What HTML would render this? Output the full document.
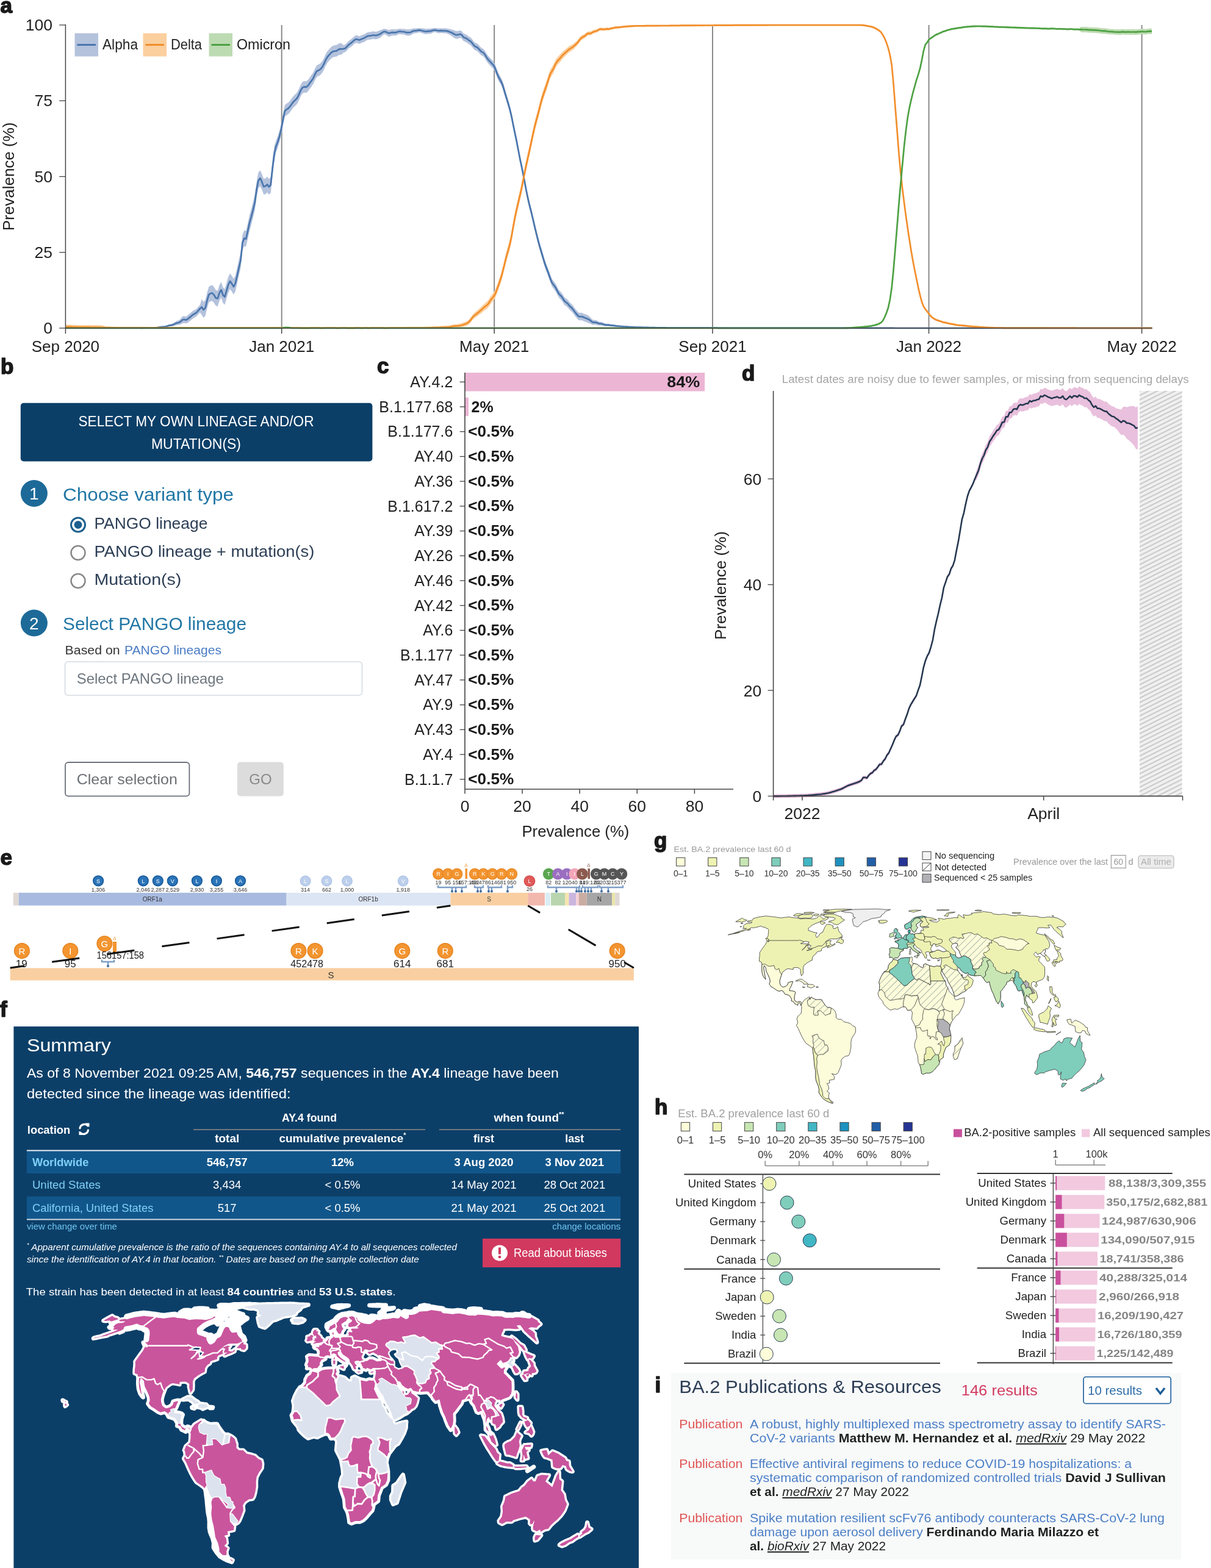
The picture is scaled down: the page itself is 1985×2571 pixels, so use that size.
<!DOCTYPE html>
<html><head><meta charset="utf-8"><title>Figure</title>
<style>
html,body{margin:0;padding:0;background:#fff;}
body{width:1985px;height:2571px;overflow:hidden;}
svg{display:block;}
text{font-family:"Liberation Sans", "DejaVu Sans", sans-serif;}
</style></head>
<body>
<svg width="1985" height="2571" viewBox="0 0 1985 2571">
<rect width="1985" height="2571" fill="#fff"/>
<line x1="461.7" y1="41.0" x2="461.7" y2="538.0" stroke="#8a8a8a" stroke-width="2" />
<line x1="810.2" y1="41.0" x2="810.2" y2="538.0" stroke="#8a8a8a" stroke-width="2" />
<line x1="1168.0" y1="41.0" x2="1168.0" y2="538.0" stroke="#8a8a8a" stroke-width="2" />
<line x1="1522.5" y1="41.0" x2="1522.5" y2="538.0" stroke="#8a8a8a" stroke-width="2" />
<line x1="1871.6" y1="41.0" x2="1871.6" y2="538.0" stroke="#8a8a8a" stroke-width="2" />
<path d="M107.4,536.3 L110.3,536.4 L113.2,536.4 L116.1,536.4 L119.0,536.4 L121.9,536.4 L124.8,536.5 L127.7,536.5 L130.6,536.4 L133.5,536.3 L136.4,536.4 L139.3,536.5 L142.2,536.5 L145.1,536.5 L148.0,536.5 L150.9,536.5 L153.8,536.5 L156.7,536.5 L159.6,536.5 L162.5,536.5 L165.4,536.5 L168.3,536.5 L171.2,536.5 L174.1,536.6 L177.0,536.6 L179.9,536.6 L182.8,536.6 L185.7,536.6 L188.6,536.6 L191.5,536.6 L194.4,536.7 L197.3,536.7 L200.2,536.7 L203.1,536.7 L206.0,536.7 L208.9,536.7 L211.8,536.8 L214.7,536.8 L217.6,536.8 L220.5,536.8 L223.4,536.8 L226.3,536.8 L229.2,536.8 L232.1,536.8 L235.0,536.8 L237.9,536.8 L240.8,536.8 L243.7,536.8 L246.6,536.8 L249.5,536.8 L252.4,536.7 L255.3,536.5 L258.2,536.1 L261.1,535.6 L264.0,535.3 L266.9,534.9 L269.8,534.4 L272.7,533.9 L275.6,532.6 L278.5,531.5 L281.4,531.0 L284.3,529.7 L287.2,527.7 L290.1,525.9 L293.0,525.3 L295.9,523.1 L298.8,519.0 L301.7,517.9 L304.6,519.2 L307.5,517.2 L310.4,514.6 L313.3,512.3 L316.2,509.7 L319.1,508.3 L322.0,506.4 L324.9,503.2 L327.8,499.8 L330.7,490.6 L333.6,495.0 L336.5,492.1 L339.4,480.1 L342.3,470.2 L345.2,468.3 L348.1,467.6 L351.0,471.1 L353.9,475.7 L356.8,476.5 L359.7,467.2 L362.6,462.4 L365.5,470.9 L368.4,473.9 L371.3,464.0 L374.2,454.1 L377.1,448.2 L380.0,452.2 L382.9,457.2 L385.8,451.9 L388.7,439.1 L391.6,426.2 L394.5,413.6 L397.4,385.4 L400.3,377.6 L403.2,378.8 L406.1,366.2 L409.0,352.6 L411.9,342.4 L414.8,331.2 L417.7,319.1 L420.6,297.9 L423.5,283.1 L426.4,279.3 L429.3,285.3 L432.2,293.0 L435.1,292.5 L438.0,289.6 L440.9,293.5 L443.8,290.1 L446.7,262.5 L449.6,239.6 L452.5,230.3 L455.4,223.1 L458.3,213.5 L461.2,201.4 L464.1,185.2 L467.0,172.3 L469.9,169.8 L472.8,168.0 L475.7,164.7 L478.6,160.4 L481.5,156.9 L484.4,154.3 L487.3,151.0 L490.2,145.2 L493.1,138.5 L496.0,134.0 L498.9,132.9 L501.8,133.3 L504.7,131.2 L507.6,126.9 L510.5,123.1 L513.4,119.0 L516.3,112.5 L519.2,107.3 L522.1,105.8 L525.0,104.1 L527.9,100.8 L530.8,95.8 L533.7,89.1 L536.6,84.1 L539.5,80.7 L542.4,77.5 L545.3,75.2 L548.2,74.3 L551.1,74.1 L554.0,72.3 L556.9,70.8 L559.8,70.8 L562.7,73.9 L565.6,73.2 L568.5,70.6 L571.4,67.2 L574.3,65.2 L577.2,62.8 L580.1,60.2 L583.0,58.1 L585.9,58.2 L588.8,59.5 L591.7,58.3 L594.6,57.0 L597.5,56.0 L600.4,54.0 L603.3,52.7 L606.2,52.5 L609.1,52.1 L612.0,51.3 L614.9,51.9 L617.8,51.7 L620.7,50.6 L623.6,49.5 L626.5,48.2 L629.4,47.3 L632.3,47.4 L635.2,48.4 L638.1,48.9 L641.0,48.3 L643.9,48.1 L646.8,48.2 L649.7,48.0 L652.6,47.4 L655.5,47.1 L658.4,47.4 L661.3,47.4 L664.2,47.8 L667.1,48.3 L670.0,48.2 L672.9,48.0 L675.8,47.1 L678.7,46.5 L681.6,46.5 L684.5,46.2 L687.4,45.9 L690.3,46.3 L693.2,46.6 L696.1,47.1 L699.0,47.2 L701.9,46.9 L704.8,46.9 L707.7,46.5 L710.6,46.0 L713.5,45.8 L716.4,46.2 L719.3,46.5 L722.2,46.4 L725.1,46.4 L728.0,46.5 L730.9,46.6 L733.8,46.9 L736.7,47.5 L739.6,48.2 L742.5,49.1 L745.4,50.3 L748.3,51.0 L751.2,50.8 L754.1,49.7 L757.0,51.2 L759.9,55.0 L762.8,56.1 L765.7,57.6 L768.6,60.0 L771.5,61.6 L774.4,65.0 L777.3,68.9 L780.2,70.5 L783.1,72.0 L786.0,75.2 L788.9,78.4 L791.8,79.9 L794.7,82.9 L797.6,88.1 L800.5,91.9 L803.4,95.0 L806.3,98.0 L809.2,101.0 L812.1,107.1 L815.0,115.0 L817.9,121.6 L820.8,126.3 L823.7,132.4 L826.6,142.3 L829.5,152.2 L832.4,161.4 L835.3,171.5 L838.2,183.3 L841.1,198.0 L844.0,212.1 L846.9,225.7 L849.8,241.2 L852.7,256.2 L855.6,269.6 L858.5,284.1 L861.4,299.7 L864.3,314.4 L867.2,327.4 L870.1,338.6 L873.0,350.6 L875.9,363.2 L878.8,375.2 L881.7,386.9 L884.6,397.7 L887.5,407.3 L890.4,417.1 L893.3,426.8 L896.2,434.5 L899.1,442.0 L902.0,450.4 L904.9,457.5 L907.8,461.3 L910.7,465.2 L913.6,471.1 L916.5,476.1 L919.4,478.8 L922.3,482.5 L925.2,487.4 L928.1,489.6 L931.0,492.0 L933.9,495.9 L936.8,498.2 L939.7,501.7 L942.6,505.9 L945.5,509.3 L948.4,512.6 L951.3,512.9 L954.2,512.7 L957.1,514.4 L960.0,515.3 L962.9,516.5 L965.8,518.4 L968.7,521.4 L971.6,524.5 L974.5,524.7 L977.4,524.9 L980.3,526.7 L983.2,527.7 L986.1,527.9 L989.0,529.2 L991.9,530.6 L994.8,530.7 L997.7,530.7 L1000.6,531.4 L1003.5,531.8 L1006.4,532.2 L1009.3,532.7 L1012.2,533.2 L1015.1,533.6 L1018.0,533.9 L1020.9,534.1 L1023.8,534.5 L1026.7,534.8 L1029.6,535.0 L1032.5,535.1 L1035.4,535.3 L1038.3,535.4 L1041.2,535.5 L1044.1,535.6 L1047.0,535.7 L1049.9,535.8 L1052.8,535.8 L1055.7,535.9 L1058.6,536.0 L1061.5,536.0 L1064.4,536.1 L1067.3,536.2 L1070.2,536.2 L1073.1,536.3 L1076.0,536.3 L1078.9,536.4 L1081.8,536.4 L1084.7,536.5 L1087.6,536.5 L1090.5,536.5 L1093.4,536.5 L1096.3,536.6 L1099.2,536.6 L1102.1,536.6 L1105.0,536.6 L1107.9,536.6 L1110.8,536.6 L1113.7,536.6 L1116.6,536.6 L1119.5,536.6 L1122.4,536.7 L1125.3,536.7 L1128.2,536.7 L1131.1,536.7 L1134.0,536.7 L1136.9,536.7 L1139.8,536.7 L1142.7,536.7 L1145.6,536.7 L1148.5,536.7 L1151.4,536.7 L1154.3,536.8 L1157.2,536.8 L1160.1,536.8 L1163.0,536.8 L1165.9,536.8 L1168.8,536.8 L1171.7,536.8 L1174.6,536.8 L1177.5,536.8 L1180.4,536.8 L1183.3,536.8 L1186.2,536.8 L1189.1,536.8 L1192.0,536.8 L1194.9,536.9 L1197.8,536.9 L1200.7,536.9 L1203.6,536.9 L1206.5,536.9 L1209.4,536.9 L1212.3,536.9 L1215.2,536.9 L1218.1,536.9 L1221.0,536.9 L1223.9,536.9 L1226.8,536.9 L1229.7,536.9 L1232.6,536.9 L1235.5,536.9 L1238.4,536.9 L1241.3,536.9 L1244.2,536.9 L1247.1,536.9 L1250.0,536.9 L1252.9,536.9 L1255.8,536.9 L1258.7,536.9 L1261.6,536.9 L1264.5,536.9 L1267.4,537.0 L1270.3,537.0 L1273.2,537.0 L1276.1,537.0 L1279.0,537.0 L1281.9,537.0 L1284.8,537.0 L1287.7,537.0 L1290.6,537.0 L1293.5,537.0 L1296.4,537.0 L1299.3,537.0 L1302.2,537.0 L1305.1,537.0 L1308.0,537.0 L1310.9,537.0 L1313.8,537.0 L1316.7,537.0 L1319.6,537.0 L1322.5,537.0 L1325.4,537.0 L1328.3,537.0 L1331.2,537.0 L1334.1,537.0 L1337.0,537.0 L1339.9,537.0 L1342.8,537.0 L1345.7,537.0 L1348.6,537.0 L1351.5,537.0 L1354.4,537.0 L1357.3,537.0 L1360.2,537.0 L1363.1,537.0 L1366.0,537.0 L1368.9,537.0 L1371.8,537.0 L1374.7,537.0 L1377.6,537.0 L1380.5,537.0 L1383.4,537.0 L1386.3,537.0 L1389.2,537.0 L1392.1,537.0 L1395.0,537.0 L1397.9,537.0 L1400.8,537.0 L1403.7,537.0 L1406.6,537.0 L1409.5,537.0 L1412.4,537.0 L1415.3,537.0 L1418.2,537.0 L1421.1,537.0 L1424.0,537.0 L1426.9,537.0 L1429.8,537.0 L1432.7,537.0 L1435.6,537.0 L1438.5,537.0 L1441.4,537.0 L1444.3,537.0 L1447.2,537.0 L1450.1,537.0 L1453.0,537.0 L1455.9,537.0 L1458.8,537.0 L1461.7,537.0 L1464.6,537.0 L1467.5,537.0 L1470.4,537.0 L1473.3,537.0 L1476.2,537.0 L1479.1,537.0 L1482.0,537.0 L1484.9,537.0 L1487.8,537.0 L1490.7,537.0 L1493.6,537.0 L1496.5,537.0 L1499.4,537.0 L1502.3,537.0 L1505.2,537.0 L1508.1,537.0 L1511.0,537.0 L1513.9,537.0 L1516.8,537.0 L1519.7,537.0 L1522.6,537.0 L1525.5,537.0 L1528.4,537.0 L1531.3,537.0 L1534.2,537.0 L1537.1,537.0 L1540.0,537.0 L1542.9,537.0 L1545.8,537.0 L1548.7,537.0 L1551.6,537.0 L1554.5,537.0 L1557.4,537.0 L1560.3,537.0 L1563.2,537.0 L1566.1,537.0 L1569.0,537.0 L1571.9,537.0 L1574.8,537.0 L1577.7,537.0 L1580.6,537.0 L1583.5,537.0 L1586.4,537.0 L1589.3,537.0 L1592.2,537.0 L1595.1,537.0 L1598.0,537.0 L1600.9,537.0 L1603.8,537.0 L1606.7,537.0 L1609.6,537.0 L1612.5,537.0 L1615.4,537.0 L1618.3,537.0 L1621.2,537.0 L1624.1,537.0 L1627.0,537.1 L1629.9,537.1 L1632.8,537.1 L1635.7,537.1 L1638.6,537.1 L1641.5,537.1 L1644.4,537.1 L1647.3,537.1 L1650.2,537.1 L1653.1,537.1 L1656.0,537.1 L1658.9,537.1 L1661.8,537.1 L1664.7,537.1 L1667.6,537.1 L1670.5,537.1 L1673.4,537.1 L1676.3,537.1 L1679.2,537.1 L1682.1,537.1 L1685.0,537.1 L1687.9,537.1 L1690.8,537.1 L1693.7,537.1 L1696.6,537.1 L1699.5,537.1 L1702.4,537.1 L1705.3,537.1 L1708.2,537.1 L1711.1,537.1 L1714.0,537.1 L1716.9,537.1 L1719.8,537.1 L1722.7,537.1 L1725.6,537.1 L1728.5,537.1 L1731.4,537.1 L1734.3,537.1 L1737.2,537.1 L1740.1,537.1 L1743.0,537.1 L1745.9,537.1 L1748.8,537.1 L1751.7,537.1 L1754.6,537.1 L1757.5,537.1 L1760.4,537.1 L1763.3,537.1 L1766.2,537.1 L1769.1,537.1 L1772.0,537.1 L1774.9,537.1 L1777.8,537.1 L1780.7,537.1 L1783.6,537.1 L1786.5,537.1 L1789.4,537.1 L1792.3,537.1 L1795.2,537.1 L1798.1,537.1 L1801.0,537.1 L1803.9,537.1 L1806.8,537.1 L1809.7,537.1 L1812.6,537.1 L1815.5,537.1 L1818.4,537.1 L1821.3,537.1 L1824.2,537.1 L1827.1,537.1 L1830.0,537.1 L1832.9,537.1 L1835.8,537.1 L1838.7,537.1 L1841.6,537.1 L1844.5,537.1 L1847.4,537.1 L1850.3,537.1 L1853.2,537.1 L1856.1,537.1 L1859.0,537.1 L1861.9,537.1 L1864.8,537.1 L1867.7,537.1 L1870.6,537.1 L1873.5,537.1 L1876.4,537.1 L1879.3,537.1 L1882.2,537.1 L1885.1,537.1 L1888.0,537.1 L1888.0,538.0 L1885.1,538.0 L1882.2,538.0 L1879.3,538.0 L1876.4,538.0 L1873.5,538.0 L1870.6,538.0 L1867.7,538.0 L1864.8,538.0 L1861.9,538.0 L1859.0,538.0 L1856.1,538.0 L1853.2,538.0 L1850.3,538.0 L1847.4,538.0 L1844.5,538.0 L1841.6,538.0 L1838.7,538.0 L1835.8,538.0 L1832.9,538.0 L1830.0,538.0 L1827.1,538.0 L1824.2,538.0 L1821.3,538.0 L1818.4,538.0 L1815.5,538.0 L1812.6,538.0 L1809.7,538.0 L1806.8,538.0 L1803.9,538.0 L1801.0,538.0 L1798.1,538.0 L1795.2,538.0 L1792.3,538.0 L1789.4,538.0 L1786.5,538.0 L1783.6,538.0 L1780.7,538.0 L1777.8,538.0 L1774.9,538.0 L1772.0,538.0 L1769.1,538.0 L1766.2,538.0 L1763.3,538.0 L1760.4,538.0 L1757.5,538.0 L1754.6,538.0 L1751.7,538.0 L1748.8,538.0 L1745.9,538.0 L1743.0,538.0 L1740.1,538.0 L1737.2,538.0 L1734.3,538.0 L1731.4,538.0 L1728.5,538.0 L1725.6,538.0 L1722.7,538.0 L1719.8,538.0 L1716.9,538.0 L1714.0,538.0 L1711.1,538.0 L1708.2,538.0 L1705.3,538.0 L1702.4,538.0 L1699.5,538.0 L1696.6,538.0 L1693.7,538.0 L1690.8,538.0 L1687.9,538.0 L1685.0,538.0 L1682.1,538.0 L1679.2,538.0 L1676.3,538.0 L1673.4,538.0 L1670.5,538.0 L1667.6,538.0 L1664.7,538.0 L1661.8,538.0 L1658.9,538.0 L1656.0,538.0 L1653.1,538.0 L1650.2,538.0 L1647.3,538.0 L1644.4,538.0 L1641.5,538.0 L1638.6,538.0 L1635.7,538.0 L1632.8,538.0 L1629.9,538.0 L1627.0,538.0 L1624.1,538.0 L1621.2,538.0 L1618.3,538.0 L1615.4,538.0 L1612.5,538.0 L1609.6,538.0 L1606.7,538.0 L1603.8,538.0 L1600.9,538.0 L1598.0,538.0 L1595.1,538.0 L1592.2,538.0 L1589.3,538.0 L1586.4,538.0 L1583.5,538.0 L1580.6,538.0 L1577.7,538.0 L1574.8,538.0 L1571.9,538.0 L1569.0,538.0 L1566.1,538.0 L1563.2,538.0 L1560.3,538.0 L1557.4,538.0 L1554.5,538.0 L1551.6,538.0 L1548.7,538.0 L1545.8,538.0 L1542.9,538.0 L1540.0,538.0 L1537.1,538.0 L1534.2,538.0 L1531.3,538.0 L1528.4,538.0 L1525.5,538.0 L1522.6,538.0 L1519.7,538.0 L1516.8,538.0 L1513.9,538.0 L1511.0,538.0 L1508.1,538.0 L1505.2,538.0 L1502.3,538.0 L1499.4,538.0 L1496.5,538.0 L1493.6,538.0 L1490.7,538.0 L1487.8,538.0 L1484.9,538.0 L1482.0,538.0 L1479.1,538.0 L1476.2,538.0 L1473.3,538.0 L1470.4,538.0 L1467.5,538.0 L1464.6,538.0 L1461.7,538.0 L1458.8,538.0 L1455.9,538.0 L1453.0,538.0 L1450.1,538.0 L1447.2,538.0 L1444.3,538.0 L1441.4,538.0 L1438.5,538.0 L1435.6,538.0 L1432.7,538.0 L1429.8,538.0 L1426.9,538.0 L1424.0,538.0 L1421.1,538.0 L1418.2,538.0 L1415.3,538.0 L1412.4,538.0 L1409.5,538.0 L1406.6,538.0 L1403.7,538.0 L1400.8,538.0 L1397.9,538.0 L1395.0,538.0 L1392.1,538.0 L1389.2,538.0 L1386.3,538.0 L1383.4,538.0 L1380.5,538.0 L1377.6,538.0 L1374.7,538.0 L1371.8,538.0 L1368.9,538.0 L1366.0,538.0 L1363.1,538.0 L1360.2,538.0 L1357.3,538.0 L1354.4,538.0 L1351.5,538.0 L1348.6,538.0 L1345.7,538.0 L1342.8,538.0 L1339.9,538.0 L1337.0,538.0 L1334.1,538.0 L1331.2,538.0 L1328.3,538.0 L1325.4,538.0 L1322.5,538.0 L1319.6,538.0 L1316.7,538.0 L1313.8,538.0 L1310.9,538.0 L1308.0,538.0 L1305.1,538.0 L1302.2,538.0 L1299.3,538.0 L1296.4,538.0 L1293.5,538.0 L1290.6,538.0 L1287.7,538.0 L1284.8,538.0 L1281.9,538.0 L1279.0,538.0 L1276.1,538.0 L1273.2,538.0 L1270.3,538.0 L1267.4,538.0 L1264.5,538.0 L1261.6,538.0 L1258.7,538.0 L1255.8,538.0 L1252.9,538.0 L1250.0,538.0 L1247.1,538.0 L1244.2,538.0 L1241.3,538.0 L1238.4,538.0 L1235.5,538.0 L1232.6,538.0 L1229.7,538.0 L1226.8,538.0 L1223.9,538.0 L1221.0,538.0 L1218.1,538.0 L1215.2,538.0 L1212.3,538.0 L1209.4,538.0 L1206.5,538.0 L1203.6,538.0 L1200.7,538.0 L1197.8,538.0 L1194.9,538.0 L1192.0,538.0 L1189.1,538.0 L1186.2,538.0 L1183.3,538.0 L1180.4,538.0 L1177.5,538.0 L1174.6,538.0 L1171.7,538.0 L1168.8,538.0 L1165.9,538.0 L1163.0,538.0 L1160.1,538.0 L1157.2,538.0 L1154.3,538.0 L1151.4,538.0 L1148.5,538.0 L1145.6,538.0 L1142.7,538.0 L1139.8,538.0 L1136.9,538.0 L1134.0,538.0 L1131.1,538.0 L1128.2,538.0 L1125.3,538.0 L1122.4,538.0 L1119.5,538.0 L1116.6,538.0 L1113.7,538.0 L1110.8,538.0 L1107.9,538.0 L1105.0,538.0 L1102.1,538.0 L1099.2,538.0 L1096.3,538.0 L1093.4,538.0 L1090.5,538.0 L1087.6,538.0 L1084.7,538.0 L1081.8,538.0 L1078.9,538.0 L1076.0,538.0 L1073.1,538.0 L1070.2,538.0 L1067.3,538.0 L1064.4,537.9 L1061.5,537.9 L1058.6,537.8 L1055.7,537.8 L1052.8,537.7 L1049.9,537.6 L1047.0,537.6 L1044.1,537.5 L1041.2,537.4 L1038.3,537.3 L1035.4,537.1 L1032.5,537.0 L1029.6,536.8 L1026.7,536.7 L1023.8,536.5 L1020.9,536.4 L1018.0,536.3 L1015.1,536.2 L1012.2,536.0 L1009.3,535.8 L1006.4,535.6 L1003.5,535.5 L1000.6,535.3 L997.7,535.0 L994.8,535.0 L991.9,534.9 L989.0,534.4 L986.1,533.8 L983.2,533.8 L980.3,533.4 L977.4,532.6 L974.5,532.5 L971.6,532.4 L968.7,531.2 L965.8,529.9 L962.9,529.0 L960.0,527.7 L957.1,526.8 L954.2,525.2 L951.3,525.3 L948.4,525.0 L945.5,521.7 L942.6,518.3 L939.7,514.1 L936.8,510.6 L933.9,508.3 L931.0,504.4 L928.1,502.0 L925.2,499.9 L922.3,494.9 L919.4,491.2 L916.5,488.5 L913.6,483.5 L910.7,477.6 L907.8,473.7 L904.9,469.9 L902.0,462.9 L899.1,454.4 L896.2,446.9 L893.3,439.2 L890.4,429.5 L887.5,419.7 L884.6,410.1 L881.7,399.3 L878.8,387.7 L875.9,375.6 L873.0,363.0 L870.1,351.0 L867.2,339.8 L864.3,326.8 L861.4,312.1 L858.5,296.6 L855.6,282.0 L852.7,268.6 L849.8,253.6 L846.9,238.1 L844.0,224.5 L841.1,210.4 L838.2,195.8 L835.3,183.9 L832.4,173.8 L829.5,164.6 L826.6,154.7 L823.7,144.9 L820.8,138.8 L817.9,134.0 L815.0,127.5 L812.1,119.5 L809.2,113.4 L806.3,110.5 L803.4,107.4 L800.5,104.3 L797.6,100.5 L794.7,95.3 L791.8,92.3 L788.9,90.8 L786.0,87.7 L783.1,84.5 L780.2,82.9 L777.3,81.3 L774.4,77.5 L771.5,74.0 L768.6,72.4 L765.7,70.0 L762.8,68.5 L759.9,67.4 L757.0,63.6 L754.1,62.1 L751.2,63.2 L748.3,63.4 L745.4,62.8 L742.5,60.6 L739.6,58.4 L736.7,56.8 L733.8,55.4 L730.9,54.6 L728.0,54.4 L725.1,54.2 L722.2,54.0 L719.3,54.4 L716.4,53.7 L713.5,52.8 L710.6,53.1 L707.7,54.4 L704.8,55.4 L701.9,55.4 L699.0,56.1 L696.1,55.8 L693.2,54.7 L690.3,53.8 L687.4,52.9 L684.5,53.7 L681.6,54.4 L678.7,54.4 L675.8,55.9 L672.9,58.0 L670.0,58.6 L667.1,58.6 L664.2,57.6 L661.3,56.6 L658.4,56.5 L655.5,55.9 L652.6,56.6 L649.7,58.1 L646.8,58.6 L643.9,58.2 L641.0,58.8 L638.1,60.2 L635.2,58.9 L632.3,56.7 L629.4,56.4 L626.5,58.4 L623.6,61.7 L620.7,63.0 L617.8,64.1 L614.9,64.4 L612.0,63.7 L609.1,64.5 L606.2,64.9 L603.3,65.1 L600.4,66.4 L597.5,68.4 L594.6,69.5 L591.7,70.7 L588.8,71.9 L585.9,70.7 L583.0,70.5 L580.1,72.6 L577.2,75.2 L574.3,77.6 L571.4,79.6 L568.5,83.0 L565.6,85.6 L562.7,86.4 L559.8,89.7 L556.9,89.7 L554.0,91.2 L551.1,93.0 L548.2,93.2 L545.3,94.0 L542.4,96.4 L539.5,99.6 L536.6,103.0 L533.7,108.0 L530.8,114.7 L527.9,119.7 L525.0,123.0 L522.1,124.7 L519.2,126.2 L516.3,131.4 L513.4,137.8 L510.5,142.0 L507.6,145.8 L504.7,150.1 L501.8,152.2 L498.9,151.8 L496.0,152.9 L493.1,157.4 L490.2,164.1 L487.3,169.9 L484.4,173.2 L481.5,175.8 L478.6,179.3 L475.7,183.5 L472.8,186.9 L469.9,188.7 L467.0,191.2 L464.1,204.1 L461.2,220.2 L458.3,232.4 L455.4,241.9 L452.5,249.2 L449.6,265.4 L446.7,288.3 L443.8,315.9 L440.9,319.3 L438.0,315.4 L435.1,318.4 L432.2,318.8 L429.3,311.2 L426.4,305.1 L423.5,309.0 L420.6,323.7 L417.7,345.0 L414.8,357.0 L411.9,368.3 L409.0,378.4 L406.1,392.0 L403.2,404.7 L400.3,403.5 L397.4,411.2 L394.5,439.4 L391.6,452.0 L388.7,464.9 L385.8,477.7 L382.9,483.1 L380.0,478.0 L377.1,474.0 L374.2,479.9 L371.3,489.8 L368.4,499.7 L365.5,496.7 L362.6,488.2 L359.7,493.0 L356.8,502.3 L353.9,501.6 L351.0,496.9 L348.1,493.4 L345.2,494.1 L342.3,496.0 L339.4,505.9 L336.5,518.0 L333.6,520.9 L330.7,516.5 L327.8,512.2 L324.9,515.6 L322.0,518.8 L319.1,520.8 L316.2,522.2 L313.3,524.8 L310.4,527.1 L307.5,529.4 L304.6,530.3 L301.7,529.7 L298.8,530.2 L295.9,531.9 L293.0,532.8 L290.1,533.0 L287.2,533.7 L284.3,534.6 L281.4,535.1 L278.5,535.3 L275.6,535.8 L272.7,536.3 L269.8,536.5 L266.9,536.7 L264.0,537.1 L261.1,537.5 L258.2,538.0 L255.3,538.0 L252.4,538.0 L249.5,538.0 L246.6,538.0 L243.7,538.0 L240.8,538.0 L237.9,538.0 L235.0,538.0 L232.1,538.0 L229.2,538.0 L226.3,538.0 L223.4,538.0 L220.5,538.0 L217.6,538.0 L214.7,538.0 L211.8,538.0 L208.9,538.0 L206.0,538.0 L203.1,538.0 L200.2,538.0 L197.3,538.0 L194.4,538.0 L191.5,538.0 L188.6,538.0 L185.7,538.0 L182.8,538.0 L179.9,538.0 L177.0,538.0 L174.1,538.0 L171.2,538.0 L168.3,538.0 L165.4,538.0 L162.5,538.0 L159.6,538.0 L156.7,538.0 L153.8,538.0 L150.9,538.0 L148.0,538.0 L145.1,538.0 L142.2,538.0 L139.3,538.0 L136.4,538.0 L133.5,538.0 L130.6,538.0 L127.7,538.0 L124.8,538.0 L121.9,538.0 L119.0,538.0 L116.1,538.0 L113.2,538.0 L110.3,538.0 L107.4,538.0Z" fill="#b4c2dc"/>
<path d="M107.4,532.5 L110.3,532.4 L113.2,532.3 L116.1,532.4 L119.0,532.7 L121.9,532.7 L124.8,532.7 L127.7,532.9 L130.6,533.0 L133.5,532.9 L136.4,532.9 L139.3,532.9 L142.2,532.9 L145.1,532.9 L148.0,533.0 L150.9,533.1 L153.8,533.0 L156.7,533.0 L159.6,533.1 L162.5,533.2 L165.4,533.3 L168.3,533.4 L171.2,535.2 L174.1,535.3 L177.0,535.4 L179.9,535.5 L182.8,535.6 L185.7,535.6 L188.6,535.7 L191.5,535.7 L194.4,535.7 L197.3,535.8 L200.2,535.8 L203.1,535.8 L206.0,535.8 L208.9,535.8 L211.8,535.8 L214.7,535.8 L217.6,535.8 L220.5,535.8 L223.4,535.8 L226.3,535.8 L229.2,535.8 L232.1,535.8 L235.0,535.8 L237.9,535.8 L240.8,535.9 L243.7,535.9 L246.6,535.9 L249.5,535.9 L252.4,535.9 L255.3,535.8 L258.2,535.8 L261.1,535.8 L264.0,535.9 L266.9,535.9 L269.8,535.9 L272.7,535.9 L275.6,535.9 L278.5,535.8 L281.4,535.8 L284.3,535.8 L287.2,535.8 L290.1,535.9 L293.0,535.9 L295.9,535.8 L298.8,535.9 L301.7,535.9 L304.6,535.9 L307.5,535.9 L310.4,535.9 L313.3,535.9 L316.2,535.9 L319.1,535.9 L322.0,535.9 L324.9,535.9 L327.8,535.9 L330.7,535.9 L333.6,535.9 L336.5,535.9 L339.4,535.9 L342.3,535.9 L345.2,535.9 L348.1,535.9 L351.0,536.0 L353.9,536.0 L356.8,535.9 L359.7,535.9 L362.6,535.9 L365.5,535.9 L368.4,536.0 L371.3,536.0 L374.2,536.0 L377.1,536.0 L380.0,536.0 L382.9,536.0 L385.8,536.0 L388.7,536.0 L391.6,536.0 L394.5,536.0 L397.4,536.0 L400.3,536.0 L403.2,536.0 L406.1,535.9 L409.0,536.0 L411.9,536.0 L414.8,536.0 L417.7,536.0 L420.6,536.0 L423.5,536.0 L426.4,536.0 L429.3,536.0 L432.2,536.0 L435.1,536.0 L438.0,536.0 L440.9,536.0 L443.8,536.0 L446.7,536.0 L449.6,536.0 L452.5,536.0 L455.4,536.0 L458.3,536.0 L461.2,536.0 L464.1,536.0 L467.0,536.0 L469.9,536.0 L472.8,536.0 L475.7,536.0 L478.6,536.0 L481.5,536.0 L484.4,536.0 L487.3,536.0 L490.2,536.0 L493.1,536.0 L496.0,536.0 L498.9,536.0 L501.8,536.0 L504.7,536.0 L507.6,536.0 L510.5,536.0 L513.4,536.0 L516.3,536.0 L519.2,536.0 L522.1,536.0 L525.0,536.0 L527.9,536.0 L530.8,536.0 L533.7,536.0 L536.6,536.0 L539.5,536.0 L542.4,536.0 L545.3,536.0 L548.2,536.0 L551.1,536.0 L554.0,536.0 L556.9,536.0 L559.8,536.0 L562.7,536.0 L565.6,536.0 L568.5,536.0 L571.4,536.0 L574.3,536.0 L577.2,536.0 L580.1,536.0 L583.0,536.0 L585.9,536.0 L588.8,536.0 L591.7,536.0 L594.6,536.0 L597.5,536.0 L600.4,536.0 L603.3,536.0 L606.2,536.0 L609.1,536.0 L612.0,536.0 L614.9,536.0 L617.8,536.0 L620.7,536.0 L623.6,536.0 L626.5,536.0 L629.4,536.0 L632.3,536.0 L635.2,536.0 L638.1,536.0 L641.0,536.0 L643.9,535.9 L646.8,535.9 L649.7,535.9 L652.6,535.9 L655.5,535.9 L658.4,535.9 L661.3,535.9 L664.2,535.9 L667.1,535.8 L670.0,535.8 L672.9,535.8 L675.8,535.8 L678.7,535.8 L681.6,535.8 L684.5,535.8 L687.4,535.7 L690.3,535.7 L693.2,535.7 L696.1,535.6 L699.0,535.5 L701.9,535.5 L704.8,535.4 L707.7,535.3 L710.6,535.2 L713.5,535.0 L716.4,534.9 L719.3,534.8 L722.2,534.5 L725.1,534.4 L728.0,534.3 L730.9,534.1 L733.8,533.8 L736.7,533.4 L739.6,532.9 L742.5,532.2 L745.4,531.8 L748.3,531.7 L751.2,531.2 L754.1,530.5 L757.0,529.8 L759.9,528.7 L762.8,527.6 L765.7,526.3 L768.6,524.0 L771.5,520.5 L774.4,516.4 L777.3,513.1 L780.2,510.8 L783.1,508.3 L786.0,505.8 L788.9,503.1 L791.8,500.2 L794.7,497.2 L797.6,495.1 L800.5,492.0 L803.4,487.0 L806.3,482.9 L809.2,479.6 L812.1,474.2 L815.0,466.3 L817.9,458.3 L820.8,449.5 L823.7,439.0 L826.6,427.1 L829.5,414.8 L832.4,404.3 L835.3,394.3 L838.2,380.9 L841.1,364.1 L844.0,348.3 L846.9,334.9 L849.8,322.0 L852.7,310.1 L855.6,297.1 L858.5,282.1 L861.4,267.4 L864.3,254.1 L867.2,241.3 L870.1,228.0 L873.0,214.3 L875.9,201.3 L878.8,189.9 L881.7,179.7 L884.6,168.4 L887.5,157.0 L890.4,147.7 L893.3,139.7 L896.2,131.5 L899.1,122.2 L902.0,114.2 L904.9,109.5 L907.8,104.5 L910.7,98.1 L913.6,93.8 L916.5,91.1 L919.4,87.8 L922.3,84.5 L925.2,82.1 L928.1,79.8 L931.0,77.2 L933.9,75.1 L936.8,73.6 L939.7,72.0 L942.6,69.2 L945.5,66.9 L948.4,63.7 L951.3,59.7 L954.2,57.6 L957.1,56.2 L960.0,54.3 L962.9,51.9 L965.8,51.5 L968.7,51.6 L971.6,49.7 L974.5,48.5 L977.4,48.2 L980.3,46.8 L983.2,45.3 L986.1,45.3 L989.0,45.7 L991.9,45.4 L994.8,45.1 L997.7,45.6 L1000.6,44.7 L1003.5,44.2 L1006.4,43.6 L1009.3,43.1 L1012.2,42.9 L1015.1,42.7 L1018.0,42.4 L1020.9,42.1 L1023.8,41.8 L1026.7,41.6 L1029.6,41.3 L1032.5,41.1 L1035.4,41.0 L1038.3,41.0 L1041.2,41.0 L1044.1,41.0 L1047.0,41.0 L1049.9,41.0 L1052.8,41.0 L1055.7,41.0 L1058.6,41.0 L1061.5,41.0 L1064.4,41.0 L1067.3,41.0 L1070.2,41.0 L1073.1,41.0 L1076.0,41.0 L1078.9,41.0 L1081.8,41.0 L1084.7,41.0 L1087.6,41.0 L1090.5,41.0 L1093.4,41.0 L1096.3,41.0 L1099.2,41.0 L1102.1,41.0 L1105.0,41.0 L1107.9,41.0 L1110.8,41.0 L1113.7,41.0 L1116.6,41.0 L1119.5,41.0 L1122.4,41.0 L1125.3,41.0 L1128.2,41.0 L1131.1,41.0 L1134.0,41.0 L1136.9,41.0 L1139.8,41.0 L1142.7,41.0 L1145.6,41.0 L1148.5,41.0 L1151.4,41.0 L1154.3,41.0 L1157.2,41.0 L1160.1,41.0 L1163.0,41.0 L1165.9,41.0 L1168.8,41.0 L1171.7,41.0 L1174.6,41.0 L1177.5,41.0 L1180.4,41.0 L1183.3,41.0 L1186.2,41.0 L1189.1,41.0 L1192.0,41.0 L1194.9,41.0 L1197.8,41.0 L1200.7,41.0 L1203.6,41.0 L1206.5,41.0 L1209.4,41.0 L1212.3,41.0 L1215.2,41.0 L1218.1,41.0 L1221.0,41.0 L1223.9,41.0 L1226.8,41.0 L1229.7,41.0 L1232.6,41.0 L1235.5,41.0 L1238.4,41.0 L1241.3,41.0 L1244.2,41.0 L1247.1,41.0 L1250.0,41.0 L1252.9,41.0 L1255.8,41.0 L1258.7,41.0 L1261.6,41.0 L1264.5,41.0 L1267.4,41.0 L1270.3,41.0 L1273.2,41.0 L1276.1,41.0 L1279.0,41.0 L1281.9,41.0 L1284.8,41.0 L1287.7,41.0 L1290.6,41.0 L1293.5,41.0 L1296.4,41.0 L1299.3,41.0 L1302.2,41.0 L1305.1,41.0 L1308.0,41.0 L1310.9,41.0 L1313.8,41.0 L1316.7,41.0 L1319.6,41.0 L1322.5,41.0 L1325.4,41.0 L1328.3,41.0 L1331.2,41.0 L1334.1,41.0 L1337.0,41.0 L1339.9,41.0 L1342.8,41.0 L1345.7,41.0 L1348.6,41.0 L1351.5,41.0 L1354.4,41.0 L1357.3,41.0 L1360.2,41.0 L1363.1,41.0 L1366.0,41.0 L1368.9,41.0 L1371.8,41.0 L1374.7,41.0 L1377.6,41.0 L1380.5,41.0 L1383.4,41.0 L1386.3,41.0 L1389.2,41.0 L1392.1,41.0 L1395.0,41.0 L1397.9,41.0 L1400.8,41.0 L1403.7,41.0 L1406.6,41.0 L1409.5,41.0 L1412.4,41.0 L1415.3,41.0 L1418.2,41.0 L1421.1,41.0 L1424.0,41.2 L1426.9,41.8 L1429.8,42.5 L1432.7,43.5 L1435.6,45.0 L1438.5,46.7 L1441.4,48.7 L1444.3,51.3 L1447.2,55.7 L1450.1,61.2 L1453.0,68.3 L1455.9,77.1 L1458.8,88.5 L1461.7,104.9 L1464.6,136.3 L1467.5,174.1 L1470.4,211.0 L1473.3,248.4 L1476.2,280.6 L1479.1,306.9 L1482.0,330.3 L1484.9,352.1 L1487.8,372.4 L1490.7,391.6 L1493.6,409.9 L1496.5,426.5 L1499.4,441.4 L1502.3,455.9 L1505.2,469.9 L1508.1,482.4 L1511.0,493.1 L1513.9,500.9 L1516.8,505.4 L1519.7,508.8 L1522.6,512.6 L1525.5,516.6 L1528.4,519.1 L1531.3,520.9 L1534.2,522.6 L1537.1,523.7 L1540.0,524.6 L1542.9,525.6 L1545.8,526.5 L1548.7,527.1 L1551.6,527.7 L1554.5,528.5 L1557.4,529.0 L1560.3,529.5 L1563.2,530.1 L1566.1,530.7 L1569.0,531.3 L1571.9,531.6 L1574.8,531.8 L1577.7,532.0 L1580.6,532.3 L1583.5,532.6 L1586.4,532.9 L1589.3,533.3 L1592.2,533.5 L1595.1,533.7 L1598.0,533.9 L1600.9,534.2 L1603.8,534.4 L1606.7,534.6 L1609.6,534.8 L1612.5,535.0 L1615.4,535.2 L1618.3,535.3 L1621.2,535.4 L1624.1,535.6 L1627.0,535.7 L1629.9,535.8 L1632.8,535.9 L1635.7,535.9 L1638.6,536.0 L1641.5,536.0 L1644.4,536.0 L1647.3,536.0 L1650.2,536.0 L1653.1,536.0 L1656.0,536.0 L1658.9,536.1 L1661.8,536.1 L1664.7,536.1 L1667.6,536.1 L1670.5,536.1 L1673.4,536.1 L1676.3,536.1 L1679.2,536.1 L1682.1,536.1 L1685.0,536.1 L1687.9,536.1 L1690.8,536.1 L1693.7,536.1 L1696.6,536.1 L1699.5,536.1 L1702.4,536.1 L1705.3,536.1 L1708.2,536.1 L1711.1,536.1 L1714.0,536.1 L1716.9,536.2 L1719.8,536.2 L1722.7,536.2 L1725.6,536.2 L1728.5,536.2 L1731.4,536.2 L1734.3,536.2 L1737.2,536.2 L1740.1,536.2 L1743.0,536.2 L1745.9,536.2 L1748.8,536.2 L1751.7,536.2 L1754.6,536.2 L1757.5,536.2 L1760.4,536.2 L1763.3,536.2 L1766.2,536.2 L1769.1,536.2 L1772.0,536.2 L1774.9,536.2 L1777.8,536.2 L1780.7,536.2 L1783.6,536.2 L1786.5,536.2 L1789.4,536.2 L1792.3,536.2 L1795.2,536.2 L1798.1,536.2 L1801.0,536.2 L1803.9,536.2 L1806.8,536.2 L1809.7,536.2 L1812.6,536.2 L1815.5,536.2 L1818.4,536.2 L1821.3,536.2 L1824.2,536.2 L1827.1,536.2 L1830.0,536.3 L1832.9,536.3 L1835.8,536.3 L1838.7,536.3 L1841.6,536.3 L1844.5,536.3 L1847.4,536.3 L1850.3,536.3 L1853.2,536.3 L1856.1,536.3 L1859.0,536.3 L1861.9,536.3 L1864.8,536.3 L1867.7,536.3 L1870.6,536.3 L1873.5,536.3 L1876.4,536.3 L1879.3,536.3 L1882.2,536.3 L1885.1,536.3 L1888.0,536.3 L1888.0,538.0 L1885.1,538.0 L1882.2,538.0 L1879.3,538.0 L1876.4,538.0 L1873.5,538.0 L1870.6,538.0 L1867.7,538.0 L1864.8,538.0 L1861.9,538.0 L1859.0,538.0 L1856.1,538.0 L1853.2,538.0 L1850.3,538.0 L1847.4,538.0 L1844.5,538.0 L1841.6,538.0 L1838.7,538.0 L1835.8,538.0 L1832.9,538.0 L1830.0,538.0 L1827.1,538.0 L1824.2,538.0 L1821.3,538.0 L1818.4,538.0 L1815.5,538.0 L1812.6,538.0 L1809.7,538.0 L1806.8,538.0 L1803.9,538.0 L1801.0,538.0 L1798.1,538.0 L1795.2,538.0 L1792.3,538.0 L1789.4,538.0 L1786.5,538.0 L1783.6,538.0 L1780.7,538.0 L1777.8,538.0 L1774.9,538.0 L1772.0,538.0 L1769.1,538.0 L1766.2,538.0 L1763.3,538.0 L1760.4,538.0 L1757.5,538.0 L1754.6,538.0 L1751.7,538.0 L1748.8,538.0 L1745.9,538.0 L1743.0,538.0 L1740.1,538.0 L1737.2,538.0 L1734.3,538.0 L1731.4,538.0 L1728.5,538.0 L1725.6,538.0 L1722.7,538.0 L1719.8,538.0 L1716.9,538.0 L1714.0,538.0 L1711.1,538.0 L1708.2,538.0 L1705.3,538.0 L1702.4,538.0 L1699.5,538.0 L1696.6,538.0 L1693.7,538.0 L1690.8,538.0 L1687.9,538.0 L1685.0,538.0 L1682.1,538.0 L1679.2,538.0 L1676.3,538.0 L1673.4,538.0 L1670.5,538.0 L1667.6,538.0 L1664.7,538.0 L1661.8,538.0 L1658.9,538.0 L1656.0,538.0 L1653.1,538.0 L1650.2,538.0 L1647.3,538.0 L1644.4,538.0 L1641.5,538.0 L1638.6,538.0 L1635.7,538.0 L1632.8,538.0 L1629.9,538.0 L1627.0,538.0 L1624.1,538.0 L1621.2,538.0 L1618.3,538.0 L1615.4,538.0 L1612.5,538.0 L1609.6,538.0 L1606.7,538.0 L1603.8,537.9 L1600.9,537.7 L1598.0,537.4 L1595.1,537.2 L1592.2,537.0 L1589.3,536.7 L1586.4,536.4 L1583.5,536.1 L1580.6,535.8 L1577.7,535.5 L1574.8,535.3 L1571.9,535.1 L1569.0,534.7 L1566.1,534.2 L1563.2,533.6 L1560.3,533.0 L1557.4,532.5 L1554.5,532.0 L1551.6,531.2 L1548.7,530.5 L1545.8,530.0 L1542.9,529.1 L1540.0,528.0 L1537.1,527.2 L1534.2,526.0 L1531.3,524.4 L1528.4,522.6 L1525.5,520.1 L1522.6,516.1 L1519.7,512.2 L1516.8,508.8 L1513.9,504.4 L1511.0,496.6 L1508.1,485.9 L1505.2,473.4 L1502.3,459.3 L1499.4,444.9 L1496.5,430.0 L1493.6,413.4 L1490.7,395.1 L1487.8,375.9 L1484.9,355.6 L1482.0,333.8 L1479.1,310.4 L1476.2,284.1 L1473.3,251.9 L1470.4,214.5 L1467.5,177.6 L1464.6,139.8 L1461.7,108.3 L1458.8,91.9 L1455.9,80.6 L1453.0,71.8 L1450.1,64.6 L1447.2,59.1 L1444.3,54.8 L1441.4,52.1 L1438.5,50.2 L1435.6,48.5 L1432.7,47.0 L1429.8,46.0 L1426.9,45.3 L1424.0,44.7 L1421.1,44.1 L1418.2,43.6 L1415.3,43.1 L1412.4,42.9 L1409.5,42.7 L1406.6,42.7 L1403.7,42.7 L1400.8,42.7 L1397.9,42.7 L1395.0,42.7 L1392.1,42.7 L1389.2,42.7 L1386.3,42.7 L1383.4,42.7 L1380.5,42.7 L1377.6,42.7 L1374.7,42.7 L1371.8,42.7 L1368.9,42.7 L1366.0,42.7 L1363.1,42.7 L1360.2,42.7 L1357.3,42.7 L1354.4,42.7 L1351.5,42.7 L1348.6,42.7 L1345.7,42.7 L1342.8,42.7 L1339.9,42.7 L1337.0,42.7 L1334.1,42.7 L1331.2,42.7 L1328.3,42.7 L1325.4,42.7 L1322.5,42.7 L1319.6,42.7 L1316.7,42.7 L1313.8,42.7 L1310.9,42.7 L1308.0,42.7 L1305.1,42.7 L1302.2,42.7 L1299.3,42.7 L1296.4,42.7 L1293.5,42.7 L1290.6,42.7 L1287.7,42.7 L1284.8,42.7 L1281.9,42.7 L1279.0,42.8 L1276.1,42.8 L1273.2,42.8 L1270.3,42.8 L1267.4,42.8 L1264.5,42.8 L1261.6,42.8 L1258.7,42.8 L1255.8,42.8 L1252.9,42.8 L1250.0,42.8 L1247.1,42.8 L1244.2,42.8 L1241.3,42.8 L1238.4,42.8 L1235.5,42.9 L1232.6,42.9 L1229.7,42.9 L1226.8,42.9 L1223.9,42.9 L1221.0,42.9 L1218.1,42.9 L1215.2,42.9 L1212.3,42.9 L1209.4,43.0 L1206.5,43.0 L1203.6,43.0 L1200.7,43.0 L1197.8,43.0 L1194.9,43.0 L1192.0,43.1 L1189.1,43.1 L1186.2,43.1 L1183.3,43.1 L1180.4,43.1 L1177.5,43.1 L1174.6,43.1 L1171.7,43.2 L1168.8,43.2 L1165.9,43.2 L1163.0,43.2 L1160.1,43.2 L1157.2,43.3 L1154.3,43.3 L1151.4,43.3 L1148.5,43.3 L1145.6,43.3 L1142.7,43.3 L1139.8,43.3 L1136.9,43.4 L1134.0,43.4 L1131.1,43.4 L1128.2,43.4 L1125.3,43.5 L1122.4,43.5 L1119.5,43.5 L1116.6,43.5 L1113.7,43.5 L1110.8,43.6 L1107.9,43.6 L1105.0,43.6 L1102.1,43.6 L1099.2,43.7 L1096.3,43.7 L1093.4,43.7 L1090.5,43.7 L1087.6,43.7 L1084.7,43.7 L1081.8,43.8 L1078.9,43.8 L1076.0,43.8 L1073.1,43.8 L1070.2,43.8 L1067.3,43.9 L1064.4,43.9 L1061.5,44.0 L1058.6,44.0 L1055.7,44.0 L1052.8,44.0 L1049.9,44.1 L1047.0,44.2 L1044.1,44.2 L1041.2,44.3 L1038.3,44.5 L1035.4,44.6 L1032.5,44.8 L1029.6,45.1 L1026.7,45.4 L1023.8,45.6 L1020.9,45.9 L1018.0,46.3 L1015.1,46.7 L1012.2,46.9 L1009.3,47.2 L1006.4,47.8 L1003.5,48.4 L1000.6,49.0 L997.7,50.0 L994.8,49.7 L991.9,50.1 L989.0,50.6 L986.1,50.3 L983.2,50.5 L980.3,52.1 L977.4,53.8 L974.5,54.3 L971.6,55.7 L968.7,57.8 L965.8,58.0 L962.9,58.6 L960.0,61.2 L957.1,63.4 L954.2,65.2 L951.3,67.6 L948.4,71.9 L945.5,75.4 L942.6,78.1 L939.7,81.2 L936.8,83.2 L933.9,85.1 L931.0,87.6 L928.1,90.6 L925.2,93.3 L922.3,96.1 L919.4,99.9 L916.5,103.5 L913.6,106.6 L910.7,111.3 L907.8,118.1 L904.9,123.5 L902.0,128.5 L899.1,137.0 L896.2,146.6 L893.3,155.2 L890.4,163.5 L887.5,173.0 L884.6,184.7 L881.7,196.2 L878.8,206.7 L875.9,218.2 L873.0,231.4 L870.1,245.2 L867.2,258.6 L864.3,271.4 L861.4,284.8 L858.5,299.5 L855.6,314.5 L852.7,327.4 L849.8,339.2 L846.9,351.9 L844.0,365.2 L841.1,380.8 L838.2,397.5 L835.3,410.6 L832.4,420.3 L829.5,430.5 L826.6,442.5 L823.7,454.0 L820.8,464.2 L817.9,472.6 L815.0,480.3 L812.1,487.8 L809.2,492.8 L806.3,495.7 L803.4,499.4 L800.5,504.0 L797.6,506.7 L794.7,508.4 L791.8,511.0 L788.9,513.5 L786.0,515.8 L783.1,517.9 L780.2,520.0 L777.3,522.0 L774.4,524.9 L771.5,528.7 L768.6,531.9 L765.7,533.8 L762.8,534.8 L759.9,535.7 L757.0,536.5 L754.1,537.0 L751.2,537.4 L748.3,537.7 L745.4,537.5 L742.5,537.8 L739.6,538.0 L736.7,538.0 L733.8,538.0 L730.9,538.0 L728.0,538.0 L725.1,538.0 L722.2,538.0 L719.3,538.0 L716.4,538.0 L713.5,538.0 L710.6,538.0 L707.7,538.0 L704.8,538.0 L701.9,538.0 L699.0,538.0 L696.1,538.0 L693.2,538.0 L690.3,538.0 L687.4,538.0 L684.5,538.0 L681.6,538.0 L678.7,538.0 L675.8,538.0 L672.9,538.0 L670.0,538.0 L667.1,538.0 L664.2,538.0 L661.3,538.0 L658.4,538.0 L655.5,538.0 L652.6,538.0 L649.7,538.0 L646.8,538.0 L643.9,538.0 L641.0,538.0 L638.1,538.0 L635.2,538.0 L632.3,538.0 L629.4,538.0 L626.5,538.0 L623.6,538.0 L620.7,538.0 L617.8,538.0 L614.9,538.0 L612.0,538.0 L609.1,538.0 L606.2,538.0 L603.3,538.0 L600.4,538.0 L597.5,538.0 L594.6,538.0 L591.7,538.0 L588.8,538.0 L585.9,538.0 L583.0,538.0 L580.1,538.0 L577.2,538.0 L574.3,538.0 L571.4,538.0 L568.5,538.0 L565.6,538.0 L562.7,538.0 L559.8,538.0 L556.9,538.0 L554.0,538.0 L551.1,538.0 L548.2,538.0 L545.3,538.0 L542.4,538.0 L539.5,538.0 L536.6,538.0 L533.7,538.0 L530.8,538.0 L527.9,538.0 L525.0,538.0 L522.1,538.0 L519.2,538.0 L516.3,538.0 L513.4,538.0 L510.5,538.0 L507.6,538.0 L504.7,538.0 L501.8,538.0 L498.9,538.0 L496.0,538.0 L493.1,538.0 L490.2,538.0 L487.3,538.0 L484.4,538.0 L481.5,538.0 L478.6,538.0 L475.7,538.0 L472.8,538.0 L469.9,538.0 L467.0,538.0 L464.1,538.0 L461.2,538.0 L458.3,538.0 L455.4,538.0 L452.5,538.0 L449.6,538.0 L446.7,538.0 L443.8,538.0 L440.9,538.0 L438.0,538.0 L435.1,538.0 L432.2,538.0 L429.3,538.0 L426.4,538.0 L423.5,538.0 L420.6,538.0 L417.7,538.0 L414.8,538.0 L411.9,538.0 L409.0,538.0 L406.1,538.0 L403.2,538.0 L400.3,538.0 L397.4,538.0 L394.5,538.0 L391.6,538.0 L388.7,538.0 L385.8,538.0 L382.9,538.0 L380.0,538.0 L377.1,538.0 L374.2,538.0 L371.3,538.0 L368.4,538.0 L365.5,538.0 L362.6,538.0 L359.7,538.0 L356.8,538.0 L353.9,538.0 L351.0,538.0 L348.1,538.0 L345.2,538.0 L342.3,538.0 L339.4,538.0 L336.5,538.0 L333.6,538.0 L330.7,538.0 L327.8,538.0 L324.9,538.0 L322.0,538.0 L319.1,538.0 L316.2,538.0 L313.3,538.0 L310.4,538.0 L307.5,538.0 L304.6,538.0 L301.7,538.0 L298.8,538.0 L295.9,538.0 L293.0,538.0 L290.1,538.0 L287.2,538.0 L284.3,538.0 L281.4,538.0 L278.5,538.0 L275.6,538.0 L272.7,538.0 L269.8,538.0 L266.9,538.0 L264.0,538.0 L261.1,538.0 L258.2,538.0 L255.3,538.0 L252.4,538.0 L249.5,538.0 L246.6,538.0 L243.7,538.0 L240.8,538.0 L237.9,538.0 L235.0,538.0 L232.1,538.0 L229.2,538.0 L226.3,538.0 L223.4,538.0 L220.5,538.0 L217.6,538.0 L214.7,538.0 L211.8,538.0 L208.9,538.0 L206.0,538.0 L203.1,538.0 L200.2,538.0 L197.3,538.0 L194.4,538.0 L191.5,538.0 L188.6,538.0 L185.7,538.0 L182.8,538.0 L179.9,538.0 L177.0,538.0 L174.1,538.0 L171.2,538.0 L168.3,538.0 L165.4,538.0 L162.5,538.0 L159.6,538.0 L156.7,538.0 L153.8,538.0 L150.9,538.0 L148.0,538.0 L145.1,538.0 L142.2,538.0 L139.3,538.0 L136.4,538.0 L133.5,538.0 L130.6,538.0 L127.7,538.0 L124.8,538.0 L121.9,538.0 L119.0,538.0 L116.1,538.0 L113.2,538.0 L110.3,538.0 L107.4,538.0Z" fill="#fbcf9e"/>
<path d="M107.4,536.5 L110.3,536.5 L113.2,536.5 L116.1,536.5 L119.0,536.5 L121.9,536.5 L124.8,536.5 L127.7,536.5 L130.6,536.5 L133.5,536.5 L136.4,536.5 L139.3,536.5 L142.2,536.5 L145.1,536.5 L148.0,536.5 L150.9,536.5 L153.8,536.5 L156.7,536.5 L159.6,536.5 L162.5,536.5 L165.4,536.5 L168.3,536.5 L171.2,536.5 L174.1,536.5 L177.0,536.5 L179.9,536.5 L182.8,536.5 L185.7,536.5 L188.6,536.5 L191.5,536.5 L194.4,536.5 L197.3,536.5 L200.2,536.5 L203.1,536.5 L206.0,536.5 L208.9,536.5 L211.8,536.5 L214.7,536.5 L217.6,536.5 L220.5,536.5 L223.4,536.5 L226.3,536.5 L229.2,536.5 L232.1,536.5 L235.0,536.5 L237.9,536.5 L240.8,536.5 L243.7,536.5 L246.6,536.5 L249.5,536.5 L252.4,536.5 L255.3,536.5 L258.2,536.5 L261.1,536.5 L264.0,536.5 L266.9,536.5 L269.8,536.5 L272.7,536.5 L275.6,536.5 L278.5,536.5 L281.4,536.5 L284.3,536.5 L287.2,536.5 L290.1,536.5 L293.0,536.5 L295.9,536.5 L298.8,536.5 L301.7,536.5 L304.6,536.5 L307.5,536.5 L310.4,536.5 L313.3,536.5 L316.2,536.5 L319.1,536.5 L322.0,536.5 L324.9,536.5 L327.8,536.5 L330.7,536.5 L333.6,536.5 L336.5,536.5 L339.4,536.5 L342.3,536.5 L345.2,536.5 L348.1,536.5 L351.0,536.5 L353.9,536.5 L356.8,536.5 L359.7,536.5 L362.6,536.5 L365.5,536.5 L368.4,536.5 L371.3,536.5 L374.2,536.5 L377.1,536.5 L380.0,536.5 L382.9,536.5 L385.8,536.5 L388.7,536.5 L391.6,536.5 L394.5,536.5 L397.4,536.5 L400.3,536.5 L403.2,536.5 L406.1,536.5 L409.0,536.5 L411.9,536.5 L414.8,536.5 L417.7,536.5 L420.6,536.5 L423.5,536.5 L426.4,536.5 L429.3,536.5 L432.2,536.5 L435.1,536.5 L438.0,536.5 L440.9,536.5 L443.8,536.5 L446.7,536.5 L449.6,536.5 L452.5,536.5 L455.4,536.5 L458.3,536.5 L461.2,536.5 L464.1,536.1 L467.0,535.7 L469.9,535.5 L472.8,535.7 L475.7,536.1 L478.6,536.5 L481.5,536.5 L484.4,536.5 L487.3,536.5 L490.2,536.5 L493.1,536.5 L496.0,536.5 L498.9,536.5 L501.8,536.5 L504.7,536.5 L507.6,536.5 L510.5,536.5 L513.4,536.5 L516.3,536.5 L519.2,536.5 L522.1,536.5 L525.0,536.5 L527.9,536.5 L530.8,536.5 L533.7,536.5 L536.6,536.5 L539.5,536.5 L542.4,536.5 L545.3,536.5 L548.2,536.5 L551.1,536.5 L554.0,536.5 L556.9,536.5 L559.8,536.5 L562.7,536.5 L565.6,536.5 L568.5,536.5 L571.4,536.5 L574.3,536.5 L577.2,536.5 L580.1,536.5 L583.0,536.5 L585.9,536.5 L588.8,536.5 L591.7,536.5 L594.6,536.5 L597.5,536.5 L600.4,536.5 L603.3,536.5 L606.2,536.5 L609.1,536.5 L612.0,536.5 L614.9,536.5 L617.8,536.5 L620.7,536.5 L623.6,536.5 L626.5,536.5 L629.4,536.5 L632.3,536.5 L635.2,536.5 L638.1,536.5 L641.0,536.5 L643.9,536.5 L646.8,536.5 L649.7,536.5 L652.6,536.5 L655.5,536.5 L658.4,536.5 L661.3,536.5 L664.2,536.5 L667.1,536.5 L670.0,536.5 L672.9,536.5 L675.8,536.5 L678.7,536.5 L681.6,536.5 L684.5,536.5 L687.4,536.5 L690.3,536.5 L693.2,536.5 L696.1,536.5 L699.0,536.5 L701.9,536.5 L704.8,536.5 L707.7,536.5 L710.6,536.5 L713.5,536.5 L716.4,536.5 L719.3,536.5 L722.2,536.5 L725.1,536.5 L728.0,536.5 L730.9,536.5 L733.8,536.5 L736.7,536.5 L739.6,536.5 L742.5,536.5 L745.4,536.5 L748.3,536.5 L751.2,536.5 L754.1,536.5 L757.0,536.5 L759.9,536.5 L762.8,536.5 L765.7,536.5 L768.6,536.5 L771.5,536.5 L774.4,536.5 L777.3,536.5 L780.2,536.5 L783.1,536.5 L786.0,536.5 L788.9,536.5 L791.8,536.5 L794.7,536.5 L797.6,536.5 L800.5,536.5 L803.4,536.5 L806.3,536.5 L809.2,536.5 L812.1,536.5 L815.0,536.5 L817.9,536.5 L820.8,536.5 L823.7,536.5 L826.6,536.5 L829.5,536.5 L832.4,536.5 L835.3,536.5 L838.2,536.5 L841.1,536.5 L844.0,536.5 L846.9,536.5 L849.8,536.5 L852.7,536.5 L855.6,536.5 L858.5,536.5 L861.4,536.5 L864.3,536.5 L867.2,536.5 L870.1,536.5 L873.0,536.5 L875.9,536.5 L878.8,536.5 L881.7,536.5 L884.6,536.5 L887.5,536.5 L890.4,536.5 L893.3,536.5 L896.2,536.5 L899.1,536.5 L902.0,536.5 L904.9,536.5 L907.8,536.5 L910.7,536.5 L913.6,536.5 L916.5,536.5 L919.4,536.5 L922.3,536.5 L925.2,536.5 L928.1,536.5 L931.0,536.5 L933.9,536.5 L936.8,536.5 L939.7,536.5 L942.6,536.5 L945.5,536.5 L948.4,536.5 L951.3,536.5 L954.2,536.5 L957.1,536.5 L960.0,536.5 L962.9,536.5 L965.8,536.5 L968.7,536.5 L971.6,536.5 L974.5,536.5 L977.4,536.5 L980.3,536.5 L983.2,536.5 L986.1,536.5 L989.0,536.5 L991.9,536.5 L994.8,536.5 L997.7,536.5 L1000.6,536.5 L1003.5,536.5 L1006.4,536.5 L1009.3,536.5 L1012.2,536.5 L1015.1,536.5 L1018.0,536.5 L1020.9,536.5 L1023.8,536.5 L1026.7,536.5 L1029.6,536.5 L1032.5,536.5 L1035.4,536.5 L1038.3,536.5 L1041.2,536.5 L1044.1,536.5 L1047.0,536.5 L1049.9,536.5 L1052.8,536.5 L1055.7,536.5 L1058.6,536.5 L1061.5,536.5 L1064.4,536.5 L1067.3,536.5 L1070.2,536.5 L1073.1,536.5 L1076.0,536.5 L1078.9,536.5 L1081.8,536.5 L1084.7,536.5 L1087.6,536.5 L1090.5,536.5 L1093.4,536.5 L1096.3,536.5 L1099.2,536.5 L1102.1,536.5 L1105.0,536.5 L1107.9,536.5 L1110.8,536.5 L1113.7,536.5 L1116.6,536.5 L1119.5,536.5 L1122.4,536.5 L1125.3,536.5 L1128.2,536.5 L1131.1,536.5 L1134.0,536.5 L1136.9,536.5 L1139.8,536.5 L1142.7,536.5 L1145.6,536.5 L1148.5,536.5 L1151.4,536.5 L1154.3,536.5 L1157.2,536.5 L1160.1,536.5 L1163.0,536.5 L1165.9,536.5 L1168.8,536.5 L1171.7,536.5 L1174.6,536.5 L1177.5,536.5 L1180.4,536.5 L1183.3,536.5 L1186.2,536.5 L1189.1,536.5 L1192.0,536.5 L1194.9,536.5 L1197.8,536.5 L1200.7,536.5 L1203.6,536.5 L1206.5,536.5 L1209.4,536.5 L1212.3,536.5 L1215.2,536.5 L1218.1,536.5 L1221.0,536.5 L1223.9,536.5 L1226.8,536.5 L1229.7,536.5 L1232.6,536.5 L1235.5,536.5 L1238.4,536.5 L1241.3,536.5 L1244.2,536.5 L1247.1,536.5 L1250.0,536.5 L1252.9,536.5 L1255.8,536.5 L1258.7,536.5 L1261.6,536.5 L1264.5,536.5 L1267.4,536.5 L1270.3,536.5 L1273.2,536.5 L1276.1,536.5 L1279.0,536.5 L1281.9,536.5 L1284.8,536.5 L1287.7,536.5 L1290.6,536.5 L1293.5,536.5 L1296.4,536.5 L1299.3,536.5 L1302.2,536.5 L1305.1,536.5 L1308.0,536.5 L1310.9,536.5 L1313.8,536.5 L1316.7,536.5 L1319.6,536.5 L1322.5,536.5 L1325.4,536.5 L1328.3,536.5 L1331.2,536.5 L1334.1,536.5 L1337.0,536.5 L1339.9,536.5 L1342.8,536.5 L1345.7,536.5 L1348.6,536.5 L1351.5,536.5 L1354.4,536.5 L1357.3,536.5 L1360.2,536.5 L1363.1,536.5 L1366.0,536.5 L1368.9,536.5 L1371.8,536.5 L1374.7,536.5 L1377.6,536.5 L1380.5,536.5 L1383.4,536.5 L1386.3,536.4 L1389.2,536.3 L1392.1,536.2 L1395.0,536.0 L1397.9,535.8 L1400.8,535.6 L1403.7,535.4 L1406.6,535.2 L1409.5,535.0 L1412.4,534.7 L1415.3,534.5 L1418.2,534.1 L1421.1,533.9 L1424.0,533.5 L1426.9,533.2 L1429.8,532.5 L1432.7,532.0 L1435.6,531.1 L1438.5,530.4 L1441.4,529.0 L1444.3,527.4 L1447.2,524.2 L1450.1,518.5 L1453.0,511.6 L1455.9,503.3 L1458.8,489.8 L1461.7,470.1 L1464.6,440.6 L1467.5,406.0 L1470.4,370.6 L1473.3,334.1 L1476.2,301.0 L1479.1,269.3 L1482.0,238.7 L1484.9,212.6 L1487.8,191.1 L1490.7,174.9 L1493.6,162.3 L1496.5,150.3 L1499.4,139.8 L1502.3,129.4 L1505.2,120.6 L1508.1,110.6 L1511.0,97.0 L1513.9,81.8 L1516.8,71.7 L1519.7,68.2 L1522.6,63.5 L1525.5,61.3 L1528.4,59.3 L1531.3,57.3 L1534.2,55.4 L1537.1,54.4 L1540.0,52.9 L1542.9,51.7 L1545.8,50.3 L1548.7,49.6 L1551.6,48.4 L1554.5,47.6 L1557.4,46.9 L1560.3,46.0 L1563.2,45.6 L1566.1,45.2 L1569.0,44.6 L1571.9,44.2 L1574.8,43.8 L1577.7,43.4 L1580.6,42.8 L1583.5,42.6 L1586.4,42.3 L1589.3,42.1 L1592.2,41.8 L1595.1,41.7 L1598.0,41.6 L1600.9,41.5 L1603.8,41.5 L1606.7,41.5 L1609.6,41.7 L1612.5,41.7 L1615.4,41.8 L1618.3,41.8 L1621.2,42.1 L1624.1,42.2 L1627.0,42.2 L1629.9,42.5 L1632.8,42.6 L1635.7,42.7 L1638.6,42.9 L1641.5,42.9 L1644.4,43.0 L1647.3,43.3 L1650.2,43.2 L1653.1,43.3 L1656.0,43.4 L1658.9,43.5 L1661.8,43.7 L1664.7,43.6 L1667.6,43.9 L1670.5,43.8 L1673.4,44.1 L1676.3,44.2 L1679.2,44.4 L1682.1,44.4 L1685.0,44.5 L1687.9,44.6 L1690.8,44.7 L1693.7,44.7 L1696.6,44.7 L1699.5,45.0 L1702.4,44.9 L1705.3,45.2 L1708.2,45.3 L1711.1,45.4 L1714.0,45.3 L1716.9,45.6 L1719.8,45.7 L1722.7,45.4 L1725.6,45.4 L1728.5,45.5 L1731.4,45.9 L1734.3,45.8 L1737.2,45.8 L1740.1,45.9 L1743.0,46.2 L1745.9,46.1 L1748.8,46.4 L1751.7,46.4 L1754.6,46.0 L1757.5,46.3 L1760.4,46.7 L1763.3,46.8 L1766.2,46.6 L1769.1,46.8 L1772.0,43.7 L1774.9,44.0 L1777.8,44.1 L1780.7,44.1 L1783.6,44.4 L1786.5,44.7 L1789.4,44.7 L1792.3,44.8 L1795.2,45.0 L1798.1,45.2 L1801.0,45.5 L1803.9,45.7 L1806.8,46.3 L1809.7,46.2 L1812.6,46.4 L1815.5,47.1 L1818.4,47.4 L1821.3,47.4 L1824.2,47.7 L1827.1,47.9 L1830.0,48.0 L1832.9,48.1 L1835.8,48.2 L1838.7,47.8 L1841.6,47.7 L1844.5,48.2 L1847.4,47.9 L1850.3,47.9 L1853.2,48.0 L1856.1,48.0 L1859.0,47.9 L1861.9,48.2 L1864.8,47.8 L1867.7,47.8 L1870.6,47.1 L1873.5,47.3 L1876.4,47.5 L1879.3,47.4 L1882.2,46.9 L1885.1,46.8 L1888.0,46.9 L1888.0,55.9 L1885.1,55.7 L1882.2,55.8 L1879.3,56.3 L1876.4,56.5 L1873.5,56.3 L1870.6,56.1 L1867.7,56.7 L1864.8,56.7 L1861.9,57.2 L1859.0,56.9 L1856.1,57.0 L1853.2,56.9 L1850.3,56.8 L1847.4,56.9 L1844.5,57.1 L1841.6,56.6 L1838.7,56.8 L1835.8,57.2 L1832.9,57.1 L1830.0,56.9 L1827.1,56.8 L1824.2,56.6 L1821.3,56.3 L1818.4,56.3 L1815.5,56.0 L1812.6,55.4 L1809.7,55.2 L1806.8,55.3 L1803.9,54.7 L1801.0,54.5 L1798.1,54.2 L1795.2,53.9 L1792.3,53.8 L1789.4,53.7 L1786.5,53.6 L1783.6,53.4 L1780.7,53.1 L1777.8,53.0 L1774.9,53.0 L1772.0,52.7 L1769.1,49.8 L1766.2,49.5 L1763.3,49.7 L1760.4,49.6 L1757.5,49.3 L1754.6,49.0 L1751.7,49.4 L1748.8,49.4 L1745.9,49.1 L1743.0,49.2 L1740.1,48.9 L1737.2,48.8 L1734.3,48.8 L1731.4,48.9 L1728.5,48.5 L1725.6,48.4 L1722.7,48.4 L1719.8,48.6 L1716.9,48.6 L1714.0,48.3 L1711.1,48.4 L1708.2,48.3 L1705.3,48.2 L1702.4,47.9 L1699.5,47.9 L1696.6,47.7 L1693.7,47.7 L1690.8,47.7 L1687.9,47.6 L1685.0,47.5 L1682.1,47.4 L1679.2,47.3 L1676.3,47.2 L1673.4,47.1 L1670.5,46.8 L1667.6,46.9 L1664.7,46.6 L1661.8,46.7 L1658.9,46.5 L1656.0,46.4 L1653.1,46.3 L1650.2,46.2 L1647.3,46.2 L1644.4,46.0 L1641.5,45.9 L1638.6,45.9 L1635.7,45.7 L1632.8,45.6 L1629.9,45.4 L1627.0,45.2 L1624.1,45.2 L1621.2,45.1 L1618.3,44.8 L1615.4,44.7 L1612.5,44.7 L1609.6,44.6 L1606.7,44.5 L1603.8,44.5 L1600.9,44.5 L1598.0,44.6 L1595.1,44.7 L1592.2,44.8 L1589.3,45.1 L1586.4,45.3 L1583.5,45.6 L1580.6,45.8 L1577.7,46.3 L1574.8,46.8 L1571.9,47.2 L1569.0,47.6 L1566.1,48.2 L1563.2,48.6 L1560.3,49.0 L1557.4,49.8 L1554.5,50.5 L1551.6,51.4 L1548.7,52.5 L1545.8,53.3 L1542.9,54.7 L1540.0,55.9 L1537.1,57.4 L1534.2,58.4 L1531.3,60.3 L1528.4,62.3 L1525.5,64.3 L1522.6,66.5 L1519.7,71.1 L1516.8,74.7 L1513.9,84.8 L1511.0,100.0 L1508.1,113.6 L1505.2,123.6 L1502.3,132.4 L1499.4,142.8 L1496.5,153.3 L1493.6,165.3 L1490.7,177.9 L1487.8,194.0 L1484.9,215.6 L1482.0,241.6 L1479.1,272.3 L1476.2,304.0 L1473.3,337.1 L1470.4,373.6 L1467.5,408.9 L1464.6,443.5 L1461.7,473.1 L1458.8,492.8 L1455.9,506.3 L1453.0,514.5 L1450.1,521.5 L1447.2,527.2 L1444.3,530.3 L1441.4,531.9 L1438.5,533.3 L1435.6,534.1 L1432.7,535.0 L1429.8,535.5 L1426.9,536.2 L1424.0,536.5 L1421.1,536.9 L1418.2,537.1 L1415.3,537.5 L1412.4,537.7 L1409.5,538.0 L1406.6,538.0 L1403.7,538.0 L1400.8,538.0 L1397.9,538.0 L1395.0,538.0 L1392.1,538.0 L1389.2,538.0 L1386.3,538.0 L1383.4,538.0 L1380.5,538.0 L1377.6,538.0 L1374.7,538.0 L1371.8,538.0 L1368.9,538.0 L1366.0,538.0 L1363.1,538.0 L1360.2,538.0 L1357.3,538.0 L1354.4,538.0 L1351.5,538.0 L1348.6,538.0 L1345.7,538.0 L1342.8,538.0 L1339.9,538.0 L1337.0,538.0 L1334.1,538.0 L1331.2,538.0 L1328.3,538.0 L1325.4,538.0 L1322.5,538.0 L1319.6,538.0 L1316.7,538.0 L1313.8,538.0 L1310.9,538.0 L1308.0,538.0 L1305.1,538.0 L1302.2,538.0 L1299.3,538.0 L1296.4,538.0 L1293.5,538.0 L1290.6,538.0 L1287.7,538.0 L1284.8,538.0 L1281.9,538.0 L1279.0,538.0 L1276.1,538.0 L1273.2,538.0 L1270.3,538.0 L1267.4,538.0 L1264.5,538.0 L1261.6,538.0 L1258.7,538.0 L1255.8,538.0 L1252.9,538.0 L1250.0,538.0 L1247.1,538.0 L1244.2,538.0 L1241.3,538.0 L1238.4,538.0 L1235.5,538.0 L1232.6,538.0 L1229.7,538.0 L1226.8,538.0 L1223.9,538.0 L1221.0,538.0 L1218.1,538.0 L1215.2,538.0 L1212.3,538.0 L1209.4,538.0 L1206.5,538.0 L1203.6,538.0 L1200.7,538.0 L1197.8,538.0 L1194.9,538.0 L1192.0,538.0 L1189.1,538.0 L1186.2,538.0 L1183.3,538.0 L1180.4,538.0 L1177.5,538.0 L1174.6,538.0 L1171.7,538.0 L1168.8,538.0 L1165.9,538.0 L1163.0,538.0 L1160.1,538.0 L1157.2,538.0 L1154.3,538.0 L1151.4,538.0 L1148.5,538.0 L1145.6,538.0 L1142.7,538.0 L1139.8,538.0 L1136.9,538.0 L1134.0,538.0 L1131.1,538.0 L1128.2,538.0 L1125.3,538.0 L1122.4,538.0 L1119.5,538.0 L1116.6,538.0 L1113.7,538.0 L1110.8,538.0 L1107.9,538.0 L1105.0,538.0 L1102.1,538.0 L1099.2,538.0 L1096.3,538.0 L1093.4,538.0 L1090.5,538.0 L1087.6,538.0 L1084.7,538.0 L1081.8,538.0 L1078.9,538.0 L1076.0,538.0 L1073.1,538.0 L1070.2,538.0 L1067.3,538.0 L1064.4,538.0 L1061.5,538.0 L1058.6,538.0 L1055.7,538.0 L1052.8,538.0 L1049.9,538.0 L1047.0,538.0 L1044.1,538.0 L1041.2,538.0 L1038.3,538.0 L1035.4,538.0 L1032.5,538.0 L1029.6,538.0 L1026.7,538.0 L1023.8,538.0 L1020.9,538.0 L1018.0,538.0 L1015.1,538.0 L1012.2,538.0 L1009.3,538.0 L1006.4,538.0 L1003.5,538.0 L1000.6,538.0 L997.7,538.0 L994.8,538.0 L991.9,538.0 L989.0,538.0 L986.1,538.0 L983.2,538.0 L980.3,538.0 L977.4,538.0 L974.5,538.0 L971.6,538.0 L968.7,538.0 L965.8,538.0 L962.9,538.0 L960.0,538.0 L957.1,538.0 L954.2,538.0 L951.3,538.0 L948.4,538.0 L945.5,538.0 L942.6,538.0 L939.7,538.0 L936.8,538.0 L933.9,538.0 L931.0,538.0 L928.1,538.0 L925.2,538.0 L922.3,538.0 L919.4,538.0 L916.5,538.0 L913.6,538.0 L910.7,538.0 L907.8,538.0 L904.9,538.0 L902.0,538.0 L899.1,538.0 L896.2,538.0 L893.3,538.0 L890.4,538.0 L887.5,538.0 L884.6,538.0 L881.7,538.0 L878.8,538.0 L875.9,538.0 L873.0,538.0 L870.1,538.0 L867.2,538.0 L864.3,538.0 L861.4,538.0 L858.5,538.0 L855.6,538.0 L852.7,538.0 L849.8,538.0 L846.9,538.0 L844.0,538.0 L841.1,538.0 L838.2,538.0 L835.3,538.0 L832.4,538.0 L829.5,538.0 L826.6,538.0 L823.7,538.0 L820.8,538.0 L817.9,538.0 L815.0,538.0 L812.1,538.0 L809.2,538.0 L806.3,538.0 L803.4,538.0 L800.5,538.0 L797.6,538.0 L794.7,538.0 L791.8,538.0 L788.9,538.0 L786.0,538.0 L783.1,538.0 L780.2,538.0 L777.3,538.0 L774.4,538.0 L771.5,538.0 L768.6,538.0 L765.7,538.0 L762.8,538.0 L759.9,538.0 L757.0,538.0 L754.1,538.0 L751.2,538.0 L748.3,538.0 L745.4,538.0 L742.5,538.0 L739.6,538.0 L736.7,538.0 L733.8,538.0 L730.9,538.0 L728.0,538.0 L725.1,538.0 L722.2,538.0 L719.3,538.0 L716.4,538.0 L713.5,538.0 L710.6,538.0 L707.7,538.0 L704.8,538.0 L701.9,538.0 L699.0,538.0 L696.1,538.0 L693.2,538.0 L690.3,538.0 L687.4,538.0 L684.5,538.0 L681.6,538.0 L678.7,538.0 L675.8,538.0 L672.9,538.0 L670.0,538.0 L667.1,538.0 L664.2,538.0 L661.3,538.0 L658.4,538.0 L655.5,538.0 L652.6,538.0 L649.7,538.0 L646.8,538.0 L643.9,538.0 L641.0,538.0 L638.1,538.0 L635.2,538.0 L632.3,538.0 L629.4,538.0 L626.5,538.0 L623.6,538.0 L620.7,538.0 L617.8,538.0 L614.9,538.0 L612.0,538.0 L609.1,538.0 L606.2,538.0 L603.3,538.0 L600.4,538.0 L597.5,538.0 L594.6,538.0 L591.7,538.0 L588.8,538.0 L585.9,538.0 L583.0,538.0 L580.1,538.0 L577.2,538.0 L574.3,538.0 L571.4,538.0 L568.5,538.0 L565.6,538.0 L562.7,538.0 L559.8,538.0 L556.9,538.0 L554.0,538.0 L551.1,538.0 L548.2,538.0 L545.3,538.0 L542.4,538.0 L539.5,538.0 L536.6,538.0 L533.7,538.0 L530.8,538.0 L527.9,538.0 L525.0,538.0 L522.1,538.0 L519.2,538.0 L516.3,538.0 L513.4,538.0 L510.5,538.0 L507.6,538.0 L504.7,538.0 L501.8,538.0 L498.9,538.0 L496.0,538.0 L493.1,538.0 L490.2,538.0 L487.3,538.0 L484.4,538.0 L481.5,538.0 L478.6,538.0 L475.7,538.0 L472.8,538.0 L469.9,538.0 L467.0,538.0 L464.1,538.0 L461.2,538.0 L458.3,538.0 L455.4,538.0 L452.5,538.0 L449.6,538.0 L446.7,538.0 L443.8,538.0 L440.9,538.0 L438.0,538.0 L435.1,538.0 L432.2,538.0 L429.3,538.0 L426.4,538.0 L423.5,538.0 L420.6,538.0 L417.7,538.0 L414.8,538.0 L411.9,538.0 L409.0,538.0 L406.1,538.0 L403.2,538.0 L400.3,538.0 L397.4,538.0 L394.5,538.0 L391.6,538.0 L388.7,538.0 L385.8,538.0 L382.9,538.0 L380.0,538.0 L377.1,538.0 L374.2,538.0 L371.3,538.0 L368.4,538.0 L365.5,538.0 L362.6,538.0 L359.7,538.0 L356.8,538.0 L353.9,538.0 L351.0,538.0 L348.1,538.0 L345.2,538.0 L342.3,538.0 L339.4,538.0 L336.5,538.0 L333.6,538.0 L330.7,538.0 L327.8,538.0 L324.9,538.0 L322.0,538.0 L319.1,538.0 L316.2,538.0 L313.3,538.0 L310.4,538.0 L307.5,538.0 L304.6,538.0 L301.7,538.0 L298.8,538.0 L295.9,538.0 L293.0,538.0 L290.1,538.0 L287.2,538.0 L284.3,538.0 L281.4,538.0 L278.5,538.0 L275.6,538.0 L272.7,538.0 L269.8,538.0 L266.9,538.0 L264.0,538.0 L261.1,538.0 L258.2,538.0 L255.3,538.0 L252.4,538.0 L249.5,538.0 L246.6,538.0 L243.7,538.0 L240.8,538.0 L237.9,538.0 L235.0,538.0 L232.1,538.0 L229.2,538.0 L226.3,538.0 L223.4,538.0 L220.5,538.0 L217.6,538.0 L214.7,538.0 L211.8,538.0 L208.9,538.0 L206.0,538.0 L203.1,538.0 L200.2,538.0 L197.3,538.0 L194.4,538.0 L191.5,538.0 L188.6,538.0 L185.7,538.0 L182.8,538.0 L179.9,538.0 L177.0,538.0 L174.1,538.0 L171.2,538.0 L168.3,538.0 L165.4,538.0 L162.5,538.0 L159.6,538.0 L156.7,538.0 L153.8,538.0 L150.9,538.0 L148.0,538.0 L145.1,538.0 L142.2,538.0 L139.3,538.0 L136.4,538.0 L133.5,538.0 L130.6,538.0 L127.7,538.0 L124.8,538.0 L121.9,538.0 L119.0,538.0 L116.1,538.0 L113.2,538.0 L110.3,538.0 L107.4,538.0Z" fill="#bddbb2"/>
<polyline points="107.4,537.2 110.3,537.3 113.2,537.3 116.1,537.3 119.0,537.3 121.9,537.4 124.8,537.4 127.7,537.4 130.6,537.3 133.5,537.3 136.4,537.3 139.3,537.4 142.2,537.4 145.1,537.5 148.0,537.5 150.9,537.5 153.8,537.4 156.7,537.4 159.6,537.4 162.5,537.5 165.4,537.5 168.3,537.4 171.2,537.5 174.1,537.5 177.0,537.5 179.9,537.5 182.8,537.5 185.7,537.5 188.6,537.6 191.5,537.6 194.4,537.6 197.3,537.6 200.2,537.6 203.1,537.6 206.0,537.6 208.9,537.7 211.8,537.7 214.7,537.7 217.6,537.7 220.5,537.7 223.4,537.7 226.3,537.7 229.2,537.7 232.1,537.8 235.0,537.7 237.9,537.7 240.8,537.7 243.7,537.7 246.6,537.7 249.5,537.7 252.4,537.6 255.3,537.4 258.2,537.0 261.1,536.6 264.0,536.2 266.9,535.8 269.8,535.5 272.7,535.1 275.6,534.2 278.5,533.4 281.4,533.1 284.3,532.1 287.2,530.7 290.1,529.5 293.0,529.0 295.9,527.5 298.8,524.6 301.7,523.8 304.6,524.7 307.5,523.3 310.4,520.9 313.3,518.6 316.2,516.0 319.1,514.5 322.0,512.6 324.9,509.4 327.8,506.0 330.7,503.5 333.6,508.0 336.5,505.1 339.4,493.0 342.3,483.1 345.2,481.2 348.1,480.5 351.0,484.0 353.9,488.7 356.8,489.4 359.7,480.1 362.6,475.3 365.5,483.8 368.4,486.8 371.3,476.9 374.2,467.0 377.1,461.1 380.0,465.1 382.9,470.1 385.8,464.8 388.7,452.0 391.6,439.1 394.5,426.5 397.4,398.3 400.3,390.6 403.2,391.8 406.1,379.1 409.0,365.5 411.9,355.3 414.8,344.1 417.7,332.1 420.6,310.8 423.5,296.1 426.4,292.2 429.3,298.2 432.2,305.9 435.1,305.4 438.0,302.5 440.9,306.4 443.8,303.0 446.7,275.4 449.6,252.5 452.5,239.7 455.4,232.5 458.3,222.9 461.2,210.8 464.1,194.7 467.0,181.7 469.9,179.3 472.8,177.5 475.7,174.1 478.6,169.9 481.5,166.3 484.4,163.7 487.3,160.5 490.2,154.6 493.1,147.9 496.0,143.5 498.9,142.3 501.8,142.8 504.7,140.7 507.6,136.4 510.5,132.6 513.4,128.4 516.3,121.9 519.2,116.7 522.1,115.2 525.0,113.6 527.9,110.3 530.8,105.2 533.7,98.6 536.6,93.5 539.5,90.2 542.4,86.9 545.3,84.6 548.2,83.8 551.1,83.6 554.0,81.8 556.9,80.2 559.8,80.3 562.7,80.1 565.6,79.4 568.5,76.8 571.4,73.4 574.3,71.4 577.2,69.0 580.1,66.4 583.0,64.3 585.9,64.5 588.8,65.7 591.7,64.5 594.6,63.2 597.5,62.2 600.4,60.2 603.3,58.9 606.2,58.7 609.1,58.3 612.0,57.5 614.9,58.2 617.8,57.9 620.7,56.8 623.6,55.6 626.5,53.3 629.4,51.9 632.3,52.0 635.2,53.7 638.1,54.5 641.0,53.5 643.9,53.1 646.8,53.4 649.7,53.1 652.6,52.0 655.5,51.5 658.4,51.9 661.3,52.0 664.2,52.7 667.1,53.4 670.0,53.4 672.9,53.0 675.8,51.5 678.7,50.4 681.6,50.5 684.5,49.9 687.4,49.4 690.3,50.0 693.2,50.7 696.1,51.5 699.0,51.6 701.9,51.2 704.8,51.2 707.7,50.4 710.6,49.5 713.5,49.3 716.4,50.0 719.3,50.5 722.2,50.2 725.1,50.3 728.0,50.5 730.9,50.6 733.8,51.1 736.7,52.2 739.6,53.3 742.5,54.8 745.4,56.5 748.3,57.2 751.2,57.0 754.1,55.9 757.0,57.4 759.9,61.2 762.8,62.3 765.7,63.8 768.6,66.2 771.5,67.8 774.4,71.2 777.3,75.1 780.2,76.7 783.1,78.3 786.0,81.5 788.9,84.6 791.8,86.1 794.7,89.1 797.6,94.3 800.5,98.1 803.4,101.2 806.3,104.2 809.2,107.2 812.1,113.3 815.0,121.3 817.9,127.8 820.8,132.6 823.7,138.7 826.6,148.5 829.5,158.4 832.4,167.6 835.3,177.7 838.2,189.6 841.1,204.2 844.0,218.3 846.9,231.9 849.8,247.4 852.7,262.4 855.6,275.8 858.5,290.4 861.4,305.9 864.3,320.6 867.2,333.6 870.1,344.8 873.0,356.8 875.9,369.4 878.8,381.5 881.7,393.1 884.6,403.9 887.5,413.5 890.4,423.3 893.3,433.0 896.2,440.7 899.1,448.2 902.0,456.7 904.9,463.7 907.8,467.5 910.7,471.4 913.6,477.3 916.5,482.3 919.4,485.0 922.3,488.7 925.2,493.7 928.1,495.8 931.0,498.2 933.9,502.1 936.8,504.4 939.7,507.9 942.6,512.1 945.5,515.5 948.4,518.8 951.3,519.1 954.2,519.0 957.1,520.6 960.0,521.5 962.9,522.7 965.8,524.1 968.7,526.3 971.6,528.5 974.5,528.6 977.4,528.8 980.3,530.1 983.2,530.7 986.1,530.9 989.0,531.8 991.9,532.7 994.8,532.8 997.7,532.9 1000.6,533.3 1003.5,533.6 1006.4,533.9 1009.3,534.3 1012.2,534.6 1015.1,534.9 1018.0,535.1 1020.9,535.3 1023.8,535.5 1026.7,535.7 1029.6,535.9 1032.5,536.1 1035.4,536.2 1038.3,536.3 1041.2,536.5 1044.1,536.6 1047.0,536.6 1049.9,536.7 1052.8,536.8 1055.7,536.8 1058.6,536.9 1061.5,536.9 1064.4,537.0 1067.3,537.1 1070.2,537.1 1073.1,537.2 1076.0,537.3 1078.9,537.3 1081.8,537.4 1084.7,537.4 1087.6,537.4 1090.5,537.4 1093.4,537.5 1096.3,537.5 1099.2,537.5 1102.1,537.5 1105.0,537.5 1107.9,537.5 1110.8,537.5 1113.7,537.6 1116.6,537.6 1119.5,537.6 1122.4,537.6 1125.3,537.6 1128.2,537.6 1131.1,537.6 1134.0,537.6 1136.9,537.6 1139.8,537.7 1142.7,537.7 1145.6,537.7 1148.5,537.7 1151.4,537.7 1154.3,537.7 1157.2,537.7 1160.1,537.7 1163.0,537.7 1165.9,537.7 1168.8,537.7 1171.7,537.7 1174.6,537.7 1177.5,537.8 1180.4,537.8 1183.3,537.8 1186.2,537.8 1189.1,537.8 1192.0,537.8 1194.9,537.8 1197.8,537.8 1200.7,537.8 1203.6,537.8 1206.5,537.8 1209.4,537.8 1212.3,537.8 1215.2,537.8 1218.1,537.8 1221.0,537.8 1223.9,537.8 1226.8,537.8 1229.7,537.8 1232.6,537.8 1235.5,537.9 1238.4,537.9 1241.3,537.9 1244.2,537.9 1247.1,537.9 1250.0,537.9 1252.9,537.9 1255.8,537.9 1258.7,537.9 1261.6,537.9 1264.5,537.9 1267.4,537.9 1270.3,537.9 1273.2,537.9 1276.1,537.9 1279.0,537.9 1281.9,537.9 1284.8,537.9 1287.7,537.9 1290.6,537.9 1293.5,537.9 1296.4,537.9 1299.3,537.9 1302.2,537.9 1305.1,537.9 1308.0,537.9 1310.9,537.9 1313.8,537.9 1316.7,537.9 1319.6,537.9 1322.5,537.9 1325.4,537.9 1328.3,537.9 1331.2,537.9 1334.1,537.9 1337.0,537.9 1339.9,537.9 1342.8,537.9 1345.7,537.9 1348.6,537.9 1351.5,537.9 1354.4,537.9 1357.3,537.9 1360.2,537.9 1363.1,537.9 1366.0,537.9 1368.9,537.9 1371.8,537.9 1374.7,537.9 1377.6,537.9 1380.5,537.9 1383.4,537.9 1386.3,537.9 1389.2,537.9 1392.1,537.9 1395.0,537.9 1397.9,537.9 1400.8,537.9 1403.7,537.9 1406.6,537.9 1409.5,537.9 1412.4,537.9 1415.3,537.9 1418.2,537.9 1421.1,537.9 1424.0,537.9 1426.9,537.9 1429.8,537.9 1432.7,537.9 1435.6,537.9 1438.5,537.9 1441.4,537.9 1444.3,537.9 1447.2,537.9 1450.1,537.9 1453.0,537.9 1455.9,537.9 1458.8,537.9 1461.7,537.9 1464.6,537.9 1467.5,538.0 1470.4,538.0 1473.3,538.0 1476.2,538.0 1479.1,538.0 1482.0,538.0 1484.9,538.0 1487.8,538.0 1490.7,538.0 1493.6,538.0 1496.5,538.0 1499.4,538.0 1502.3,538.0 1505.2,538.0 1508.1,538.0 1511.0,538.0 1513.9,538.0 1516.8,538.0 1519.7,538.0 1522.6,538.0 1525.5,538.0 1528.4,538.0 1531.3,538.0 1534.2,538.0 1537.1,538.0 1540.0,538.0 1542.9,538.0 1545.8,538.0 1548.7,538.0 1551.6,538.0 1554.5,538.0 1557.4,538.0 1560.3,538.0 1563.2,538.0 1566.1,538.0 1569.0,538.0 1571.9,538.0 1574.8,538.0 1577.7,538.0 1580.6,538.0 1583.5,538.0 1586.4,538.0 1589.3,538.0 1592.2,538.0 1595.1,538.0 1598.0,538.0 1600.9,538.0 1603.8,538.0 1606.7,538.0 1609.6,538.0 1612.5,538.0 1615.4,538.0 1618.3,538.0 1621.2,538.0 1624.1,538.0 1627.0,538.0 1629.9,538.0 1632.8,538.0 1635.7,538.0 1638.6,538.0 1641.5,538.0 1644.4,538.0 1647.3,538.0 1650.2,538.0 1653.1,538.0 1656.0,538.0 1658.9,538.0 1661.8,538.0 1664.7,538.0 1667.6,538.0 1670.5,538.0 1673.4,538.0 1676.3,538.0 1679.2,538.0 1682.1,538.0 1685.0,538.0 1687.9,538.0 1690.8,538.0 1693.7,538.0 1696.6,538.0 1699.5,538.0 1702.4,538.0 1705.3,538.0 1708.2,538.0 1711.1,538.0 1714.0,538.0 1716.9,538.0 1719.8,538.0 1722.7,538.0 1725.6,538.0 1728.5,538.0 1731.4,538.0 1734.3,538.0 1737.2,538.0 1740.1,538.0 1743.0,538.0 1745.9,538.0 1748.8,538.0 1751.7,538.0 1754.6,538.0 1757.5,538.0 1760.4,538.0 1763.3,538.0 1766.2,538.0 1769.1,538.0 1772.0,538.0 1774.9,538.0 1777.8,538.0 1780.7,538.0 1783.6,538.0 1786.5,538.0 1789.4,538.0 1792.3,538.0 1795.2,538.0 1798.1,538.0 1801.0,538.0 1803.9,538.0 1806.8,538.0 1809.7,538.0 1812.6,538.0 1815.5,538.0 1818.4,538.0 1821.3,538.0 1824.2,538.0 1827.1,538.0 1830.0,538.0 1832.9,538.0 1835.8,538.0 1838.7,538.0 1841.6,538.0 1844.5,538.0 1847.4,538.0 1850.3,538.0 1853.2,538.0 1856.1,538.0 1859.0,538.0 1861.9,538.0 1864.8,538.0 1867.7,538.0 1870.6,538.0 1873.5,538.0 1876.4,538.0 1879.3,538.0 1882.2,538.0 1885.1,538.0 1888.0,538.0" fill="none" stroke="#4a76ad" stroke-width="2.7" stroke-linejoin="round"/>
<polyline points="107.4,536.0 110.3,535.9 113.2,535.7 116.1,535.9 119.0,536.1 121.9,536.2 124.8,536.2 127.7,536.3 130.6,536.4 133.5,536.3 136.4,536.3 139.3,536.4 142.2,536.4 145.1,536.4 148.0,536.5 150.9,536.6 153.8,536.5 156.7,536.5 159.6,536.6 162.5,536.7 165.4,536.8 168.3,536.9 171.2,536.9 174.1,537.0 177.0,537.1 179.9,537.2 182.8,537.3 185.7,537.4 188.6,537.4 191.5,537.4 194.4,537.4 197.3,537.5 200.2,537.5 203.1,537.5 206.0,537.6 208.9,537.6 211.8,537.5 214.7,537.6 217.6,537.6 220.5,537.5 223.4,537.5 226.3,537.5 229.2,537.5 232.1,537.5 235.0,537.5 237.9,537.6 240.8,537.6 243.7,537.6 246.6,537.6 249.5,537.6 252.4,537.6 255.3,537.6 258.2,537.5 261.1,537.6 264.0,537.6 266.9,537.6 269.8,537.6 272.7,537.6 275.6,537.6 278.5,537.6 281.4,537.5 284.3,537.6 287.2,537.6 290.1,537.6 293.0,537.6 295.9,537.6 298.8,537.6 301.7,537.6 304.6,537.7 307.5,537.7 310.4,537.6 313.3,537.6 316.2,537.6 319.1,537.7 322.0,537.7 324.9,537.7 327.8,537.6 330.7,537.6 333.6,537.7 336.5,537.7 339.4,537.6 342.3,537.7 345.2,537.7 348.1,537.7 351.0,537.7 353.9,537.7 356.8,537.7 359.7,537.7 362.6,537.7 365.5,537.7 368.4,537.7 371.3,537.7 374.2,537.7 377.1,537.7 380.0,537.7 382.9,537.7 385.8,537.7 388.7,537.7 391.6,537.7 394.5,537.7 397.4,537.7 400.3,537.7 403.2,537.7 406.1,537.7 409.0,537.7 411.9,537.7 414.8,537.7 417.7,537.7 420.6,537.7 423.5,537.7 426.4,537.7 429.3,537.7 432.2,537.7 435.1,537.7 438.0,537.7 440.9,537.7 443.8,537.7 446.7,537.7 449.6,537.7 452.5,537.7 455.4,537.7 458.3,537.7 461.2,537.7 464.1,537.7 467.0,537.7 469.9,537.7 472.8,537.7 475.7,537.7 478.6,537.7 481.5,537.7 484.4,537.7 487.3,537.7 490.2,537.7 493.1,537.8 496.0,537.8 498.9,537.8 501.8,537.8 504.7,537.8 507.6,537.8 510.5,537.7 513.4,537.7 516.3,537.7 519.2,537.7 522.1,537.7 525.0,537.8 527.9,537.8 530.8,537.8 533.7,537.7 536.6,537.7 539.5,537.7 542.4,537.7 545.3,537.7 548.2,537.7 551.1,537.8 554.0,537.8 556.9,537.8 559.8,537.7 562.7,537.7 565.6,537.7 568.5,537.8 571.4,537.8 574.3,537.8 577.2,537.8 580.1,537.8 583.0,537.7 585.9,537.7 588.8,537.7 591.7,537.8 594.6,537.8 597.5,537.7 600.4,537.7 603.3,537.8 606.2,537.8 609.1,537.7 612.0,537.7 614.9,537.7 617.8,537.7 620.7,537.7 623.6,537.7 626.5,537.7 629.4,537.8 632.3,537.8 635.2,537.8 638.1,537.7 641.0,537.7 643.9,537.7 646.8,537.7 649.7,537.7 652.6,537.7 655.5,537.7 658.4,537.7 661.3,537.7 664.2,537.6 667.1,537.6 670.0,537.6 672.9,537.6 675.8,537.6 678.7,537.6 681.6,537.6 684.5,537.6 687.4,537.6 690.3,537.6 693.2,537.6 696.1,537.5 699.0,537.5 701.9,537.4 704.8,537.4 707.7,537.3 710.6,537.2 713.5,537.1 716.4,537.1 719.3,537.0 722.2,536.8 725.1,536.7 728.0,536.6 730.9,536.5 733.8,536.3 736.7,536.0 739.6,535.6 742.5,535.0 745.4,534.7 748.3,534.7 751.2,534.3 754.1,533.8 757.0,533.2 759.9,532.2 762.8,531.2 765.7,530.0 768.6,528.0 771.5,524.6 774.4,520.7 777.3,517.6 780.2,515.4 783.1,513.1 786.0,510.8 788.9,508.3 791.8,505.6 794.7,502.8 797.6,500.9 800.5,498.0 803.4,493.2 806.3,489.3 809.2,486.2 812.1,481.0 815.0,473.3 817.9,465.5 820.8,456.8 823.7,446.5 826.6,434.8 829.5,422.6 832.4,412.3 835.3,402.4 838.2,389.2 841.1,372.4 844.0,356.7 846.9,343.4 849.8,330.6 852.7,318.7 855.6,305.8 858.5,290.8 861.4,276.1 864.3,262.8 867.2,250.0 870.1,236.6 873.0,222.9 875.9,209.7 878.8,198.3 881.7,187.9 884.6,176.6 887.5,165.0 890.4,155.6 893.3,147.5 896.2,139.0 899.1,129.6 902.0,121.3 904.9,116.5 907.8,111.3 910.7,104.7 913.6,100.2 916.5,97.3 919.4,93.9 922.3,90.3 925.2,87.7 928.1,85.2 931.0,82.4 933.9,80.1 936.8,78.4 939.7,76.6 942.6,73.7 945.5,71.1 948.4,67.8 951.3,63.6 954.2,61.4 957.1,59.8 960.0,57.8 962.9,55.2 965.8,54.8 968.7,54.7 971.6,52.7 974.5,51.4 977.4,51.0 980.3,49.4 983.2,47.9 986.1,47.8 989.0,48.1 991.9,47.8 994.8,47.4 997.7,47.8 1000.6,46.9 1003.5,46.3 1006.4,45.7 1009.3,45.2 1012.2,44.9 1015.1,44.7 1018.0,44.4 1020.9,44.0 1023.8,43.7 1026.7,43.5 1029.6,43.2 1032.5,43.0 1035.4,42.8 1038.3,42.6 1041.2,42.5 1044.1,42.4 1047.0,42.4 1049.9,42.3 1052.8,42.3 1055.7,42.3 1058.6,42.2 1061.5,42.2 1064.4,42.2 1067.3,42.1 1070.2,42.1 1073.1,42.1 1076.0,42.1 1078.9,42.1 1081.8,42.0 1084.7,42.0 1087.6,42.0 1090.5,42.0 1093.4,42.0 1096.3,42.0 1099.2,41.9 1102.1,41.9 1105.0,41.9 1107.9,41.9 1110.8,41.8 1113.7,41.8 1116.6,41.7 1119.5,41.7 1122.4,41.7 1125.3,41.7 1128.2,41.7 1131.1,41.7 1134.0,41.7 1136.9,41.6 1139.8,41.6 1142.7,41.6 1145.6,41.6 1148.5,41.6 1151.4,41.6 1154.3,41.5 1157.2,41.5 1160.1,41.5 1163.0,41.5 1165.9,41.5 1168.8,41.5 1171.7,41.4 1174.6,41.4 1177.5,41.4 1180.4,41.4 1183.3,41.4 1186.2,41.4 1189.1,41.3 1192.0,41.3 1194.9,41.3 1197.8,41.3 1200.7,41.3 1203.6,41.2 1206.5,41.2 1209.4,41.2 1212.3,41.2 1215.2,41.2 1218.1,41.2 1221.0,41.2 1223.9,41.2 1226.8,41.2 1229.7,41.1 1232.6,41.1 1235.5,41.1 1238.4,41.1 1241.3,41.1 1244.2,41.1 1247.1,41.1 1250.0,41.1 1252.9,41.1 1255.8,41.1 1258.7,41.1 1261.6,41.0 1264.5,41.0 1267.4,41.0 1270.3,41.0 1273.2,41.0 1276.1,41.0 1279.0,41.0 1281.9,41.0 1284.8,41.0 1287.7,41.0 1290.6,41.0 1293.5,41.0 1296.4,41.0 1299.3,41.0 1302.2,41.0 1305.1,41.0 1308.0,41.0 1310.9,41.0 1313.8,41.0 1316.7,41.0 1319.6,41.0 1322.5,41.0 1325.4,41.0 1328.3,41.0 1331.2,41.0 1334.1,41.0 1337.0,41.0 1339.9,41.0 1342.8,41.0 1345.7,41.0 1348.6,41.0 1351.5,41.0 1354.4,41.0 1357.3,41.0 1360.2,41.0 1363.1,41.0 1366.0,41.0 1368.9,41.0 1371.8,41.0 1374.7,41.0 1377.6,41.0 1380.5,41.0 1383.4,41.0 1386.3,41.0 1389.2,41.0 1392.1,41.0 1395.0,41.0 1397.9,41.0 1400.8,41.0 1403.7,41.0 1406.6,41.0 1409.5,41.0 1412.4,41.1 1415.3,41.4 1418.2,41.8 1421.1,42.4 1424.0,43.0 1426.9,43.5 1429.8,44.2 1432.7,45.2 1435.6,46.7 1438.5,48.5 1441.4,50.4 1444.3,53.1 1447.2,57.4 1450.1,62.9 1453.0,70.1 1455.9,78.9 1458.8,90.2 1461.7,106.6 1464.6,138.0 1467.5,175.9 1470.4,212.8 1473.3,250.2 1476.2,282.4 1479.1,308.7 1482.0,332.1 1484.9,353.9 1487.8,374.2 1490.7,393.3 1493.6,411.7 1496.5,428.3 1499.4,443.2 1502.3,457.6 1505.2,471.6 1508.1,484.1 1511.0,494.9 1513.9,502.6 1516.8,507.1 1519.7,510.5 1522.6,514.4 1525.5,518.3 1528.4,520.9 1531.3,522.7 1534.2,524.3 1537.1,525.4 1540.0,526.3 1542.9,527.3 1545.8,528.3 1548.7,528.8 1551.6,529.4 1554.5,530.2 1557.4,530.8 1560.3,531.3 1563.2,531.9 1566.1,532.5 1569.0,533.0 1571.9,533.3 1574.8,533.5 1577.7,533.8 1580.6,534.1 1583.5,534.4 1586.4,534.7 1589.3,535.0 1592.2,535.3 1595.1,535.5 1598.0,535.7 1600.9,535.9 1603.8,536.2 1606.7,536.4 1609.6,536.6 1612.5,536.7 1615.4,536.9 1618.3,537.0 1621.2,537.2 1624.1,537.3 1627.0,537.4 1629.9,537.5 1632.8,537.6 1635.7,537.7 1638.6,537.7 1641.5,537.7 1644.4,537.8 1647.3,537.8 1650.2,537.8 1653.1,537.8 1656.0,537.8 1658.9,537.8 1661.8,537.8 1664.7,537.8 1667.6,537.8 1670.5,537.8 1673.4,537.8 1676.3,537.8 1679.2,537.8 1682.1,537.8 1685.0,537.8 1687.9,537.8 1690.8,537.8 1693.7,537.9 1696.6,537.9 1699.5,537.9 1702.4,537.9 1705.3,537.9 1708.2,537.9 1711.1,537.9 1714.0,537.9 1716.9,537.9 1719.8,537.9 1722.7,537.9 1725.6,537.9 1728.5,537.9 1731.4,537.9 1734.3,537.9 1737.2,537.9 1740.1,537.9 1743.0,537.9 1745.9,537.9 1748.8,537.9 1751.7,537.9 1754.6,537.9 1757.5,537.9 1760.4,537.9 1763.3,537.9 1766.2,538.0 1769.1,538.0 1772.0,538.0 1774.9,538.0 1777.8,538.0 1780.7,538.0 1783.6,538.0 1786.5,538.0 1789.4,538.0 1792.3,538.0 1795.2,538.0 1798.1,538.0 1801.0,538.0 1803.9,538.0 1806.8,538.0 1809.7,538.0 1812.6,538.0 1815.5,538.0 1818.4,538.0 1821.3,538.0 1824.2,538.0 1827.1,538.0 1830.0,538.0 1832.9,538.0 1835.8,538.0 1838.7,538.0 1841.6,538.0 1844.5,538.0 1847.4,538.0 1850.3,538.0 1853.2,538.0 1856.1,538.0 1859.0,538.0 1861.9,538.0 1864.8,538.0 1867.7,538.0 1870.6,538.0 1873.5,538.0 1876.4,538.0 1879.3,538.0 1882.2,538.0 1885.1,538.0 1888.0,538.0" fill="none" stroke="#f28e2b" stroke-width="2.7" stroke-linejoin="round"/>
<polyline points="107.4,538.0 110.3,538.0 113.2,538.0 116.1,538.0 119.0,538.0 121.9,538.0 124.8,538.0 127.7,538.0 130.6,538.0 133.5,538.0 136.4,538.0 139.3,538.0 142.2,538.0 145.1,538.0 148.0,538.0 150.9,538.0 153.8,538.0 156.7,538.0 159.6,538.0 162.5,538.0 165.4,538.0 168.3,538.0 171.2,538.0 174.1,538.0 177.0,538.0 179.9,538.0 182.8,538.0 185.7,538.0 188.6,538.0 191.5,538.0 194.4,538.0 197.3,538.0 200.2,538.0 203.1,538.0 206.0,538.0 208.9,538.0 211.8,538.0 214.7,538.0 217.6,538.0 220.5,538.0 223.4,538.0 226.3,538.0 229.2,538.0 232.1,538.0 235.0,538.0 237.9,538.0 240.8,538.0 243.7,538.0 246.6,538.0 249.5,538.0 252.4,538.0 255.3,538.0 258.2,538.0 261.1,538.0 264.0,538.0 266.9,538.0 269.8,538.0 272.7,538.0 275.6,538.0 278.5,538.0 281.4,538.0 284.3,538.0 287.2,538.0 290.1,538.0 293.0,538.0 295.9,538.0 298.8,538.0 301.7,538.0 304.6,538.0 307.5,538.0 310.4,538.0 313.3,538.0 316.2,538.0 319.1,538.0 322.0,538.0 324.9,538.0 327.8,538.0 330.7,538.0 333.6,538.0 336.5,538.0 339.4,538.0 342.3,538.0 345.2,538.0 348.1,538.0 351.0,538.0 353.9,538.0 356.8,538.0 359.7,538.0 362.6,538.0 365.5,538.0 368.4,538.0 371.3,538.0 374.2,538.0 377.1,538.0 380.0,538.0 382.9,538.0 385.8,538.0 388.7,538.0 391.6,538.0 394.5,538.0 397.4,538.0 400.3,538.0 403.2,538.0 406.1,538.0 409.0,538.0 411.9,538.0 414.8,538.0 417.7,538.0 420.6,538.0 423.5,538.0 426.4,538.0 429.3,538.0 432.2,538.0 435.1,538.0 438.0,538.0 440.9,538.0 443.8,538.0 446.7,538.0 449.6,538.0 452.5,538.0 455.4,538.0 458.3,538.0 461.2,538.0 464.1,537.6 467.0,537.2 469.9,537.0 472.8,537.2 475.7,537.6 478.6,537.9 481.5,538.0 484.4,538.0 487.3,538.0 490.2,538.0 493.1,538.0 496.0,538.0 498.9,538.0 501.8,538.0 504.7,538.0 507.6,538.0 510.5,538.0 513.4,538.0 516.3,538.0 519.2,538.0 522.1,538.0 525.0,538.0 527.9,538.0 530.8,538.0 533.7,538.0 536.6,538.0 539.5,538.0 542.4,538.0 545.3,538.0 548.2,538.0 551.1,538.0 554.0,538.0 556.9,538.0 559.8,538.0 562.7,538.0 565.6,538.0 568.5,538.0 571.4,538.0 574.3,538.0 577.2,538.0 580.1,538.0 583.0,538.0 585.9,538.0 588.8,538.0 591.7,538.0 594.6,538.0 597.5,538.0 600.4,538.0 603.3,538.0 606.2,538.0 609.1,538.0 612.0,538.0 614.9,538.0 617.8,538.0 620.7,538.0 623.6,538.0 626.5,538.0 629.4,538.0 632.3,538.0 635.2,538.0 638.1,538.0 641.0,538.0 643.9,538.0 646.8,538.0 649.7,538.0 652.6,538.0 655.5,538.0 658.4,538.0 661.3,538.0 664.2,538.0 667.1,538.0 670.0,538.0 672.9,538.0 675.8,538.0 678.7,538.0 681.6,538.0 684.5,538.0 687.4,538.0 690.3,538.0 693.2,538.0 696.1,538.0 699.0,538.0 701.9,538.0 704.8,538.0 707.7,538.0 710.6,538.0 713.5,538.0 716.4,538.0 719.3,538.0 722.2,538.0 725.1,538.0 728.0,538.0 730.9,538.0 733.8,538.0 736.7,538.0 739.6,538.0 742.5,538.0 745.4,538.0 748.3,538.0 751.2,538.0 754.1,538.0 757.0,538.0 759.9,538.0 762.8,538.0 765.7,538.0 768.6,538.0 771.5,538.0 774.4,538.0 777.3,538.0 780.2,538.0 783.1,538.0 786.0,538.0 788.9,538.0 791.8,538.0 794.7,538.0 797.6,538.0 800.5,538.0 803.4,538.0 806.3,538.0 809.2,538.0 812.1,538.0 815.0,538.0 817.9,538.0 820.8,538.0 823.7,538.0 826.6,538.0 829.5,538.0 832.4,538.0 835.3,538.0 838.2,538.0 841.1,538.0 844.0,538.0 846.9,538.0 849.8,538.0 852.7,538.0 855.6,538.0 858.5,538.0 861.4,538.0 864.3,538.0 867.2,538.0 870.1,538.0 873.0,538.0 875.9,538.0 878.8,538.0 881.7,538.0 884.6,538.0 887.5,538.0 890.4,538.0 893.3,538.0 896.2,538.0 899.1,538.0 902.0,538.0 904.9,538.0 907.8,538.0 910.7,538.0 913.6,538.0 916.5,538.0 919.4,538.0 922.3,538.0 925.2,538.0 928.1,538.0 931.0,538.0 933.9,538.0 936.8,538.0 939.7,538.0 942.6,538.0 945.5,538.0 948.4,538.0 951.3,538.0 954.2,538.0 957.1,538.0 960.0,538.0 962.9,538.0 965.8,538.0 968.7,538.0 971.6,538.0 974.5,538.0 977.4,538.0 980.3,538.0 983.2,538.0 986.1,538.0 989.0,538.0 991.9,538.0 994.8,538.0 997.7,538.0 1000.6,538.0 1003.5,538.0 1006.4,538.0 1009.3,538.0 1012.2,538.0 1015.1,538.0 1018.0,538.0 1020.9,538.0 1023.8,538.0 1026.7,538.0 1029.6,538.0 1032.5,538.0 1035.4,538.0 1038.3,538.0 1041.2,538.0 1044.1,538.0 1047.0,538.0 1049.9,538.0 1052.8,538.0 1055.7,538.0 1058.6,538.0 1061.5,538.0 1064.4,538.0 1067.3,538.0 1070.2,538.0 1073.1,538.0 1076.0,538.0 1078.9,538.0 1081.8,538.0 1084.7,538.0 1087.6,538.0 1090.5,538.0 1093.4,538.0 1096.3,538.0 1099.2,538.0 1102.1,538.0 1105.0,538.0 1107.9,538.0 1110.8,538.0 1113.7,538.0 1116.6,538.0 1119.5,538.0 1122.4,538.0 1125.3,538.0 1128.2,538.0 1131.1,538.0 1134.0,538.0 1136.9,538.0 1139.8,538.0 1142.7,538.0 1145.6,538.0 1148.5,538.0 1151.4,538.0 1154.3,538.0 1157.2,538.0 1160.1,538.0 1163.0,538.0 1165.9,538.0 1168.8,538.0 1171.7,538.0 1174.6,538.0 1177.5,538.0 1180.4,538.0 1183.3,538.0 1186.2,538.0 1189.1,538.0 1192.0,538.0 1194.9,538.0 1197.8,538.0 1200.7,538.0 1203.6,538.0 1206.5,538.0 1209.4,538.0 1212.3,538.0 1215.2,538.0 1218.1,538.0 1221.0,538.0 1223.9,538.0 1226.8,538.0 1229.7,538.0 1232.6,538.0 1235.5,538.0 1238.4,538.0 1241.3,538.0 1244.2,538.0 1247.1,538.0 1250.0,538.0 1252.9,538.0 1255.8,538.0 1258.7,538.0 1261.6,538.0 1264.5,538.0 1267.4,538.0 1270.3,538.0 1273.2,538.0 1276.1,538.0 1279.0,538.0 1281.9,538.0 1284.8,538.0 1287.7,538.0 1290.6,538.0 1293.5,538.0 1296.4,538.0 1299.3,538.0 1302.2,538.0 1305.1,538.0 1308.0,538.0 1310.9,538.0 1313.8,538.0 1316.7,538.0 1319.6,538.0 1322.5,538.0 1325.4,538.0 1328.3,538.0 1331.2,538.0 1334.1,538.0 1337.0,538.0 1339.9,538.0 1342.8,538.0 1345.7,538.0 1348.6,538.0 1351.5,538.0 1354.4,538.0 1357.3,538.0 1360.2,538.0 1363.1,538.0 1366.0,538.0 1368.9,538.0 1371.8,538.0 1374.7,538.0 1377.6,538.0 1380.5,538.0 1383.4,538.0 1386.3,537.9 1389.2,537.8 1392.1,537.7 1395.0,537.5 1397.9,537.3 1400.8,537.1 1403.7,536.9 1406.6,536.7 1409.5,536.5 1412.4,536.2 1415.3,536.0 1418.2,535.6 1421.1,535.4 1424.0,535.0 1426.9,534.7 1429.8,534.0 1432.7,533.5 1435.6,532.6 1438.5,531.9 1441.4,530.5 1444.3,528.8 1447.2,525.7 1450.1,520.0 1453.0,513.0 1455.9,504.8 1458.8,491.3 1461.7,471.6 1464.6,442.0 1467.5,407.5 1470.4,372.1 1473.3,335.6 1476.2,302.5 1479.1,270.8 1482.0,240.2 1484.9,214.1 1487.8,192.6 1490.7,176.4 1493.6,163.8 1496.5,151.8 1499.4,141.3 1502.3,130.9 1505.2,122.1 1508.1,112.1 1511.0,98.5 1513.9,83.3 1516.8,73.2 1519.7,69.7 1522.6,65.0 1525.5,62.8 1528.4,60.8 1531.3,58.8 1534.2,56.9 1537.1,55.9 1540.0,54.4 1542.9,53.2 1545.8,51.8 1548.7,51.1 1551.6,49.9 1554.5,49.0 1557.4,48.4 1560.3,47.5 1563.2,47.1 1566.1,46.7 1569.0,46.1 1571.9,45.7 1574.8,45.3 1577.7,44.8 1580.6,44.3 1583.5,44.1 1586.4,43.8 1589.3,43.6 1592.2,43.3 1595.1,43.2 1598.0,43.1 1600.9,43.0 1603.8,43.0 1606.7,43.0 1609.6,43.2 1612.5,43.2 1615.4,43.2 1618.3,43.3 1621.2,43.6 1624.1,43.7 1627.0,43.7 1629.9,44.0 1632.8,44.1 1635.7,44.2 1638.6,44.4 1641.5,44.4 1644.4,44.5 1647.3,44.7 1650.2,44.7 1653.1,44.8 1656.0,44.9 1658.9,45.0 1661.8,45.2 1664.7,45.1 1667.6,45.4 1670.5,45.3 1673.4,45.6 1676.3,45.7 1679.2,45.8 1682.1,45.9 1685.0,46.0 1687.9,46.1 1690.8,46.2 1693.7,46.2 1696.6,46.2 1699.5,46.5 1702.4,46.4 1705.3,46.7 1708.2,46.8 1711.1,46.9 1714.0,46.8 1716.9,47.1 1719.8,47.1 1722.7,46.9 1725.6,46.9 1728.5,47.0 1731.4,47.4 1734.3,47.3 1737.2,47.3 1740.1,47.4 1743.0,47.7 1745.9,47.6 1748.8,47.9 1751.7,47.9 1754.6,47.5 1757.5,47.8 1760.4,48.2 1763.3,48.2 1766.2,48.1 1769.1,48.3 1772.0,48.2 1774.9,48.5 1777.8,48.5 1780.7,48.6 1783.6,48.9 1786.5,49.2 1789.4,49.2 1792.3,49.3 1795.2,49.4 1798.1,49.7 1801.0,50.0 1803.9,50.2 1806.8,50.8 1809.7,50.7 1812.6,50.9 1815.5,51.5 1818.4,51.9 1821.3,51.8 1824.2,52.1 1827.1,52.4 1830.0,52.5 1832.9,52.6 1835.8,52.7 1838.7,52.3 1841.6,52.2 1844.5,52.7 1847.4,52.4 1850.3,52.3 1853.2,52.5 1856.1,52.5 1859.0,52.4 1861.9,52.7 1864.8,52.2 1867.7,52.2 1870.6,51.6 1873.5,51.8 1876.4,52.0 1879.3,51.8 1882.2,51.3 1885.1,51.2 1888.0,51.4" fill="none" stroke="#4da142" stroke-width="2.7" stroke-linejoin="round"/>
<line x1="107.4" y1="40.0" x2="107.4" y2="538.0" stroke="#444" stroke-width="1.5" />
<line x1="107.4" y1="538.0" x2="1889.0" y2="538.0" stroke="#444" stroke-width="1.5" />
<line x1="97.2" y1="538.0" x2="107.4" y2="538.0" stroke="#444" stroke-width="1.3" />
<text x="86.0" y="547.0" font-size="26.5" text-anchor="end" fill="#222">0</text>
<line x1="97.2" y1="413.8" x2="107.4" y2="413.8" stroke="#444" stroke-width="1.3" />
<text x="86.0" y="422.8" font-size="26.5" text-anchor="end" fill="#222">25</text>
<line x1="97.2" y1="289.5" x2="107.4" y2="289.5" stroke="#444" stroke-width="1.3" />
<text x="86.0" y="298.5" font-size="26.5" text-anchor="end" fill="#222">50</text>
<line x1="97.2" y1="165.2" x2="107.4" y2="165.2" stroke="#444" stroke-width="1.3" />
<text x="86.0" y="174.2" font-size="26.5" text-anchor="end" fill="#222">75</text>
<line x1="97.2" y1="41.0" x2="107.4" y2="41.0" stroke="#444" stroke-width="1.3" />
<text x="86.0" y="50.0" font-size="26.5" text-anchor="end" fill="#222">100</text>
<line x1="107.4" y1="538.0" x2="107.4" y2="547.0" stroke="#444" stroke-width="1.5" />
<text x="107.4" y="576.5" font-size="26" text-anchor="middle" fill="#222">Sep 2020</text>
<line x1="461.7" y1="538.0" x2="461.7" y2="547.0" stroke="#444" stroke-width="1.5" />
<text x="461.7" y="576.5" font-size="26" text-anchor="middle" fill="#222">Jan 2021</text>
<line x1="810.2" y1="538.0" x2="810.2" y2="547.0" stroke="#444" stroke-width="1.5" />
<text x="810.2" y="576.5" font-size="26" text-anchor="middle" fill="#222">May 2021</text>
<line x1="1168.0" y1="538.0" x2="1168.0" y2="547.0" stroke="#444" stroke-width="1.5" />
<text x="1168.0" y="576.5" font-size="26" text-anchor="middle" fill="#222">Sep 2021</text>
<line x1="1522.5" y1="538.0" x2="1522.5" y2="547.0" stroke="#444" stroke-width="1.5" />
<text x="1522.5" y="576.5" font-size="26" text-anchor="middle" fill="#222">Jan 2022</text>
<line x1="1871.6" y1="538.0" x2="1871.6" y2="547.0" stroke="#444" stroke-width="1.5" />
<text x="1871.6" y="576.5" font-size="26" text-anchor="middle" fill="#222">May 2022</text>
<text x="23.4" y="289.4" font-size="26" text-anchor="middle" fill="#222" transform="rotate(-90 23.4 289.4)">Prevalence (%)</text>
<rect x="122.5" y="54.5" width="38.5" height="38.0" fill="#b4c2dc" />
<line x1="126.5" y1="73.5" x2="157.0" y2="73.5" stroke="#4a76ad" stroke-width="3" />
<text x="168.0" y="81.0" font-size="24.5" fill="#222" textLength="58.0" lengthAdjust="spacingAndGlyphs">Alpha</text>
<rect x="234.5" y="54.5" width="38.5" height="38.0" fill="#fbcf9e" />
<line x1="238.5" y1="73.5" x2="269.0" y2="73.5" stroke="#f28e2b" stroke-width="3" />
<text x="280.0" y="81.0" font-size="24.5" fill="#222" textLength="51.0" lengthAdjust="spacingAndGlyphs">Delta</text>
<rect x="342.5" y="54.5" width="38.5" height="38.0" fill="#bddbb2" />
<line x1="346.5" y1="73.5" x2="377.0" y2="73.5" stroke="#4da142" stroke-width="3" />
<text x="388.0" y="81.0" font-size="24.5" fill="#222" textLength="88.0" lengthAdjust="spacingAndGlyphs">Omicron</text>
<text x="0.5" y="21.0" font-size="35" font-weight="bold" fill="#1a1a1a" stroke="#1a1a1a" stroke-width="1.6" stroke-linejoin="round">a</text>
<text x="1.0" y="613.4" font-size="35" font-weight="bold" fill="#1a1a1a" stroke="#1a1a1a" stroke-width="1.6" stroke-linejoin="round">b</text>
<rect x="33.8" y="660.8" width="576.6" height="95.6" rx="5" fill="#0c3f68"/>
<text x="321.5" y="699.4" font-size="23.5" text-anchor="middle" fill="#ffffff" textLength="386.0" lengthAdjust="spacingAndGlyphs">SELECT MY OWN LINEAGE AND/OR</text>
<text x="321.5" y="735.5" font-size="23.5" text-anchor="middle" fill="#ffffff" textLength="147.0" lengthAdjust="spacingAndGlyphs">MUTATION(S)</text>
<circle cx="55.9" cy="809" r="22" fill="#1d6a98"/>
<text x="55.9" y="819.0" font-size="28" text-anchor="middle" fill="#ffffff">1</text>
<circle cx="55.9" cy="1021.5" r="22" fill="#1d6a98"/>
<text x="55.9" y="1031.5" font-size="28" text-anchor="middle" fill="#ffffff">2</text>
<text x="103.0" y="820.5" font-size="30" fill="#2176a5" textLength="280.0" lengthAdjust="spacingAndGlyphs">Choose variant type</text>
<text x="103.0" y="1032.6" font-size="30" fill="#2176a5" textLength="301.0" lengthAdjust="spacingAndGlyphs">Select PANGO lineage</text>
<circle cx="128" cy="860.5" r="11.5" fill="#fff" stroke="#1d5f8e" stroke-width="3"/>
<circle cx="128" cy="860.5" r="6.5" fill="#1d5f8e"/>
<circle cx="128" cy="906.5" r="11.5" fill="#fff" stroke="#888" stroke-width="2.5"/>
<circle cx="128" cy="952.5" r="11.5" fill="#fff" stroke="#888" stroke-width="2.5"/>
<text x="154.4" y="866.5" font-size="26" fill="#2c3e55" textLength="186.0" lengthAdjust="spacingAndGlyphs">PANGO lineage</text>
<text x="154.4" y="912.5" font-size="26" fill="#2c3e55" textLength="361.0" lengthAdjust="spacingAndGlyphs">PANGO lineage + mutation(s)</text>
<text x="154.4" y="958.5" font-size="26" fill="#2c3e55" textLength="143.0" lengthAdjust="spacingAndGlyphs">Mutation(s)</text>
<text x="106.6" y="1072.7" font-size="20" fill="#333" textLength="90.0" lengthAdjust="spacingAndGlyphs">Based on</text>
<text x="204.0" y="1072.7" font-size="20" fill="#4a7cc4" textLength="159.0" lengthAdjust="spacingAndGlyphs">PANGO lineages</text>
<rect x="106.6" y="1085" width="486.9" height="55" rx="5" fill="#fff" stroke="#d5dbe2" stroke-width="1.6"/>
<text x="125.8" y="1120.8" font-size="24" fill="#6c757d" textLength="241.0" lengthAdjust="spacingAndGlyphs">Select PANGO lineage</text>
<rect x="107" y="1250" width="203.4" height="55.4" rx="5" fill="#fff" stroke="#6a717a" stroke-width="1.8"/>
<text x="125.8" y="1286.3" font-size="24" fill="#6c6f73" textLength="165.0" lengthAdjust="spacingAndGlyphs">Clear selection</text>
<rect x="389" y="1249.5" width="75.8" height="55.9" rx="5" fill="#dcdcdc"/>
<text x="426.9" y="1286.3" font-size="24" text-anchor="middle" fill="#8a8a8a">GO</text>
<text x="618.0" y="612.0" font-size="35" font-weight="bold" fill="#1a1a1a" stroke="#1a1a1a" stroke-width="1.6" stroke-linejoin="round">c</text>
<rect x="762.0" y="611.1" width="393.2" height="30.4" fill="#ecb5d4" />
<rect x="762.0" y="651.8" width="6.0" height="30.4" fill="#ecb5d4" />
<line x1="753.7" y1="626.3" x2="762.0" y2="626.3" stroke="#444" stroke-width="1.3" />
<text x="742.3" y="635.0" font-size="25" text-anchor="end" fill="#222">AY.4.2</text>
<text x="1147.3" y="635.3" font-size="25" text-anchor="end" font-weight="bold" fill="#1a1a1a" textLength="54.0" lengthAdjust="spacingAndGlyphs">84%</text>
<line x1="753.7" y1="667.0" x2="762.0" y2="667.0" stroke="#444" stroke-width="1.3" />
<text x="742.3" y="675.7" font-size="25" text-anchor="end" fill="#222">B.1.177.68</text>
<text x="772.6" y="676.0" font-size="25" font-weight="bold" fill="#1a1a1a">2%</text>
<line x1="753.7" y1="707.7" x2="762.0" y2="707.7" stroke="#444" stroke-width="1.3" />
<text x="742.3" y="716.4" font-size="25" text-anchor="end" fill="#222">B.1.177.6</text>
<text x="767.3" y="716.2" font-size="25" font-weight="bold" fill="#1a1a1a" textLength="75.0" lengthAdjust="spacingAndGlyphs">&lt;0.5%</text>
<line x1="753.7" y1="748.5" x2="762.0" y2="748.5" stroke="#444" stroke-width="1.3" />
<text x="742.3" y="757.2" font-size="25" text-anchor="end" fill="#222">AY.40</text>
<text x="767.3" y="757.0" font-size="25" font-weight="bold" fill="#1a1a1a" textLength="75.0" lengthAdjust="spacingAndGlyphs">&lt;0.5%</text>
<line x1="753.7" y1="789.2" x2="762.0" y2="789.2" stroke="#444" stroke-width="1.3" />
<text x="742.3" y="797.9" font-size="25" text-anchor="end" fill="#222">AY.36</text>
<text x="767.3" y="797.7" font-size="25" font-weight="bold" fill="#1a1a1a" textLength="75.0" lengthAdjust="spacingAndGlyphs">&lt;0.5%</text>
<line x1="753.7" y1="829.9" x2="762.0" y2="829.9" stroke="#444" stroke-width="1.3" />
<text x="742.3" y="838.6" font-size="25" text-anchor="end" fill="#222">B.1.617.2</text>
<text x="767.3" y="838.4" font-size="25" font-weight="bold" fill="#1a1a1a" textLength="75.0" lengthAdjust="spacingAndGlyphs">&lt;0.5%</text>
<line x1="753.7" y1="870.6" x2="762.0" y2="870.6" stroke="#444" stroke-width="1.3" />
<text x="742.3" y="879.3" font-size="25" text-anchor="end" fill="#222">AY.39</text>
<text x="767.3" y="879.1" font-size="25" font-weight="bold" fill="#1a1a1a" textLength="75.0" lengthAdjust="spacingAndGlyphs">&lt;0.5%</text>
<line x1="753.7" y1="911.3" x2="762.0" y2="911.3" stroke="#444" stroke-width="1.3" />
<text x="742.3" y="920.0" font-size="25" text-anchor="end" fill="#222">AY.26</text>
<text x="767.3" y="919.8" font-size="25" font-weight="bold" fill="#1a1a1a" textLength="75.0" lengthAdjust="spacingAndGlyphs">&lt;0.5%</text>
<line x1="753.7" y1="952.1" x2="762.0" y2="952.1" stroke="#444" stroke-width="1.3" />
<text x="742.3" y="960.8" font-size="25" text-anchor="end" fill="#222">AY.46</text>
<text x="767.3" y="960.6" font-size="25" font-weight="bold" fill="#1a1a1a" textLength="75.0" lengthAdjust="spacingAndGlyphs">&lt;0.5%</text>
<line x1="753.7" y1="992.8" x2="762.0" y2="992.8" stroke="#444" stroke-width="1.3" />
<text x="742.3" y="1001.5" font-size="25" text-anchor="end" fill="#222">AY.42</text>
<text x="767.3" y="1001.3" font-size="25" font-weight="bold" fill="#1a1a1a" textLength="75.0" lengthAdjust="spacingAndGlyphs">&lt;0.5%</text>
<line x1="753.7" y1="1033.5" x2="762.0" y2="1033.5" stroke="#444" stroke-width="1.3" />
<text x="742.3" y="1042.2" font-size="25" text-anchor="end" fill="#222">AY.6</text>
<text x="767.3" y="1042.0" font-size="25" font-weight="bold" fill="#1a1a1a" textLength="75.0" lengthAdjust="spacingAndGlyphs">&lt;0.5%</text>
<line x1="753.7" y1="1074.2" x2="762.0" y2="1074.2" stroke="#444" stroke-width="1.3" />
<text x="742.3" y="1082.9" font-size="25" text-anchor="end" fill="#222">B.1.177</text>
<text x="767.3" y="1082.7" font-size="25" font-weight="bold" fill="#1a1a1a" textLength="75.0" lengthAdjust="spacingAndGlyphs">&lt;0.5%</text>
<line x1="753.7" y1="1114.9" x2="762.0" y2="1114.9" stroke="#444" stroke-width="1.3" />
<text x="742.3" y="1123.6" font-size="25" text-anchor="end" fill="#222">AY.47</text>
<text x="767.3" y="1123.4" font-size="25" font-weight="bold" fill="#1a1a1a" textLength="75.0" lengthAdjust="spacingAndGlyphs">&lt;0.5%</text>
<line x1="753.7" y1="1155.7" x2="762.0" y2="1155.7" stroke="#444" stroke-width="1.3" />
<text x="742.3" y="1164.4" font-size="25" text-anchor="end" fill="#222">AY.9</text>
<text x="767.3" y="1164.2" font-size="25" font-weight="bold" fill="#1a1a1a" textLength="75.0" lengthAdjust="spacingAndGlyphs">&lt;0.5%</text>
<line x1="753.7" y1="1196.4" x2="762.0" y2="1196.4" stroke="#444" stroke-width="1.3" />
<text x="742.3" y="1205.1" font-size="25" text-anchor="end" fill="#222">AY.43</text>
<text x="767.3" y="1204.9" font-size="25" font-weight="bold" fill="#1a1a1a" textLength="75.0" lengthAdjust="spacingAndGlyphs">&lt;0.5%</text>
<line x1="753.7" y1="1237.1" x2="762.0" y2="1237.1" stroke="#444" stroke-width="1.3" />
<text x="742.3" y="1245.8" font-size="25" text-anchor="end" fill="#222">AY.4</text>
<text x="767.3" y="1245.6" font-size="25" font-weight="bold" fill="#1a1a1a" textLength="75.0" lengthAdjust="spacingAndGlyphs">&lt;0.5%</text>
<line x1="753.7" y1="1277.8" x2="762.0" y2="1277.8" stroke="#444" stroke-width="1.3" />
<text x="742.3" y="1286.5" font-size="25" text-anchor="end" fill="#222">B.1.1.7</text>
<text x="767.3" y="1286.3" font-size="25" font-weight="bold" fill="#1a1a1a" textLength="75.0" lengthAdjust="spacingAndGlyphs">&lt;0.5%</text>
<line x1="762.0" y1="611.0" x2="762.0" y2="1294.0" stroke="#333" stroke-width="1.5" />
<line x1="762.0" y1="1294.0" x2="1202.0" y2="1294.0" stroke="#444" stroke-width="1.5" />
<line x1="762.0" y1="1294.0" x2="762.0" y2="1301.5" stroke="#444" stroke-width="1.5" />
<text x="762.0" y="1330.6" font-size="26.5" text-anchor="middle" fill="#222">0</text>
<line x1="856.1" y1="1294.0" x2="856.1" y2="1301.5" stroke="#444" stroke-width="1.5" />
<text x="856.1" y="1330.6" font-size="26.5" text-anchor="middle" fill="#222">20</text>
<line x1="950.2" y1="1294.0" x2="950.2" y2="1301.5" stroke="#444" stroke-width="1.5" />
<text x="950.2" y="1330.6" font-size="26.5" text-anchor="middle" fill="#222">40</text>
<line x1="1044.3" y1="1294.0" x2="1044.3" y2="1301.5" stroke="#444" stroke-width="1.5" />
<text x="1044.3" y="1330.6" font-size="26.5" text-anchor="middle" fill="#222">60</text>
<line x1="1138.4" y1="1294.0" x2="1138.4" y2="1301.5" stroke="#444" stroke-width="1.5" />
<text x="1138.4" y="1330.6" font-size="26.5" text-anchor="middle" fill="#222">80</text>
<text x="943.4" y="1372.0" font-size="26" text-anchor="middle" fill="#222" textLength="176.0" lengthAdjust="spacingAndGlyphs">Prevalence (%)</text>
<text x="1216.0" y="624.0" font-size="35" font-weight="bold" fill="#1a1a1a" stroke="#1a1a1a" stroke-width="1.6" stroke-linejoin="round">d</text>
<text x="1281.7" y="627.8" font-size="18" fill="#a6a6a6" textLength="667.0" lengthAdjust="spacingAndGlyphs">Latest dates are noisy due to fewer samples, or missing from sequencing delays</text>
<defs><pattern id="hatch" patternUnits="userSpaceOnUse" x="1868" y="641" width="14.6" height="7.3"><rect width="14.6" height="7.3" fill="#f1f1f1"/><path d="M0,7.3 L14.6,0 M-14.6,7.3 L14.6,-7.3 M0,14.6 L29.2,0" stroke="#c8c8c8" stroke-width="2.1"/></pattern></defs>
<rect x="1868.0" y="641.0" width="69.6" height="664.4" fill="url(#hatch)" />
<path d="M1267.9,1302.4 L1270.9,1302.4 L1273.9,1302.3 L1276.9,1302.3 L1279.9,1302.3 L1282.9,1302.3 L1285.9,1302.2 L1288.9,1302.2 L1291.9,1302.1 L1294.9,1302.0 L1297.9,1302.0 L1300.9,1301.9 L1303.9,1301.8 L1306.9,1301.7 L1309.9,1301.7 L1312.9,1301.6 L1315.9,1301.5 L1318.9,1301.4 L1321.9,1301.2 L1324.9,1301.0 L1327.9,1300.8 L1330.9,1300.6 L1333.9,1300.4 L1336.9,1300.1 L1339.9,1299.8 L1342.9,1299.5 L1345.9,1299.1 L1348.9,1298.8 L1351.9,1298.3 L1354.9,1297.8 L1357.9,1297.1 L1360.9,1296.4 L1363.9,1295.6 L1366.9,1294.7 L1369.9,1293.8 L1372.9,1292.8 L1375.9,1291.8 L1378.9,1290.7 L1381.9,1289.3 L1384.9,1287.7 L1387.9,1286.1 L1390.9,1284.7 L1393.9,1283.7 L1396.9,1282.7 L1399.9,1281.8 L1402.9,1280.8 L1405.9,1279.7 L1408.9,1278.3 L1411.9,1276.7 L1414.9,1271.8 L1417.9,1271.7 L1420.9,1272.7 L1423.9,1268.4 L1426.9,1265.2 L1429.9,1263.9 L1432.9,1260.0 L1435.9,1258.5 L1438.9,1254.5 L1441.9,1250.1 L1444.9,1250.0 L1447.9,1244.7 L1450.9,1241.2 L1453.9,1235.1 L1456.9,1231.5 L1459.9,1224.6 L1462.9,1218.0 L1465.9,1210.3 L1468.9,1204.2 L1471.9,1202.2 L1474.9,1195.5 L1477.9,1187.3 L1480.9,1185.1 L1483.9,1176.1 L1486.9,1168.3 L1489.9,1158.7 L1492.9,1152.4 L1495.9,1147.5 L1498.9,1142.4 L1501.9,1137.9 L1504.9,1128.9 L1507.9,1120.7 L1510.9,1106.1 L1513.9,1090.7 L1516.9,1080.2 L1519.9,1072.7 L1522.9,1067.5 L1525.9,1057.8 L1528.9,1046.5 L1531.9,1028.9 L1534.9,1015.5 L1537.9,1003.3 L1540.9,989.1 L1543.9,977.3 L1546.9,960.6 L1549.9,951.8 L1552.9,942.8 L1555.9,938.7 L1558.9,929.3 L1561.9,924.6 L1564.9,915.3 L1567.9,899.3 L1570.9,884.5 L1573.9,866.6 L1576.9,848.2 L1579.9,838.0 L1582.9,823.3 L1585.9,810.5 L1588.9,801.7 L1591.9,796.0 L1594.9,790.0 L1597.9,782.3 L1600.9,770.3 L1603.9,763.6 L1606.9,752.5 L1609.9,743.8 L1612.9,738.2 L1615.9,729.3 L1618.9,724.5 L1621.9,715.6 L1624.9,711.1 L1627.9,705.9 L1630.9,701.9 L1633.9,696.7 L1636.9,695.3 L1639.9,689.7 L1642.9,683.0 L1645.9,682.5 L1648.9,673.6 L1651.9,673.7 L1654.9,666.3 L1657.9,666.0 L1660.9,661.2 L1663.9,660.1 L1666.9,660.8 L1669.9,654.7 L1672.9,652.7 L1675.9,653.5 L1678.9,652.3 L1681.9,650.7 L1684.9,650.6 L1687.9,646.1 L1690.9,647.4 L1693.9,645.3 L1696.9,645.2 L1699.9,643.5 L1702.9,642.9 L1705.9,637.5 L1708.9,638.4 L1711.9,635.7 L1714.9,636.8 L1717.9,638.6 L1720.9,639.5 L1723.9,640.8 L1726.9,639.4 L1729.9,638.7 L1732.9,637.5 L1735.9,639.2 L1738.9,639.0 L1741.9,636.1 L1744.9,640.5 L1747.9,641.5 L1750.9,638.8 L1753.9,635.7 L1756.9,638.4 L1759.9,635.0 L1762.9,635.1 L1765.9,636.9 L1768.9,633.4 L1771.9,635.3 L1774.9,636.1 L1777.9,638.5 L1780.9,638.0 L1783.9,641.0 L1786.9,643.2 L1789.9,648.8 L1792.9,652.5 L1795.9,650.2 L1798.9,654.3 L1801.9,654.0 L1804.9,655.4 L1807.9,657.0 L1810.9,658.4 L1813.9,658.5 L1816.9,662.1 L1819.9,664.2 L1822.9,666.3 L1825.9,666.7 L1828.9,669.2 L1831.9,669.9 L1834.9,670.9 L1837.9,671.6 L1840.9,667.2 L1843.9,666.6 L1846.9,667.8 L1849.9,666.4 L1852.9,665.9 L1855.9,665.9 L1858.9,665.8 L1861.9,668.3 L1864.9,665.5 L1864.9,736.7 L1861.9,736.2 L1858.9,730.6 L1855.9,727.3 L1852.9,724.2 L1849.9,721.4 L1846.9,719.5 L1843.9,715.1 L1840.9,712.5 L1837.9,713.6 L1834.9,709.7 L1831.9,705.5 L1828.9,702.6 L1825.9,699.8 L1822.9,699.2 L1819.9,696.9 L1816.9,694.6 L1813.9,690.7 L1810.9,690.4 L1807.9,688.8 L1804.9,686.9 L1801.9,685.3 L1798.9,685.4 L1795.9,681.1 L1792.9,683.1 L1789.9,679.2 L1786.9,673.3 L1783.9,670.9 L1780.9,667.6 L1777.9,668.0 L1774.9,665.3 L1771.9,664.3 L1768.9,662.2 L1765.9,665.4 L1762.9,663.3 L1759.9,663.0 L1756.9,666.2 L1753.9,663.2 L1750.9,666.1 L1747.9,668.6 L1744.9,667.4 L1741.9,662.7 L1738.9,665.4 L1735.9,665.4 L1732.9,663.5 L1729.9,664.4 L1726.9,664.8 L1723.9,666.0 L1720.9,664.5 L1717.9,663.4 L1714.9,661.3 L1711.9,660.0 L1708.9,662.4 L1705.9,661.3 L1702.9,666.5 L1699.9,666.8 L1696.9,668.3 L1693.9,668.2 L1690.9,670.0 L1687.9,668.5 L1684.9,672.8 L1681.9,672.7 L1678.9,674.0 L1675.9,675.0 L1672.9,674.0 L1669.9,675.7 L1666.9,681.6 L1663.9,680.6 L1660.9,681.5 L1657.9,686.1 L1654.9,686.2 L1651.9,693.3 L1648.9,693.0 L1645.9,701.6 L1642.9,701.9 L1639.9,708.4 L1636.9,713.8 L1633.9,714.9 L1630.9,719.9 L1627.9,723.7 L1624.9,728.7 L1621.9,732.9 L1618.9,741.6 L1615.9,746.1 L1612.9,754.8 L1609.9,760.1 L1606.9,768.6 L1603.9,779.5 L1600.9,786.0 L1597.9,788.4 L1594.9,796.1 L1591.9,802.1 L1588.9,807.8 L1585.9,816.5 L1582.9,829.4 L1579.9,844.1 L1576.9,854.3 L1573.9,872.6 L1570.9,890.6 L1567.9,905.4 L1564.9,921.4 L1561.9,930.7 L1558.9,935.3 L1555.9,944.8 L1552.9,948.8 L1549.9,957.9 L1546.9,966.7 L1543.9,983.4 L1540.9,995.2 L1537.9,1009.4 L1534.9,1021.5 L1531.9,1035.0 L1528.9,1052.6 L1525.9,1063.8 L1522.9,1073.5 L1519.9,1078.8 L1516.9,1086.3 L1513.9,1096.8 L1510.9,1112.2 L1507.9,1126.8 L1504.9,1134.9 L1501.9,1143.9 L1498.9,1148.5 L1495.9,1153.6 L1492.9,1158.5 L1489.9,1164.8 L1486.9,1174.4 L1483.9,1182.2 L1480.9,1191.2 L1477.9,1193.3 L1474.9,1201.6 L1471.9,1208.3 L1468.9,1210.2 L1465.9,1216.4 L1462.9,1224.1 L1459.9,1230.7 L1456.9,1237.6 L1453.9,1241.2 L1450.9,1247.3 L1447.9,1250.8 L1444.9,1256.0 L1441.9,1256.2 L1438.9,1260.6 L1435.9,1264.6 L1432.9,1266.1 L1429.9,1270.0 L1426.9,1271.3 L1423.9,1274.5 L1420.9,1278.7 L1417.9,1277.8 L1414.9,1277.8 L1411.9,1282.8 L1408.9,1284.4 L1405.9,1285.7 L1402.9,1286.9 L1399.9,1287.8 L1396.9,1288.8 L1393.9,1289.7 L1390.9,1290.8 L1387.9,1292.1 L1384.9,1293.7 L1381.9,1295.3 L1378.9,1296.7 L1375.9,1297.8 L1372.9,1298.9 L1369.9,1299.8 L1366.9,1300.8 L1363.9,1301.7 L1360.9,1302.5 L1357.9,1303.2 L1354.9,1303.8 L1351.9,1304.4 L1348.9,1304.9 L1345.9,1305.2 L1342.9,1305.6 L1339.9,1305.9 L1336.9,1306.2 L1333.9,1306.4 L1330.9,1306.7 L1327.9,1306.9 L1324.9,1307.1 L1321.9,1307.3 L1318.9,1307.4 L1315.9,1307.5 L1312.9,1307.6 L1309.9,1307.7 L1306.9,1307.8 L1303.9,1307.9 L1300.9,1308.0 L1297.9,1308.0 L1294.9,1308.1 L1291.9,1308.2 L1288.9,1308.2 L1285.9,1308.3 L1282.9,1308.3 L1279.9,1308.4 L1276.9,1308.4 L1273.9,1308.4 L1270.9,1308.4 L1267.9,1308.4Z" fill="#e9c0dd"/>
<polyline points="1267.9,1305.4 1270.9,1305.4 1273.9,1305.4 1276.9,1305.4 1279.9,1305.3 1282.9,1305.3 1285.9,1305.2 1288.9,1305.2 1291.9,1305.1 1294.9,1305.1 1297.9,1305.0 1300.9,1304.9 1303.9,1304.9 1306.9,1304.8 1309.9,1304.7 1312.9,1304.6 1315.9,1304.5 1318.9,1304.4 1321.9,1304.2 1324.9,1304.1 1327.9,1303.9 1330.9,1303.7 1333.9,1303.4 1336.9,1303.1 1339.9,1302.8 1342.9,1302.5 1345.9,1302.2 1348.9,1301.8 1351.9,1301.4 1354.9,1300.8 1357.9,1300.2 1360.9,1299.4 1363.9,1298.6 1366.9,1297.7 1369.9,1296.8 1372.9,1295.8 1375.9,1294.8 1378.9,1293.7 1381.9,1292.3 1384.9,1290.7 1387.9,1289.1 1390.9,1287.8 1393.9,1286.7 1396.9,1285.7 1399.9,1284.8 1402.9,1283.8 1405.9,1282.7 1408.9,1281.3 1411.9,1279.7 1414.9,1274.8 1417.9,1274.8 1420.9,1275.7 1423.9,1271.4 1426.9,1268.3 1429.9,1267.0 1432.9,1263.1 1435.9,1261.6 1438.9,1257.5 1441.9,1253.2 1444.9,1253.0 1447.9,1247.8 1450.9,1244.3 1453.9,1238.2 1456.9,1234.6 1459.9,1227.7 1462.9,1221.0 1465.9,1213.4 1468.9,1207.2 1471.9,1205.3 1474.9,1198.6 1477.9,1190.3 1480.9,1188.2 1483.9,1179.2 1486.9,1171.3 1489.9,1161.8 1492.9,1155.4 1495.9,1150.5 1498.9,1145.5 1501.9,1140.9 1504.9,1131.9 1507.9,1123.7 1510.9,1109.2 1513.9,1093.8 1516.9,1083.3 1519.9,1075.7 1522.9,1070.5 1525.9,1060.8 1528.9,1049.5 1531.9,1031.9 1534.9,1018.5 1537.9,1006.3 1540.9,992.2 1543.9,980.3 1546.9,963.6 1549.9,954.8 1552.9,945.8 1555.9,941.8 1558.9,932.3 1561.9,927.6 1564.9,918.3 1567.9,902.3 1570.9,887.6 1573.9,869.6 1576.9,851.3 1579.9,841.1 1582.9,826.3 1585.9,813.5 1588.9,804.7 1591.9,799.1 1594.9,793.0 1597.9,785.3 1600.9,778.2 1603.9,771.5 1606.9,760.5 1609.9,752.0 1612.9,746.5 1615.9,737.7 1618.9,733.1 1621.9,724.3 1624.9,719.9 1627.9,714.8 1630.9,710.9 1633.9,705.8 1636.9,704.5 1639.9,699.1 1642.9,692.4 1645.9,692.1 1648.9,683.3 1651.9,683.5 1654.9,676.3 1657.9,676.1 1660.9,671.3 1663.9,670.3 1666.9,671.2 1669.9,665.2 1672.9,663.4 1675.9,664.3 1678.9,663.2 1681.9,661.7 1684.9,661.7 1687.9,657.3 1690.9,658.7 1693.9,656.8 1696.9,656.8 1699.9,655.2 1702.9,654.7 1705.9,649.4 1708.9,650.4 1711.9,647.9 1714.9,649.1 1717.9,651.0 1720.9,652.0 1723.9,653.4 1726.9,652.1 1729.9,651.5 1732.9,650.5 1735.9,652.3 1738.9,652.2 1741.9,649.4 1744.9,654.0 1747.9,655.1 1750.9,652.4 1753.9,649.5 1756.9,652.3 1759.9,649.0 1762.9,649.2 1765.9,651.2 1768.9,647.8 1771.9,649.8 1774.9,650.7 1777.9,653.2 1780.9,652.8 1783.9,655.9 1786.9,658.2 1789.9,664.0 1792.9,667.8 1795.9,665.6 1798.9,669.8 1801.9,669.6 1804.9,671.1 1807.9,672.9 1810.9,674.4 1813.9,674.6 1816.9,678.3 1819.9,680.6 1822.9,682.8 1825.9,683.2 1828.9,685.9 1831.9,687.7 1834.9,690.3 1837.9,692.6 1840.9,689.9 1843.9,690.8 1846.9,693.7 1849.9,693.9 1852.9,695.0 1855.9,696.6 1858.9,698.2 1861.9,702.2 1864.9,701.1" fill="none" stroke="#263850" stroke-width="2.6" stroke-linejoin="round"/>
<line x1="1267.6" y1="641.0" x2="1267.6" y2="1305.4" stroke="#444" stroke-width="1.6" />
<line x1="1267.6" y1="1305.4" x2="1938.5" y2="1305.4" stroke="#444" stroke-width="1.6" />
<line x1="1258.6" y1="1305.4" x2="1267.6" y2="1305.4" stroke="#444" stroke-width="1.3" />
<text x="1248.3" y="1314.9" font-size="26.5" text-anchor="end" fill="#222">0</text>
<line x1="1258.6" y1="1132.0" x2="1267.6" y2="1132.0" stroke="#444" stroke-width="1.3" />
<text x="1248.3" y="1141.5" font-size="26.5" text-anchor="end" fill="#222">20</text>
<line x1="1258.6" y1="958.6" x2="1267.6" y2="958.6" stroke="#444" stroke-width="1.3" />
<text x="1248.3" y="968.1" font-size="26.5" text-anchor="end" fill="#222">40</text>
<line x1="1258.6" y1="785.2" x2="1267.6" y2="785.2" stroke="#444" stroke-width="1.3" />
<text x="1248.3" y="794.7" font-size="26.5" text-anchor="end" fill="#222">60</text>
<line x1="1267.6" y1="1305.4" x2="1267.6" y2="1312.4" stroke="#444" stroke-width="1.5" />
<line x1="1315.0" y1="1305.4" x2="1315.0" y2="1312.4" stroke="#444" stroke-width="1.5" />
<line x1="1710.7" y1="1305.4" x2="1710.7" y2="1312.4" stroke="#444" stroke-width="1.5" />
<line x1="1938.5" y1="1305.4" x2="1938.5" y2="1312.4" stroke="#444" stroke-width="1.5" />
<text x="1315.0" y="1343.0" font-size="26.5" text-anchor="middle" fill="#222">2022</text>
<text x="1710.7" y="1343.0" font-size="26.5" text-anchor="middle" fill="#222">April</text>
<text x="1190.0" y="960.0" font-size="26" text-anchor="middle" fill="#222" transform="rotate(-90 1190 960)">Prevalence (%)</text>
<text x="0.5" y="1418.0" font-size="35" font-weight="bold" fill="#1a1a1a" stroke="#1a1a1a" stroke-width="1.6" stroke-linejoin="round">e</text>
<rect x="21.8" y="1463.8" width="8.9" height="20.9" fill="#e0d8d4" />
<rect x="30.7" y="1463.8" width="438.9" height="20.9" fill="#a8badf" />
<rect x="469.6" y="1463.8" width="268.8" height="20.9" fill="#dce5f4" />
<rect x="738.4" y="1463.8" width="126.9" height="20.9" fill="#f9cfa1" />
<rect x="865.3" y="1463.8" width="27.7" height="20.9" fill="#f2b8ae" />
<rect x="894.0" y="1463.8" width="7.9" height="20.9" fill="#d9eef4" />
<rect x="903.0" y="1463.8" width="23.0" height="20.9" fill="#b9d5b0" />
<rect x="926.0" y="1463.8" width="6.5" height="20.9" fill="#f5e5b0" />
<rect x="932.5" y="1463.8" width="11.9" height="20.9" fill="#cab5dd" />
<rect x="944.4" y="1463.8" width="4.4" height="20.9" fill="#f8cfd6" />
<rect x="948.8" y="1463.8" width="12.9" height="20.9" fill="#c9aca2" />
<rect x="961.7" y="1463.8" width="41.5" height="20.9" fill="#a6a6a6" />
<rect x="1003.2" y="1463.8" width="5.0" height="20.9" fill="#e8e5a8" />
<rect x="1008.2" y="1463.8" width="7.3" height="20.9" fill="#e0d8d4" />
<text x="249.8" y="1477.5" font-size="10" text-anchor="middle" fill="#333">ORF1a</text>
<text x="603.6" y="1477.5" font-size="10" text-anchor="middle" fill="#333">ORF1b</text>
<text x="801.6" y="1477.5" font-size="10" text-anchor="middle" fill="#333">S</text>
<text x="982.3" y="1477.5" font-size="10" text-anchor="middle" fill="#333">N</text>
<circle cx="161.1" cy="1444.3" r="8.3" fill="#2b74b8" stroke="#15599a" stroke-width="1.6"/><text x="161.1" y="1447.5" font-size="9" text-anchor="middle" fill="#fff">S</text>
<text x="161.1" y="1462.0" font-size="9" text-anchor="middle" fill="#333">1,306</text>
<circle cx="234.8" cy="1444.3" r="8.3" fill="#2b74b8" stroke="#15599a" stroke-width="1.6"/><text x="234.8" y="1447.5" font-size="9" text-anchor="middle" fill="#fff">L</text>
<text x="234.8" y="1462.0" font-size="9" text-anchor="middle" fill="#333">2,046</text>
<circle cx="258.8" cy="1444.3" r="8.3" fill="#2b74b8" stroke="#15599a" stroke-width="1.6"/><text x="258.8" y="1447.5" font-size="9" text-anchor="middle" fill="#fff">S</text>
<text x="258.8" y="1462.0" font-size="9" text-anchor="middle" fill="#333">2,287</text>
<circle cx="282.8" cy="1444.3" r="8.3" fill="#2b74b8" stroke="#15599a" stroke-width="1.6"/><text x="282.8" y="1447.5" font-size="9" text-anchor="middle" fill="#fff">V</text>
<text x="282.8" y="1462.0" font-size="9" text-anchor="middle" fill="#333">2,529</text>
<circle cx="322.9" cy="1444.3" r="8.3" fill="#2b74b8" stroke="#15599a" stroke-width="1.6"/><text x="322.9" y="1447.5" font-size="9" text-anchor="middle" fill="#fff">L</text>
<text x="322.9" y="1462.0" font-size="9" text-anchor="middle" fill="#333">2,930</text>
<circle cx="354.9" cy="1444.3" r="8.3" fill="#2b74b8" stroke="#15599a" stroke-width="1.6"/><text x="354.9" y="1447.5" font-size="9" text-anchor="middle" fill="#fff">I</text>
<text x="354.9" y="1462.0" font-size="9" text-anchor="middle" fill="#333">3,255</text>
<circle cx="394.0" cy="1444.3" r="8.3" fill="#2b74b8" stroke="#15599a" stroke-width="1.6"/><text x="394.0" y="1447.5" font-size="9" text-anchor="middle" fill="#fff">A</text>
<text x="394.0" y="1462.0" font-size="9" text-anchor="middle" fill="#333">3,646</text>
<circle cx="500.6" cy="1444.5" r="8.3" fill="#bccfec" stroke="#aac0e4" stroke-width="1.2"/><text x="500.6" y="1447.7" font-size="9" text-anchor="middle" fill="#fff">L</text>
<text x="500.6" y="1462.0" font-size="9" text-anchor="middle" fill="#333">314</text>
<circle cx="535.5" cy="1444.5" r="8.3" fill="#bccfec" stroke="#aac0e4" stroke-width="1.2"/><text x="535.5" y="1447.7" font-size="9" text-anchor="middle" fill="#fff">S</text>
<text x="535.5" y="1462.0" font-size="9" text-anchor="middle" fill="#333">662</text>
<circle cx="569.0" cy="1444.5" r="8.3" fill="#bccfec" stroke="#aac0e4" stroke-width="1.2"/><text x="569.0" y="1447.7" font-size="9" text-anchor="middle" fill="#fff">L</text>
<text x="569.0" y="1462.0" font-size="9" text-anchor="middle" fill="#333">1,000</text>
<circle cx="660.7" cy="1444.5" r="8.3" fill="#bccfec" stroke="#aac0e4" stroke-width="1.2"/><text x="660.7" y="1447.7" font-size="9" text-anchor="middle" fill="#fff">V</text>
<text x="660.7" y="1462.0" font-size="9" text-anchor="middle" fill="#333">1,918</text>
<circle cx="718.5" cy="1433.0" r="8.8" fill="#f39530" stroke="#e68420" stroke-width="1.2"/><text x="718.5" y="1436.2" font-size="9" text-anchor="middle" fill="#fff">R</text>
<circle cx="734.2" cy="1433.0" r="8.8" fill="#f39530" stroke="#e68420" stroke-width="1.2"/><text x="734.2" y="1436.2" font-size="9" text-anchor="middle" fill="#fff">I</text>
<circle cx="749.0" cy="1433.0" r="8.8" fill="#f39530" stroke="#e68420" stroke-width="1.2"/><text x="749.0" y="1436.2" font-size="9" text-anchor="middle" fill="#fff">G</text>
<circle cx="778.3" cy="1433.0" r="8.8" fill="#f39530" stroke="#e68420" stroke-width="1.2"/><text x="778.3" y="1436.2" font-size="9" text-anchor="middle" fill="#fff">R</text>
<circle cx="792.3" cy="1433.0" r="8.8" fill="#f39530" stroke="#e68420" stroke-width="1.2"/><text x="792.3" y="1436.2" font-size="9" text-anchor="middle" fill="#fff">K</text>
<circle cx="807.2" cy="1433.0" r="8.8" fill="#f39530" stroke="#e68420" stroke-width="1.2"/><text x="807.2" y="1436.2" font-size="9" text-anchor="middle" fill="#fff">G</text>
<circle cx="822.2" cy="1433.0" r="8.8" fill="#f39530" stroke="#e68420" stroke-width="1.2"/><text x="822.2" y="1436.2" font-size="9" text-anchor="middle" fill="#fff">R</text>
<circle cx="838.8" cy="1433.0" r="8.8" fill="#f39530" stroke="#e68420" stroke-width="1.2"/><text x="838.8" y="1436.2" font-size="9" text-anchor="middle" fill="#fff">N</text>
<rect x="762.5" y="1424.0" width="3.5" height="17.0" fill="#f39530" />
<text x="764.0" y="1421.0" font-size="8" text-anchor="middle" fill="#f39530">Δ</text>
<text x="718.5" y="1449.7" font-size="9" text-anchor="middle" fill="#333">19</text>
<text x="734.2" y="1449.7" font-size="9" text-anchor="middle" fill="#333">95</text>
<text x="749.0" y="1449.7" font-size="9" text-anchor="middle" fill="#333">156</text>
<text x="778.3" y="1449.7" font-size="9" text-anchor="middle" fill="#333">452</text>
<text x="792.3" y="1449.7" font-size="9" text-anchor="middle" fill="#333">478</text>
<text x="807.2" y="1449.7" font-size="9" text-anchor="middle" fill="#333">614</text>
<text x="822.2" y="1449.7" font-size="9" text-anchor="middle" fill="#333">681</text>
<text x="838.8" y="1449.7" font-size="9" text-anchor="middle" fill="#333">950</text>
<text x="767.0" y="1449.7" font-size="9" text-anchor="middle" fill="#333">157:158</text>
<circle cx="868.0" cy="1444.7" r="8.8" fill="#e05a5a" stroke="#d04545" stroke-width="1.2"/><text x="868.0" y="1447.9" font-size="9" text-anchor="middle" fill="#fff">L</text>
<text x="868.0" y="1461.0" font-size="9" text-anchor="middle" fill="#333">26</text>
<circle cx="899.3" cy="1433.0" r="8.8" fill="#5aa64f" stroke="#5aa64f" stroke-width="1.2"/><text x="899.3" y="1436.2" font-size="9" text-anchor="middle" fill="#fff">T</text>
<circle cx="914.5" cy="1433.0" r="8.8" fill="#9b6fc0" stroke="#9b6fc0" stroke-width="1.2"/><text x="914.5" y="1436.2" font-size="9" text-anchor="middle" fill="#fff">A</text>
<circle cx="929.2" cy="1433.0" r="8.8" fill="#9b6fc0" stroke="#9b6fc0" stroke-width="1.2"/><text x="929.2" y="1436.2" font-size="9" text-anchor="middle" fill="#fff">I</text>
<circle cx="941.8" cy="1433.0" r="8.8" fill="#f4a5b8" stroke="#f4a5b8" stroke-width="1.2"/><text x="941.8" y="1436.2" font-size="9" text-anchor="middle" fill="#fff">I</text>
<circle cx="954.4" cy="1433.0" r="8.8" fill="#8c5a4e" stroke="#8c5a4e" stroke-width="1.2"/><text x="954.4" y="1436.2" font-size="9" text-anchor="middle" fill="#fff">L</text>
<circle cx="977.3" cy="1433.0" r="8.8" fill="#555555" stroke="#555555" stroke-width="1.2"/><text x="977.3" y="1436.2" font-size="9" text-anchor="middle" fill="#fff">G</text>
<circle cx="990.6" cy="1433.0" r="8.8" fill="#555555" stroke="#555555" stroke-width="1.2"/><text x="990.6" y="1436.2" font-size="9" text-anchor="middle" fill="#fff">M</text>
<circle cx="1004.3" cy="1433.0" r="8.8" fill="#555555" stroke="#555555" stroke-width="1.2"/><text x="1004.3" y="1436.2" font-size="9" text-anchor="middle" fill="#fff">C</text>
<circle cx="1018.9" cy="1433.0" r="8.8" fill="#555555" stroke="#555555" stroke-width="1.2"/><text x="1018.9" y="1436.2" font-size="9" text-anchor="middle" fill="#fff">Y</text>
<rect x="963.5" y="1424.0" width="3.5" height="17.0" fill="#8c5a4e" />
<text x="965.0" y="1421.0" font-size="8" text-anchor="middle" fill="#8c5a4e">Δ</text>
<text x="899.3" y="1449.7" font-size="9" text-anchor="middle" fill="#333">82</text>
<text x="914.5" y="1449.7" font-size="9" text-anchor="middle" fill="#333">82</text>
<text x="929.2" y="1449.7" font-size="9" text-anchor="middle" fill="#333">120</text>
<text x="941.8" y="1449.7" font-size="9" text-anchor="middle" fill="#333">40</text>
<text x="954.4" y="1449.7" font-size="9" text-anchor="middle" fill="#333">81</text>
<text x="966.0" y="1449.7" font-size="9" text-anchor="middle" fill="#333">149:126</text>
<text x="990.6" y="1449.7" font-size="9" text-anchor="middle" fill="#333">203</text>
<text x="1004.3" y="1449.7" font-size="9" text-anchor="middle" fill="#333">215</text>
<text x="1018.9" y="1449.7" font-size="9" text-anchor="middle" fill="#333">377</text>
<text x="979.0" y="1449.7" font-size="9" text-anchor="middle" fill="#333">63</text>
<path d="M718,1451.5 V1455 H764 V1451.5" fill="none" stroke="#7e9ec6" stroke-width="2.4"/>
<path d="M778,1451.5 V1455 H792 V1451.5" fill="none" stroke="#7e9ec6" stroke-width="2.4"/>
<path d="M800,1451.5 V1455 H822 V1451.5" fill="none" stroke="#7e9ec6" stroke-width="2.4"/>
<path d="M832,1451.5 V1455 H840 V1451.5" fill="none" stroke="#7e9ec6" stroke-width="2.4"/>
<path d="M898,1451.5 V1455 H950 V1451.5" fill="none" stroke="#7e9ec6" stroke-width="2.4"/>
<path d="M955,1451.5 V1455 H980 V1451.5" fill="none" stroke="#7e9ec6" stroke-width="2.4"/>
<path d="M983,1451.5 V1455 H1021 V1451.5" fill="none" stroke="#7e9ec6" stroke-width="2.4"/>
<line x1="741" y1="1455" x2="741" y2="1461" stroke="#7e9ec6" stroke-width="2.4"/>
<circle cx="741" cy="1461.5" r="2" fill="#3d6a9c"/>
<line x1="747" y1="1455" x2="747" y2="1461" stroke="#7e9ec6" stroke-width="2.4"/>
<circle cx="747" cy="1461.5" r="2" fill="#3d6a9c"/>
<line x1="757" y1="1455" x2="757" y2="1461" stroke="#7e9ec6" stroke-width="2.4"/>
<circle cx="757" cy="1461.5" r="2" fill="#3d6a9c"/>
<line x1="783" y1="1455" x2="783" y2="1461" stroke="#7e9ec6" stroke-width="2.4"/>
<circle cx="783" cy="1461.5" r="2" fill="#3d6a9c"/>
<line x1="788" y1="1455" x2="788" y2="1461" stroke="#7e9ec6" stroke-width="2.4"/>
<circle cx="788" cy="1461.5" r="2" fill="#3d6a9c"/>
<line x1="801" y1="1455" x2="801" y2="1461" stroke="#7e9ec6" stroke-width="2.4"/>
<circle cx="801" cy="1461.5" r="2" fill="#3d6a9c"/>
<line x1="806" y1="1455" x2="806" y2="1461" stroke="#7e9ec6" stroke-width="2.4"/>
<circle cx="806" cy="1461.5" r="2" fill="#3d6a9c"/>
<line x1="832" y1="1455" x2="832" y2="1461" stroke="#7e9ec6" stroke-width="2.4"/>
<circle cx="832" cy="1461.5" r="2" fill="#3d6a9c"/>
<line x1="912" y1="1455" x2="912" y2="1461" stroke="#7e9ec6" stroke-width="2.4"/>
<circle cx="912" cy="1461.5" r="2" fill="#3d6a9c"/>
<line x1="945" y1="1455" x2="945" y2="1461" stroke="#7e9ec6" stroke-width="2.4"/>
<circle cx="945" cy="1461.5" r="2" fill="#3d6a9c"/>
<line x1="949" y1="1455" x2="949" y2="1461" stroke="#7e9ec6" stroke-width="2.4"/>
<circle cx="949" cy="1461.5" r="2" fill="#3d6a9c"/>
<line x1="953" y1="1455" x2="953" y2="1461" stroke="#7e9ec6" stroke-width="2.4"/>
<circle cx="953" cy="1461.5" r="2" fill="#3d6a9c"/>
<line x1="959" y1="1455" x2="959" y2="1461" stroke="#7e9ec6" stroke-width="2.4"/>
<circle cx="959" cy="1461.5" r="2" fill="#3d6a9c"/>
<line x1="964" y1="1455" x2="964" y2="1461" stroke="#7e9ec6" stroke-width="2.4"/>
<circle cx="964" cy="1461.5" r="2" fill="#3d6a9c"/>
<line x1="969" y1="1455" x2="969" y2="1461" stroke="#7e9ec6" stroke-width="2.4"/>
<circle cx="969" cy="1461.5" r="2" fill="#3d6a9c"/>
<line x1="986" y1="1455" x2="986" y2="1461" stroke="#7e9ec6" stroke-width="2.4"/>
<circle cx="986" cy="1461.5" r="2" fill="#3d6a9c"/>
<line x1="997" y1="1455" x2="997" y2="1461" stroke="#7e9ec6" stroke-width="2.4"/>
<circle cx="997" cy="1461.5" r="2" fill="#3d6a9c"/>
<rect x="16.7" y="1587.3" width="1022.2" height="20.2" fill="#f9cfa1" />
<text x="542.4" y="1603.5" font-size="15" text-anchor="middle" fill="#333">S</text>
<circle cx="35.9" cy="1559.1" r="12.3" fill="#f39530" stroke="#e68420" stroke-width="1.5"/><text x="35.9" y="1564.5" font-size="15" text-anchor="middle" fill="#fff">R</text>
<circle cx="115.3" cy="1559.1" r="12.3" fill="#f39530" stroke="#e68420" stroke-width="1.5"/><text x="115.3" y="1564.5" font-size="15" text-anchor="middle" fill="#fff">I</text>
<circle cx="171.4" cy="1547.3" r="12.3" fill="#f39530" stroke="#e68420" stroke-width="1.5"/><text x="171.4" y="1552.7" font-size="15" text-anchor="middle" fill="#fff">G</text>
<circle cx="489.4" cy="1559.1" r="12.3" fill="#f39530" stroke="#e68420" stroke-width="1.5"/><text x="489.4" y="1564.5" font-size="15" text-anchor="middle" fill="#fff">R</text>
<circle cx="516.6" cy="1559.1" r="12.3" fill="#f39530" stroke="#e68420" stroke-width="1.5"/><text x="516.6" y="1564.5" font-size="15" text-anchor="middle" fill="#fff">K</text>
<circle cx="659.3" cy="1559.1" r="12.3" fill="#f39530" stroke="#e68420" stroke-width="1.5"/><text x="659.3" y="1564.5" font-size="15" text-anchor="middle" fill="#fff">G</text>
<circle cx="729.8" cy="1559.1" r="12.3" fill="#f39530" stroke="#e68420" stroke-width="1.5"/><text x="729.8" y="1564.5" font-size="15" text-anchor="middle" fill="#fff">R</text>
<circle cx="1011.7" cy="1559.1" r="12.3" fill="#f39530" stroke="#e68420" stroke-width="1.5"/><text x="1011.7" y="1564.5" font-size="15" text-anchor="middle" fill="#fff">N</text>
<rect x="185.0" y="1544.0" width="6.0" height="17.7" fill="#f39530" />
<text x="188.0" y="1541.0" font-size="8" text-anchor="middle" fill="#f39530">Δ</text>
<text x="35.2" y="1585.7" font-size="17" text-anchor="middle" fill="#222">19</text>
<text x="115.3" y="1585.7" font-size="17" text-anchor="middle" fill="#222">95</text>
<text x="659.3" y="1585.7" font-size="17" text-anchor="middle" fill="#222">614</text>
<text x="729.8" y="1585.7" font-size="17" text-anchor="middle" fill="#222">681</text>
<text x="1011.7" y="1585.7" font-size="17" text-anchor="middle" fill="#222">950</text>
<text x="476.3" y="1585.7" font-size="17" fill="#222" textLength="53.7" lengthAdjust="spacingAndGlyphs">452478</text>
<text x="158.5" y="1572.0" font-size="17" fill="#222" textLength="77.5" lengthAdjust="spacingAndGlyphs">156157:158</text>
<path d="M167,1573.5 V1577 H187 V1573.5 M177,1577 V1583" fill="none" stroke="#7e9ec6" stroke-width="2.4"/>
<circle cx="177" cy="1584" r="2" fill="#3d6a9c"/>
<line x1="738.4" y1="1485" x2="16.7" y2="1587" stroke="#111" stroke-width="3" stroke-dasharray="45.5 45.5" stroke-dashoffset="22.8"/>
<line x1="865.3" y1="1485" x2="1038.9" y2="1587" stroke="#111" stroke-width="3" stroke-dasharray="52 54" stroke-dashoffset="29"/>
<text x="0.0" y="1667.4" font-size="35" font-weight="bold" fill="#1a1a1a" stroke="#1a1a1a" stroke-width="1.6" stroke-linejoin="round">f</text>
<rect x="22.4" y="1683.1" width="1024.6" height="887.9" fill="#0c3f68" />
<text x="43.9" y="1724.1" font-size="30" fill="#fff" textLength="138.0" lengthAdjust="spacingAndGlyphs">Summary</text>
<text x="43.9" y="1767.3" font-size="22.5" fill="#fff" textLength="872" lengthAdjust="spacingAndGlyphs">As of 8 November 2021 09:25 AM, <tspan font-weight="bold">546,757</tspan> sequences in the <tspan font-weight="bold">AY.4</tspan> lineage have been</text>
<text x="43.9" y="1801.0" font-size="22.5" fill="#fff" textLength="432.7" lengthAdjust="spacingAndGlyphs">detected since the lineage was identified:</text>
<text x="44.8" y="1858.6" font-size="19" font-weight="bold" fill="#fff" textLength="70.5" lengthAdjust="spacingAndGlyphs">location</text>
<g fill="none" stroke="#fff" stroke-width="3.2" stroke-linecap="round"><path d="M131,1850 A7.5,7.5 0 0 1 144,1846"/><path d="M144.5,1853 A7.5,7.5 0 0 1 131.5,1857"/></g><path d="M140,1841.5 L146.5,1841.5 L146.5,1848 Z" fill="#fff"/><path d="M136,1861 L129.5,1861 L129.5,1854.5 Z" fill="#fff"/>
<text x="507.0" y="1838.8" font-size="19" text-anchor="middle" font-weight="bold" fill="#fff" textLength="90.0" lengthAdjust="spacingAndGlyphs">AY.4 found</text>
<text x="867" y="1839.2" font-size="19" font-weight="bold" fill="#fff" text-anchor="middle">when found<tspan font-size="11" dy="-8">**</tspan></text>
<line x1="317.0" y1="1852.2" x2="697.0" y2="1852.2" stroke="#8d8b84" stroke-width="1.6" />
<line x1="720.0" y1="1852.2" x2="1017.2" y2="1852.2" stroke="#8d8b84" stroke-width="1.6" />
<text x="372.2" y="1873.0" font-size="19" text-anchor="middle" font-weight="bold" fill="#fff" textLength="40.0" lengthAdjust="spacingAndGlyphs">total</text>
<text x="561.5" y="1873" font-size="19" font-weight="bold" fill="#fff" text-anchor="middle">cumulative prevalence<tspan font-size="11" dy="-8">*</tspan></text>
<text x="793.0" y="1873.0" font-size="19" text-anchor="middle" font-weight="bold" fill="#fff" textLength="34.0" lengthAdjust="spacingAndGlyphs">first</text>
<text x="941.8" y="1873.0" font-size="19" text-anchor="middle" font-weight="bold" fill="#fff" textLength="31.0" lengthAdjust="spacingAndGlyphs">last</text>
<rect x="43.9" y="1886.5" width="973.3" height="37.5" fill="#11568a" />
<rect x="43.9" y="1961.8" width="973.3" height="37.4" fill="#11568a" />
<line x1="43.9" y1="1886.5" x2="1017.2" y2="1886.5" stroke="#e8eef4" stroke-width="2" />
<line x1="43.9" y1="1999.5" x2="1017.2" y2="1999.5" stroke="#cfd9e3" stroke-width="2" />
<text x="52.9" y="1912.0" font-size="18.5" font-weight="bold" fill="#7fd0f7" textLength="92.5" lengthAdjust="spacingAndGlyphs">Worldwide</text>
<text x="372.2" y="1912.0" font-size="18.5" text-anchor="middle" font-weight="bold" fill="#fff">546,757</text>
<text x="561.5" y="1912.0" font-size="18.5" text-anchor="middle" font-weight="bold" fill="#fff">12%</text>
<text x="793.0" y="1912.0" font-size="18.5" text-anchor="middle" font-weight="bold" fill="#fff">3 Aug 2020</text>
<text x="941.8" y="1912.0" font-size="18.5" text-anchor="middle" font-weight="bold" fill="#fff">3 Nov 2021</text>
<text x="52.9" y="1949.0" font-size="18.5" fill="#7fd0f7" textLength="112.0" lengthAdjust="spacingAndGlyphs">United States</text>
<text x="372.2" y="1949.0" font-size="18.5" text-anchor="middle" fill="#fff">3,434</text>
<text x="561.5" y="1949.0" font-size="18.5" text-anchor="middle" fill="#fff">&lt; 0.5%</text>
<text x="793.0" y="1949.0" font-size="18.5" text-anchor="middle" fill="#fff">14 May 2021</text>
<text x="941.8" y="1949.0" font-size="18.5" text-anchor="middle" fill="#fff">28 Oct 2021</text>
<text x="52.9" y="1986.7" font-size="18.5" fill="#7fd0f7" textLength="198.5" lengthAdjust="spacingAndGlyphs">California, United States</text>
<text x="372.2" y="1986.7" font-size="18.5" text-anchor="middle" fill="#fff">517</text>
<text x="561.5" y="1986.7" font-size="18.5" text-anchor="middle" fill="#fff">&lt; 0.5%</text>
<text x="793.0" y="1986.7" font-size="18.5" text-anchor="middle" fill="#fff">21 May 2021</text>
<text x="941.8" y="1986.7" font-size="18.5" text-anchor="middle" fill="#fff">25 Oct 2021</text>
<text x="43.9" y="2016.2" font-size="15" fill="#6cc3ee" textLength="148.0" lengthAdjust="spacingAndGlyphs">view change over time</text>
<text x="1017.2" y="2016.0" font-size="15" text-anchor="end" fill="#6cc3ee" textLength="112.0" lengthAdjust="spacingAndGlyphs">change locations</text>
<text x="43.9" y="2049.8" font-size="14.5" font-style="italic" fill="#fff" textLength="705" lengthAdjust="spacingAndGlyphs"><tspan font-size="9" dy="-6">*</tspan><tspan dy="6"> Apparent cumulative prevalence is the ratio of the sequences containing AY.4 to all sequences collected</tspan></text>
<text x="43.9" y="2070" font-size="14.5" font-style="italic" fill="#fff" textLength="643" lengthAdjust="spacingAndGlyphs">since the identification of AY.4 in that location. <tspan font-size="9" dy="-6">**</tspan><tspan dy="6"> Dates are based on the sample collection date</tspan></text>
<rect x="791.0" y="2030.9" width="226.2" height="47.1" fill="#d1395f" />
<circle cx="819" cy="2054.5" r="13" fill="#fff"/>
<rect x="817.0" y="2045.5" width="4.0" height="11.0" fill="#d1395f" />
<circle cx="819" cy="2061" r="2.3" fill="#d1395f"/>
<text x="842.0" y="2060.8" font-size="20.5" fill="#fff" textLength="153.0" lengthAdjust="spacingAndGlyphs">Read about biases</text>
<text x="42.8" y="2124" font-size="17" fill="#fff" textLength="606" lengthAdjust="spacingAndGlyphs">The strain has been detected in at least <tspan font-weight="bold">84 countries</tspan> and <tspan font-weight="bold">53 U.S. states</tspan>.</text>
<path d="M195.5,2164.2 199.2,2163.6 202.8,2163.0 206.4,2162.3 207.1,2160.5 207.7,2158.7 213.9,2157.0 220.0,2155.4 223.9,2154.8 227.9,2154.3 231.7,2153.7 235.6,2153.1 238.1,2153.4 240.5,2153.7 243.0,2154.0 245.8,2154.3 248.5,2154.6 251.3,2154.9 254.0,2155.3 256.1,2155.6 258.1,2155.9 260.1,2156.2 262.7,2156.6 265.3,2156.9 267.9,2157.3 271.4,2156.9 274.9,2156.4 278.7,2155.9 282.4,2155.5 286.1,2155.1 288.0,2155.6 289.8,2156.1 291.7,2156.6 294.6,2156.8 297.7,2157.0 300.7,2157.3 303.7,2157.5 306.0,2158.2 308.3,2159.0 310.7,2159.7 313.6,2159.3 316.5,2159.0 319.5,2158.7 321.9,2158.8 324.4,2158.8 326.9,2158.9 329.5,2159.1 332.2,2159.3 334.9,2159.5 337.5,2159.7 341.4,2158.7 345.2,2157.7 348.6,2154.8 352.0,2152.1 353.0,2153.3 354.1,2154.5 355.5,2155.9 357.0,2157.3 359.0,2158.3 360.9,2159.3 365.9,2155.8 368.3,2156.3 370.8,2156.8 369.2,2159.7 363.8,2162.7 360.8,2162.5 357.9,2162.3 354.3,2164.4 350.7,2166.6 346.9,2167.9 343.1,2169.3 339.0,2171.3 335.0,2173.4 331.1,2176.7 327.2,2180.0 327.4,2184.6 330.0,2185.4 332.6,2186.3 335.3,2187.2 337.8,2188.2 340.4,2189.3 343.3,2189.4 346.1,2189.6 344.4,2192.4 342.8,2195.2 344.0,2197.6 345.3,2200.0 348.6,2198.0 350.7,2194.5 352.8,2191.2 358.3,2188.5 359.7,2185.2 361.1,2182.0 362.2,2179.5 363.3,2177.0 365.2,2174.2 367.2,2171.3 369.8,2171.4 372.5,2171.5 375.2,2171.6 376.9,2172.9 378.6,2174.2 381.4,2174.6 380.3,2178.3 382.0,2180.8 384.3,2180.4 386.6,2180.0 390.8,2176.3 391.8,2180.3 392.5,2183.0 393.2,2185.9 395.0,2189.0 397.0,2190.8 399.0,2192.5 401.0,2197.4 397.1,2199.4 393.1,2201.2 389.1,2203.1 386.1,2203.1 383.1,2203.1 380.0,2203.1 377.1,2203.2 374.2,2203.4 371.3,2204.9 368.3,2206.5 363.9,2209.7 368.5,2208.0 373.0,2206.2 375.1,2206.7 377.2,2207.1 374.0,2209.4 375.0,2210.9 374.4,2214.5 377.3,2216.0 380.9,2216.0 384.9,2212.7 384.5,2215.7 381.0,2217.5 377.9,2218.7 374.8,2219.9 371.5,2221.3 368.3,2222.7 368.5,2220.2 373.2,2217.5 370.8,2217.8 368.3,2218.1 366.7,2219.3 362.5,2220.8 358.4,2222.3 355.8,2225.4 356.1,2228.5 352.0,2229.8 349.3,2230.6 346.6,2231.4 345.0,2232.3 343.9,2235.5 340.6,2237.7 338.8,2239.3 336.2,2243.5 335.5,2249.4 331.1,2251.4 328.0,2253.2 324.9,2255.1 321.6,2257.6 318.3,2260.1 316.0,2265.1 316.1,2268.5 316.2,2272.0 316.0,2275.4 315.8,2278.8 312.3,2283.7 311.1,2278.8 310.0,2273.7 310.4,2269.6 307.3,2266.8 303.8,2265.5 301.2,2265.5 298.6,2265.5 294.5,2266.2 294.2,2269.9 289.8,2268.9 286.3,2268.4 282.9,2267.9 279.3,2269.2 275.6,2272.1 271.8,2275.0 269.3,2280.9 266.9,2287.5 266.0,2291.0 265.1,2294.6 265.3,2298.5 267.0,2304.1 269.7,2306.6 272.1,2308.1 275.0,2307.4 277.8,2306.6 281.9,2303.4 283.8,2298.1 287.0,2297.2 290.1,2296.3 293.8,2296.3 292.3,2299.9 290.8,2303.4 288.9,2308.1 287.1,2310.6 286.5,2316.0 289.4,2316.1 292.4,2316.3 295.0,2317.0 297.6,2317.8 299.5,2319.6 298.3,2323.2 297.2,2326.8 296.9,2330.4 296.7,2334.0 298.0,2337.7 300.6,2339.5 303.2,2341.3 307.5,2339.1 311.5,2340.6 313.2,2343.1 311.2,2347.9 309.9,2343.5 307.2,2341.7 304.6,2344.2 304.4,2347.5 301.4,2345.7 297.7,2344.2 295.1,2339.5 290.5,2338.0 290.9,2334.0 288.9,2330.4 286.8,2326.8 283.0,2325.0 279.7,2324.1 276.4,2323.2 273.2,2317.4 269.5,2315.2 266.6,2316.1 263.8,2317.0 261.2,2316.0 258.7,2314.9 255.7,2312.7 252.8,2310.6 249.7,2308.8 246.7,2307.0 244.6,2304.3 242.6,2301.7 244.4,2296.3 243.9,2291.0 242.4,2287.2 240.9,2283.4 238.6,2278.8 236.2,2273.7 235.4,2269.4 234.8,2265.1 231.5,2261.1 230.2,2266.8 231.4,2272.6 231.9,2276.6 232.5,2280.6 233.7,2286.8 234.6,2291.0 233.0,2289.3 229.6,2284.7 228.4,2280.9 227.2,2277.1 226.8,2272.8 226.4,2268.5 226.6,2263.4 226.8,2258.4 225.3,2253.4 223.0,2252.6 220.8,2251.7 220.8,2248.3 221.0,2244.8 221.6,2240.9 221.9,2234.9 221.7,2232.6 224.5,2228.5 227.4,2224.5 230.9,2219.6 234.5,2214.8 236.1,2211.5 237.8,2208.3 241.3,2209.4 243.0,2206.5 241.9,2205.1 240.7,2203.6 239.1,2202.2 237.4,2200.8 239.9,2196.6 240.2,2193.9 240.5,2191.2 240.9,2188.5 240.9,2185.9 240.9,2183.3 240.1,2182.0 239.4,2180.8 237.7,2180.4 236.0,2180.0 234.7,2178.9 233.3,2177.8 230.6,2177.4 228.0,2177.0 226.0,2176.1 224.1,2175.1 220.8,2176.1 217.5,2177.0 214.7,2177.7 211.8,2178.3 207.1,2179.0 204.5,2178.3 197.7,2182.0 193.9,2183.3 190.2,2184.6 185.6,2186.1 181.0,2187.7 176.5,2188.8 171.9,2189.8 168.4,2190.5 164.9,2191.2 169.7,2189.4 174.5,2187.7 180.2,2185.7 185.8,2183.8 193.5,2180.3 190.7,2180.3 187.9,2180.3 185.1,2180.3 187.4,2177.0 186.6,2176.1 185.9,2175.1 190.1,2171.1 194.2,2169.5 198.2,2169.2 202.2,2168.8 205.6,2166.6 202.4,2166.5 199.2,2166.5 196.0,2166.4 195.7,2165.3Z M313.2,2343.1 315.6,2340.2 318.7,2335.9 321.6,2334.0 324.5,2332.2 327.4,2330.4 329.7,2329.0 330.6,2331.1 329.6,2334.0 331.1,2334.8 333.8,2329.7 336.8,2332.2 340.8,2333.9 344.8,2335.5 347.5,2335.3 350.3,2335.1 353.0,2335.1 355.8,2335.1 358.2,2339.5 360.7,2343.1 364.6,2348.6 368.6,2352.3 371.3,2352.3 374.1,2352.3 377.5,2354.1 380.9,2356.0 384.9,2359.6 386.2,2363.7 387.5,2367.7 387.5,2374.3 391.7,2378.0 395.1,2378.0 398.6,2378.0 401.4,2380.7 404.1,2383.5 407.6,2384.2 411.1,2384.9 414.5,2386.0 418.0,2387.1 420.8,2389.7 423.6,2392.3 428.6,2394.5 429.9,2400.3 429.3,2407.3 426.8,2410.9 424.3,2414.6 422.5,2418.2 420.6,2421.8 420.1,2425.4 419.7,2429.0 419.7,2433.5 419.8,2438.0 419.0,2442.5 418.3,2446.9 417.3,2450.5 416.3,2454.0 414.1,2457.6 410.8,2458.1 407.5,2458.6 404.5,2460.7 401.4,2462.8 398.2,2468.0 398.6,2472.4 399.0,2476.6 397.3,2480.9 395.8,2485.2 394.0,2489.4 392.3,2493.5 390.3,2496.2 387.2,2498.2 383.1,2497.9 378.0,2496.5 381.8,2500.2 383.8,2503.1 383.0,2508.9 379.6,2509.6 376.1,2510.2 372.7,2510.9 373.7,2516.6 370.6,2517.2 367.5,2517.9 370.7,2522.5 371.2,2526.4 371.7,2530.2 369.6,2532.5 367.6,2534.7 373.1,2538.6 371.2,2543.5 371.4,2546.5 371.6,2549.5 374.5,2554.7 377.9,2556.5 381.3,2558.2 379.9,2561.2 376.4,2560.0 372.8,2558.8 370.0,2557.4 367.1,2556.1 363.8,2554.1 360.5,2552.0 357.6,2548.5 354.7,2545.0 352.4,2541.3 350.1,2537.7 350.2,2534.0 350.4,2530.2 349.5,2526.4 348.6,2522.5 346.3,2517.1 344.1,2511.5 343.6,2508.3 343.1,2505.1 343.1,2500.2 343.2,2495.2 342.9,2491.9 342.6,2488.5 341.5,2483.5 340.6,2478.4 340.3,2474.9 340.0,2471.5 339.4,2465.4 338.9,2459.3 338.0,2453.1 337.3,2446.9 336.1,2440.9 332.4,2437.3 327.2,2433.7 321.9,2430.1 317.6,2423.6 315.6,2420.0 313.6,2416.4 311.0,2410.9 308.5,2405.5 306.9,2401.8 305.3,2398.1 301.4,2391.5 304.2,2386.0 303.3,2379.8 302.1,2378.0 304.6,2371.4 307.7,2368.8 311.6,2365.1 312.3,2359.6 312.5,2355.0 312.7,2350.5 311.2,2347.9Z M511.1,2247.5 515.9,2248.6 520.7,2249.8 524.4,2247.5 528.2,2245.2 531.5,2244.7 534.9,2244.3 538.2,2243.9 542.7,2243.9 547.2,2243.9 551.3,2242.6 553.1,2243.5 552.0,2245.8 553.4,2249.4 551.3,2252.4 554.0,2256.1 558.8,2257.1 561.8,2258.1 564.8,2259.1 569.4,2263.4 572.1,2264.6 574.8,2265.8 577.2,2263.4 577.1,2259.1 581.3,2257.1 585.8,2259.4 589.8,2261.4 593.3,2262.2 596.8,2263.0 600.4,2263.8 602.8,2262.8 605.3,2261.8 608.7,2262.4 613.6,2262.4 616.1,2268.5 615.2,2274.4 614.2,2277.1 616.2,2281.4 618.2,2285.8 620.3,2290.3 624.1,2294.6 625.1,2299.9 626.1,2305.2 629.6,2308.8 631.3,2313.3 633.0,2317.8 635.9,2320.8 638.8,2323.9 644.0,2328.6 643.9,2332.2 647.7,2336.2 651.1,2334.9 654.4,2333.7 658.3,2332.8 662.2,2332.0 666.0,2331.1 665.5,2335.9 665.3,2341.3 663.7,2345.9 662.1,2350.5 660.1,2354.1 658.2,2357.8 655.5,2362.4 652.8,2367.0 650.0,2368.8 647.3,2370.6 644.5,2374.3 641.8,2378.0 637.6,2383.5 636.2,2387.1 634.7,2390.8 633.9,2394.5 633.2,2398.1 634.4,2403.6 635.2,2408.2 635.9,2412.7 635.9,2417.6 636.0,2422.4 635.9,2427.2 634.3,2430.8 632.7,2434.4 629.2,2436.8 625.6,2439.1 623.1,2445.7 620.5,2452.3 620.1,2456.7 619.7,2461.1 616.2,2463.7 612.6,2466.3 612.0,2469.8 611.2,2473.2 610.3,2476.6 605.9,2481.4 601.4,2486.8 598.6,2489.7 595.7,2492.5 593.0,2493.9 590.3,2495.2 586.5,2495.2 582.7,2495.2 579.5,2496.5 576.2,2497.9 572.6,2495.9 572.3,2491.9 571.4,2486.8 570.4,2481.8 568.6,2477.0 565.5,2471.5 565.1,2466.9 564.7,2462.2 564.2,2457.6 562.7,2453.1 561.1,2448.7 559.3,2443.4 557.6,2438.0 557.7,2431.9 558.8,2427.8 559.8,2423.6 562.6,2418.2 562.3,2413.7 561.9,2409.1 560.8,2402.7 559.6,2396.3 558.8,2392.6 556.1,2387.1 553.7,2382.6 551.4,2378.0 551.7,2374.3 552.0,2370.6 552.4,2367.0 552.8,2363.3 549.2,2357.8 545.7,2358.2 542.3,2358.5 539.5,2353.0 537.3,2350.8 534.2,2351.0 531.2,2351.2 528.5,2352.5 525.7,2353.8 522.9,2355.2 520.2,2356.7 517.4,2356.0 514.7,2355.2 509.8,2356.7 505.0,2358.2 502.2,2356.1 499.5,2354.1 496.8,2351.6 494.0,2349.0 489.9,2344.2 488.6,2339.5 484.6,2334.8 480.1,2329.0 479.1,2324.8 478.1,2320.6 480.9,2316.0 481.5,2310.6 482.1,2305.2 481.3,2301.1 480.5,2297.0 481.9,2293.2 483.2,2289.3 485.4,2284.9 487.6,2280.6 491.8,2274.7 495.7,2273.0 500.3,2267.5 500.8,2261.8 504.1,2255.7 508.5,2253.1Z M511.7,2246.8 514.7,2244.5 517.7,2244.5 520.7,2244.5 524.5,2239.3 526.2,2237.7 525.0,2235.5 527.6,2230.7 530.6,2229.3 533.4,2227.9 533.1,2224.5 537.2,2223.3 541.3,2224.2 543.6,2222.0 546.6,2220.2 550.0,2221.7 550.9,2224.8 555.5,2228.5 559.8,2231.4 563.9,2233.6 564.6,2236.1 564.4,2240.3 565.6,2240.3 566.8,2239.0 567.8,2237.1 566.2,2234.9 567.0,2232.6 571.0,2233.6 569.6,2232.0 567.1,2230.6 564.5,2229.2 561.9,2227.3 559.4,2225.4 555.2,2220.8 554.8,2217.5 558.0,2216.3 560.0,2217.8 561.9,2220.8 564.8,2222.7 567.7,2224.5 571.6,2227.6 573.2,2230.7 573.2,2233.3 575.3,2235.5 577.9,2239.3 579.9,2244.2 582.0,2245.5 583.2,2245.2 583.5,2242.6 582.4,2241.6 583.2,2240.3 585.1,2239.7 581.7,2235.5 581.0,2232.9 581.8,2232.0 585.4,2231.1 589.1,2231.4 589.7,2232.6 590.9,2232.3 593.9,2230.7 596.2,2230.1 593.5,2228.5 592.5,2224.5 593.9,2221.4 595.9,2217.8 597.9,2213.9 600.1,2213.6 604.5,2215.4 602.5,2217.5 605.6,2220.2 609.7,2218.1 612.2,2217.5 614.7,2219.3 617.3,2220.5 620.8,2223.3 625.9,2227.0 626.6,2229.2 623.1,2230.7 620.7,2230.9 618.3,2231.1 615.6,2229.8 612.9,2228.5 610.3,2227.6 607.9,2227.6 605.5,2227.6 601.6,2230.4 597.0,2230.7 596.5,2232.0 594.1,2232.3 591.7,2232.6 590.3,2233.6 590.1,2235.5 591.9,2238.0 591.0,2239.3 593.2,2240.6 593.8,2243.5 596.2,2244.5 599.9,2246.1 602.1,2244.2 605.0,2245.3 607.9,2246.5 611.8,2244.2 615.6,2244.2 615.4,2246.1 616.2,2250.1 615.7,2253.7 614.9,2258.4 613.6,2262.4 616.1,2268.5 617.3,2272.0 618.5,2275.4 621.7,2280.6 624.9,2285.8 627.9,2289.3 629.1,2292.8 630.4,2296.3 632.5,2299.9 634.6,2303.4 637.0,2307.9 639.3,2312.4 640.7,2316.0 642.1,2319.6 643.9,2326.1 644.5,2327.9 648.6,2327.5 652.5,2325.3 656.5,2323.2 659.1,2321.4 661.6,2319.6 664.5,2318.3 667.4,2317.0 670.9,2313.8 674.3,2310.6 678.2,2308.8 681.3,2305.2 683.3,2299.9 684.1,2296.3 684.9,2292.8 680.9,2288.9 677.8,2286.8 674.7,2284.7 673.3,2279.9 671.9,2282.3 668.6,2286.8 666.0,2287.2 663.4,2287.5 662.1,2285.4 661.4,2280.9 660.0,2280.2 659.9,2284.7 657.3,2279.9 652.2,2273.7 649.8,2267.2 651.6,2265.5 655.5,2266.8 658.4,2272.0 663.0,2275.7 665.8,2277.1 668.7,2278.5 673.1,2276.8 676.5,2281.3 679.5,2282.0 682.5,2282.7 685.3,2283.0 688.2,2283.4 691.3,2283.2 694.4,2283.0 697.8,2282.8 701.2,2282.7 703.2,2284.7 706.5,2288.6 708.6,2291.0 709.5,2293.2 714.1,2298.5 716.9,2297.2 719.6,2296.0 720.6,2300.6 721.6,2305.2 723.4,2310.6 725.1,2316.0 726.9,2319.6 728.7,2323.2 730.6,2328.6 732.4,2333.1 734.2,2337.7 738.9,2344.6 740.6,2341.7 743.2,2336.6 744.2,2330.4 744.0,2324.1 743.8,2317.8 746.6,2314.9 748.9,2311.8 751.1,2308.8 753.8,2305.2 756.5,2301.7 758.1,2296.3 761.9,2295.3 764.4,2294.4 766.8,2293.5 770.3,2293.5 772.9,2299.2 777.2,2304.5 779.3,2309.9 781.4,2315.2 784.3,2316.7 787.1,2315.4 789.9,2314.2 791.7,2320.3 793.3,2324.4 794.8,2328.6 795.4,2333.1 796.0,2337.7 796.1,2344.2 799.1,2347.4 802.1,2350.5 802.4,2356.0 804.0,2359.8 805.5,2363.7 808.6,2366.6 811.7,2369.5 813.6,2368.8 812.4,2364.2 811.1,2359.6 809.3,2355.6 807.4,2351.6 802.4,2347.9 800.5,2341.3 797.7,2335.9 798.2,2332.2 798.7,2328.6 800.9,2325.0 801.6,2327.9 806.0,2330.4 807.9,2334.0 812.2,2335.9 813.8,2342.8 818.4,2339.5 820.4,2335.9 824.5,2331.5 823.5,2325.0 822.4,2321.4 821.2,2317.8 815.2,2312.4 812.7,2308.8 810.2,2305.2 811.5,2299.2 814.1,2296.0 818.8,2296.3 822.0,2300.6 822.2,2296.3 825.2,2295.1 828.2,2293.9 831.8,2292.5 835.4,2291.0 837.2,2288.4 839.0,2285.8 839.9,2280.6 839.9,2277.1 840.0,2273.7 839.8,2268.7 839.5,2263.8 834.3,2258.4 830.7,2254.7 827.0,2251.1 827.3,2246.5 828.9,2244.3 830.5,2242.2 826.1,2240.9 824.1,2241.9 822.1,2242.9 816.9,2237.7 815.7,2236.4 818.2,2233.9 820.6,2231.4 822.7,2234.5 824.8,2237.7 826.0,2235.5 828.2,2234.9 830.4,2234.2 834.7,2238.7 840.1,2241.6 841.6,2245.0 843.1,2248.4 845.1,2251.7 847.9,2251.4 851.2,2249.1 849.3,2245.2 846.4,2241.9 843.4,2238.7 838.4,2234.5 839.9,2232.9 841.3,2231.4 841.1,2226.7 842.3,2223.9 846.1,2225.1 847.6,2223.4 849.2,2221.7 850.0,2219.3 850.7,2216.9 849.9,2212.5 849.0,2208.3 846.9,2205.2 844.7,2202.2 843.1,2199.4 841.4,2196.6 837.6,2194.4 832.6,2193.5 827.6,2192.5 821.5,2190.4 822.0,2188.2 822.5,2186.1 823.6,2184.3 824.6,2182.5 825.1,2180.6 825.5,2178.8 828.9,2178.7 832.3,2178.6 835.7,2178.5 838.8,2178.8 841.9,2179.0 845.0,2179.3 847.8,2179.0 850.7,2178.8 848.7,2176.1 846.7,2173.4 849.8,2173.1 852.8,2172.7 855.2,2175.9 857.5,2179.2 859.7,2182.5 863.6,2186.1 867.4,2189.8 871.7,2193.4 875.9,2197.1 880.0,2200.8 878.6,2195.8 876.7,2191.2 876.7,2188.9 876.7,2186.6 872.4,2182.0 865.7,2178.3 868.0,2177.3 870.3,2176.3 873.4,2176.6 876.5,2176.8 879.7,2177.0 880.5,2175.8 881.3,2174.6 882.9,2173.4 884.5,2172.3 886.0,2171.1 881.4,2167.0 881.5,2165.5 874.2,2161.4 867.1,2157.5 861.7,2156.6 858.1,2156.2 854.6,2155.8 851.4,2155.6 848.3,2155.4 845.1,2155.3 842.9,2155.8 840.6,2156.4 837.7,2156.3 834.8,2156.3 831.8,2156.2 828.9,2156.2 823.3,2154.0 820.0,2153.9 816.7,2153.7 813.4,2153.6 810.9,2153.8 808.4,2154.0 805.5,2153.4 802.6,2152.7 798.8,2152.3 795.0,2151.8 791.2,2151.4 788.0,2151.3 784.7,2151.2 781.5,2151.0 780.1,2151.9 778.6,2152.7 775.4,2152.6 772.1,2152.5 768.9,2152.4 764.8,2151.5 760.7,2150.5 758.0,2150.0 755.4,2149.4 752.5,2149.2 749.5,2149.1 747.0,2149.5 744.5,2149.8 742.0,2150.2 738.5,2149.8 735.0,2149.5 731.5,2149.1 729.6,2149.0 727.7,2148.9 725.7,2146.1 722.1,2145.6 718.5,2145.1 714.9,2144.6 710.9,2144.0 707.0,2143.4 705.1,2143.9 703.2,2144.5 701.4,2145.0 699.3,2145.2 697.1,2145.4 695.0,2145.5 692.3,2145.8 689.6,2146.0 686.9,2146.2 684.9,2146.5 682.8,2146.8 680.7,2147.1 680.3,2147.6 682.6,2148.9 680.6,2149.7 678.7,2150.5 676.3,2151.0 673.8,2151.5 671.1,2151.5 668.5,2151.4 665.7,2151.0 662.9,2150.5 664.0,2153.6 664.9,2155.9 665.8,2158.3 662.4,2156.4 657.6,2153.2 652.9,2150.2 652.0,2151.9 651.0,2153.6 651.4,2155.4 651.8,2157.3 648.1,2156.9 644.5,2156.4 642.4,2156.9 640.4,2157.3 638.3,2157.7 636.1,2158.1 633.4,2158.3 630.6,2158.5 627.7,2158.3 624.8,2159.3 622.0,2160.3 618.5,2159.6 614.9,2159.0 611.5,2158.3 608.6,2158.3 610.1,2160.5 611.5,2162.7 608.9,2164.7 606.2,2166.6 603.5,2166.4 600.8,2166.2 598.0,2165.9 593.8,2164.4 589.9,2162.1 592.8,2162.2 595.8,2162.3 599.1,2162.1 602.4,2161.9 605.6,2161.7 602.9,2160.3 600.3,2158.9 597.5,2158.2 594.7,2157.6 591.9,2156.9 589.9,2156.8 588.0,2156.6 585.8,2156.2 583.6,2155.8 581.1,2154.8 578.6,2153.8 576.1,2153.6 573.5,2153.5 571.1,2154.0 568.6,2154.5 566.2,2154.8 563.8,2155.1 561.3,2155.4 558.7,2156.6 556.1,2157.7 553.5,2159.7 551.0,2162.3 550.3,2164.4 548.4,2165.5 546.6,2166.6 544.2,2167.9 541.8,2169.3 539.1,2170.8 536.3,2172.3 536.1,2175.8 536.8,2179.5 538.4,2181.5 541.6,2182.0 543.7,2180.8 545.7,2179.5 548.1,2178.3 549.3,2179.5 551.0,2182.8 553.1,2186.6 556.6,2188.8 560.3,2186.6 560.9,2183.3 562.7,2181.0 564.5,2178.8 561.9,2175.4 560.9,2171.6 562.9,2170.2 564.9,2168.8 566.7,2167.7 568.4,2166.6 569.8,2163.8 572.8,2164.4 575.8,2165.1 575.0,2166.6 572.8,2167.9 570.6,2169.3 569.6,2173.4 570.2,2175.8 573.4,2177.3 575.5,2176.9 577.6,2176.6 580.5,2176.2 583.3,2175.8 586.0,2176.6 588.6,2177.3 586.5,2177.9 584.3,2178.5 581.6,2178.5 578.8,2178.5 576.0,2178.5 575.4,2180.8 577.6,2182.5 577.1,2184.6 574.5,2184.2 571.9,2183.8 571.1,2186.6 572.1,2189.3 569.4,2190.1 566.8,2191.4 564.3,2191.3 561.9,2191.2 559.5,2192.0 557.0,2192.8 554.6,2192.4 552.1,2192.0 549.7,2192.5 547.6,2190.4 547.3,2189.8 548.3,2185.9 547.7,2183.0 544.1,2184.3 543.1,2185.9 544.4,2188.5 544.5,2190.1 545.1,2192.5 541.2,2193.9 539.0,2194.1 536.8,2194.4 536.2,2196.6 534.7,2198.3 533.1,2200.0 531.3,2200.5 529.3,2201.4 526.2,2204.5 523.0,2205.4 521.4,2204.5 522.2,2207.7 518.8,2207.1 514.8,2208.3 515.7,2210.0 519.9,2211.5 522.9,2215.4 522.8,2219.6 522.1,2223.3 518.5,2223.3 515.5,2223.0 512.5,2222.7 509.6,2222.5 506.6,2222.3 503.4,2224.5 504.2,2227.6 504.5,2232.3 502.3,2237.7 503.9,2240.3 503.3,2243.5 507.0,2242.9 509.7,2244.2Z M828.4,2454.0 829.9,2453.3 834.3,2451.2 838.6,2449.1 841.8,2448.0 845.1,2446.9 848.0,2446.1 850.9,2445.2 855.7,2439.1 859.9,2436.2 862.7,2432.6 865.5,2429.0 871.3,2424.7 874.2,2429.0 877.8,2429.0 879.6,2424.7 881.4,2420.4 884.7,2419.3 888.1,2418.2 891.9,2418.4 895.8,2418.7 899.7,2418.9 896.4,2424.7 894.1,2429.0 897.9,2432.2 901.6,2435.3 905.3,2438.4 907.8,2432.3 910.1,2426.2 912.3,2420.0 916.3,2413.5 916.5,2419.5 916.7,2425.4 921.0,2429.0 920.6,2433.8 920.1,2438.6 919.5,2443.4 922.0,2446.9 924.4,2450.5 925.2,2454.9 925.9,2459.3 927.6,2462.8 929.3,2466.3 927.3,2471.7 925.2,2477.0 922.4,2481.1 919.4,2485.2 916.2,2488.5 913.0,2491.9 909.2,2494.9 902.8,2501.1 898.5,2506.7 895.4,2507.3 892.4,2508.0 886.3,2511.8 885.2,2508.0 879.8,2510.9 877.0,2509.6 874.1,2508.3 873.6,2505.1 874.3,2500.2 875.4,2495.9 875.7,2492.5 873.0,2498.5 870.1,2499.5 868.5,2497.9 868.7,2494.5 868.8,2491.2 865.4,2489.0 862.0,2486.8 856.9,2488.0 851.9,2489.2 846.6,2490.9 841.4,2492.5 839.0,2494.9 834.5,2494.9 830.1,2494.9 826.5,2496.9 822.9,2498.8 820.6,2497.5 818.3,2496.2 818.0,2493.5 820.4,2490.2 822.7,2486.8 823.4,2482.6 824.1,2478.4 823.8,2474.1 823.5,2469.8 825.4,2465.4 827.1,2461.1 827.8,2457.6Z M399.4,2142.8 403.0,2142.1 406.6,2141.5 410.1,2140.9 413.6,2140.3 416.4,2139.9 419.2,2139.6 422.0,2139.3 424.8,2138.9 428.0,2138.9 431.2,2138.8 434.4,2138.7 437.6,2138.6 440.8,2138.5 444.0,2138.5 447.2,2138.4 450.4,2138.3 453.6,2138.2 456.7,2138.2 459.9,2138.1 463.1,2138.0 466.2,2138.0 469.4,2137.9 472.5,2137.9 475.7,2137.8 478.4,2138.0 481.1,2138.1 483.8,2138.3 486.6,2138.5 489.3,2138.7 492.1,2138.9 494.7,2139.0 497.4,2139.1 500.1,2139.2 502.8,2139.3 505.5,2139.4 502.8,2140.2 500.1,2141.1 497.3,2142.0 494.5,2143.1 493.2,2145.0 491.8,2147.1 488.6,2149.4 485.3,2151.9 485.0,2154.5 481.8,2155.6 478.5,2156.8 475.0,2157.3 471.5,2157.8 468.0,2158.3 464.5,2158.9 460.8,2160.5 457.0,2162.1 453.1,2163.8 449.9,2164.7 446.6,2165.5 442.6,2169.4 438.5,2173.4 434.1,2177.0 431.3,2176.1 428.6,2175.1 425.9,2174.2 425.1,2171.5 424.2,2168.8 423.8,2166.6 423.4,2164.4 423.0,2162.3 422.7,2160.3 426.0,2158.6 429.2,2156.9 426.6,2155.7 424.0,2154.5 424.7,2151.9 424.2,2149.8 423.6,2147.9 421.8,2147.1 419.9,2146.4 418.0,2145.7 415.5,2145.6 412.9,2145.5 410.3,2145.4 407.8,2145.3 405.6,2144.7 403.5,2144.1 401.3,2143.6Z M481.4,2164.4 478.5,2164.4 480.7,2163.5 482.8,2162.5 485.8,2162.5 488.7,2162.4 491.6,2162.4 494.6,2162.3 496.8,2163.4 499.1,2164.4 496.2,2167.0 492.4,2168.0 488.5,2169.1 485.9,2168.8 483.2,2168.5 480.6,2168.2Z M512.7,2203.4 515.2,2202.9 517.7,2202.5 520.6,2202.1 523.4,2201.7 526.2,2200.9 528.9,2200.2 529.5,2196.3 526.4,2194.1 525.3,2191.2 522.4,2188.5 520.3,2186.4 521.9,2183.3 518.2,2182.8 519.4,2180.5 517.3,2180.5 515.1,2180.5 513.5,2183.3 512.8,2185.9 513.7,2188.5 515.0,2190.4 518.5,2190.1 518.0,2192.0 519.1,2194.1 515.7,2194.4 515.2,2195.8 516.8,2196.6 514.0,2198.6 516.7,2199.4 518.9,2199.7 515.5,2200.8Z M512.3,2197.4 512.2,2193.0 513.6,2190.9 512.2,2189.3 509.4,2189.0 507.1,2191.2 503.7,2192.0 504.0,2194.7 502.6,2198.0 504.1,2199.4 507.7,2198.8 510.0,2198.1Z M556.5,2240.9 560.4,2240.1 564.3,2239.3 563.4,2244.5 560.2,2243.0 557.0,2241.6Z M546.1,2230.7 549.6,2230.7 549.3,2236.4 546.6,2237.1 546.2,2232.3Z M548.3,2224.5 548.7,2227.6 548.0,2229.5 546.5,2227.9Z M584.8,2248.4 588.4,2248.9 592.0,2249.4 587.5,2250.4Z M607.2,2250.1 609.8,2249.1 612.4,2248.1 611.2,2250.4 607.8,2251.1Z M857.6,2253.4 859.1,2248.8 862.7,2248.4 866.3,2248.1 866.3,2245.2 867.4,2243.5 868.9,2241.9 870.4,2240.3 869.0,2236.3 867.6,2232.3 866.8,2229.5 869.5,2229.8 874.6,2235.5 874.7,2239.3 877.3,2243.9 879.4,2247.8 878.3,2250.1 876.3,2251.1 871.9,2251.4 871.4,2255.1 867.9,2252.7 863.4,2252.1 861.4,2252.9 859.3,2253.7Z M855.4,2255.1 858.0,2253.7 862.4,2258.4 862.8,2262.4 860.4,2262.8 857.0,2257.7Z M861.8,2253.7 864.2,2253.2 866.6,2252.7 867.5,2254.1 865.0,2257.4Z M865.4,2229.2 862.3,2223.6 861.1,2220.2 859.9,2216.9 867.5,2220.8 871.0,2222.2 874.5,2223.6 873.3,2225.6 872.0,2227.6 869.2,2227.1 866.5,2226.7 865.9,2228.2Z M857.9,2213.6 854.5,2209.3 851.0,2205.1 847.2,2201.5 843.4,2198.0 841.2,2194.8 838.8,2191.7 845.4,2196.6 848.9,2200.1 852.4,2203.6 857.8,2206.5 859.8,2210.0 861.6,2213.6 860.3,2214.8Z M845.0,2291.0 845.5,2287.0 846.0,2283.0 848.0,2285.8 848.1,2290.3 848.0,2294.9Z M817.8,2304.5 822.2,2301.3 824.0,2303.1 821.1,2308.1Z M745.8,2350.5 745.2,2345.0 745.3,2338.4 748.9,2343.1 751.2,2348.6 747.9,2352.7Z M851.2,2316.0 851.0,2311.5 850.8,2307.0 855.1,2307.0 855.7,2310.6 856.2,2314.2 856.0,2319.6 858.1,2323.2 861.0,2324.1 863.9,2325.0 863.1,2328.2 859.3,2326.1 855.5,2323.9 854.1,2322.1 851.9,2319.6Z M861.7,2348.6 864.3,2346.8 866.8,2345.0 870.1,2338.4 872.1,2343.1 874.0,2347.9 873.0,2351.6 871.2,2353.8 867.3,2349.7 864.5,2349.2Z M859.4,2330.8 862.4,2329.7 865.3,2328.6 869.7,2333.3 868.7,2337.7 864.1,2340.2 861.3,2335.9Z M848.0,2343.5 850.7,2338.0 853.4,2332.6 852.8,2336.2 850.9,2340.0 848.8,2343.9Z M788.5,2353.8 791.6,2354.5 794.6,2355.2 798.8,2360.7 802.8,2366.2 807.6,2371.2 812.3,2376.1 814.4,2381.6 818.5,2385.3 818.0,2390.4 817.4,2395.6 813.8,2395.9 811.2,2392.5 808.7,2389.0 804.7,2382.7 802.1,2378.5 799.3,2374.3 797.2,2370.6 795.1,2367.0 791.8,2360.4Z M815.5,2399.2 819.5,2396.3 824.2,2397.4 827.1,2398.3 830.1,2399.2 832.9,2399.4 835.8,2399.6 840.8,2402.5 840.5,2405.5 837.1,2405.1 833.7,2404.7 831.0,2404.4 828.3,2404.0 825.6,2403.4 822.9,2402.9 818.9,2401.4Z M826.9,2368.8 828.5,2367.0 832.3,2364.8 835.1,2363.7 837.8,2362.6 841.1,2359.3 844.3,2356.0 845.9,2352.3 847.4,2348.6 850.9,2351.6 854.4,2354.5 852.2,2358.5 850.8,2363.3 851.3,2367.0 851.8,2370.6 850.4,2376.1 849.0,2379.8 847.5,2383.5 845.9,2389.0 841.9,2387.5 838.0,2386.4 834.2,2385.3 830.1,2384.9 828.3,2378.0 826.9,2372.5Z M855.0,2394.5 855.8,2390.8 856.5,2387.1 856.0,2382.6 855.4,2378.0 857.5,2373.7 859.5,2369.5 863.2,2369.3 866.9,2369.0 870.6,2368.8 869.8,2372.5 864.9,2372.5 860.1,2372.5 862.3,2377.6 866.5,2377.6 862.8,2380.9 864.0,2385.9 865.1,2390.8 860.9,2391.9 858.3,2384.9 858.0,2389.7 857.7,2394.5Z M887.7,2379.1 891.9,2378.3 896.0,2377.6 897.3,2382.0 898.5,2386.4 902.1,2383.1 905.7,2379.8 910.4,2381.8 915.2,2383.8 918.8,2386.2 922.3,2388.5 925.9,2390.8 928.3,2395.2 932.3,2396.3 932.6,2400.0 932.8,2403.6 935.6,2408.2 938.3,2412.7 934.3,2412.0 931.8,2410.6 929.3,2409.1 927.3,2403.6 924.7,2402.9 922.0,2402.2 918.6,2407.3 915.8,2407.5 913.0,2407.6 909.8,2406.4 906.5,2405.1 906.1,2399.2 905.5,2393.4 901.9,2391.9 898.3,2390.4 895.6,2389.7 892.9,2389.0 890.3,2385.3Z M864.4,2412.0 869.7,2408.6 874.9,2405.1 871.9,2406.9 869.0,2408.7Z M842.0,2404.4 846.1,2404.7 849.5,2404.7 852.9,2404.7 857.8,2404.5 862.6,2404.4 863.8,2405.8 860.1,2406.2 856.4,2406.5 852.7,2406.9 848.6,2406.9 844.5,2406.9Z M962.6,2496.5 963.8,2501.1 964.6,2504.4 966.9,2505.9 969.1,2507.3 963.9,2511.8 959.6,2513.7 950.5,2519.7 949.9,2518.8 954.6,2514.4 953.5,2512.2 958.6,2508.3 961.4,2503.4 962.0,2500.0Z M947.4,2516.3 948.0,2520.1 941.5,2524.1 938.5,2526.6 932.7,2528.7 926.9,2532.9 921.3,2535.0 919.3,2534.1 917.2,2533.2 919.5,2531.1 926.9,2527.2 931.4,2525.3 935.8,2523.5 941.5,2519.7Z M878.3,2516.9 882.6,2517.2 886.9,2517.5 883.8,2521.1 880.7,2524.7 876.9,2525.9 876.4,2521.6Z M660.5,2418.2 661.7,2424.5 662.8,2430.8 660.5,2436.2 658.2,2441.6 655.9,2446.9 654.1,2452.6 652.2,2458.3 650.4,2463.9 647.4,2465.1 644.5,2466.3 643.0,2462.8 641.4,2459.3 641.3,2453.3 644.6,2446.9 644.7,2441.6 644.8,2436.2 648.1,2434.1 651.3,2431.9 653.8,2428.0 656.3,2424.0Z M299.2,2294.9 303.5,2292.8 307.8,2290.7 310.5,2290.7 313.1,2290.7 316.0,2293.0 318.9,2295.3 321.3,2296.7 323.7,2298.1 326.7,2300.9 322.2,2301.5 317.6,2302.0 316.8,2299.2 312.6,2296.5 308.5,2293.9 305.7,2294.6 302.4,2294.7Z M325.9,2302.4 331.1,2302.0 334.4,2302.4 337.7,2302.7 341.4,2306.6 336.9,2308.1 332.5,2310.2 330.1,2308.4 325.1,2307.4Z M314.6,2307.4 317.2,2307.7 319.9,2308.1 318.3,2309.5 314.7,2308.4Z M344.6,2307.0 348.8,2307.4 348.4,2308.8 344.3,2308.8Z M387.7,2210.6 391.3,2206.5 395.8,2201.7 400.8,2199.1 398.6,2203.9 400.9,2204.5 403.2,2205.1 403.3,2210.6 400.2,2213.6 397.8,2213.0 395.5,2212.4 394.9,2210.6 391.3,2210.6Z M241.0,2208.3 239.0,2207.5 237.1,2206.8 235.9,2204.1 234.9,2201.4 237.6,2201.9 239.0,2203.1 240.5,2204.2Z M381.3,2149.1 383.2,2149.7 385.1,2150.3 387.0,2150.9 389.3,2151.8 391.6,2152.7 393.9,2153.6 396.2,2154.3 398.6,2154.9 399.0,2158.3 401.2,2159.3 403.4,2160.3 405.6,2161.3 405.4,2162.3 400.1,2165.5 397.2,2167.8 394.3,2170.2 389.9,2172.5 387.2,2171.8 384.6,2171.1 382.0,2170.4 379.8,2168.5 377.6,2166.6 374.5,2166.7 371.4,2166.8 372.2,2164.4 375.8,2163.6 379.4,2162.7 382.9,2161.9 386.1,2158.9 383.8,2157.6 381.5,2156.4 378.3,2156.2 375.2,2156.0 373.1,2155.7 371.0,2155.4 368.1,2155.0 365.3,2154.5 362.6,2153.6 359.9,2152.7 362.1,2150.2 365.6,2149.8 369.0,2149.4 372.4,2148.9 375.4,2149.0 378.3,2149.0Z M306.0,2152.7 309.8,2151.3 313.4,2149.9 316.3,2150.0 319.2,2150.1 322.1,2150.2 325.5,2149.9 328.8,2149.7 332.2,2149.4 334.0,2149.8 335.7,2150.2 336.6,2151.5 337.4,2152.7 336.3,2154.5 335.3,2156.4 331.5,2157.2 327.7,2158.1 325.4,2157.9 323.1,2157.7 320.8,2157.5 317.3,2157.8 313.8,2158.0 310.4,2158.3 308.3,2157.6 306.2,2157.0 304.2,2156.4 306.2,2154.0Z M295.0,2152.1 298.3,2150.1 301.4,2148.2 304.0,2148.1 306.5,2148.0 309.0,2147.9 311.3,2148.4 313.6,2148.9 315.9,2149.4 310.6,2151.0 305.1,2152.7 302.3,2153.0 299.5,2153.2 296.7,2153.5 295.9,2152.7Z M359.7,2145.0 364.3,2143.3 368.6,2141.7 372.8,2140.3 376.3,2139.7 379.8,2139.1 383.2,2138.5 386.4,2138.5 389.6,2138.4 392.8,2138.4 396.0,2138.3 399.1,2138.3 402.3,2138.2 405.5,2138.2 408.7,2138.1 411.3,2138.3 413.9,2138.4 416.4,2138.5 419.0,2138.6 421.6,2138.7 418.8,2139.1 416.0,2139.5 413.1,2139.9 410.2,2140.3 406.7,2140.8 403.3,2141.3 399.8,2141.9 396.2,2142.5 392.9,2143.2 389.5,2144.1 386.8,2144.7 384.0,2145.3 380.7,2145.2 377.4,2145.2 374.2,2145.1 370.9,2145.0 367.6,2145.0 365.0,2145.0 362.3,2145.0Z M363.3,2145.7 366.4,2145.6 369.5,2145.6 372.6,2145.5 375.7,2145.4 378.7,2145.4 381.8,2145.3 384.9,2145.3 381.7,2147.7 378.7,2147.7 375.6,2147.7 372.6,2147.7 369.5,2147.7 366.5,2147.7 364.5,2147.0 362.5,2146.4Z M319.6,2145.4 322.9,2145.3 326.1,2145.1 329.4,2145.0 332.6,2144.9 335.1,2145.2 337.7,2145.5 340.2,2145.8 336.8,2147.1 333.9,2147.3 331.0,2147.5 328.1,2147.7 325.1,2147.9 322.4,2147.7 319.6,2147.6 316.8,2147.4Z M342.7,2148.9 345.3,2149.0 347.8,2149.1 350.4,2149.2 348.5,2151.9 346.0,2152.5 343.5,2153.1 341.8,2152.4 340.1,2151.7 338.4,2151.0Z M354.4,2148.9 357.2,2148.8 360.0,2148.7 362.8,2148.6 361.4,2150.9 357.7,2151.4 354.0,2151.9Z M354.2,2164.9 357.2,2165.6 360.2,2166.3 363.3,2167.0 364.0,2168.8 360.3,2170.3 356.7,2171.8 354.9,2170.2 353.1,2168.6Z M361.7,2139.6 364.2,2139.6 366.8,2139.6 369.3,2139.6 371.8,2139.6 372.2,2140.8 369.6,2141.1 367.1,2141.3 364.5,2141.6 362.6,2141.2 360.7,2140.9 358.8,2140.6Z M621.7,2152.7 624.0,2151.2 626.3,2149.7 627.3,2147.1 629.2,2146.5 631.1,2145.9 633.1,2145.3 636.2,2145.1 639.3,2144.9 642.5,2144.7 645.6,2144.5 644.0,2145.2 642.4,2146.0 639.8,2146.3 637.1,2146.7 634.4,2147.1 632.4,2148.0 630.3,2148.9 630.4,2151.9 630.0,2154.2 627.2,2153.7 624.4,2153.2Z M544.7,2142.5 546.9,2141.9 549.1,2141.3 551.3,2140.8 554.1,2140.6 556.9,2140.5 559.7,2140.3 562.7,2140.4 565.7,2140.5 568.7,2140.6 571.7,2140.7 569.3,2141.3 566.9,2141.8 564.5,2142.4 562.1,2143.1 559.9,2143.6 557.7,2144.2 555.5,2144.9 552.3,2144.1 549.1,2143.3 546.9,2142.9Z M688.4,2141.3 690.6,2140.8 692.8,2140.3 695.0,2139.8 697.8,2140.2 700.5,2140.6 703.3,2141.0 701.7,2141.7 700.0,2142.5 697.5,2142.3 695.0,2142.1 692.4,2141.9 690.4,2141.6Z M768.7,2146.4 771.1,2146.0 773.5,2145.7 775.9,2145.4 778.9,2145.6 782.0,2145.9 785.1,2146.1 788.2,2146.4 786.8,2147.1 785.3,2147.9 782.3,2147.8 779.2,2147.8 776.1,2147.7 772.4,2147.0Z M605.6,2140.3 608.2,2140.2 610.8,2140.0 613.5,2139.9 616.1,2139.8 618.7,2139.6 621.4,2139.7 624.2,2139.8 627.0,2139.9 629.7,2139.9 632.5,2140.0 629.9,2140.3 627.3,2140.6 624.7,2140.9 622.0,2140.9 619.2,2140.9 616.5,2140.9 613.7,2140.8 611.0,2140.8 608.3,2140.6Z M855.2,2152.7 857.5,2152.6 859.9,2153.8 858.2,2154.0Z M184.1,2157.5 185.1,2158.4 186.1,2159.2 187.1,2160.1 188.9,2160.5 190.8,2160.9 192.6,2161.3 193.3,2162.2 193.9,2163.2 189.3,2164.4 182.4,2166.8 181.1,2166.1 179.9,2165.3 176.4,2165.6 172.9,2165.9 171.3,2165.7 169.7,2165.5 177.0,2161.4Z M163.1,2191.7 168.2,2190.5 173.2,2189.4 178.2,2188.2 176.3,2189.8 171.6,2190.7 166.9,2191.6 162.1,2192.5 157.7,2193.5 153.2,2194.4 155.6,2193.3 159.4,2192.5Z M181.2,2168.4 183.0,2168.7 184.8,2169.1 185.7,2169.5 181.4,2170.0Z M179.0,2176.3 182.8,2175.8 180.1,2177.3Z M107.5,2300.9 109.6,2303.4 106.8,2305.6 106.4,2302.7Z M106.4,2298.1 108.3,2298.8 106.7,2299.5Z M102.9,2296.0 104.4,2297.0 103.1,2297.0Z M197.7,2182.0 200.0,2182.3 202.3,2182.5 196.0,2185.1 195.2,2183.8Z" fill="#fff" stroke="#fff" stroke-width="7" stroke-linejoin="round"/>
<path d="M195.5,2164.2 199.2,2163.6 202.8,2163.0 206.4,2162.3 207.1,2160.5 207.7,2158.7 213.9,2157.0 220.0,2155.4 223.9,2154.8 227.9,2154.3 231.7,2153.7 235.6,2153.1 238.1,2153.4 240.5,2153.7 243.0,2154.0 245.8,2154.3 248.5,2154.6 251.3,2154.9 254.0,2155.3 256.1,2155.6 258.1,2155.9 260.1,2156.2 262.7,2156.6 265.3,2156.9 267.9,2157.3 271.4,2156.9 274.9,2156.4 278.7,2155.9 282.4,2155.5 286.1,2155.1 288.0,2155.6 289.8,2156.1 291.7,2156.6 294.6,2156.8 297.7,2157.0 300.7,2157.3 303.7,2157.5 306.0,2158.2 308.3,2159.0 310.7,2159.7 313.6,2159.3 316.5,2159.0 319.5,2158.7 321.9,2158.8 324.4,2158.8 326.9,2158.9 329.5,2159.1 332.2,2159.3 334.9,2159.5 337.5,2159.7 341.4,2158.7 345.2,2157.7 348.6,2154.8 352.0,2152.1 353.0,2153.3 354.1,2154.5 355.5,2155.9 357.0,2157.3 359.0,2158.3 360.9,2159.3 365.9,2155.8 368.3,2156.3 370.8,2156.8 369.2,2159.7 363.8,2162.7 360.8,2162.5 357.9,2162.3 354.3,2164.4 350.7,2166.6 346.9,2167.9 343.1,2169.3 339.0,2171.3 335.0,2173.4 331.1,2176.7 327.2,2180.0 327.4,2184.6 330.0,2185.4 332.6,2186.3 335.3,2187.2 337.8,2188.2 340.4,2189.3 343.3,2189.4 346.1,2189.6 344.4,2192.4 342.8,2195.2 344.0,2197.6 345.3,2200.0 348.6,2198.0 350.7,2194.5 352.8,2191.2 358.3,2188.5 359.7,2185.2 361.1,2182.0 362.2,2179.5 363.3,2177.0 365.2,2174.2 367.2,2171.3 369.8,2171.4 372.5,2171.5 375.2,2171.6 376.9,2172.9 378.6,2174.2 381.4,2174.6 380.3,2178.3 382.0,2180.8 384.3,2180.4 386.6,2180.0 390.8,2176.3 391.8,2180.3 392.5,2183.0 393.2,2185.9 395.0,2189.0 397.0,2190.8 399.0,2192.5 401.0,2197.4 397.1,2199.4 393.1,2201.2 389.1,2203.1 386.1,2203.1 383.1,2203.1 380.0,2203.1 377.1,2203.2 374.2,2203.4 371.3,2204.9 368.3,2206.5 363.9,2209.7 368.5,2208.0 373.0,2206.2 375.1,2206.7 377.2,2207.1 374.0,2209.4 375.0,2210.9 374.4,2214.5 377.3,2216.0 380.9,2216.0 384.9,2212.7 384.5,2215.7 381.0,2217.5 377.9,2218.7 374.8,2219.9 371.5,2221.3 368.3,2222.7 368.5,2220.2 373.2,2217.5 370.8,2217.8 368.3,2218.1 366.7,2219.3 362.5,2220.8 358.4,2222.3 355.8,2225.4 356.1,2228.5 352.0,2229.8 349.3,2230.6 346.6,2231.4 345.0,2232.3 343.9,2235.5 340.6,2237.7 338.8,2239.3 336.2,2243.5 335.5,2249.4 331.1,2251.4 328.0,2253.2 324.9,2255.1 321.6,2257.6 318.3,2260.1 316.0,2265.1 316.1,2268.5 316.2,2272.0 316.0,2275.4 315.8,2278.8 312.3,2283.7 311.1,2278.8 310.0,2273.7 310.4,2269.6 307.3,2266.8 303.8,2265.5 301.2,2265.5 298.6,2265.5 294.5,2266.2 294.2,2269.9 289.8,2268.9 286.3,2268.4 282.9,2267.9 279.3,2269.2 275.6,2272.1 271.8,2275.0 269.3,2280.9 266.9,2287.5 266.0,2291.0 265.1,2294.6 265.3,2298.5 267.0,2304.1 269.7,2306.6 272.1,2308.1 275.0,2307.4 277.8,2306.6 281.9,2303.4 283.8,2298.1 287.0,2297.2 290.1,2296.3 293.8,2296.3 292.3,2299.9 290.8,2303.4 288.9,2308.1 287.1,2310.6 286.5,2316.0 289.4,2316.1 292.4,2316.3 295.0,2317.0 297.6,2317.8 299.5,2319.6 298.3,2323.2 297.2,2326.8 296.9,2330.4 296.7,2334.0 298.0,2337.7 300.6,2339.5 303.2,2341.3 307.5,2339.1 311.5,2340.6 313.2,2343.1 311.2,2347.9 309.9,2343.5 307.2,2341.7 304.6,2344.2 304.4,2347.5 301.4,2345.7 297.7,2344.2 295.1,2339.5 290.5,2338.0 290.9,2334.0 288.9,2330.4 286.8,2326.8 283.0,2325.0 279.7,2324.1 276.4,2323.2 273.2,2317.4 269.5,2315.2 266.6,2316.1 263.8,2317.0 261.2,2316.0 258.7,2314.9 255.7,2312.7 252.8,2310.6 249.7,2308.8 246.7,2307.0 244.6,2304.3 242.6,2301.7 244.4,2296.3 243.9,2291.0 242.4,2287.2 240.9,2283.4 238.6,2278.8 236.2,2273.7 235.4,2269.4 234.8,2265.1 231.5,2261.1 230.2,2266.8 231.4,2272.6 231.9,2276.6 232.5,2280.6 233.7,2286.8 234.6,2291.0 233.0,2289.3 229.6,2284.7 228.4,2280.9 227.2,2277.1 226.8,2272.8 226.4,2268.5 226.6,2263.4 226.8,2258.4 225.3,2253.4 223.0,2252.6 220.8,2251.7 220.8,2248.3 221.0,2244.8 221.6,2240.9 221.9,2234.9 221.7,2232.6 224.5,2228.5 227.4,2224.5 230.9,2219.6 234.5,2214.8 236.1,2211.5 237.8,2208.3 241.3,2209.4 243.0,2206.5 241.9,2205.1 240.7,2203.6 239.1,2202.2 237.4,2200.8 239.9,2196.6 240.2,2193.9 240.5,2191.2 240.9,2188.5 240.9,2185.9 240.9,2183.3 240.1,2182.0 239.4,2180.8 237.7,2180.4 236.0,2180.0 234.7,2178.9 233.3,2177.8 230.6,2177.4 228.0,2177.0 226.0,2176.1 224.1,2175.1 220.8,2176.1 217.5,2177.0 214.7,2177.7 211.8,2178.3 207.1,2179.0 204.5,2178.3 197.7,2182.0 193.9,2183.3 190.2,2184.6 185.6,2186.1 181.0,2187.7 176.5,2188.8 171.9,2189.8 168.4,2190.5 164.9,2191.2 169.7,2189.4 174.5,2187.7 180.2,2185.7 185.8,2183.8 193.5,2180.3 190.7,2180.3 187.9,2180.3 185.1,2180.3 187.4,2177.0 186.6,2176.1 185.9,2175.1 190.1,2171.1 194.2,2169.5 198.2,2169.2 202.2,2168.8 205.6,2166.6 202.4,2166.5 199.2,2166.5 196.0,2166.4 195.7,2165.3Z M313.2,2343.1 315.6,2340.2 318.7,2335.9 321.6,2334.0 324.5,2332.2 327.4,2330.4 329.7,2329.0 330.6,2331.1 329.6,2334.0 331.1,2334.8 333.8,2329.7 336.8,2332.2 340.8,2333.9 344.8,2335.5 347.5,2335.3 350.3,2335.1 353.0,2335.1 355.8,2335.1 358.2,2339.5 360.7,2343.1 364.6,2348.6 368.6,2352.3 371.3,2352.3 374.1,2352.3 377.5,2354.1 380.9,2356.0 384.9,2359.6 386.2,2363.7 387.5,2367.7 387.5,2374.3 391.7,2378.0 395.1,2378.0 398.6,2378.0 401.4,2380.7 404.1,2383.5 407.6,2384.2 411.1,2384.9 414.5,2386.0 418.0,2387.1 420.8,2389.7 423.6,2392.3 428.6,2394.5 429.9,2400.3 429.3,2407.3 426.8,2410.9 424.3,2414.6 422.5,2418.2 420.6,2421.8 420.1,2425.4 419.7,2429.0 419.7,2433.5 419.8,2438.0 419.0,2442.5 418.3,2446.9 417.3,2450.5 416.3,2454.0 414.1,2457.6 410.8,2458.1 407.5,2458.6 404.5,2460.7 401.4,2462.8 398.2,2468.0 398.6,2472.4 399.0,2476.6 397.3,2480.9 395.8,2485.2 394.0,2489.4 392.3,2493.5 390.3,2496.2 387.2,2498.2 383.1,2497.9 378.0,2496.5 381.8,2500.2 383.8,2503.1 383.0,2508.9 379.6,2509.6 376.1,2510.2 372.7,2510.9 373.7,2516.6 370.6,2517.2 367.5,2517.9 370.7,2522.5 371.2,2526.4 371.7,2530.2 369.6,2532.5 367.6,2534.7 373.1,2538.6 371.2,2543.5 371.4,2546.5 371.6,2549.5 374.5,2554.7 377.9,2556.5 381.3,2558.2 379.9,2561.2 376.4,2560.0 372.8,2558.8 370.0,2557.4 367.1,2556.1 363.8,2554.1 360.5,2552.0 357.6,2548.5 354.7,2545.0 352.4,2541.3 350.1,2537.7 350.2,2534.0 350.4,2530.2 349.5,2526.4 348.6,2522.5 346.3,2517.1 344.1,2511.5 343.6,2508.3 343.1,2505.1 343.1,2500.2 343.2,2495.2 342.9,2491.9 342.6,2488.5 341.5,2483.5 340.6,2478.4 340.3,2474.9 340.0,2471.5 339.4,2465.4 338.9,2459.3 338.0,2453.1 337.3,2446.9 336.1,2440.9 332.4,2437.3 327.2,2433.7 321.9,2430.1 317.6,2423.6 315.6,2420.0 313.6,2416.4 311.0,2410.9 308.5,2405.5 306.9,2401.8 305.3,2398.1 301.4,2391.5 304.2,2386.0 303.3,2379.8 302.1,2378.0 304.6,2371.4 307.7,2368.8 311.6,2365.1 312.3,2359.6 312.5,2355.0 312.7,2350.5 311.2,2347.9Z M511.7,2246.8 514.7,2244.5 517.7,2244.5 520.7,2244.5 524.5,2239.3 526.2,2237.7 525.0,2235.5 527.6,2230.7 530.6,2229.3 533.4,2227.9 533.1,2224.5 537.2,2223.3 541.3,2224.2 543.6,2222.0 546.6,2220.2 550.0,2221.7 550.9,2224.8 555.5,2228.5 559.8,2231.4 563.9,2233.6 564.6,2236.1 564.4,2240.3 565.6,2240.3 566.8,2239.0 567.8,2237.1 566.2,2234.9 567.0,2232.6 571.0,2233.6 569.6,2232.0 567.1,2230.6 564.5,2229.2 561.9,2227.3 559.4,2225.4 555.2,2220.8 554.8,2217.5 558.0,2216.3 560.0,2217.8 561.9,2220.8 564.8,2222.7 567.7,2224.5 571.6,2227.6 573.2,2230.7 573.2,2233.3 575.3,2235.5 577.9,2239.3 579.9,2244.2 582.0,2245.5 583.2,2245.2 583.5,2242.6 582.4,2241.6 583.2,2240.3 585.1,2239.7 581.7,2235.5 581.0,2232.9 581.8,2232.0 585.4,2231.1 589.1,2231.4 589.7,2232.6 590.9,2232.3 593.9,2230.7 596.2,2230.1 593.5,2228.5 592.5,2224.5 593.9,2221.4 595.9,2217.8 597.9,2213.9 600.1,2213.6 604.5,2215.4 602.5,2217.5 605.6,2220.2 609.7,2218.1 612.2,2217.5 614.7,2219.3 617.3,2220.5 620.8,2223.3 625.9,2227.0 626.6,2229.2 623.1,2230.7 620.7,2230.9 618.3,2231.1 615.6,2229.8 612.9,2228.5 610.3,2227.6 607.9,2227.6 605.5,2227.6 601.6,2230.4 597.0,2230.7 596.5,2232.0 594.1,2232.3 591.7,2232.6 590.3,2233.6 590.1,2235.5 591.9,2238.0 591.0,2239.3 593.2,2240.6 593.8,2243.5 596.2,2244.5 599.9,2246.1 602.1,2244.2 605.0,2245.3 607.9,2246.5 611.8,2244.2 615.6,2244.2 615.4,2246.1 616.2,2250.1 615.7,2253.7 614.9,2258.4 613.6,2262.4 616.1,2268.5 617.3,2272.0 618.5,2275.4 621.7,2280.6 624.9,2285.8 627.9,2289.3 629.1,2292.8 630.4,2296.3 632.5,2299.9 634.6,2303.4 637.0,2307.9 639.3,2312.4 640.7,2316.0 642.1,2319.6 643.9,2326.1 644.5,2327.9 648.6,2327.5 652.5,2325.3 656.5,2323.2 659.1,2321.4 661.6,2319.6 664.5,2318.3 667.4,2317.0 670.9,2313.8 674.3,2310.6 678.2,2308.8 681.3,2305.2 683.3,2299.9 684.1,2296.3 684.9,2292.8 680.9,2288.9 677.8,2286.8 674.7,2284.7 673.3,2279.9 671.9,2282.3 668.6,2286.8 666.0,2287.2 663.4,2287.5 662.1,2285.4 661.4,2280.9 660.0,2280.2 659.9,2284.7 657.3,2279.9 652.2,2273.7 649.8,2267.2 651.6,2265.5 655.5,2266.8 658.4,2272.0 663.0,2275.7 665.8,2277.1 668.7,2278.5 673.1,2276.8 676.5,2281.3 679.5,2282.0 682.5,2282.7 685.3,2283.0 688.2,2283.4 691.3,2283.2 694.4,2283.0 697.8,2282.8 701.2,2282.7 703.2,2284.7 706.5,2288.6 708.6,2291.0 709.5,2293.2 714.1,2298.5 716.9,2297.2 719.6,2296.0 720.6,2300.6 721.6,2305.2 723.4,2310.6 725.1,2316.0 726.9,2319.6 728.7,2323.2 730.6,2328.6 732.4,2333.1 734.2,2337.7 738.9,2344.6 740.6,2341.7 743.2,2336.6 744.2,2330.4 744.0,2324.1 743.8,2317.8 746.6,2314.9 748.9,2311.8 751.1,2308.8 753.8,2305.2 756.5,2301.7 758.1,2296.3 761.9,2295.3 764.4,2294.4 766.8,2293.5 770.3,2293.5 772.9,2299.2 777.2,2304.5 779.3,2309.9 781.4,2315.2 784.3,2316.7 787.1,2315.4 789.9,2314.2 791.7,2320.3 793.3,2324.4 794.8,2328.6 795.4,2333.1 796.0,2337.7 796.1,2344.2 799.1,2347.4 802.1,2350.5 802.4,2356.0 804.0,2359.8 805.5,2363.7 808.6,2366.6 811.7,2369.5 813.6,2368.8 812.4,2364.2 811.1,2359.6 809.3,2355.6 807.4,2351.6 802.4,2347.9 800.5,2341.3 797.7,2335.9 798.2,2332.2 798.7,2328.6 800.9,2325.0 801.6,2327.9 806.0,2330.4 807.9,2334.0 812.2,2335.9 813.8,2342.8 818.4,2339.5 820.4,2335.9 824.5,2331.5 823.5,2325.0 822.4,2321.4 821.2,2317.8 815.2,2312.4 812.7,2308.8 810.2,2305.2 811.5,2299.2 814.1,2296.0 818.8,2296.3 822.0,2300.6 822.2,2296.3 825.2,2295.1 828.2,2293.9 831.8,2292.5 835.4,2291.0 837.2,2288.4 839.0,2285.8 839.9,2280.6 839.9,2277.1 840.0,2273.7 839.8,2268.7 839.5,2263.8 834.3,2258.4 830.7,2254.7 827.0,2251.1 827.3,2246.5 828.9,2244.3 830.5,2242.2 826.1,2240.9 824.1,2241.9 822.1,2242.9 816.9,2237.7 815.7,2236.4 818.2,2233.9 820.6,2231.4 822.7,2234.5 824.8,2237.7 826.0,2235.5 828.2,2234.9 830.4,2234.2 834.7,2238.7 840.1,2241.6 841.6,2245.0 843.1,2248.4 845.1,2251.7 847.9,2251.4 851.2,2249.1 849.3,2245.2 846.4,2241.9 843.4,2238.7 838.4,2234.5 839.9,2232.9 841.3,2231.4 841.1,2226.7 842.3,2223.9 846.1,2225.1 847.6,2223.4 849.2,2221.7 850.0,2219.3 850.7,2216.9 849.9,2212.5 849.0,2208.3 846.9,2205.2 844.7,2202.2 843.1,2199.4 841.4,2196.6 837.6,2194.4 832.6,2193.5 827.6,2192.5 821.5,2190.4 822.0,2188.2 822.5,2186.1 823.6,2184.3 824.6,2182.5 825.1,2180.6 825.5,2178.8 828.9,2178.7 832.3,2178.6 835.7,2178.5 838.8,2178.8 841.9,2179.0 845.0,2179.3 847.8,2179.0 850.7,2178.8 848.7,2176.1 846.7,2173.4 849.8,2173.1 852.8,2172.7 855.2,2175.9 857.5,2179.2 859.7,2182.5 863.6,2186.1 867.4,2189.8 871.7,2193.4 875.9,2197.1 880.0,2200.8 878.6,2195.8 876.7,2191.2 876.7,2188.9 876.7,2186.6 872.4,2182.0 865.7,2178.3 868.0,2177.3 870.3,2176.3 873.4,2176.6 876.5,2176.8 879.7,2177.0 880.5,2175.8 881.3,2174.6 882.9,2173.4 884.5,2172.3 886.0,2171.1 881.4,2167.0 881.5,2165.5 874.2,2161.4 867.1,2157.5 861.7,2156.6 858.1,2156.2 854.6,2155.8 851.4,2155.6 848.3,2155.4 845.1,2155.3 842.9,2155.8 840.6,2156.4 837.7,2156.3 834.8,2156.3 831.8,2156.2 828.9,2156.2 823.3,2154.0 820.0,2153.9 816.7,2153.7 813.4,2153.6 810.9,2153.8 808.4,2154.0 805.5,2153.4 802.6,2152.7 798.8,2152.3 795.0,2151.8 791.2,2151.4 788.0,2151.3 784.7,2151.2 781.5,2151.0 780.1,2151.9 778.6,2152.7 775.4,2152.6 772.1,2152.5 768.9,2152.4 764.8,2151.5 760.7,2150.5 758.0,2150.0 755.4,2149.4 752.5,2149.2 749.5,2149.1 747.0,2149.5 744.5,2149.8 742.0,2150.2 738.5,2149.8 735.0,2149.5 731.5,2149.1 729.6,2149.0 727.7,2148.9 725.7,2146.1 722.1,2145.6 718.5,2145.1 714.9,2144.6 710.9,2144.0 707.0,2143.4 705.1,2143.9 703.2,2144.5 701.4,2145.0 699.3,2145.2 697.1,2145.4 695.0,2145.5 692.3,2145.8 689.6,2146.0 686.9,2146.2 684.9,2146.5 682.8,2146.8 680.7,2147.1 680.3,2147.6 682.6,2148.9 680.6,2149.7 678.7,2150.5 676.3,2151.0 673.8,2151.5 671.1,2151.5 668.5,2151.4 665.7,2151.0 662.9,2150.5 664.0,2153.6 664.9,2155.9 665.8,2158.3 662.4,2156.4 657.6,2153.2 652.9,2150.2 652.0,2151.9 651.0,2153.6 651.4,2155.4 651.8,2157.3 648.1,2156.9 644.5,2156.4 642.4,2156.9 640.4,2157.3 638.3,2157.7 636.1,2158.1 633.4,2158.3 630.6,2158.5 627.7,2158.3 624.8,2159.3 622.0,2160.3 618.5,2159.6 614.9,2159.0 611.5,2158.3 608.6,2158.3 610.1,2160.5 611.5,2162.7 608.9,2164.7 606.2,2166.6 603.5,2166.4 600.8,2166.2 598.0,2165.9 593.8,2164.4 589.9,2162.1 592.8,2162.2 595.8,2162.3 599.1,2162.1 602.4,2161.9 605.6,2161.7 602.9,2160.3 600.3,2158.9 597.5,2158.2 594.7,2157.6 591.9,2156.9 589.9,2156.8 588.0,2156.6 585.8,2156.2 583.6,2155.8 581.1,2154.8 578.6,2153.8 576.1,2153.6 573.5,2153.5 571.1,2154.0 568.6,2154.5 566.2,2154.8 563.8,2155.1 561.3,2155.4 558.7,2156.6 556.1,2157.7 553.5,2159.7 551.0,2162.3 550.3,2164.4 548.4,2165.5 546.6,2166.6 544.2,2167.9 541.8,2169.3 539.1,2170.8 536.3,2172.3 536.1,2175.8 536.8,2179.5 538.4,2181.5 541.6,2182.0 543.7,2180.8 545.7,2179.5 548.1,2178.3 549.3,2179.5 551.0,2182.8 553.1,2186.6 556.6,2188.8 560.3,2186.6 560.9,2183.3 562.7,2181.0 564.5,2178.8 561.9,2175.4 560.9,2171.6 562.9,2170.2 564.9,2168.8 566.7,2167.7 568.4,2166.6 569.8,2163.8 572.8,2164.4 575.8,2165.1 575.0,2166.6 572.8,2167.9 570.6,2169.3 569.6,2173.4 570.2,2175.8 573.4,2177.3 575.5,2176.9 577.6,2176.6 580.5,2176.2 583.3,2175.8 586.0,2176.6 588.6,2177.3 586.5,2177.9 584.3,2178.5 581.6,2178.5 578.8,2178.5 576.0,2178.5 575.4,2180.8 577.6,2182.5 577.1,2184.6 574.5,2184.2 571.9,2183.8 571.1,2186.6 572.1,2189.3 569.4,2190.1 566.8,2191.4 564.3,2191.3 561.9,2191.2 559.5,2192.0 557.0,2192.8 554.6,2192.4 552.1,2192.0 549.7,2192.5 547.6,2190.4 547.3,2189.8 548.3,2185.9 547.7,2183.0 544.1,2184.3 543.1,2185.9 544.4,2188.5 544.5,2190.1 545.1,2192.5 541.2,2193.9 539.0,2194.1 536.8,2194.4 536.2,2196.6 534.7,2198.3 533.1,2200.0 531.3,2200.5 529.3,2201.4 526.2,2204.5 523.0,2205.4 521.4,2204.5 522.2,2207.7 518.8,2207.1 514.8,2208.3 515.7,2210.0 519.9,2211.5 522.9,2215.4 522.8,2219.6 522.1,2223.3 518.5,2223.3 515.5,2223.0 512.5,2222.7 509.6,2222.5 506.6,2222.3 503.4,2224.5 504.2,2227.6 504.5,2232.3 502.3,2237.7 503.9,2240.3 503.3,2243.5 507.0,2242.9 509.7,2244.2Z M828.4,2454.0 829.9,2453.3 834.3,2451.2 838.6,2449.1 841.8,2448.0 845.1,2446.9 848.0,2446.1 850.9,2445.2 855.7,2439.1 859.9,2436.2 862.7,2432.6 865.5,2429.0 871.3,2424.7 874.2,2429.0 877.8,2429.0 879.6,2424.7 881.4,2420.4 884.7,2419.3 888.1,2418.2 891.9,2418.4 895.8,2418.7 899.7,2418.9 896.4,2424.7 894.1,2429.0 897.9,2432.2 901.6,2435.3 905.3,2438.4 907.8,2432.3 910.1,2426.2 912.3,2420.0 916.3,2413.5 916.5,2419.5 916.7,2425.4 921.0,2429.0 920.6,2433.8 920.1,2438.6 919.5,2443.4 922.0,2446.9 924.4,2450.5 925.2,2454.9 925.9,2459.3 927.6,2462.8 929.3,2466.3 927.3,2471.7 925.2,2477.0 922.4,2481.1 919.4,2485.2 916.2,2488.5 913.0,2491.9 909.2,2494.9 902.8,2501.1 898.5,2506.7 895.4,2507.3 892.4,2508.0 886.3,2511.8 885.2,2508.0 879.8,2510.9 877.0,2509.6 874.1,2508.3 873.6,2505.1 874.3,2500.2 875.4,2495.9 875.7,2492.5 873.0,2498.5 870.1,2499.5 868.5,2497.9 868.7,2494.5 868.8,2491.2 865.4,2489.0 862.0,2486.8 856.9,2488.0 851.9,2489.2 846.6,2490.9 841.4,2492.5 839.0,2494.9 834.5,2494.9 830.1,2494.9 826.5,2496.9 822.9,2498.8 820.6,2497.5 818.3,2496.2 818.0,2493.5 820.4,2490.2 822.7,2486.8 823.4,2482.6 824.1,2478.4 823.8,2474.1 823.5,2469.8 825.4,2465.4 827.1,2461.1 827.8,2457.6Z M512.7,2203.4 515.2,2202.9 517.7,2202.5 520.6,2202.1 523.4,2201.7 526.2,2200.9 528.9,2200.2 529.5,2196.3 526.4,2194.1 525.3,2191.2 522.4,2188.5 520.3,2186.4 521.9,2183.3 518.2,2182.8 519.4,2180.5 517.3,2180.5 515.1,2180.5 513.5,2183.3 512.8,2185.9 513.7,2188.5 515.0,2190.4 518.5,2190.1 518.0,2192.0 519.1,2194.1 515.7,2194.4 515.2,2195.8 516.8,2196.6 514.0,2198.6 516.7,2199.4 518.9,2199.7 515.5,2200.8Z M512.3,2197.4 512.2,2193.0 513.6,2190.9 512.2,2189.3 509.4,2189.0 507.1,2191.2 503.7,2192.0 504.0,2194.7 502.6,2198.0 504.1,2199.4 507.7,2198.8 510.0,2198.1Z M556.5,2240.9 560.4,2240.1 564.3,2239.3 563.4,2244.5 560.2,2243.0 557.0,2241.6Z M546.1,2230.7 549.6,2230.7 549.3,2236.4 546.6,2237.1 546.2,2232.3Z M548.3,2224.5 548.7,2227.6 548.0,2229.5 546.5,2227.9Z M584.8,2248.4 588.4,2248.9 592.0,2249.4 587.5,2250.4Z M607.2,2250.1 609.8,2249.1 612.4,2248.1 611.2,2250.4 607.8,2251.1Z M857.6,2253.4 859.1,2248.8 862.7,2248.4 866.3,2248.1 866.3,2245.2 867.4,2243.5 868.9,2241.9 870.4,2240.3 869.0,2236.3 867.6,2232.3 866.8,2229.5 869.5,2229.8 874.6,2235.5 874.7,2239.3 877.3,2243.9 879.4,2247.8 878.3,2250.1 876.3,2251.1 871.9,2251.4 871.4,2255.1 867.9,2252.7 863.4,2252.1 861.4,2252.9 859.3,2253.7Z M855.4,2255.1 858.0,2253.7 862.4,2258.4 862.8,2262.4 860.4,2262.8 857.0,2257.7Z M861.8,2253.7 864.2,2253.2 866.6,2252.7 867.5,2254.1 865.0,2257.4Z M865.4,2229.2 862.3,2223.6 861.1,2220.2 859.9,2216.9 867.5,2220.8 871.0,2222.2 874.5,2223.6 873.3,2225.6 872.0,2227.6 869.2,2227.1 866.5,2226.7 865.9,2228.2Z M857.9,2213.6 854.5,2209.3 851.0,2205.1 847.2,2201.5 843.4,2198.0 841.2,2194.8 838.8,2191.7 845.4,2196.6 848.9,2200.1 852.4,2203.6 857.8,2206.5 859.8,2210.0 861.6,2213.6 860.3,2214.8Z M845.0,2291.0 845.5,2287.0 846.0,2283.0 848.0,2285.8 848.1,2290.3 848.0,2294.9Z M817.8,2304.5 822.2,2301.3 824.0,2303.1 821.1,2308.1Z M745.8,2350.5 745.2,2345.0 745.3,2338.4 748.9,2343.1 751.2,2348.6 747.9,2352.7Z M851.2,2316.0 851.0,2311.5 850.8,2307.0 855.1,2307.0 855.7,2310.6 856.2,2314.2 856.0,2319.6 858.1,2323.2 861.0,2324.1 863.9,2325.0 863.1,2328.2 859.3,2326.1 855.5,2323.9 854.1,2322.1 851.9,2319.6Z M861.7,2348.6 864.3,2346.8 866.8,2345.0 870.1,2338.4 872.1,2343.1 874.0,2347.9 873.0,2351.6 871.2,2353.8 867.3,2349.7 864.5,2349.2Z M859.4,2330.8 862.4,2329.7 865.3,2328.6 869.7,2333.3 868.7,2337.7 864.1,2340.2 861.3,2335.9Z M848.0,2343.5 850.7,2338.0 853.4,2332.6 852.8,2336.2 850.9,2340.0 848.8,2343.9Z M788.5,2353.8 791.6,2354.5 794.6,2355.2 798.8,2360.7 802.8,2366.2 807.6,2371.2 812.3,2376.1 814.4,2381.6 818.5,2385.3 818.0,2390.4 817.4,2395.6 813.8,2395.9 811.2,2392.5 808.7,2389.0 804.7,2382.7 802.1,2378.5 799.3,2374.3 797.2,2370.6 795.1,2367.0 791.8,2360.4Z M815.5,2399.2 819.5,2396.3 824.2,2397.4 827.1,2398.3 830.1,2399.2 832.9,2399.4 835.8,2399.6 840.8,2402.5 840.5,2405.5 837.1,2405.1 833.7,2404.7 831.0,2404.4 828.3,2404.0 825.6,2403.4 822.9,2402.9 818.9,2401.4Z M826.9,2368.8 828.5,2367.0 832.3,2364.8 835.1,2363.7 837.8,2362.6 841.1,2359.3 844.3,2356.0 845.9,2352.3 847.4,2348.6 850.9,2351.6 854.4,2354.5 852.2,2358.5 850.8,2363.3 851.3,2367.0 851.8,2370.6 850.4,2376.1 849.0,2379.8 847.5,2383.5 845.9,2389.0 841.9,2387.5 838.0,2386.4 834.2,2385.3 830.1,2384.9 828.3,2378.0 826.9,2372.5Z M855.0,2394.5 855.8,2390.8 856.5,2387.1 856.0,2382.6 855.4,2378.0 857.5,2373.7 859.5,2369.5 863.2,2369.3 866.9,2369.0 870.6,2368.8 869.8,2372.5 864.9,2372.5 860.1,2372.5 862.3,2377.6 866.5,2377.6 862.8,2380.9 864.0,2385.9 865.1,2390.8 860.9,2391.9 858.3,2384.9 858.0,2389.7 857.7,2394.5Z M887.7,2379.1 891.9,2378.3 896.0,2377.6 897.3,2382.0 898.5,2386.4 902.1,2383.1 905.7,2379.8 910.4,2381.8 915.2,2383.8 918.8,2386.2 922.3,2388.5 925.9,2390.8 928.3,2395.2 932.3,2396.3 932.6,2400.0 932.8,2403.6 935.6,2408.2 938.3,2412.7 934.3,2412.0 931.8,2410.6 929.3,2409.1 927.3,2403.6 924.7,2402.9 922.0,2402.2 918.6,2407.3 915.8,2407.5 913.0,2407.6 909.8,2406.4 906.5,2405.1 906.1,2399.2 905.5,2393.4 901.9,2391.9 898.3,2390.4 895.6,2389.7 892.9,2389.0 890.3,2385.3Z M864.4,2412.0 869.7,2408.6 874.9,2405.1 871.9,2406.9 869.0,2408.7Z M842.0,2404.4 846.1,2404.7 849.5,2404.7 852.9,2404.7 857.8,2404.5 862.6,2404.4 863.8,2405.8 860.1,2406.2 856.4,2406.5 852.7,2406.9 848.6,2406.9 844.5,2406.9Z M962.6,2496.5 963.8,2501.1 964.6,2504.4 966.9,2505.9 969.1,2507.3 963.9,2511.8 959.6,2513.7 950.5,2519.7 949.9,2518.8 954.6,2514.4 953.5,2512.2 958.6,2508.3 961.4,2503.4 962.0,2500.0Z M947.4,2516.3 948.0,2520.1 941.5,2524.1 938.5,2526.6 932.7,2528.7 926.9,2532.9 921.3,2535.0 919.3,2534.1 917.2,2533.2 919.5,2531.1 926.9,2527.2 931.4,2525.3 935.8,2523.5 941.5,2519.7Z M878.3,2516.9 882.6,2517.2 886.9,2517.5 883.8,2521.1 880.7,2524.7 876.9,2525.9 876.4,2521.6Z M387.7,2210.6 391.3,2206.5 395.8,2201.7 400.8,2199.1 398.6,2203.9 400.9,2204.5 403.2,2205.1 403.3,2210.6 400.2,2213.6 397.8,2213.0 395.5,2212.4 394.9,2210.6 391.3,2210.6Z M184.1,2157.5 185.1,2158.4 186.1,2159.2 187.1,2160.1 188.9,2160.5 190.8,2160.9 192.6,2161.3 193.3,2162.2 193.9,2163.2 189.3,2164.4 182.4,2166.8 181.1,2166.1 179.9,2165.3 176.4,2165.6 172.9,2165.9 171.3,2165.7 169.7,2165.5 177.0,2161.4Z M163.1,2191.7 168.2,2190.5 173.2,2189.4 178.2,2188.2 176.3,2189.8 171.6,2190.7 166.9,2191.6 162.1,2192.5 157.7,2193.5 153.2,2194.4 155.6,2193.3 159.4,2192.5Z M107.5,2300.9 109.6,2303.4 106.8,2305.6 106.4,2302.7Z M106.4,2298.1 108.3,2298.8 106.7,2299.5Z M102.9,2296.0 104.4,2297.0 103.1,2297.0Z" fill="#c9559d"/>
<path d="M399.4,2142.8 403.0,2142.1 406.6,2141.5 410.1,2140.9 413.6,2140.3 416.4,2139.9 419.2,2139.6 422.0,2139.3 424.8,2138.9 428.0,2138.9 431.2,2138.8 434.4,2138.7 437.6,2138.6 440.8,2138.5 444.0,2138.5 447.2,2138.4 450.4,2138.3 453.6,2138.2 456.7,2138.2 459.9,2138.1 463.1,2138.0 466.2,2138.0 469.4,2137.9 472.5,2137.9 475.7,2137.8 478.4,2138.0 481.1,2138.1 483.8,2138.3 486.6,2138.5 489.3,2138.7 492.1,2138.9 494.7,2139.0 497.4,2139.1 500.1,2139.2 502.8,2139.3 505.5,2139.4 502.8,2140.2 500.1,2141.1 497.3,2142.0 494.5,2143.1 493.2,2145.0 491.8,2147.1 488.6,2149.4 485.3,2151.9 485.0,2154.5 481.8,2155.6 478.5,2156.8 475.0,2157.3 471.5,2157.8 468.0,2158.3 464.5,2158.9 460.8,2160.5 457.0,2162.1 453.1,2163.8 449.9,2164.7 446.6,2165.5 442.6,2169.4 438.5,2173.4 434.1,2177.0 431.3,2176.1 428.6,2175.1 425.9,2174.2 425.1,2171.5 424.2,2168.8 423.8,2166.6 423.4,2164.4 423.0,2162.3 422.7,2160.3 426.0,2158.6 429.2,2156.9 426.6,2155.7 424.0,2154.5 424.7,2151.9 424.2,2149.8 423.6,2147.9 421.8,2147.1 419.9,2146.4 418.0,2145.7 415.5,2145.6 412.9,2145.5 410.3,2145.4 407.8,2145.3 405.6,2144.7 403.5,2144.1 401.3,2143.6Z M481.4,2164.4 478.5,2164.4 480.7,2163.5 482.8,2162.5 485.8,2162.5 488.7,2162.4 491.6,2162.4 494.6,2162.3 496.8,2163.4 499.1,2164.4 496.2,2167.0 492.4,2168.0 488.5,2169.1 485.9,2168.8 483.2,2168.5 480.6,2168.2Z M660.5,2418.2 661.7,2424.5 662.8,2430.8 660.5,2436.2 658.2,2441.6 655.9,2446.9 654.1,2452.6 652.2,2458.3 650.4,2463.9 647.4,2465.1 644.5,2466.3 643.0,2462.8 641.4,2459.3 641.3,2453.3 644.6,2446.9 644.7,2441.6 644.8,2436.2 648.1,2434.1 651.3,2431.9 653.8,2428.0 656.3,2424.0Z M299.2,2294.9 303.5,2292.8 307.8,2290.7 310.5,2290.7 313.1,2290.7 316.0,2293.0 318.9,2295.3 321.3,2296.7 323.7,2298.1 326.7,2300.9 322.2,2301.5 317.6,2302.0 316.8,2299.2 312.6,2296.5 308.5,2293.9 305.7,2294.6 302.4,2294.7Z M325.9,2302.4 331.1,2302.0 334.4,2302.4 337.7,2302.7 341.4,2306.6 336.9,2308.1 332.5,2310.2 330.1,2308.4 325.1,2307.4Z M314.6,2307.4 317.2,2307.7 319.9,2308.1 318.3,2309.5 314.7,2308.4Z" fill="#dce3ee"/>
<path d="M511.1,2247.5 515.9,2248.6 520.7,2249.8 524.4,2247.5 528.2,2245.2 531.5,2244.7 534.9,2244.3 538.2,2243.9 542.7,2243.9 547.2,2243.9 551.3,2242.6 553.1,2243.5 552.0,2245.8 553.4,2249.4 551.3,2252.4 554.0,2256.1 558.8,2257.1 561.8,2258.1 564.8,2259.1 569.4,2263.4 572.1,2264.6 574.8,2265.8 577.2,2263.4 577.1,2259.1 581.3,2257.1 585.8,2259.4 589.8,2261.4 593.3,2262.2 596.8,2263.0 600.4,2263.8 602.8,2262.8 605.3,2261.8 608.7,2262.4 613.6,2262.4 616.1,2268.5 615.2,2274.4 614.2,2277.1 616.2,2281.4 618.2,2285.8 620.3,2290.3 624.1,2294.6 625.1,2299.9 626.1,2305.2 629.6,2308.8 631.3,2313.3 633.0,2317.8 635.9,2320.8 638.8,2323.9 644.0,2328.6 643.9,2332.2 647.7,2336.2 651.1,2334.9 654.4,2333.7 658.3,2332.8 662.2,2332.0 666.0,2331.1 665.5,2335.9 665.3,2341.3 663.7,2345.9 662.1,2350.5 660.1,2354.1 658.2,2357.8 655.5,2362.4 652.8,2367.0 650.0,2368.8 647.3,2370.6 644.5,2374.3 641.8,2378.0 637.6,2383.5 636.2,2387.1 634.7,2390.8 633.9,2394.5 633.2,2398.1 634.4,2403.6 635.2,2408.2 635.9,2412.7 635.9,2417.6 636.0,2422.4 635.9,2427.2 634.3,2430.8 632.7,2434.4 629.2,2436.8 625.6,2439.1 623.1,2445.7 620.5,2452.3 620.1,2456.7 619.7,2461.1 616.2,2463.7 612.6,2466.3 612.0,2469.8 611.2,2473.2 610.3,2476.6 605.9,2481.4 601.4,2486.8 598.6,2489.7 595.7,2492.5 593.0,2493.9 590.3,2495.2 586.5,2495.2 582.7,2495.2 579.5,2496.5 576.2,2497.9 572.6,2495.9 572.3,2491.9 571.4,2486.8 570.4,2481.8 568.6,2477.0 565.5,2471.5 565.1,2466.9 564.7,2462.2 564.2,2457.6 562.7,2453.1 561.1,2448.7 559.3,2443.4 557.6,2438.0 557.7,2431.9 558.8,2427.8 559.8,2423.6 562.6,2418.2 562.3,2413.7 561.9,2409.1 560.8,2402.7 559.6,2396.3 558.8,2392.6 556.1,2387.1 553.7,2382.6 551.4,2378.0 551.7,2374.3 552.0,2370.6 552.4,2367.0 552.8,2363.3 549.2,2357.8 545.7,2358.2 542.3,2358.5 539.5,2353.0 537.3,2350.8 534.2,2351.0 531.2,2351.2 528.5,2352.5 525.7,2353.8 522.9,2355.2 520.2,2356.7 517.4,2356.0 514.7,2355.2 509.8,2356.7 505.0,2358.2 502.2,2356.1 499.5,2354.1 496.8,2351.6 494.0,2349.0 489.9,2344.2 488.6,2339.5 484.6,2334.8 480.1,2329.0 479.1,2324.8 478.1,2320.6 480.9,2316.0 481.5,2310.6 482.1,2305.2 481.3,2301.1 480.5,2297.0 481.9,2293.2 483.2,2289.3 485.4,2284.9 487.6,2280.6 491.8,2274.7 495.7,2273.0 500.3,2267.5 500.8,2261.8 504.1,2255.7 508.5,2253.1Z" fill="#dce3ee"/>
<path d="M207.7,2158.7 213.9,2157.0 220.0,2155.4 223.9,2154.8 227.9,2154.3 231.7,2153.7 235.6,2153.1 238.1,2153.4 240.5,2153.7 243.0,2154.0 245.8,2154.3 248.5,2154.6 251.3,2154.9 254.0,2155.3 256.1,2155.6 258.1,2155.9 260.1,2156.2 262.7,2156.6 265.3,2156.9 267.9,2157.3 271.4,2156.9 274.9,2156.4 278.7,2155.9 282.4,2155.5 286.1,2155.1 288.0,2155.6 289.8,2156.1 291.7,2156.6 294.6,2156.8 297.7,2157.0 300.7,2157.3 303.7,2157.5 306.0,2158.2 308.3,2159.0 310.7,2159.7 313.6,2159.3 316.5,2159.0 319.5,2158.7 321.9,2158.8 324.4,2158.8 326.9,2158.9 329.5,2159.1 332.2,2159.3 334.9,2159.5 337.5,2159.7 341.4,2158.7 345.2,2157.7 348.6,2154.8 352.0,2152.1 353.0,2153.3 354.1,2154.5 355.5,2155.9 357.0,2157.3 359.0,2158.3 360.9,2159.3 365.9,2155.8 368.3,2156.3 370.8,2156.8 369.2,2159.7 363.8,2162.7 360.8,2162.5 357.9,2162.3 354.3,2164.4 350.7,2166.6 346.9,2167.9 343.1,2169.3 339.0,2171.3 335.0,2173.4 331.1,2176.7 327.2,2180.0 327.4,2184.6 330.0,2185.4 332.6,2186.3 335.3,2187.2 337.8,2188.2 340.4,2189.3 343.3,2189.4 346.1,2189.6 344.4,2192.4 342.8,2195.2 344.0,2197.6 345.3,2200.0 348.6,2198.0 350.7,2194.5 352.8,2191.2 358.3,2188.5 359.7,2185.2 361.1,2182.0 362.2,2179.5 363.3,2177.0 365.2,2174.2 367.2,2171.3 369.8,2171.4 372.5,2171.5 375.2,2171.6 376.9,2172.9 378.6,2174.2 381.4,2174.6 380.3,2178.3 382.0,2180.8 384.3,2180.4 386.6,2180.0 390.8,2176.3 391.8,2180.3 392.5,2183.0 393.2,2185.9 395.0,2189.0 397.0,2190.8 399.0,2192.5 401.0,2197.4 M867.1,2157.5 861.7,2156.6 858.1,2156.2 854.6,2155.8 851.4,2155.6 848.3,2155.4 845.1,2155.3 842.9,2155.8 840.6,2156.4 837.7,2156.3 834.8,2156.3 831.8,2156.2 828.9,2156.2 823.3,2154.0 820.0,2153.9 816.7,2153.7 813.4,2153.6 810.9,2153.8 808.4,2154.0 805.5,2153.4 802.6,2152.7 798.8,2152.3 795.0,2151.8 791.2,2151.4 788.0,2151.3 784.7,2151.2 781.5,2151.0 780.1,2151.9 778.6,2152.7 775.4,2152.6 772.1,2152.5 768.9,2152.4 764.8,2151.5 760.7,2150.5 758.0,2150.0 755.4,2149.4 752.5,2149.2 749.5,2149.1 747.0,2149.5 744.5,2149.8 742.0,2150.2 738.5,2149.8 735.0,2149.5 731.5,2149.1 729.6,2149.0 727.7,2148.9 725.7,2146.1 722.1,2145.6 718.5,2145.1 714.9,2144.6 710.9,2144.0 707.0,2143.4 705.1,2143.9 703.2,2144.5 701.4,2145.0 699.3,2145.2 697.1,2145.4 695.0,2145.5 692.3,2145.8 689.6,2146.0 686.9,2146.2 684.9,2146.5 682.8,2146.8 680.7,2147.1 680.3,2147.6 682.6,2148.9 680.6,2149.7 678.7,2150.5 676.3,2151.0 673.8,2151.5 671.1,2151.5 668.5,2151.4 665.7,2151.0 662.9,2150.5 664.0,2153.6 664.9,2155.9 665.8,2158.3 662.4,2156.4 657.6,2153.2 652.9,2150.2 652.0,2151.9 651.0,2153.6 651.4,2155.4 651.8,2157.3 648.1,2156.9 644.5,2156.4 642.4,2156.9 640.4,2157.3 638.3,2157.7 636.1,2158.1 633.4,2158.3 630.6,2158.5 627.7,2158.3 624.8,2159.3 622.0,2160.3 618.5,2159.6 614.9,2159.0 611.5,2158.3 608.6,2158.3 610.1,2160.5 611.5,2162.7 608.9,2164.7 606.2,2166.6 603.5,2166.4 600.8,2166.2 598.0,2165.9 593.8,2164.4 589.9,2162.1 592.8,2162.2 595.8,2162.3 599.1,2162.1 602.4,2161.9 605.6,2161.7 602.9,2160.3 600.3,2158.9 597.5,2158.2 594.7,2157.6 591.9,2156.9 589.9,2156.8 588.0,2156.6 585.8,2156.2 583.6,2155.8 581.1,2154.8 578.6,2153.8 576.1,2153.6 573.5,2153.5 571.1,2154.0 568.6,2154.5 566.2,2154.8 563.8,2155.1 561.3,2155.4 558.7,2156.6 556.1,2157.7 553.5,2159.7 551.0,2162.3 550.3,2164.4 548.4,2165.5 546.6,2166.6 544.2,2167.9 541.8,2169.3 539.1,2170.8 536.3,2172.3 536.1,2175.8 M239.9,2196.6 240.2,2193.9 240.5,2191.2 240.9,2188.5 240.9,2185.9 240.9,2183.3 240.1,2182.0 239.4,2180.8 237.7,2180.4 236.0,2180.0 234.7,2178.9 233.3,2177.8 230.6,2177.4 228.0,2177.0 226.0,2176.1 224.1,2175.1 220.8,2176.1 217.5,2177.0 214.7,2177.7 211.8,2178.3 207.1,2179.0" fill="none" stroke="#fff" stroke-width="9" stroke-linejoin="round" stroke-linecap="round"/>
<path d="M274.8,2321.4 277.5,2316.0 280.3,2315.6 279.7,2311.3 284.8,2309.5 287.1,2310.6 286.5,2316.0 289.4,2316.1 292.4,2316.3 295.0,2317.0 297.6,2317.8 299.5,2319.6 298.3,2323.2 297.2,2326.8 296.9,2330.4 296.7,2334.0 293.8,2334.0 290.9,2334.0 288.9,2330.4 286.8,2326.8 283.0,2325.0 279.7,2324.1 276.4,2323.2Z" fill="#dce3ee" stroke="#fff" stroke-width="1.2" stroke-linejoin="round"/>
<path d="M330.6,2331.1 329.6,2334.0 331.1,2334.8 333.8,2329.7 336.8,2332.2 340.8,2333.9 344.8,2335.5 347.5,2335.3 350.3,2335.1 353.0,2335.1 355.8,2335.1 358.2,2339.5 360.7,2343.1 364.6,2348.6 368.6,2352.3 371.3,2352.3 374.1,2352.3 376.8,2353.4 375.9,2359.6 375.1,2365.9 372.4,2366.6 369.6,2367.3 366.8,2368.4 364.0,2369.5 359.9,2365.1 357.2,2362.4 354.5,2359.6 351.1,2359.4 347.7,2359.3 348.2,2364.0 348.8,2368.8 345.0,2369.3 341.1,2369.9 338.4,2367.0 338.8,2361.8 339.2,2356.7 339.7,2351.6 336.9,2351.7 334.1,2351.9 330.8,2350.3 327.4,2348.6 326.3,2345.0 325.2,2340.6 326.1,2335.9 328.5,2333.3Z" fill="#dce3ee" stroke="#fff" stroke-width="1.2" stroke-linejoin="round"/>
<path d="M335.3,2414.2 339.0,2412.9 342.7,2411.5 346.5,2410.2 348.6,2414.7 350.8,2419.3 354.4,2421.5 358.0,2423.6 360.8,2424.7 361.6,2429.2 362.5,2433.7 367.7,2433.7 370.0,2439.8 370.0,2443.4 370.0,2446.9 370.8,2450.7 371.6,2454.4 374.3,2454.7 377.0,2455.1 379.0,2461.1 382.1,2462.8 381.9,2466.6 382.6,2472.2 378.6,2473.2 375.5,2472.9 372.4,2472.5 373.4,2466.3 370.1,2463.7 366.8,2461.1 363.2,2457.9 359.6,2454.7 356.0,2454.6 352.4,2454.4 349.9,2455.6 347.5,2456.8 342.4,2450.5 340.8,2445.2 339.3,2441.6 337.9,2438.0 339.3,2434.4 337.8,2430.8 337.6,2426.9 337.4,2422.9 338.0,2420.4Z" fill="#dce3ee" stroke="#fff" stroke-width="1.2" stroke-linejoin="round"/>
<path d="M377.6,2494.9 377.2,2488.7 376.9,2482.4 381.0,2482.1 385.5,2488.2 390.1,2494.2 387.2,2498.2 383.1,2497.9Z" fill="#dce3ee" stroke="#fff" stroke-width="1.2" stroke-linejoin="round"/>
<path d="M620.7,2261.8 623.3,2260.6 626.0,2259.4 631.2,2262.8 636.4,2266.2 641.7,2269.6 646.4,2269.9 651.7,2272.0 652.2,2273.7 657.3,2279.9 659.9,2284.7 662.2,2286.5 663.9,2291.0 668.3,2291.6 672.6,2292.1 674.3,2294.6 673.8,2298.1 673.3,2301.7 669.5,2303.4 665.7,2305.2 666.4,2309.5 667.1,2313.8 669.5,2313.8 667.4,2317.0 664.5,2318.3 661.6,2319.6 659.1,2321.4 656.5,2323.2 652.5,2325.3 648.6,2327.5 644.5,2327.9 643.9,2326.1 642.1,2319.6 640.7,2316.0 639.3,2312.4 637.0,2307.9 634.6,2303.4 632.5,2299.9 630.4,2296.3 629.1,2292.8 627.9,2289.3 624.9,2285.8 621.7,2280.6 618.5,2275.4 617.3,2272.0 616.1,2268.5 619.4,2269.6 621.4,2267.2 623.5,2265.1Z" fill="#dce3ee" stroke="#fff" stroke-width="1.2" stroke-linejoin="round"/>
<path d="M640.7,2214.5 637.9,2210.6 633.6,2206.8 632.6,2205.1 633.9,2202.5 636.2,2201.9 638.1,2200.5 640.0,2199.1 643.1,2199.4 646.3,2199.7 649.2,2200.8 652.1,2201.9 655.0,2201.2 657.9,2200.5 661.5,2202.2 664.8,2201.4 662.1,2196.6 660.2,2192.8 663.1,2192.3 666.0,2191.9 668.9,2191.4 671.7,2190.6 674.6,2189.8 677.3,2189.6 680.0,2189.3 684.1,2191.6 688.1,2193.9 691.1,2192.9 694.0,2192.0 695.4,2193.0 701.3,2197.3 707.3,2201.7 710.8,2201.2 714.3,2200.8 720.6,2204.8 723.4,2205.5 726.2,2206.2 724.1,2208.0 725.1,2212.1 722.1,2211.9 719.1,2211.8 719.7,2216.9 717.4,2217.8 715.1,2218.7 719.5,2223.9 719.5,2227.3 717.4,2228.5 715.2,2229.8 712.9,2232.6 708.6,2232.3 706.8,2235.5 709.6,2239.0 712.4,2242.6 711.6,2243.2 709.1,2243.5 706.6,2243.9 704.2,2246.5 706.4,2250.4 705.7,2252.4 703.3,2254.1 703.3,2260.4 699.1,2262.4 697.2,2267.2 694.7,2267.9 692.3,2268.5 687.7,2268.9 683.3,2267.5 683.7,2262.4 682.1,2258.7 680.5,2255.1 678.8,2252.4 679.5,2248.1 675.8,2245.2 671.8,2242.7 667.8,2240.3 665.3,2240.3 662.8,2240.3 660.1,2242.2 659.9,2242.6 657.7,2238.2 655.5,2233.9 653.8,2229.2 653.5,2227.3 648.8,2223.9 646.5,2219.9 647.3,2217.2 651.2,2217.5 650.1,2213.0 647.6,2212.7 645.2,2212.4 643.1,2213.1 641.0,2213.9Z" fill="#dce3ee" stroke="#fff" stroke-width="1.2" stroke-linejoin="round"/>
<path d="M830.4,2234.2 834.7,2238.7 838.5,2240.9 840.6,2239.7 842.7,2238.4 838.4,2234.5 839.9,2232.9 841.3,2231.4 841.1,2226.7 837.0,2226.7 836.2,2229.2 834.8,2230.7 833.4,2232.3Z" fill="#dce3ee" stroke="#fff" stroke-width="1.2" stroke-linejoin="round"/>
<path d="M793.8,2300.2 796.8,2303.1 798.0,2306.8 799.2,2310.6 803.5,2307.7 808.6,2310.6 812.1,2317.0 813.0,2322.1 815.6,2321.5 818.2,2321.0 814.2,2314.2 810.8,2310.6 807.4,2307.0 805.1,2304.1 805.8,2300.2 802.0,2296.7 798.2,2293.2 797.1,2297.4 792.8,2296.0Z" fill="#dce3ee" stroke="#fff" stroke-width="1.2" stroke-linejoin="round"/>
<path d="M511.1,2247.5 515.9,2248.6 520.7,2249.8 521.4,2251.1 521.4,2256.7 516.5,2261.1 512.8,2265.1 508.0,2268.2 503.1,2271.3 503.0,2274.7 499.2,2274.7 495.5,2274.7 491.8,2274.7 495.7,2273.0 500.3,2267.5 500.8,2261.8 504.1,2255.7 508.5,2253.1Z" fill="#c9559d" stroke="#fff" stroke-width="2.6" stroke-linejoin="round"/>
<path d="M521.4,2251.1 520.7,2249.8 524.4,2247.5 528.2,2245.2 531.5,2244.7 534.9,2244.3 538.2,2243.9 542.7,2243.9 547.2,2243.9 546.6,2250.1 544.8,2256.1 549.0,2259.7 550.2,2266.2 551.4,2270.2 551.7,2274.5 551.9,2278.8 554.6,2284.0 557.3,2289.3 553.5,2292.3 549.6,2295.4 545.8,2298.5 541.3,2303.8 537.0,2304.5 534.6,2305.2 531.6,2302.2 528.6,2299.2 523.4,2294.1 518.2,2289.1 513.0,2284.0 508.0,2280.1 502.9,2276.1 503.1,2271.3 508.0,2268.2 512.8,2265.1 516.5,2261.1 521.4,2256.7Z" fill="#c9559d" stroke="#fff" stroke-width="2.6" stroke-linejoin="round"/>
<path d="M547.2,2243.9 551.3,2242.6 553.1,2243.5 552.0,2245.8 553.4,2249.4 551.3,2252.4 554.0,2256.1 555.0,2256.7 552.1,2261.1 551.5,2265.8 550.2,2266.2 549.0,2259.7 544.8,2256.1 546.6,2250.1Z" fill="#c9559d" stroke="#fff" stroke-width="2.6" stroke-linejoin="round"/>
<path d="M589.8,2261.4 593.3,2262.2 596.8,2263.0 600.4,2263.8 602.8,2262.8 605.3,2261.8 608.7,2262.4 613.6,2262.4 616.1,2268.5 615.2,2274.4 614.2,2277.1 616.2,2281.4 618.2,2285.8 620.3,2290.3 624.1,2294.6 619.1,2294.6 614.2,2294.6 609.2,2294.6 605.0,2294.6 600.8,2294.6 596.6,2294.6 592.4,2294.6 592.0,2288.0 591.5,2281.4 591.0,2275.0 590.5,2268.5 590.2,2265.0Z" fill="#c9559d" stroke="#fff" stroke-width="2.6" stroke-linejoin="round"/>
<path d="M478.1,2320.6 480.9,2316.0 481.8,2314.2 487.0,2313.8 489.7,2317.2 492.5,2320.6 493.5,2324.8 494.5,2329.0 491.4,2328.4 488.3,2327.9 484.2,2328.4 480.1,2329.0 479.9,2325.0Z" fill="#c9559d" stroke="#fff" stroke-width="2.6" stroke-linejoin="round"/>
<path d="M533.1,2350.8 533.1,2346.1 533.1,2341.3 534.3,2336.4 535.6,2331.5 536.9,2325.0 542.1,2324.6 546.2,2326.1 550.3,2327.5 555.0,2327.0 559.8,2326.4 564.2,2326.4 565.6,2330.4 562.2,2337.0 560.5,2341.3 558.7,2345.7 556.0,2350.5 552.7,2354.1 549.2,2357.8 545.7,2358.2 542.3,2358.5 539.5,2353.0 537.3,2350.8Z" fill="#c9559d" stroke="#fff" stroke-width="2.6" stroke-linejoin="round"/>
<path d="M559.6,2396.7 565.0,2396.3 570.4,2395.9 571.4,2400.7 574.1,2404.0 579.1,2403.6 582.4,2402.3 585.7,2401.1 585.6,2405.1 585.6,2409.1 586.5,2414.9 591.4,2414.6 591.2,2421.1 595.0,2415.3 600.1,2416.7 603.5,2421.5 607.0,2423.3 606.6,2418.9 603.4,2417.5 604.0,2411.5 604.6,2405.5 607.4,2405.1 610.1,2404.7 608.6,2400.5 607.0,2396.3 606.0,2390.4 606.6,2385.7 605.8,2379.8 607.5,2376.1 608.3,2369.2 611.6,2366.2 610.7,2361.5 605.7,2357.8 601.0,2355.2 598.2,2355.2 595.5,2355.2 591.5,2356.3 587.5,2357.4 583.5,2356.5 579.5,2355.6 577.0,2358.5 576.8,2361.5 575.8,2365.9 574.9,2370.3 575.2,2374.1 575.4,2378.0 571.0,2383.1 568.5,2389.7 564.3,2391.9 560.2,2392.6Z" fill="#c9559d" stroke="#fff" stroke-width="2.6" stroke-linejoin="round"/>
<path d="M619.2,2357.4 622.0,2357.4 624.8,2357.4 627.8,2358.5 631.3,2360.0 634.8,2361.5 638.9,2359.6 641.4,2359.6 638.9,2363.7 639.0,2370.8 639.0,2378.0 640.4,2380.5 637.6,2383.5 636.2,2387.1 634.7,2390.8 629.8,2385.3 624.8,2381.6 619.7,2378.0 619.4,2373.9 621.0,2370.6 622.4,2365.1 620.8,2361.3Z" fill="#c9559d" stroke="#fff" stroke-width="2.6" stroke-linejoin="round"/>
<path d="M585.5,2421.8 585.3,2427.4 585.1,2433.0 588.7,2438.4 591.3,2438.7 594.0,2439.1 597.3,2438.0 601.6,2434.1 605.8,2431.6 608.2,2431.2 612.2,2428.3 616.2,2425.4 615.9,2420.0 616.7,2416.4 617.5,2412.7 616.0,2408.7 613.1,2406.7 610.1,2404.7 607.4,2405.1 604.6,2405.5 604.0,2411.5 603.4,2417.5 606.6,2418.9 607.0,2423.3 603.5,2421.5 600.1,2416.7 595.0,2415.3 591.4,2414.6 591.3,2418.2 591.2,2421.8 588.4,2421.8Z" fill="#c9559d" stroke="#fff" stroke-width="2.6" stroke-linejoin="round"/>
<path d="M616.3,2408.7 618.2,2412.6 620.1,2416.4 620.7,2420.0 621.2,2423.6 623.1,2427.2 622.2,2431.7 621.2,2436.2 618.7,2433.4 617.4,2429.4 616.2,2425.4 615.9,2420.0 616.7,2416.4 617.5,2412.7Z" fill="#c9559d" stroke="#fff" stroke-width="2.6" stroke-linejoin="round"/>
<path d="M636.7,2412.7 636.5,2417.6 636.2,2422.4 635.9,2427.2 634.3,2430.8 632.7,2434.4 629.2,2436.8 625.6,2439.1 623.1,2445.7 620.5,2452.3 620.1,2456.7 619.7,2461.1 616.2,2463.7 612.6,2466.3 611.9,2471.1 609.8,2468.0 610.0,2464.6 610.2,2461.1 609.1,2455.4 612.7,2450.5 613.5,2446.9 614.3,2443.4 614.3,2438.9 614.3,2434.4 611.3,2432.8 608.2,2431.2 608.2,2432.6 612.2,2429.0 616.2,2425.4 617.4,2429.4 618.7,2433.4 621.2,2436.2 622.2,2431.7 623.1,2427.2 621.2,2423.6 620.8,2420.0 620.4,2416.4 625.6,2416.4 628.4,2415.8 631.1,2415.3 633.9,2414.0Z" fill="#c9559d" stroke="#fff" stroke-width="2.6" stroke-linejoin="round"/>
<path d="M557.6,2437.3 559.4,2443.0 561.1,2448.7 562.7,2453.1 564.2,2457.6 564.7,2462.2 565.1,2466.9 565.5,2471.5 568.6,2477.0 573.2,2476.6 577.8,2476.3 578.2,2470.1 578.5,2463.9 578.8,2459.0 579.0,2454.0 581.7,2454.0 582.0,2447.5 582.3,2440.9 585.5,2439.6 588.7,2438.4 591.3,2438.7 594.0,2439.1 591.3,2439.5 588.6,2439.8 585.5,2440.4 582.3,2440.9 577.2,2440.1 572.1,2439.3 567.0,2438.5 561.9,2437.7Z" fill="#c9559d" stroke="#fff" stroke-width="2.6" stroke-linejoin="round"/>
<path d="M578.5,2463.9 578.8,2459.0 579.0,2454.0 581.7,2454.0 582.0,2447.5 582.3,2440.9 585.5,2439.6 588.7,2438.4 591.3,2438.7 594.0,2439.1 597.0,2443.4 599.4,2448.7 603.0,2454.7 600.2,2457.2 597.3,2459.7 592.9,2466.3 589.6,2465.9 586.3,2465.6 583.3,2467.7 580.3,2469.8Z" fill="#c9559d" stroke="#fff" stroke-width="2.6" stroke-linejoin="round"/>
<path d="M568.6,2477.0 570.4,2481.8 571.4,2486.8 572.3,2491.9 572.6,2495.9 576.2,2497.9 579.5,2496.5 582.7,2495.2 586.5,2495.2 590.3,2495.2 593.0,2493.9 595.7,2492.5 598.6,2489.7 601.4,2486.8 605.9,2481.4 610.3,2476.6 611.9,2471.1 609.8,2468.0 610.0,2464.6 610.2,2461.1 609.1,2455.4 606.0,2455.1 603.0,2454.7 600.2,2457.2 597.3,2459.7 592.9,2466.3 589.6,2465.9 586.3,2465.6 583.3,2467.7 580.3,2469.8 578.5,2463.9 578.2,2470.1 577.8,2476.3 573.2,2476.6Z" fill="#c9559d" stroke="#fff" stroke-width="2.6" stroke-linejoin="round"/>
<path d="M688.2,2283.4 691.3,2283.2 694.4,2283.0 697.8,2282.8 701.2,2282.7 703.2,2284.7 706.5,2288.6 707.7,2286.5 711.8,2281.6 711.2,2275.0 714.7,2270.2 715.5,2267.2 717.7,2263.4 716.8,2258.4 715.2,2255.1 713.6,2251.7 717.5,2250.1 721.4,2248.4 717.8,2246.3 714.2,2244.2 711.6,2243.2 709.1,2243.5 706.6,2243.9 704.2,2246.5 706.4,2250.4 705.7,2252.4 703.3,2254.1 703.3,2260.4 699.1,2262.4 697.2,2267.2 694.7,2267.9 692.3,2268.5 687.7,2268.9 683.3,2267.5 686.1,2270.9 689.3,2273.0 691.3,2276.4 687.9,2278.8Z M521.4,2223.3 522.8,2219.6 522.9,2215.4 519.9,2211.5 515.7,2210.0 514.8,2208.3 518.8,2207.1 522.2,2207.7 521.4,2204.5 523.0,2205.4 526.2,2204.5 529.3,2201.4 531.3,2200.5 535.3,2203.9 539.0,2205.1 541.8,2205.8 544.5,2206.5 543.4,2210.6 540.0,2214.8 542.2,2215.7 542.4,2220.8 543.6,2222.0 541.3,2224.2 537.2,2223.3 533.1,2224.5 533.4,2226.4 529.6,2225.9 525.7,2225.4Z M533.4,2226.4 529.6,2225.9 525.7,2225.4 521.4,2223.3 518.5,2223.3 515.5,2223.0 512.5,2222.7 509.6,2222.5 506.6,2222.3 503.4,2224.5 504.2,2227.6 504.5,2232.3 502.3,2237.7 503.9,2240.3 503.3,2243.5 507.0,2242.9 509.7,2244.2 511.7,2246.8 514.7,2244.5 517.7,2244.5 520.7,2244.5 524.5,2239.3 526.2,2237.7 525.0,2235.5 527.6,2230.7 530.6,2229.3 533.4,2227.9Z M541.7,2194.7 539.2,2198.6 539.5,2201.4 540.3,2205.1 544.5,2206.5 543.4,2210.6 546.2,2210.8 549.0,2210.9 552.4,2210.9 555.9,2210.9 557.5,2207.7 553.2,2202.8 556.2,2201.9 559.2,2201.1 559.6,2200.5 558.5,2198.6 557.8,2195.6 557.0,2192.8 554.6,2192.4 552.1,2192.0 549.7,2192.5 547.6,2190.4 546.5,2190.4 544.5,2190.1 545.1,2192.5 541.2,2193.9Z M543.6,2222.0 542.4,2220.8 541.9,2216.0 545.6,2214.2 548.0,2214.0 550.3,2213.9 554.2,2212.4 557.8,2213.9 558.0,2216.3 554.8,2217.5 555.2,2220.8 559.4,2225.4 561.9,2227.3 564.5,2229.2 567.1,2230.6 569.6,2232.0 571.0,2233.6 567.0,2232.6 566.2,2234.9 567.8,2237.1 566.8,2239.0 565.6,2240.3 564.4,2240.3 564.6,2236.1 563.9,2233.6 559.8,2231.4 555.5,2228.5 550.9,2224.8 550.0,2221.7 546.6,2220.2Z M583.6,2155.8 581.1,2154.8 578.6,2153.8 576.1,2153.6 573.5,2153.5 571.1,2154.0 568.6,2154.5 566.2,2154.8 563.8,2155.1 561.3,2155.4 558.7,2156.6 556.1,2157.7 553.5,2159.7 551.0,2162.3 550.3,2164.4 548.4,2165.5 546.6,2166.6 544.2,2167.9 541.8,2169.3 539.1,2170.8 536.3,2172.3 536.1,2175.8 536.8,2179.5 538.4,2181.5 541.6,2182.0 543.7,2180.8 545.7,2179.5 548.1,2178.3 549.3,2179.5 549.7,2179.5 550.6,2177.0 551.5,2174.6 550.6,2171.7 549.8,2168.8 552.0,2166.6 554.2,2164.4 555.8,2162.0 557.4,2159.7 560.5,2158.5 563.6,2157.3 565.5,2157.3 567.4,2157.3 570.3,2157.6 573.2,2157.9 576.4,2157.1 579.4,2156.4 582.2,2156.2Z M549.3,2179.5 551.0,2182.8 553.1,2186.6 556.6,2188.8 560.3,2186.6 560.9,2183.3 562.7,2181.0 564.5,2178.8 561.9,2175.4 560.9,2171.6 562.9,2170.2 564.9,2168.8 566.7,2167.7 568.4,2166.6 569.8,2163.8 573.0,2163.8 571.2,2160.3 568.3,2158.8 565.5,2157.3 563.6,2157.3 560.5,2158.5 557.4,2159.7 555.8,2162.0 554.2,2164.4 552.0,2166.6 549.8,2168.8 550.6,2171.7 551.5,2174.6 550.6,2177.0 549.7,2179.5Z M573.0,2163.8 575.8,2165.1 575.0,2166.6 572.8,2167.9 570.6,2169.3 569.6,2173.4 570.2,2175.8 573.4,2177.3 575.5,2176.9 577.6,2176.6 580.5,2176.2 583.3,2175.8 586.2,2173.4 587.8,2171.8 589.4,2170.2 585.7,2167.7 584.5,2165.5 583.4,2163.4 582.3,2159.7 579.7,2157.3 580.2,2155.8 578.6,2155.6 576.4,2155.6 574.6,2157.3 571.6,2157.3 568.5,2157.3 565.5,2157.3 568.3,2158.8 571.2,2160.3Z M557.0,2192.8 557.8,2195.6 558.5,2198.6 559.6,2200.5 563.2,2202.5 566.0,2203.8 568.7,2205.1 573.2,2205.7 577.6,2206.2 580.2,2202.2 578.6,2197.7 577.5,2192.8 575.8,2191.4 572.2,2191.4 568.7,2191.4 566.8,2191.4 564.3,2191.3 561.9,2191.2 559.5,2192.0Z M541.7,2194.7 541.2,2193.9 539.0,2194.1 536.8,2194.4 536.2,2196.6 534.7,2198.3 533.1,2200.0 531.3,2200.5 535.3,2203.9 539.0,2205.1 540.3,2205.1 539.5,2201.4 539.2,2198.6Z M577.6,2206.2 580.2,2202.2 578.6,2197.7 582.9,2198.3 586.7,2198.6 590.5,2199.0 594.4,2199.4 597.3,2197.4 600.1,2198.0 603.0,2198.6 606.4,2202.5 609.6,2203.1 612.8,2203.6 617.2,2204.8 617.8,2210.0 615.0,2212.1 611.7,2213.3 608.3,2214.5 604.5,2215.4 600.1,2213.6 597.9,2213.9 595.9,2217.8 592.3,2216.9 592.1,2213.1 591.9,2209.4 589.6,2209.0 587.2,2208.6 583.0,2210.0 580.5,2209.6 578.0,2209.1Z M590.3,2233.6 591.7,2232.6 594.1,2232.3 596.5,2232.0 597.0,2230.7 601.6,2230.4 605.5,2227.6 607.9,2227.6 610.3,2227.6 612.9,2228.5 615.6,2229.8 618.3,2231.1 620.7,2230.9 623.1,2230.7 626.6,2229.2 631.5,2230.4 635.6,2234.9 634.1,2235.8 636.0,2240.3 633.6,2241.8 631.1,2243.2 628.3,2243.5 625.5,2243.9 621.8,2244.2 618.1,2244.5 615.6,2244.2 611.8,2244.2 607.9,2246.5 605.0,2245.3 602.1,2244.2 599.9,2246.1 596.2,2244.5 593.8,2243.5 593.2,2240.6 591.0,2239.3 591.9,2238.0 590.1,2235.5Z M634.1,2235.8 636.0,2240.3 637.8,2243.7 639.6,2247.1 642.1,2249.8 641.1,2253.4 644.2,2256.7 648.1,2260.1 650.8,2265.1 651.6,2265.5 655.5,2266.8 658.4,2272.0 663.0,2275.7 665.8,2277.1 668.7,2278.5 673.1,2276.8 676.5,2281.3 679.5,2282.0 682.5,2282.7 685.3,2283.0 688.2,2283.4 687.9,2278.8 691.3,2276.4 689.3,2273.0 686.1,2270.9 683.3,2267.5 683.7,2262.4 682.1,2258.7 680.5,2255.1 678.8,2252.4 679.5,2248.1 675.8,2245.2 671.8,2242.7 667.8,2240.3 665.3,2240.3 662.8,2240.3 660.1,2242.2 659.9,2242.6 656.5,2243.5 653.1,2244.5 650.3,2243.0 647.5,2241.6 646.7,2239.0 644.1,2237.4 640.4,2237.4 635.6,2234.9Z M706.5,2288.6 707.7,2286.5 711.8,2281.6 711.2,2275.0 714.7,2270.2 715.5,2267.2 717.7,2263.4 716.8,2258.4 715.2,2255.1 713.6,2251.7 717.5,2250.1 721.4,2248.4 724.7,2253.4 728.7,2258.1 728.2,2262.4 732.6,2265.5 733.9,2270.9 738.7,2273.3 743.5,2275.7 748.5,2277.8 752.7,2278.5 757.0,2279.2 757.0,2274.4 759.0,2277.8 762.9,2277.8 766.8,2277.8 765.8,2274.4 768.4,2272.0 770.9,2269.6 773.9,2270.9 776.9,2272.3 779.2,2273.7 776.8,2276.1 775.5,2278.8 775.6,2282.3 775.6,2285.8 775.2,2288.6 772.8,2287.5 774.1,2293.9 772.8,2294.9 771.4,2290.9 770.0,2286.8 767.5,2288.2 765.3,2291.4 763.1,2294.6 761.9,2295.3 758.1,2296.3 756.5,2301.7 753.8,2305.2 751.1,2308.8 748.9,2311.8 746.6,2314.9 743.8,2317.8 744.0,2324.1 744.2,2330.4 743.2,2336.6 740.6,2341.7 738.9,2344.6 734.2,2337.7 732.4,2333.1 730.6,2328.6 728.7,2323.2 726.9,2319.6 725.1,2316.0 723.4,2310.6 721.6,2305.2 720.6,2300.6 719.6,2296.0 716.9,2297.2 714.1,2298.5 709.5,2293.2 708.6,2291.0Z M726.2,2206.2 727.2,2205.9 730.2,2208.6 734.0,2210.5 737.9,2212.4 740.2,2216.9 744.0,2217.9 747.8,2218.9 751.5,2219.9 757.5,2225.4 761.3,2225.5 765.1,2225.6 769.0,2225.7 773.5,2226.7 778.0,2227.6 782.5,2228.5 785.7,2227.6 788.8,2226.7 791.8,2225.7 793.2,2222.3 796.0,2219.9 798.7,2217.5 801.0,2214.2 803.6,2213.7 806.2,2213.3 799.2,2208.7 792.2,2204.2 794.6,2203.5 797.0,2202.8 795.8,2199.5 794.5,2196.3 797.6,2195.4 800.6,2194.4 808.7,2199.3 816.8,2204.2 821.7,2205.9 826.6,2207.7 830.1,2210.6 833.3,2209.6 836.5,2208.6 838.7,2213.1 840.8,2217.8 838.5,2218.2 836.2,2218.7 838.7,2221.7 841.1,2224.8 840.7,2226.4 837.0,2226.7 836.2,2229.2 834.8,2230.7 833.4,2232.3 830.4,2234.2 828.2,2234.9 826.0,2235.5 824.8,2237.7 822.7,2234.5 820.6,2231.4 818.2,2233.9 815.7,2236.4 816.9,2237.7 822.1,2242.9 824.1,2241.9 826.1,2240.9 830.5,2242.2 828.9,2244.3 827.3,2246.5 827.0,2251.1 830.7,2254.7 834.3,2258.4 839.5,2263.8 839.8,2268.7 840.0,2273.7 839.9,2277.1 839.9,2280.6 839.0,2285.8 837.2,2288.4 835.4,2291.0 831.8,2292.5 828.2,2293.9 825.2,2295.1 822.2,2296.3 822.0,2300.6 818.8,2296.3 814.1,2296.0 809.5,2291.8 804.6,2290.3 801.2,2292.5 797.4,2293.2 797.1,2297.4 792.8,2296.0 790.0,2291.8 787.1,2287.5 784.3,2287.9 783.8,2281.6 783.1,2275.4 779.2,2273.7 776.9,2272.3 773.9,2270.9 770.9,2269.6 768.4,2272.0 765.8,2274.4 762.2,2275.2 758.5,2276.1 755.6,2274.0 751.2,2273.0 746.9,2272.0 741.5,2268.9 736.1,2265.8 732.6,2265.5 728.2,2262.4 728.7,2258.1 724.7,2253.4 721.4,2248.4 717.8,2246.3 714.2,2244.2 711.6,2243.2 712.4,2242.6 709.6,2239.0 706.8,2235.5 708.6,2232.3 712.9,2232.6 715.2,2229.8 717.4,2228.5 719.5,2227.3 719.5,2223.9 715.1,2218.7 717.4,2217.8 719.7,2216.9 719.1,2211.8 722.1,2211.9 725.1,2212.1 724.1,2208.0Z M727.2,2205.9 728.6,2204.1 730.0,2202.2 732.6,2201.8 735.2,2201.4 738.6,2200.2 742.1,2199.1 745.4,2198.0 748.8,2198.6 752.2,2199.1 755.6,2199.7 760.0,2201.2 764.5,2202.8 767.2,2202.6 770.0,2202.5 773.9,2204.1 777.9,2205.7 780.3,2204.8 782.8,2203.9 785.2,2203.1 788.7,2203.6 792.2,2204.2 799.2,2208.7 806.2,2213.3 803.6,2213.7 801.0,2214.2 798.7,2217.5 796.0,2219.9 793.2,2222.3 791.8,2225.7 788.8,2226.7 785.7,2227.6 782.5,2228.5 778.0,2227.6 773.5,2226.7 769.0,2225.7 765.1,2225.6 761.3,2225.5 757.5,2225.4 751.5,2219.9 747.8,2218.9 744.0,2217.9 740.2,2216.9 737.9,2212.4 734.0,2210.5 730.2,2208.6Z M802.1,2350.5 804.5,2353.4 807.1,2351.6 802.4,2347.9 800.5,2341.3 797.7,2335.9 798.2,2332.2 798.7,2328.6 800.9,2325.0 801.6,2327.9 806.0,2330.4 805.8,2323.5 809.4,2322.8 813.0,2322.1 812.1,2317.0 808.6,2310.6 803.5,2307.7 799.2,2310.6 798.0,2306.8 796.8,2303.1 793.8,2300.2 789.5,2302.7 788.2,2307.0 790.4,2310.6 792.6,2314.2 794.0,2317.8 795.4,2321.4 795.1,2325.0 794.8,2328.6 795.4,2333.1 796.0,2337.7 796.1,2344.2 799.1,2347.4Z M772.9,2299.2 777.2,2304.5 779.3,2309.9 781.4,2315.2 784.3,2316.7 787.1,2315.4 789.9,2314.2 791.7,2320.3 793.3,2324.4 794.8,2328.6 795.1,2325.0 795.4,2321.4 794.0,2317.8 792.6,2314.2 790.4,2310.6 788.2,2307.0 789.5,2302.7 793.8,2300.2 792.8,2296.0 790.0,2291.8 787.1,2287.5 784.3,2287.9 783.8,2281.6 783.1,2275.4 779.2,2273.7 776.8,2276.1 775.5,2278.8 775.6,2282.3 775.6,2285.8 775.2,2288.6 772.8,2287.5 774.1,2293.9 772.8,2294.9Z M226.8,2258.4 229.9,2258.1 233.0,2257.7 236.7,2260.1 240.5,2262.4 244.1,2262.4 247.7,2262.4 252.7,2260.7 253.8,2264.5 255.1,2268.2 258.2,2270.2 263.3,2267.5 264.5,2271.4 265.7,2275.4 267.4,2278.1 269.3,2280.9 266.9,2287.5 266.0,2291.0 265.1,2294.6 265.3,2298.5 267.0,2304.1 269.7,2306.6 272.1,2308.1 275.0,2307.4 277.8,2306.6 281.9,2303.4 283.8,2298.1 287.0,2297.2 290.1,2296.3 293.8,2296.3 292.3,2299.9 290.8,2303.4 288.9,2308.1 287.1,2310.6 286.5,2316.0 289.4,2316.1 292.4,2316.3 295.0,2317.0 297.6,2317.8 299.5,2319.6 298.3,2323.2 297.2,2326.8 296.9,2330.4 296.7,2334.0 298.0,2337.7 300.6,2339.5 303.2,2341.3 307.5,2339.1 311.5,2340.6 313.2,2343.1 311.2,2347.9 309.9,2343.5 307.2,2341.7 304.6,2344.2 304.4,2347.5 301.4,2345.7 297.7,2344.2 295.1,2339.5 290.5,2338.0 290.9,2334.0 288.9,2330.4 286.8,2326.8 283.0,2325.0 279.7,2324.1 276.4,2323.2 273.2,2317.4 269.5,2315.2 266.6,2316.1 263.8,2317.0 261.2,2316.0 258.7,2314.9 255.7,2312.7 252.8,2310.6 249.7,2308.8 246.7,2307.0 244.6,2304.3 242.6,2301.7 244.4,2296.3 243.9,2291.0 242.4,2287.2 240.9,2283.4 238.6,2278.8 236.2,2273.7 235.4,2269.4 234.8,2265.1 231.5,2261.1 230.2,2266.8 231.4,2272.6 231.9,2276.6 232.5,2280.6 233.7,2286.8 234.6,2291.0 233.0,2289.3 229.6,2284.7 228.4,2280.9 227.2,2277.1 226.8,2272.8 226.4,2268.5 226.6,2263.4Z M544.5,2190.1 546.5,2190.4 547.3,2189.8 548.3,2185.9 547.7,2183.0 544.1,2184.3 543.1,2185.9 544.4,2188.5Z M640.7,2214.5 637.9,2210.6 633.6,2206.8 632.6,2205.1 633.9,2202.5 636.2,2201.9 638.1,2200.5 640.0,2199.1 643.1,2199.4 646.3,2199.7 649.2,2200.8 652.1,2201.9 655.0,2201.2 657.9,2200.5 661.5,2202.2 664.8,2201.4 662.1,2196.6 660.2,2192.8 663.1,2192.3 666.0,2191.9 668.9,2191.4 671.7,2190.6 674.6,2189.8 677.3,2189.6 680.0,2189.3 684.1,2191.6 688.1,2193.9 691.1,2192.9 694.0,2192.0 695.4,2193.0 701.3,2197.3 707.3,2201.7 710.8,2201.2 714.3,2200.8 720.6,2204.8 723.4,2205.5 726.2,2206.2 724.1,2208.0 725.1,2212.1 722.1,2211.9 719.1,2211.8 719.7,2216.9 717.4,2217.8 715.1,2218.7 719.5,2223.9 719.5,2227.3 715.7,2226.4 712.0,2225.4 708.3,2224.5 705.7,2224.2 703.2,2223.9 699.8,2224.5 696.5,2225.1 694.5,2227.9 692.4,2230.7 688.4,2227.8 684.3,2224.8 680.9,2224.2 677.5,2223.6 674.1,2223.0 668.9,2219.7 663.7,2216.6 661.0,2217.5 658.3,2218.4 660.0,2224.0 661.5,2229.8 657.7,2228.7 653.9,2227.6 653.5,2227.3 648.8,2223.9 646.5,2219.9 647.3,2217.2 651.2,2217.5 650.1,2213.0 647.6,2212.7 645.2,2212.4 643.1,2213.1 641.0,2213.9Z" fill="none" stroke="#fff" stroke-width="2.4" stroke-linejoin="round"/>
<path d="M243.0,2206.5 247.6,2206.5 252.2,2206.5 256.7,2206.5 261.3,2206.5 265.8,2206.5 270.4,2206.5 275.0,2206.5 279.5,2206.5 284.1,2206.5 288.7,2206.5 293.2,2206.5 297.8,2206.5 302.4,2206.5 306.9,2206.5 308.1,2205.4 311.5,2206.7 314.9,2208.1 318.4,2209.4 321.5,2210.9 324.6,2212.4 327.7,2213.9 329.2,2215.7 330.7,2217.5 329.1,2221.0 327.5,2224.5 331.9,2224.0 336.3,2223.6 339.9,2222.2 343.5,2220.8 348.8,2218.4 352.5,2218.4 356.3,2218.4 361.9,2213.3 365.1,2211.2 367.6,2212.1 365.9,2216.3 366.7,2219.3 M620.8,2223.3 621.5,2223.0 625.3,2224.2 629.2,2225.4 633.1,2226.8 637.1,2228.2 641.9,2230.1 639.8,2224.5 637.4,2219.9 637.8,2216.9 640.7,2214.5 M260.1,2156.2 254.8,2159.8 249.4,2163.6 243.9,2167.7 238.5,2171.9 233.0,2176.3 234.8,2177.9 236.6,2179.5" fill="none" stroke="#fff" stroke-width="2.4"/>
<path d="M338.4,2367.0 339.7,2369.9 336.3,2370.1 332.8,2370.3 333.3,2374.5 333.9,2378.7 333.2,2384.2 332.5,2389.7 329.6,2386.4 326.8,2383.1 322.3,2379.1 317.0,2374.3 314.0,2372.8 311.0,2371.4 307.7,2369.5 M317.0,2374.3 317.9,2379.8 313.0,2385.3 309.3,2390.8 306.3,2390.8 304.0,2386.8 M332.5,2389.7 328.5,2391.5 324.6,2393.4 323.8,2400.0 325.2,2404.5 326.6,2409.1 329.4,2409.1 332.1,2409.1 332.3,2414.6 335.3,2414.2 M381.9,2466.6 384.9,2471.8 380.6,2475.6 378.7,2479.0 376.9,2482.4 M372.4,2472.5 368.1,2466.6 363.9,2460.7 359.6,2454.7 M376.8,2353.4 375.9,2359.6 375.1,2365.9 M368.6,2352.3 367.5,2357.8 366.4,2363.3 365.4,2368.8" fill="none" stroke="#fff" stroke-width="2.4" stroke-linejoin="round"/>
<path d="M336.1,2440.9 337.9,2438.0 339.3,2441.6 340.8,2445.2 342.4,2450.5 347.5,2456.8 345.4,2462.8 345.8,2467.2 346.3,2471.5 345.7,2476.6 345.3,2481.8 345.9,2486.8 346.6,2491.9 347.8,2496.9 349.1,2501.8 349.9,2506.7 350.7,2511.5 351.4,2516.3 352.1,2521.0 354.2,2525.6 356.3,2530.2 357.4,2534.7 358.5,2539.2 358.5,2542.1 358.6,2545.0 361.4,2547.8 364.3,2550.6 367.8,2550.9 371.3,2551.2 371.6,2549.5 374.5,2554.7 377.2,2558.0 379.9,2561.2 376.4,2560.0 372.8,2558.8 370.0,2557.4 367.1,2556.1 363.8,2554.1 360.5,2552.0 357.6,2548.5 354.7,2545.0 352.4,2541.3 350.1,2537.7 350.2,2534.0 350.4,2530.2 349.5,2526.4 348.6,2522.5 346.3,2517.1 344.1,2511.5 343.6,2508.3 343.1,2505.1 343.1,2500.2 343.2,2495.2 342.9,2491.9 342.6,2488.5 341.5,2483.5 340.6,2478.4 340.3,2474.9 340.0,2471.5 339.4,2465.4 338.9,2459.3 338.0,2453.1 337.3,2446.9Z" fill="#fff" stroke="#fff" stroke-width="2" stroke-linejoin="round"/>
<path d="M637.4,2219.9 637.8,2216.9 641.0,2213.9 643.4,2213.1 645.9,2212.4 649.6,2213.0 651.4,2217.5 647.6,2219.9 646.7,2220.8 648.8,2223.9 653.4,2227.6 654.5,2230.7 655.5,2233.9 657.7,2238.2 659.9,2242.6 656.5,2243.5 653.1,2244.5 650.3,2243.0 647.5,2241.6 646.6,2238.7 646.7,2232.9 643.4,2228.2 639.8,2224.5Z M310.5,2213.3 315.3,2210.9 320.0,2208.6 323.0,2208.9 325.9,2209.1 328.8,2209.4 327.5,2213.9 324.7,2213.9 321.9,2213.9 318.1,2213.7 314.3,2213.5Z M313.4,2227.6 319.4,2223.0 321.3,2219.3 323.3,2215.7 325.1,2216.9 326.3,2215.4 322.0,2219.4 317.7,2223.5Z M326.4,2215.7 329.9,2216.7 333.4,2217.8 330.6,2221.1 327.8,2224.5 326.6,2221.1Z M323.9,2228.5 327.9,2227.3 331.8,2226.1 335.8,2224.8 331.3,2227.0 327.6,2227.8Z" fill="#0c3f68" stroke="#fff" stroke-width="2.2" stroke-linejoin="round"/>
<text x="1072.0" y="1390.3" font-size="35" font-weight="bold" fill="#1a1a1a" stroke="#1a1a1a" stroke-width="1.6" stroke-linejoin="round">g</text>
<text x="1104.5" y="1397.3" font-size="13.5" fill="#9a9a9a" textLength="192.0" lengthAdjust="spacingAndGlyphs">Est. BA.2 prevalence last 60 d</text>
<rect x="1108.6" y="1406.3" width="14.2" height="13.7" fill="#fdfdd9" stroke="#444" stroke-width="1"/>
<text x="1115.7" y="1437.0" font-size="14" text-anchor="middle" fill="#333">0–1</text>
<rect x="1160.7" y="1406.3" width="14.2" height="13.7" fill="#eef3b2" stroke="#444" stroke-width="1"/>
<text x="1167.8" y="1437.0" font-size="14" text-anchor="middle" fill="#333">1–5</text>
<rect x="1212.8" y="1406.3" width="14.2" height="13.7" fill="#c7e6b3" stroke="#444" stroke-width="1"/>
<text x="1219.9" y="1437.0" font-size="14" text-anchor="middle" fill="#333">5–10</text>
<rect x="1264.9" y="1406.3" width="14.2" height="13.7" fill="#7fcdbb" stroke="#444" stroke-width="1"/>
<text x="1272.0" y="1437.0" font-size="14" text-anchor="middle" fill="#333">10–20</text>
<rect x="1317.0" y="1406.3" width="14.2" height="13.7" fill="#41b6c4" stroke="#444" stroke-width="1"/>
<text x="1324.1" y="1437.0" font-size="14" text-anchor="middle" fill="#333">20–35</text>
<rect x="1369.1" y="1406.3" width="14.2" height="13.7" fill="#1d91c0" stroke="#444" stroke-width="1"/>
<text x="1376.2" y="1437.0" font-size="14" text-anchor="middle" fill="#333">35–50</text>
<rect x="1421.2" y="1406.3" width="14.2" height="13.7" fill="#225ea8" stroke="#444" stroke-width="1"/>
<text x="1428.3" y="1437.0" font-size="14" text-anchor="middle" fill="#333">50–75</text>
<rect x="1473.3" y="1406.3" width="14.2" height="13.7" fill="#253494" stroke="#444" stroke-width="1"/>
<text x="1480.4" y="1437.0" font-size="14" text-anchor="middle" fill="#333">75–100</text>
<defs><pattern id="h2" patternUnits="userSpaceOnUse" width="7" height="7" patternTransform="rotate(45)"><rect width="7" height="7" fill="#fff"/><line x1="0" y1="0" x2="0" y2="7" stroke="#333" stroke-width="1"/></pattern></defs>
<rect x="1512" y="1396.4" width="14" height="13.2" fill="#f2f2f2" stroke="#444" stroke-width="1"/>
<rect x="1512" y="1415" width="14" height="13" fill="#fff" stroke="#444" stroke-width="1"/>
<line x1="1512" y1="1428" x2="1526" y2="1415" stroke="#333" stroke-width="1"/>
<rect x="1512" y="1433.2" width="14" height="13.5" fill="#b2b2b6" stroke="#444" stroke-width="1"/>
<text x="1532.2" y="1408.2" font-size="14.5" fill="#222" textLength="98.0" lengthAdjust="spacingAndGlyphs">No sequencing</text>
<text x="1532.2" y="1427.0" font-size="14.5" fill="#222" textLength="85.0" lengthAdjust="spacingAndGlyphs">Not detected</text>
<text x="1531.0" y="1443.9" font-size="14.5" fill="#222" textLength="161.0" lengthAdjust="spacingAndGlyphs">Sequenced &lt; 25 samples</text>
<text x="1661.0" y="1418.3" font-size="14.5" fill="#9a9a9a" textLength="155.0" lengthAdjust="spacingAndGlyphs">Prevalence over the last</text>
<rect x="1821.3" y="1402.4" width="23.9" height="20.8" fill="#fff" stroke="#888" stroke-width="1"/>
<text x="1833.2" y="1417.5" font-size="14" text-anchor="middle" fill="#9a9a9a">60</text>
<text x="1849.5" y="1418.3" font-size="14.5" fill="#9a9a9a">d</text>
<rect x="1866" y="1403" width="58" height="20.5" rx="4" fill="#ececec" stroke="#c8c8c8" stroke-width="1.6"/>
<text x="1895.0" y="1418.0" font-size="14" text-anchor="middle" fill="#b0b0b0" textLength="50.0" lengthAdjust="spacingAndGlyphs">All time</text>
<defs><pattern id="hg" patternUnits="userSpaceOnUse" width="8" height="8" patternTransform="rotate(45)"><rect width="8" height="8" fill="#fcfcda"/><line x1="0" y1="0" x2="0" y2="8" stroke="#3b5468" stroke-width="0.85"/></pattern></defs>
<path d="M1225.4,1510.2 1228.2,1509.8 1230.9,1509.3 1233.6,1508.8 1234.1,1507.4 1234.6,1506.1 1239.3,1504.8 1243.9,1503.6 1246.9,1503.2 1249.8,1502.7 1252.8,1502.3 1255.7,1501.9 1257.6,1502.1 1259.4,1502.3 1261.3,1502.5 1263.4,1502.8 1265.4,1503.0 1267.5,1503.2 1269.6,1503.5 1271.2,1503.7 1272.7,1504.0 1274.2,1504.2 1276.2,1504.5 1278.1,1504.8 1280.1,1505.0 1282.8,1504.7 1285.4,1504.3 1288.3,1504.0 1291.1,1503.7 1293.9,1503.4 1295.3,1503.7 1296.7,1504.1 1298.1,1504.5 1300.3,1504.7 1302.6,1504.8 1304.9,1505.0 1307.2,1505.2 1308.9,1505.7 1310.7,1506.3 1312.4,1506.8 1314.7,1506.6 1316.9,1506.3 1319.1,1506.1 1320.9,1506.1 1322.8,1506.2 1324.7,1506.2 1326.7,1506.4 1328.7,1506.5 1330.7,1506.7 1332.8,1506.8 1335.7,1506.1 1338.6,1505.3 1341.2,1503.1 1343.7,1501.1 1344.4,1502.0 1345.2,1502.9 1346.3,1504.0 1347.5,1505.0 1348.9,1505.8 1350.4,1506.5 1354.2,1503.9 1356.0,1504.3 1357.9,1504.6 1356.7,1506.8 1352.6,1509.1 1350.4,1509.0 1348.1,1508.8 1345.5,1510.4 1342.7,1512.0 1339.9,1513.0 1336.9,1514.1 1333.9,1515.6 1330.8,1517.2 1327.9,1519.6 1325.0,1522.1 1325.1,1525.6 1327.1,1526.2 1329.1,1526.9 1331.1,1527.5 1333.0,1528.3 1334.9,1529.1 1337.1,1529.2 1339.3,1529.3 1338.0,1531.4 1336.7,1533.6 1337.6,1535.4 1338.6,1537.2 1341.1,1535.7 1342.7,1533.1 1344.3,1530.5 1348.5,1528.5 1349.5,1526.1 1350.6,1523.6 1351.4,1521.8 1352.2,1519.9 1353.7,1517.7 1355.2,1515.6 1357.2,1515.7 1359.2,1515.7 1361.2,1515.8 1362.5,1516.7 1363.8,1517.7 1365.9,1518.1 1365.1,1520.8 1366.4,1522.7 1368.1,1522.4 1369.9,1522.1 1373.0,1519.3 1373.8,1522.3 1374.3,1524.4 1374.9,1526.5 1376.2,1528.9 1377.7,1530.2 1379.2,1531.5 1380.7,1535.3 1377.8,1536.7 1374.8,1538.1 1371.8,1539.5 1369.5,1539.5 1367.2,1539.5 1364.9,1539.5 1362.7,1539.6 1360.5,1539.7 1358.2,1540.9 1356.0,1542.1 1352.7,1544.5 1356.1,1543.2 1359.6,1541.9 1361.2,1542.2 1362.8,1542.5 1360.3,1544.3 1361.1,1545.4 1360.6,1548.1 1362.8,1549.2 1365.5,1549.2 1368.5,1546.7 1368.3,1549.0 1365.6,1550.3 1363.3,1551.3 1360.9,1552.2 1358.4,1553.2 1356.0,1554.2 1356.1,1552.4 1359.8,1550.3 1357.9,1550.6 1356.0,1550.8 1354.8,1551.7 1351.6,1552.9 1348.5,1554.0 1346.5,1556.3 1346.8,1558.7 1343.7,1559.6 1341.6,1560.2 1339.6,1560.8 1338.4,1561.5 1337.5,1563.9 1335.1,1565.6 1333.7,1566.8 1331.7,1570.0 1331.2,1574.4 1327.9,1575.9 1325.5,1577.3 1323.2,1578.6 1320.7,1580.5 1318.2,1582.4 1316.5,1586.2 1316.5,1588.8 1316.6,1591.4 1316.5,1594.0 1316.3,1596.6 1313.6,1600.2 1312.7,1596.6 1312.0,1592.7 1312.2,1589.6 1309.9,1587.5 1307.2,1586.5 1305.3,1586.5 1303.3,1586.5 1300.2,1587.0 1300.0,1589.8 1296.7,1589.1 1294.1,1588.7 1291.4,1588.3 1288.8,1589.3 1285.9,1591.5 1283.0,1593.7 1281.1,1598.1 1279.4,1603.1 1278.7,1605.8 1278.0,1608.4 1278.1,1611.3 1279.4,1615.6 1281.5,1617.5 1283.3,1618.6 1285.5,1618.0 1287.6,1617.5 1290.7,1615.1 1292.1,1611.1 1294.5,1610.4 1296.9,1609.7 1299.7,1609.7 1298.5,1612.4 1297.4,1615.1 1296.0,1618.6 1294.6,1620.5 1294.1,1624.5 1296.4,1624.6 1298.6,1624.8 1300.6,1625.3 1302.6,1625.9 1304.0,1627.2 1303.1,1629.9 1302.3,1632.7 1302.1,1635.4 1301.9,1638.1 1302.8,1640.9 1304.8,1642.2 1306.8,1643.6 1310.0,1642.0 1313.0,1643.1 1314.3,1645.0 1312.9,1648.6 1311.8,1645.3 1309.9,1643.9 1307.8,1645.8 1307.7,1648.3 1305.5,1646.9 1302.6,1645.8 1300.6,1642.2 1297.2,1641.1 1297.5,1638.1 1296.0,1635.4 1294.4,1632.7 1291.5,1631.3 1289.0,1630.6 1286.5,1629.9 1284.1,1625.6 1281.3,1624.0 1279.1,1624.6 1277.0,1625.3 1275.1,1624.5 1273.2,1623.7 1270.9,1622.1 1268.7,1620.5 1266.4,1619.1 1264.1,1617.8 1262.5,1615.7 1261.0,1613.7 1262.3,1609.7 1262.0,1605.8 1260.8,1602.8 1259.7,1600.0 1258.0,1596.6 1256.2,1592.7 1255.6,1589.4 1255.1,1586.2 1252.6,1583.2 1251.6,1587.5 1252.5,1591.9 1252.9,1594.9 1253.4,1597.9 1254.3,1602.6 1255.0,1605.8 1253.7,1604.4 1251.2,1601.0 1250.2,1598.1 1249.3,1595.3 1249.0,1592.0 1248.8,1588.8 1248.9,1585.0 1249.0,1581.2 1247.9,1577.4 1246.2,1576.8 1244.5,1576.1 1244.5,1573.5 1244.6,1571.0 1245.1,1568.0 1245.3,1563.4 1245.2,1561.8 1247.3,1558.7 1249.5,1555.6 1252.1,1551.9 1254.9,1548.3 1256.1,1545.8 1257.3,1543.4 1260.0,1544.3 1261.3,1542.1 1260.4,1541.0 1259.6,1539.9 1258.3,1538.9 1257.1,1537.8 1259.0,1534.6 1259.2,1532.6 1259.4,1530.5 1259.7,1528.5 1259.7,1526.5 1259.7,1524.6 1259.1,1523.6 1258.6,1522.7 1257.3,1522.4 1256.0,1522.1 1255.0,1521.3 1254.0,1520.4 1251.9,1520.2 1249.9,1519.9 1248.5,1519.2 1247.0,1518.4 1244.5,1519.2 1242.0,1519.9 1239.9,1520.4 1237.7,1520.8 1234.2,1521.4 1232.2,1520.8 1227.0,1523.6 1224.2,1524.6 1221.4,1525.6 1217.9,1526.7 1214.4,1527.9 1211.0,1528.7 1207.6,1529.5 1204.9,1530.0 1202.2,1530.5 1205.9,1529.2 1209.5,1527.9 1213.8,1526.4 1218.1,1525.0 1223.9,1522.3 1221.8,1522.3 1219.6,1522.3 1217.5,1522.3 1219.2,1519.9 1218.7,1519.2 1218.1,1518.4 1221.3,1515.4 1224.4,1514.2 1227.4,1514.0 1230.5,1513.7 1233.0,1512.0 1230.6,1512.0 1228.2,1511.9 1225.7,1511.9 1225.6,1511.0Z" fill="#edf2b3" stroke="#2a2a2a" stroke-width="0.75" stroke-linejoin="round"/>
<path d="M1314.3,1645.0 1316.2,1642.8 1318.5,1639.5 1320.7,1638.1 1322.9,1636.8 1325.1,1635.4 1326.9,1634.3 1327.5,1635.9 1326.7,1638.1 1327.9,1638.7 1329.9,1634.8 1332.2,1636.8 1335.2,1638.0 1338.2,1639.2 1340.3,1639.1 1342.4,1639.0 1344.5,1639.0 1346.5,1639.0 1348.4,1642.2 1350.3,1645.0 1353.2,1649.1 1356.2,1651.9 1358.3,1651.9 1360.4,1651.9 1362.9,1653.3 1365.5,1654.6 1368.6,1657.4 1369.6,1660.4 1370.6,1663.5 1370.5,1668.5 1373.7,1671.2 1376.3,1671.2 1378.9,1671.2 1381.0,1673.3 1383.1,1675.4 1385.7,1675.9 1388.3,1676.5 1391.0,1677.3 1393.6,1678.1 1395.7,1680.1 1397.8,1682.0 1401.6,1683.6 1402.6,1688.1 1402.1,1693.3 1400.2,1696.0 1398.4,1698.8 1397.0,1701.5 1395.5,1704.2 1395.2,1707.0 1394.8,1709.7 1394.9,1713.1 1394.9,1716.4 1394.4,1719.8 1393.8,1723.2 1393.1,1725.8 1392.3,1728.5 1390.6,1731.1 1388.1,1731.5 1385.7,1731.9 1383.4,1733.5 1381.1,1735.1 1378.6,1739.0 1378.9,1742.3 1379.2,1745.5 1378.0,1748.7 1376.8,1751.9 1375.4,1755.1 1374.1,1758.3 1372.6,1760.3 1370.3,1761.7 1367.2,1761.5 1363.3,1760.5 1366.2,1763.2 1367.7,1765.5 1367.2,1769.9 1364.5,1770.3 1361.9,1770.8 1359.3,1771.3 1360.1,1775.6 1357.7,1776.1 1355.4,1776.6 1357.8,1780.1 1358.2,1783.0 1358.6,1785.9 1357.0,1787.6 1355.4,1789.3 1359.6,1792.2 1358.2,1795.9 1358.3,1798.2 1358.5,1800.4 1360.7,1804.3 1363.3,1805.7 1365.8,1807.0 1364.8,1809.2 1362.1,1808.3 1359.4,1807.4 1357.3,1806.4 1355.1,1805.4 1352.6,1803.8 1350.1,1802.3 1347.9,1799.6 1345.7,1797.0 1344.0,1794.3 1342.3,1791.5 1342.4,1788.7 1342.5,1785.9 1341.8,1783.0 1341.1,1780.1 1339.4,1776.0 1337.7,1771.8 1337.3,1769.4 1337.0,1766.9 1337.0,1763.2 1337.0,1759.5 1336.8,1757.0 1336.6,1754.5 1335.8,1750.7 1335.0,1746.8 1334.8,1744.2 1334.6,1741.6 1334.2,1737.1 1333.8,1732.5 1333.1,1727.8 1332.6,1723.2 1331.7,1718.6 1328.8,1715.9 1324.9,1713.2 1321.0,1710.5 1317.7,1705.6 1316.2,1702.9 1314.6,1700.1 1312.7,1696.0 1310.8,1691.9 1309.6,1689.2 1308.4,1686.4 1305.4,1681.4 1307.6,1677.3 1306.8,1672.6 1306.0,1671.2 1307.9,1666.2 1310.2,1664.3 1313.1,1661.5 1313.7,1657.4 1313.8,1653.9 1314.0,1650.5 1312.9,1648.6Z" fill="#fcfcda" stroke="#2a2a2a" stroke-width="0.75" stroke-linejoin="round"/>
<path d="M1464.0,1572.9 1467.6,1573.8 1471.2,1574.7 1474.1,1572.9 1476.9,1571.2 1479.4,1570.9 1481.9,1570.5 1484.4,1570.2 1487.8,1570.2 1491.2,1570.2 1494.4,1569.2 1495.7,1570.0 1494.9,1571.7 1495.9,1574.4 1494.3,1576.6 1496.4,1579.4 1500.1,1580.2 1502.3,1580.9 1504.6,1581.7 1508.1,1585.0 1510.1,1585.9 1512.1,1586.7 1513.9,1585.0 1513.9,1581.7 1517.0,1580.2 1520.5,1581.9 1523.5,1583.4 1526.1,1584.0 1528.8,1584.6 1531.4,1585.2 1533.3,1584.5 1535.2,1583.7 1537.7,1584.2 1541.4,1584.2 1543.4,1588.8 1542.7,1593.2 1541.9,1595.3 1543.4,1598.5 1545.0,1601.8 1546.5,1605.2 1549.4,1608.4 1550.2,1612.4 1550.9,1616.4 1553.6,1619.1 1554.8,1622.5 1556.1,1625.9 1558.3,1628.2 1560.5,1630.5 1564.4,1634.0 1564.4,1636.8 1567.2,1639.8 1569.8,1638.8 1572.3,1637.9 1575.3,1637.2 1578.2,1636.6 1581.1,1635.9 1580.7,1639.5 1580.5,1643.6 1579.3,1647.1 1578.1,1650.5 1576.6,1653.3 1575.1,1656.0 1573.1,1659.5 1571.1,1662.9 1569.0,1664.3 1566.9,1665.7 1564.8,1668.5 1562.7,1671.2 1559.6,1675.4 1558.5,1678.1 1557.4,1680.9 1556.8,1683.6 1556.2,1686.4 1557.1,1690.5 1557.7,1694.0 1558.3,1697.4 1558.3,1701.0 1558.3,1704.7 1558.3,1708.3 1557.1,1711.0 1555.9,1713.7 1553.2,1715.5 1550.5,1717.3 1548.6,1722.2 1546.7,1727.2 1546.4,1730.5 1546.1,1733.8 1543.4,1735.8 1540.7,1737.7 1540.3,1740.3 1539.6,1742.9 1538.9,1745.5 1535.6,1749.1 1532.3,1753.2 1530.1,1755.4 1527.9,1757.5 1525.9,1758.5 1523.9,1759.5 1521.0,1759.5 1518.1,1759.5 1515.6,1760.5 1513.2,1761.5 1510.4,1760.0 1510.3,1757.0 1509.5,1753.2 1508.8,1749.4 1507.4,1745.8 1505.1,1741.6 1504.8,1738.2 1504.5,1734.7 1504.1,1731.1 1502.9,1727.8 1501.7,1724.5 1500.4,1720.5 1499.1,1716.4 1499.2,1711.8 1500.0,1708.7 1500.8,1705.6 1502.9,1701.5 1502.7,1698.1 1502.4,1694.7 1501.5,1689.8 1500.6,1685.0 1500.0,1682.3 1498.0,1678.1 1496.2,1674.7 1494.4,1671.2 1494.6,1668.5 1494.8,1665.7 1495.2,1662.9 1495.5,1660.2 1492.7,1656.0 1490.1,1656.3 1487.5,1656.6 1485.4,1652.4 1483.7,1650.8 1481.5,1650.9 1479.2,1651.0 1477.1,1652.0 1475.0,1653.0 1472.9,1654.1 1470.8,1655.2 1468.7,1654.6 1466.7,1654.1 1463.0,1655.2 1459.4,1656.3 1457.3,1654.8 1455.2,1653.3 1453.1,1651.3 1451.1,1649.4 1448.0,1645.8 1447.0,1642.2 1443.9,1638.7 1440.5,1634.3 1439.7,1631.2 1439.0,1628.0 1441.2,1624.5 1441.6,1620.5 1442.0,1616.4 1441.4,1613.3 1440.8,1610.3 1441.9,1607.3 1442.9,1604.4 1444.5,1601.1 1446.2,1597.9 1449.3,1593.4 1452.3,1592.1 1455.8,1588.0 1456.2,1583.7 1458.7,1579.1 1462.0,1577.1Z" fill="#fcfcda" stroke="#2a2a2a" stroke-width="0.75" stroke-linejoin="round"/>
<path d="M1464.4,1572.4 1466.7,1570.7 1469.0,1570.7 1471.2,1570.7 1474.1,1566.8 1475.4,1565.6 1474.4,1563.9 1476.5,1560.3 1478.7,1559.3 1480.9,1558.2 1480.6,1555.6 1483.7,1554.7 1486.8,1555.4 1488.5,1553.8 1490.8,1552.4 1493.4,1553.6 1494.1,1555.9 1497.5,1558.7 1500.8,1560.8 1503.9,1562.5 1504.4,1564.4 1504.2,1567.5 1505.2,1567.5 1506.0,1566.6 1506.9,1565.1 1505.6,1563.4 1506.2,1561.8 1509.2,1562.5 1508.2,1561.3 1506.3,1560.2 1504.3,1559.2 1502.4,1557.7 1500.5,1556.3 1497.3,1552.9 1497.0,1550.3 1499.4,1549.4 1500.9,1550.6 1502.4,1552.9 1504.6,1554.2 1506.8,1555.6 1509.7,1558.0 1510.9,1560.3 1510.9,1562.2 1512.5,1563.9 1514.5,1566.8 1516.0,1570.5 1517.6,1571.4 1518.5,1571.2 1518.7,1569.2 1517.8,1568.5 1518.5,1567.5 1519.9,1567.0 1517.4,1563.9 1516.8,1562.0 1517.4,1561.3 1520.1,1560.6 1522.9,1560.8 1523.4,1561.8 1524.3,1561.5 1526.5,1560.3 1528.3,1559.9 1526.3,1558.7 1525.5,1555.6 1526.6,1553.3 1528.1,1550.6 1529.6,1547.6 1531.3,1547.4 1534.6,1548.8 1533.1,1550.3 1535.4,1552.4 1538.5,1550.8 1540.4,1550.3 1542.3,1551.7 1544.3,1552.6 1546.9,1554.7 1550.8,1557.5 1551.3,1559.2 1548.6,1560.3 1546.8,1560.5 1545.0,1560.6 1543.0,1559.6 1540.9,1558.7 1539.0,1558.0 1537.2,1558.0 1535.3,1558.0 1532.4,1560.1 1528.9,1560.3 1528.5,1561.3 1526.7,1561.5 1524.9,1561.8 1523.9,1562.5 1523.7,1563.9 1525.0,1565.8 1524.4,1566.8 1526.0,1567.8 1526.5,1570.0 1528.3,1570.7 1531.1,1571.9 1532.8,1570.5 1535.0,1571.3 1537.2,1572.2 1540.1,1570.5 1543.0,1570.5 1542.8,1571.9 1543.4,1574.9 1543.1,1577.6 1542.4,1581.2 1541.4,1584.2 1543.4,1588.8 1544.3,1591.4 1545.1,1594.0 1547.5,1597.9 1550.0,1601.8 1552.2,1604.4 1553.2,1607.1 1554.2,1609.7 1555.7,1612.4 1557.3,1615.1 1559.1,1618.4 1560.9,1621.8 1561.9,1624.5 1563.0,1627.2 1564.3,1632.1 1564.8,1633.5 1567.9,1633.2 1570.9,1631.6 1573.9,1629.9 1575.8,1628.6 1577.8,1627.2 1579.9,1626.3 1582.1,1625.3 1584.8,1622.9 1587.4,1620.5 1590.3,1619.1 1592.6,1616.4 1594.1,1612.4 1594.8,1609.7 1595.4,1607.1 1592.3,1604.2 1590.0,1602.6 1587.6,1601.0 1586.6,1597.3 1585.5,1599.2 1583.1,1602.6 1581.1,1602.8 1579.1,1603.1 1578.1,1601.5 1577.6,1598.1 1576.5,1597.6 1576.4,1601.0 1574.5,1597.3 1570.6,1592.7 1568.9,1587.8 1570.2,1586.5 1573.1,1587.5 1575.3,1591.4 1578.8,1594.2 1580.9,1595.3 1583.1,1596.3 1586.4,1595.0 1589.0,1598.4 1591.3,1598.9 1593.5,1599.4 1595.7,1599.7 1597.8,1600.0 1600.2,1599.8 1602.5,1599.7 1605.1,1599.6 1607.7,1599.4 1609.2,1601.0 1611.7,1603.9 1613.3,1605.8 1613.9,1607.3 1617.4,1611.3 1619.5,1610.4 1621.6,1609.5 1622.4,1612.9 1623.1,1616.4 1624.4,1620.5 1625.7,1624.5 1627.1,1627.2 1628.4,1629.9 1629.9,1634.0 1631.3,1637.4 1632.6,1640.9 1636.2,1646.1 1637.4,1643.9 1639.4,1640.0 1640.2,1635.4 1640.1,1630.6 1639.9,1625.9 1642.0,1623.7 1643.7,1621.4 1645.4,1619.1 1647.4,1616.4 1649.5,1613.7 1650.7,1609.7 1653.6,1608.9 1655.4,1608.3 1657.3,1607.6 1659.9,1607.6 1661.9,1611.9 1665.1,1615.9 1666.7,1619.9 1668.3,1624.0 1670.5,1625.1 1672.6,1624.1 1674.7,1623.2 1676.1,1627.8 1677.3,1630.9 1678.5,1634.0 1678.9,1637.4 1679.3,1640.9 1679.4,1645.8 1681.7,1648.2 1683.9,1650.5 1684.2,1654.6 1685.4,1657.5 1686.5,1660.4 1688.9,1662.6 1691.2,1664.9 1692.7,1664.3 1691.8,1660.8 1690.8,1657.4 1689.4,1654.4 1687.9,1651.3 1684.2,1648.6 1682.7,1643.6 1680.6,1639.5 1681.0,1636.8 1681.4,1634.0 1683.0,1631.3 1683.6,1633.5 1686.9,1635.4 1688.3,1638.1 1691.6,1639.5 1692.8,1644.7 1696.3,1642.2 1697.8,1639.5 1700.9,1636.2 1700.1,1631.3 1699.3,1628.6 1698.4,1625.9 1693.9,1621.8 1692.0,1619.1 1690.1,1616.4 1691.0,1611.9 1693.0,1609.5 1696.5,1609.7 1699.0,1612.9 1699.2,1609.7 1701.4,1608.8 1703.7,1607.9 1706.4,1606.8 1709.1,1605.8 1710.5,1603.8 1711.9,1601.8 1712.5,1597.9 1712.6,1595.3 1712.6,1592.7 1712.5,1588.9 1712.2,1585.2 1708.3,1581.2 1705.6,1578.4 1702.8,1575.6 1703.0,1572.2 1704.2,1570.6 1705.4,1569.0 1702.1,1568.0 1700.6,1568.8 1699.1,1569.5 1695.1,1565.6 1694.2,1564.6 1696.1,1562.7 1697.9,1560.8 1699.5,1563.2 1701.1,1565.6 1702.0,1563.9 1703.7,1563.4 1705.3,1563.0 1708.6,1566.3 1712.7,1568.5 1713.8,1571.1 1714.9,1573.7 1716.4,1576.1 1718.6,1575.9 1721.1,1574.2 1719.7,1571.2 1717.4,1568.8 1715.2,1566.3 1711.4,1563.2 1712.5,1562.0 1713.6,1560.8 1713.5,1557.3 1714.4,1555.2 1717.2,1556.1 1718.4,1554.8 1719.5,1553.6 1720.1,1551.7 1720.7,1549.9 1720.1,1546.6 1719.4,1543.4 1717.8,1541.1 1716.2,1538.9 1714.9,1536.7 1713.7,1534.6 1710.8,1533.0 1707.0,1532.3 1703.2,1531.5 1698.6,1529.9 1699.0,1528.3 1699.4,1526.7 1700.2,1525.4 1701.0,1524.0 1701.3,1522.6 1701.7,1521.2 1704.2,1521.1 1706.8,1521.1 1709.3,1521.0 1711.7,1521.2 1714.0,1521.4 1716.4,1521.6 1718.5,1521.4 1720.7,1521.2 1719.2,1519.2 1717.6,1517.2 1720.0,1516.9 1722.3,1516.7 1724.1,1519.0 1725.8,1521.5 1727.5,1524.0 1730.5,1526.7 1733.4,1529.5 1736.6,1532.2 1739.7,1535.0 1742.9,1537.8 1741.8,1534.0 1740.3,1530.5 1740.4,1528.8 1740.3,1527.1 1737.1,1523.6 1732.1,1520.8 1733.8,1520.1 1735.5,1519.3 1737.9,1519.5 1740.2,1519.7 1742.6,1519.9 1743.2,1519.0 1743.8,1518.1 1745.0,1517.2 1746.2,1516.3 1747.4,1515.4 1743.9,1512.4 1744.0,1511.2 1738.5,1508.1 1733.1,1505.2 1729.0,1504.5 1726.3,1504.2 1723.7,1503.9 1721.3,1503.8 1718.9,1503.6 1716.5,1503.5 1714.8,1503.9 1713.0,1504.3 1710.8,1504.3 1708.6,1504.3 1706.4,1504.2 1704.2,1504.2 1700.0,1502.5 1697.5,1502.4 1695.0,1502.4 1692.5,1502.3 1690.6,1502.4 1688.7,1502.5 1686.5,1502.1 1684.4,1501.6 1681.5,1501.2 1678.6,1500.9 1675.7,1500.6 1673.3,1500.5 1670.8,1500.4 1668.4,1500.3 1667.3,1500.9 1666.2,1501.6 1663.8,1501.5 1661.3,1501.4 1658.8,1501.3 1655.7,1500.6 1652.6,1499.9 1650.6,1499.5 1648.6,1499.1 1646.4,1499.0 1644.2,1498.8 1642.3,1499.1 1640.4,1499.4 1638.5,1499.7 1635.9,1499.4 1633.2,1499.1 1630.6,1498.8 1629.1,1498.8 1627.7,1498.7 1626.2,1496.6 1623.5,1496.2 1620.7,1495.8 1618.0,1495.5 1615.0,1495.0 1612.0,1494.6 1610.6,1495.0 1609.2,1495.4 1607.8,1495.8 1606.2,1495.9 1604.6,1496.0 1603.0,1496.2 1600.9,1496.3 1598.9,1496.5 1596.9,1496.7 1595.3,1496.9 1593.8,1497.1 1592.2,1497.3 1591.9,1497.7 1593.6,1498.7 1592.1,1499.3 1590.7,1499.9 1588.8,1500.3 1587.0,1500.7 1585.0,1500.6 1583.0,1500.6 1580.8,1500.2 1578.7,1499.9 1579.5,1502.3 1580.2,1504.0 1580.9,1505.8 1578.3,1504.3 1574.7,1501.9 1571.2,1499.7 1570.5,1500.9 1569.7,1502.3 1570.0,1503.6 1570.3,1505.0 1567.5,1504.7 1564.8,1504.3 1563.3,1504.7 1561.7,1505.0 1560.1,1505.3 1558.5,1505.6 1556.4,1505.8 1554.3,1505.9 1552.1,1505.8 1550.0,1506.5 1547.8,1507.3 1545.1,1506.8 1542.5,1506.3 1539.8,1505.8 1537.7,1505.8 1538.8,1507.4 1539.9,1509.1 1537.9,1510.6 1535.9,1512.0 1533.8,1511.9 1531.7,1511.7 1529.7,1511.5 1526.5,1510.4 1523.5,1508.7 1525.7,1508.7 1528.0,1508.8 1530.5,1508.7 1533.0,1508.5 1535.4,1508.3 1533.4,1507.3 1531.4,1506.2 1529.2,1505.7 1527.1,1505.2 1525.0,1504.8 1523.6,1504.6 1522.1,1504.5 1520.4,1504.2 1518.8,1503.9 1516.9,1503.1 1515.0,1502.4 1513.1,1502.3 1511.2,1502.1 1509.3,1502.5 1507.4,1502.9 1505.6,1503.2 1503.8,1503.4 1501.9,1503.6 1500.0,1504.5 1498.0,1505.3 1496.0,1506.8 1494.1,1508.8 1493.6,1510.4 1492.2,1511.2 1490.8,1512.0 1489.0,1513.0 1487.2,1514.1 1485.1,1515.2 1483.0,1516.3 1482.8,1519.0 1483.4,1521.8 1484.6,1523.3 1487.0,1523.6 1488.6,1522.7 1490.1,1521.8 1491.9,1520.8 1492.8,1521.8 1494.2,1524.2 1495.7,1527.1 1498.4,1528.7 1501.1,1527.1 1501.6,1524.6 1503.0,1522.9 1504.3,1521.2 1502.4,1518.6 1501.6,1515.8 1503.1,1514.7 1504.6,1513.7 1506.0,1512.9 1507.3,1512.0 1508.4,1509.9 1510.6,1510.4 1512.9,1510.9 1512.3,1512.0 1510.6,1513.0 1508.9,1514.1 1508.2,1517.2 1508.7,1519.0 1511.1,1520.1 1512.7,1519.8 1514.3,1519.5 1516.4,1519.3 1518.5,1519.0 1520.6,1519.5 1522.6,1520.1 1521.0,1520.5 1519.3,1521.0 1517.2,1521.0 1515.1,1521.0 1513.0,1521.0 1512.5,1522.7 1514.2,1524.0 1513.9,1525.6 1511.9,1525.3 1509.9,1525.0 1509.3,1527.1 1510.1,1529.1 1508.0,1529.7 1506.0,1530.7 1504.2,1530.6 1502.4,1530.5 1500.5,1531.1 1498.7,1531.7 1496.8,1531.4 1495.0,1531.1 1493.2,1531.5 1491.5,1529.9 1491.3,1529.5 1492.1,1526.5 1491.6,1524.4 1488.9,1525.4 1488.2,1526.5 1489.1,1528.5 1489.2,1529.7 1489.7,1531.5 1486.7,1532.6 1485.0,1532.8 1483.4,1533.0 1482.9,1534.6 1481.8,1535.9 1480.6,1537.2 1479.3,1537.6 1477.7,1538.2 1475.3,1540.6 1472.9,1541.2 1471.7,1540.6 1472.4,1543.0 1469.8,1542.5 1466.8,1543.4 1467.5,1544.7 1470.6,1545.8 1472.9,1548.8 1472.8,1551.9 1472.3,1554.7 1469.6,1554.7 1467.3,1554.5 1465.1,1554.2 1462.8,1554.1 1460.5,1554.0 1458.1,1555.6 1458.7,1558.0 1458.9,1561.5 1457.3,1565.6 1458.5,1567.5 1458.0,1570.0 1460.9,1569.5 1462.9,1570.5Z" fill="#edf2b3" stroke="#2a2a2a" stroke-width="0.75" stroke-linejoin="round"/>
<path d="M1703.9,1728.5 1705.0,1728.0 1708.3,1726.4 1711.5,1724.8 1714.0,1724.0 1716.4,1723.2 1718.6,1722.5 1720.9,1721.8 1724.5,1717.3 1727.6,1715.1 1729.8,1712.4 1731.9,1709.7 1736.3,1706.4 1738.5,1709.7 1741.2,1709.7 1742.6,1706.4 1743.9,1703.1 1746.4,1702.3 1748.9,1701.5 1751.9,1701.7 1754.8,1701.9 1757.7,1702.1 1755.2,1706.4 1753.5,1709.7 1756.4,1712.0 1759.2,1714.4 1762.0,1716.7 1763.9,1712.1 1765.6,1707.5 1767.3,1702.9 1770.3,1697.9 1770.5,1702.5 1770.6,1707.0 1773.8,1709.7 1773.5,1713.3 1773.2,1716.9 1772.7,1720.5 1774.6,1723.2 1776.4,1725.8 1777.0,1729.2 1777.5,1732.5 1778.8,1735.1 1780.1,1737.7 1778.6,1741.8 1777.1,1745.8 1774.9,1748.9 1772.6,1751.9 1770.2,1754.5 1767.8,1757.0 1764.9,1759.3 1760.1,1764.0 1756.8,1768.1 1754.5,1768.6 1752.2,1769.1 1747.6,1772.0 1746.8,1769.1 1742.7,1771.3 1740.5,1770.3 1738.4,1769.4 1738.0,1766.9 1738.5,1763.2 1739.4,1760.0 1739.6,1757.5 1737.5,1762.0 1735.4,1762.7 1734.2,1761.5 1734.3,1759.0 1734.4,1756.5 1731.8,1754.9 1729.2,1753.2 1725.4,1754.1 1721.6,1755.0 1717.6,1756.2 1713.6,1757.5 1711.8,1759.3 1708.5,1759.3 1705.1,1759.3 1702.4,1760.8 1699.7,1762.2 1697.9,1761.3 1696.2,1760.3 1696.0,1758.3 1697.8,1755.7 1699.5,1753.2 1700.1,1750.0 1700.6,1746.8 1700.4,1743.6 1700.1,1740.3 1701.5,1737.1 1702.9,1733.8 1703.4,1731.1Z" fill="#7fcdbb" stroke="#2a2a2a" stroke-width="0.75" stroke-linejoin="round"/>
<path d="M1379.5,1494.1 1382.2,1493.6 1384.9,1493.1 1387.6,1492.7 1390.2,1492.2 1392.4,1492.0 1394.5,1491.7 1396.6,1491.4 1398.7,1491.2 1401.1,1491.1 1403.6,1491.1 1406.0,1491.0 1408.4,1491.0 1410.8,1490.9 1413.2,1490.8 1415.7,1490.8 1418.1,1490.7 1420.5,1490.7 1422.9,1490.6 1425.3,1490.6 1427.6,1490.5 1430.0,1490.5 1432.4,1490.4 1434.8,1490.4 1437.2,1490.3 1439.2,1490.5 1441.3,1490.6 1443.4,1490.7 1445.4,1490.9 1447.5,1491.0 1449.6,1491.2 1451.6,1491.3 1453.6,1491.3 1455.6,1491.4 1457.7,1491.5 1459.7,1491.5 1457.7,1492.1 1455.6,1492.8 1453.5,1493.5 1451.4,1494.3 1450.4,1495.8 1449.4,1497.3 1447.0,1499.1 1444.5,1500.9 1444.3,1502.9 1441.8,1503.8 1439.3,1504.6 1436.7,1505.0 1434.1,1505.4 1431.4,1505.8 1428.8,1506.2 1425.9,1507.4 1423.1,1508.7 1420.1,1509.9 1417.7,1510.6 1415.2,1511.2 1412.2,1514.1 1409.1,1517.2 1405.7,1519.9 1403.7,1519.2 1401.6,1518.4 1399.6,1517.7 1398.9,1515.7 1398.3,1513.7 1398.0,1512.0 1397.7,1510.4 1397.4,1508.8 1397.1,1507.3 1399.6,1506.0 1402.1,1504.8 1400.1,1503.8 1398.1,1502.9 1398.6,1500.9 1398.2,1499.4 1397.8,1497.9 1396.4,1497.3 1395.0,1496.8 1393.6,1496.3 1391.7,1496.2 1389.7,1496.1 1387.8,1496.0 1385.9,1496.0 1384.2,1495.5 1382.6,1495.1 1381.0,1494.7Z" fill="#efefef" stroke="#2a2a2a" stroke-width="0.75" stroke-linejoin="round"/>
<path d="M1441.5,1510.4 1439.3,1510.4 1441.0,1509.7 1442.6,1509.0 1444.8,1508.9 1447.0,1508.9 1449.2,1508.9 1451.5,1508.8 1453.2,1509.6 1454.9,1510.4 1452.7,1512.4 1449.8,1513.1 1446.9,1513.9 1444.9,1513.7 1442.9,1513.4 1440.9,1513.2Z" fill="#edf2b3" stroke="#2a2a2a" stroke-width="0.75" stroke-linejoin="round"/>
<path d="M1465.2,1539.7 1467.1,1539.4 1469.0,1539.1 1471.1,1538.7 1473.3,1538.4 1475.3,1537.9 1477.4,1537.4 1477.9,1534.4 1475.5,1532.8 1474.7,1530.5 1472.5,1528.5 1470.9,1526.9 1472.1,1524.6 1469.4,1524.2 1470.2,1522.5 1468.6,1522.5 1467.0,1522.5 1465.8,1524.6 1465.2,1526.5 1466.0,1528.5 1466.9,1529.9 1469.5,1529.7 1469.2,1531.1 1470.0,1532.8 1467.5,1533.0 1467.1,1534.0 1468.2,1534.6 1466.2,1536.1 1468.2,1536.7 1469.9,1536.9 1467.3,1537.8Z" fill="#7fcdbb" stroke="#2a2a2a" stroke-width="0.75" stroke-linejoin="round"/>
<path d="M1464.8,1535.3 1464.8,1531.9 1465.9,1530.3 1464.8,1529.1 1462.7,1528.9 1460.9,1530.5 1458.4,1531.1 1458.6,1533.2 1457.5,1535.7 1458.7,1536.7 1461.4,1536.3 1463.1,1535.8Z" fill="#c7e6b3" stroke="#2a2a2a" stroke-width="0.75" stroke-linejoin="round"/>
<path d="M1498.3,1568.0 1501.2,1567.4 1504.2,1566.8 1503.5,1570.7 1501.1,1569.6 1498.7,1568.5Z" fill="#fcfcda" stroke="#2a2a2a" stroke-width="0.75" stroke-linejoin="round"/>
<path d="M1490.5,1560.3 1493.0,1560.3 1492.9,1564.6 1490.8,1565.1 1490.5,1561.5Z" fill="#fcfcda" stroke="#2a2a2a" stroke-width="0.75" stroke-linejoin="round"/>
<path d="M1492.1,1555.6 1492.4,1558.0 1491.9,1559.4 1490.7,1558.2Z" fill="#fcfcda" stroke="#2a2a2a" stroke-width="0.75" stroke-linejoin="round"/>
<path d="M1519.7,1573.7 1522.4,1574.0 1525.1,1574.4 1521.7,1575.2Z" fill="#fcfcda" stroke="#2a2a2a" stroke-width="0.75" stroke-linejoin="round"/>
<path d="M1536.6,1574.9 1538.6,1574.2 1540.6,1573.4 1539.7,1575.2 1537.1,1575.6Z" fill="#fcfcda" stroke="#2a2a2a" stroke-width="0.75" stroke-linejoin="round"/>
<path d="M1725.9,1577.4 1727.1,1573.9 1729.8,1573.7 1732.5,1573.4 1732.5,1571.2 1733.3,1570.0 1734.4,1568.8 1735.6,1567.5 1734.5,1564.5 1733.4,1561.5 1732.9,1559.4 1734.9,1559.6 1738.8,1563.9 1738.8,1566.8 1740.8,1570.2 1742.4,1573.2 1741.5,1574.9 1740.0,1575.6 1736.7,1575.9 1736.3,1578.6 1733.7,1576.9 1730.3,1576.4 1728.7,1577.0 1727.2,1577.6Z" fill="#edf2b3" stroke="#2a2a2a" stroke-width="0.75" stroke-linejoin="round"/>
<path d="M1724.2,1578.6 1726.2,1577.6 1729.5,1581.2 1729.9,1584.2 1728.0,1584.5 1725.4,1580.7Z" fill="#edf2b3" stroke="#2a2a2a" stroke-width="0.75" stroke-linejoin="round"/>
<path d="M1729.1,1577.6 1730.9,1577.3 1732.7,1576.9 1733.4,1577.9 1731.5,1580.4Z" fill="#edf2b3" stroke="#2a2a2a" stroke-width="0.75" stroke-linejoin="round"/>
<path d="M1731.8,1559.2 1729.4,1554.9 1728.6,1552.4 1727.6,1549.9 1733.4,1552.9 1736.0,1553.9 1738.7,1554.9 1737.7,1556.5 1736.8,1558.0 1734.7,1557.6 1732.6,1557.3 1732.2,1558.4Z" fill="#edf2b3" stroke="#2a2a2a" stroke-width="0.75" stroke-linejoin="round"/>
<path d="M1726.1,1547.4 1723.6,1544.2 1720.9,1541.0 1718.1,1538.3 1715.2,1535.7 1713.5,1533.3 1711.7,1530.9 1716.7,1534.6 1719.4,1537.3 1722.0,1539.9 1726.1,1542.1 1727.5,1544.7 1729.0,1547.4 1728.0,1548.3Z" fill="#edf2b3" stroke="#2a2a2a" stroke-width="0.75" stroke-linejoin="round"/>
<path d="M1716.3,1605.8 1716.8,1602.7 1717.1,1599.7 1718.7,1601.8 1718.7,1605.2 1718.6,1608.7Z" fill="#edf2b3" stroke="#2a2a2a" stroke-width="0.75" stroke-linejoin="round"/>
<path d="M1695.9,1615.9 1699.1,1613.5 1700.5,1614.8 1698.3,1618.6Z" fill="#edf2b3" stroke="#2a2a2a" stroke-width="0.75" stroke-linejoin="round"/>
<path d="M1641.4,1650.5 1641.0,1646.4 1641.0,1641.4 1643.8,1645.0 1645.5,1649.1 1643.0,1652.2Z" fill="#7fcdbb" stroke="#2a2a2a" stroke-width="0.75" stroke-linejoin="round"/>
<path d="M1721.1,1624.5 1720.9,1621.1 1720.7,1617.8 1724.0,1617.8 1724.5,1620.5 1724.9,1623.2 1724.7,1627.2 1726.3,1629.9 1728.5,1630.6 1730.7,1631.3 1730.1,1633.8 1727.2,1632.1 1724.3,1630.5 1723.2,1629.1 1721.6,1627.2Z" fill="#edf2b3" stroke="#2a2a2a" stroke-width="0.75" stroke-linejoin="round"/>
<path d="M1729.0,1649.1 1730.9,1647.7 1732.9,1646.4 1735.4,1641.4 1736.9,1645.0 1738.3,1648.6 1737.5,1651.3 1736.2,1653.0 1733.2,1649.9 1731.1,1649.5Z" fill="#edf2b3" stroke="#2a2a2a" stroke-width="0.75" stroke-linejoin="round"/>
<path d="M1727.3,1635.7 1729.5,1634.8 1731.8,1634.0 1735.0,1637.6 1734.3,1640.9 1730.8,1642.8 1728.7,1639.5Z" fill="#edf2b3" stroke="#2a2a2a" stroke-width="0.75" stroke-linejoin="round"/>
<path d="M1718.6,1645.3 1720.7,1641.1 1722.7,1637.0 1722.3,1639.8 1720.8,1642.7 1719.3,1645.5Z" fill="#edf2b3" stroke="#2a2a2a" stroke-width="0.75" stroke-linejoin="round"/>
<path d="M1673.7,1653.0 1676.0,1653.5 1678.3,1654.1 1681.4,1658.2 1684.5,1662.4 1688.1,1666.1 1691.7,1669.8 1693.3,1674.0 1696.3,1676.7 1696.0,1680.6 1695.5,1684.5 1692.8,1684.7 1690.9,1682.1 1688.9,1679.5 1685.9,1674.8 1683.9,1671.6 1681.8,1668.5 1680.3,1665.7 1678.7,1662.9 1676.2,1657.9Z" fill="#edf2b3" stroke="#2a2a2a" stroke-width="0.75" stroke-linejoin="round"/>
<path d="M1694.1,1687.2 1697.1,1685.0 1700.6,1685.9 1702.9,1686.5 1705.1,1687.2 1707.3,1687.4 1709.4,1687.5 1713.2,1689.7 1713.0,1691.9 1710.4,1691.6 1707.8,1691.4 1705.8,1691.1 1703.7,1690.8 1701.7,1690.4 1699.7,1690.0 1696.6,1688.9Z" fill="#edf2b3" stroke="#2a2a2a" stroke-width="0.75" stroke-linejoin="round"/>
<path d="M1702.7,1664.3 1703.9,1662.9 1706.8,1661.3 1708.9,1660.4 1710.9,1659.6 1713.4,1657.1 1715.9,1654.6 1717.0,1651.9 1718.2,1649.1 1720.9,1651.3 1723.5,1653.5 1721.8,1656.6 1720.8,1660.2 1721.2,1662.9 1721.5,1665.7 1720.5,1669.8 1719.4,1672.6 1718.3,1675.4 1717.1,1679.5 1714.0,1678.4 1711.1,1677.6 1708.2,1676.7 1705.1,1676.5 1703.8,1671.2 1702.7,1667.1Z" fill="#edf2b3" stroke="#2a2a2a" stroke-width="0.75" stroke-linejoin="round"/>
<path d="M1723.9,1683.6 1724.5,1680.9 1725.1,1678.1 1724.7,1674.7 1724.2,1671.2 1725.8,1668.0 1727.4,1664.9 1730.1,1664.7 1732.9,1664.5 1735.7,1664.3 1735.1,1667.1 1731.5,1667.1 1727.8,1667.1 1729.5,1670.9 1732.6,1670.9 1729.8,1673.4 1730.8,1677.2 1731.6,1680.9 1728.4,1681.7 1726.4,1676.5 1726.2,1680.1 1726.0,1683.6Z" fill="#edf2b3" stroke="#2a2a2a" stroke-width="0.75" stroke-linejoin="round"/>
<path d="M1748.7,1672.0 1751.8,1671.5 1755.0,1670.9 1755.9,1674.3 1756.8,1677.6 1759.6,1675.1 1762.2,1672.6 1765.9,1674.1 1769.5,1675.6 1772.2,1677.4 1774.8,1679.1 1777.5,1680.9 1779.3,1684.2 1782.4,1685.0 1782.6,1687.8 1782.8,1690.5 1784.9,1694.0 1786.9,1697.4 1783.9,1696.9 1782.0,1695.8 1780.1,1694.7 1778.6,1690.5 1776.6,1690.0 1774.6,1689.4 1772.0,1693.3 1769.9,1693.4 1767.8,1693.6 1765.4,1692.6 1762.9,1691.6 1762.6,1687.2 1762.1,1682.8 1759.4,1681.7 1756.7,1680.6 1754.6,1680.1 1752.6,1679.5 1750.6,1676.7Z" fill="#fcfcda" stroke="#2a2a2a" stroke-width="0.75" stroke-linejoin="round"/>
<path d="M1731.0,1696.9 1735.0,1694.2 1739.0,1691.6 1736.7,1693.0 1734.5,1694.4Z" fill="#edf2b3" stroke="#2a2a2a" stroke-width="0.75" stroke-linejoin="round"/>
<path d="M1714.1,1691.1 1717.2,1691.4 1719.8,1691.4 1722.4,1691.4 1726.0,1691.2 1729.7,1691.1 1730.6,1692.2 1727.8,1692.5 1725.0,1692.7 1722.2,1693.0 1719.1,1693.0 1716.0,1693.0Z" fill="#edf2b3" stroke="#2a2a2a" stroke-width="0.75" stroke-linejoin="round"/>
<path d="M1805.3,1760.5 1806.2,1764.0 1806.8,1766.4 1808.5,1767.5 1810.2,1768.6 1806.3,1772.0 1803.0,1773.5 1796.1,1778.0 1795.7,1777.3 1799.3,1773.9 1798.4,1772.3 1802.3,1769.4 1804.4,1765.7 1804.9,1763.1Z" fill="#7fcdbb" stroke="#2a2a2a" stroke-width="0.75" stroke-linejoin="round"/>
<path d="M1793.8,1775.4 1794.3,1778.2 1789.3,1781.3 1787.1,1783.1 1782.7,1784.7 1778.3,1787.9 1774.1,1789.5 1772.6,1788.8 1771.0,1788.1 1772.7,1786.6 1778.3,1783.6 1781.7,1782.2 1785.0,1780.8 1789.4,1778.0Z" fill="#7fcdbb" stroke="#2a2a2a" stroke-width="0.75" stroke-linejoin="round"/>
<path d="M1741.6,1775.9 1744.8,1776.1 1748.1,1776.3 1745.7,1779.0 1743.4,1781.7 1740.5,1782.7 1740.1,1779.4Z" fill="#7fcdbb" stroke="#2a2a2a" stroke-width="0.75" stroke-linejoin="round"/>
<path d="M1576.9,1701.5 1577.8,1706.3 1578.7,1711.0 1576.9,1715.1 1575.1,1719.1 1573.4,1723.2 1572.0,1727.4 1570.7,1731.7 1569.2,1735.9 1567.0,1736.8 1564.8,1737.7 1563.7,1735.1 1562.5,1732.5 1562.4,1728.0 1564.9,1723.2 1565.0,1719.1 1565.0,1715.1 1567.5,1713.5 1570.0,1711.8 1571.9,1708.9 1573.7,1705.9Z" fill="url(#hg)" stroke="#2a2a2a" stroke-width="0.75" stroke-linejoin="round"/>
<path d="M1303.8,1608.7 1307.0,1607.1 1310.3,1605.5 1312.3,1605.5 1314.3,1605.5 1316.5,1607.2 1318.6,1608.9 1320.5,1610.0 1322.3,1611.1 1324.5,1613.2 1321.1,1613.6 1317.7,1614.0 1317.1,1611.9 1313.9,1609.9 1310.8,1607.9 1308.7,1608.4 1306.2,1608.5Z" fill="#fcfcda" stroke="#2a2a2a" stroke-width="0.75" stroke-linejoin="round"/>
<path d="M1324.0,1614.3 1327.9,1614.0 1330.4,1614.3 1332.9,1614.5 1335.7,1617.5 1332.3,1618.6 1329.0,1620.2 1327.1,1618.8 1323.4,1618.0Z" fill="#fcfcda" stroke="#2a2a2a" stroke-width="0.75" stroke-linejoin="round"/>
<path d="M1315.4,1618.0 1317.4,1618.3 1319.4,1618.6 1318.2,1619.6 1315.5,1618.8Z" fill="#fcfcda" stroke="#2a2a2a" stroke-width="0.75" stroke-linejoin="round"/>
<path d="M1338.1,1617.8 1341.3,1618.0 1340.9,1619.1 1337.9,1619.1Z" fill="#fcfcda" stroke="#2a2a2a" stroke-width="0.75" stroke-linejoin="round"/>
<path d="M1370.7,1545.2 1373.4,1542.1 1376.8,1538.4 1380.6,1536.5 1378.9,1540.1 1380.7,1540.6 1382.4,1541.0 1382.4,1545.2 1380.1,1547.4 1378.3,1547.0 1376.5,1546.5 1376.1,1545.2 1373.4,1545.2Z" fill="#edf2b3" stroke="#2a2a2a" stroke-width="0.75" stroke-linejoin="round"/>
<path d="M1259.8,1543.4 1258.3,1542.9 1256.8,1542.3 1255.9,1540.3 1255.2,1538.2 1257.2,1538.6 1258.3,1539.5 1259.4,1540.4Z" fill="#edf2b3" stroke="#2a2a2a" stroke-width="0.75" stroke-linejoin="round"/>
<path d="M1365.8,1498.8 1367.3,1499.3 1368.7,1499.7 1370.1,1500.2 1371.9,1500.9 1373.6,1501.6 1375.4,1502.3 1377.1,1502.7 1378.9,1503.2 1379.2,1505.8 1380.9,1506.5 1382.5,1507.3 1384.2,1508.0 1384.1,1508.8 1380.1,1511.2 1377.9,1513.0 1375.7,1514.7 1372.3,1516.5 1370.3,1516.0 1368.3,1515.4 1366.4,1514.9 1364.7,1513.5 1363.0,1512.0 1360.7,1512.1 1358.4,1512.2 1359.0,1510.4 1361.7,1509.8 1364.4,1509.1 1367.1,1508.5 1369.5,1506.2 1367.7,1505.3 1366.0,1504.3 1363.6,1504.2 1361.2,1504.0 1359.6,1503.8 1358.0,1503.6 1355.9,1503.3 1353.7,1502.9 1351.7,1502.3 1349.7,1501.6 1351.3,1499.7 1353.9,1499.4 1356.5,1499.0 1359.1,1498.7 1361.4,1498.8 1363.6,1498.8Z" fill="#edf2b3" stroke="#2a2a2a" stroke-width="0.75" stroke-linejoin="round"/>
<path d="M1308.9,1501.6 1311.8,1500.5 1314.5,1499.4 1316.7,1499.5 1318.9,1499.6 1321.1,1499.7 1323.6,1499.5 1326.2,1499.3 1328.7,1499.1 1330.0,1499.4 1331.4,1499.7 1332.0,1500.6 1332.6,1501.6 1331.8,1502.9 1331.0,1504.3 1328.2,1505.0 1325.3,1505.6 1323.6,1505.5 1321.8,1505.3 1320.1,1505.2 1317.5,1505.4 1314.8,1505.6 1312.2,1505.8 1310.6,1505.3 1309.1,1504.8 1307.5,1504.3 1309.1,1502.5Z" fill="#edf2b3" stroke="#2a2a2a" stroke-width="0.75" stroke-linejoin="round"/>
<path d="M1300.6,1501.1 1303.1,1499.6 1305.5,1498.1 1307.4,1498.1 1309.3,1498.0 1311.2,1497.9 1312.9,1498.3 1314.7,1498.7 1316.4,1499.1 1312.4,1500.3 1308.2,1501.6 1306.1,1501.8 1304.0,1501.9 1301.9,1502.1 1301.2,1501.6Z" fill="#edf2b3" stroke="#2a2a2a" stroke-width="0.75" stroke-linejoin="round"/>
<path d="M1349.5,1495.8 1353.0,1494.5 1356.3,1493.3 1359.4,1492.2 1362.1,1491.8 1364.7,1491.3 1367.3,1490.9 1369.7,1490.9 1372.1,1490.8 1374.5,1490.8 1376.9,1490.7 1379.3,1490.7 1381.7,1490.7 1384.1,1490.6 1386.5,1490.6 1388.5,1490.7 1390.4,1490.8 1392.4,1490.8 1394.4,1490.9 1396.3,1491.0 1394.2,1491.3 1392.0,1491.6 1389.9,1491.9 1387.6,1492.2 1385.1,1492.6 1382.5,1493.0 1379.8,1493.4 1377.1,1493.9 1374.6,1494.4 1372.1,1495.1 1370.0,1495.5 1367.9,1496.0 1365.4,1495.9 1362.9,1495.9 1360.4,1495.8 1357.9,1495.8 1355.5,1495.8 1353.5,1495.8 1351.5,1495.8Z" fill="#edf2b3" stroke="#2a2a2a" stroke-width="0.75" stroke-linejoin="round"/>
<path d="M1352.2,1496.3 1354.6,1496.2 1356.9,1496.2 1359.2,1496.1 1361.6,1496.1 1363.9,1496.0 1366.2,1496.0 1368.6,1496.0 1366.1,1497.8 1363.8,1497.8 1361.5,1497.8 1359.2,1497.8 1356.9,1497.8 1354.6,1497.8 1353.1,1497.3 1351.7,1496.8Z" fill="#edf2b3" stroke="#2a2a2a" stroke-width="0.75" stroke-linejoin="round"/>
<path d="M1319.2,1496.1 1321.7,1496.0 1324.1,1495.9 1326.6,1495.8 1329.0,1495.7 1330.9,1495.9 1332.9,1496.1 1334.8,1496.4 1332.2,1497.3 1330.0,1497.5 1327.8,1497.6 1325.6,1497.8 1323.4,1497.9 1321.3,1497.8 1319.2,1497.7 1317.1,1497.6Z" fill="#edf2b3" stroke="#2a2a2a" stroke-width="0.75" stroke-linejoin="round"/>
<path d="M1336.6,1498.7 1338.6,1498.8 1340.5,1498.9 1342.5,1499.0 1341.0,1500.9 1339.1,1501.4 1337.2,1501.9 1336.0,1501.3 1334.7,1500.8 1333.4,1500.3Z" fill="#edf2b3" stroke="#2a2a2a" stroke-width="0.75" stroke-linejoin="round"/>
<path d="M1345.5,1498.7 1347.6,1498.6 1349.8,1498.6 1351.9,1498.5 1350.8,1500.2 1348.0,1500.6 1345.2,1500.9Z" fill="#edf2b3" stroke="#2a2a2a" stroke-width="0.75" stroke-linejoin="round"/>
<path d="M1345.3,1510.7 1347.6,1511.3 1349.9,1511.8 1352.2,1512.4 1352.7,1513.7 1350.0,1514.8 1347.2,1516.0 1345.9,1514.7 1344.5,1513.5Z" fill="#edf2b3" stroke="#2a2a2a" stroke-width="0.75" stroke-linejoin="round"/>
<path d="M1351.0,1491.7 1352.9,1491.7 1354.9,1491.7 1356.8,1491.7 1358.7,1491.7 1359.0,1492.6 1357.0,1492.8 1355.1,1493.0 1353.1,1493.2 1351.7,1492.9 1350.3,1492.7 1348.8,1492.5Z" fill="#edf2b3" stroke="#2a2a2a" stroke-width="0.75" stroke-linejoin="round"/>
<path d="M1547.6,1501.6 1549.3,1500.4 1551.0,1499.3 1551.8,1497.3 1553.3,1496.9 1554.7,1496.4 1556.2,1496.0 1558.5,1495.8 1560.9,1495.7 1563.3,1495.5 1565.6,1495.4 1564.4,1495.9 1563.2,1496.5 1561.2,1496.8 1559.2,1497.1 1557.2,1497.3 1555.6,1498.0 1554.1,1498.7 1554.1,1500.9 1553.8,1502.7 1551.7,1502.3 1549.6,1501.9Z" fill="#edf2b3" stroke="#2a2a2a" stroke-width="0.75" stroke-linejoin="round"/>
<path d="M1489.4,1493.9 1491.0,1493.4 1492.7,1493.0 1494.3,1492.6 1496.5,1492.5 1498.6,1492.4 1500.7,1492.2 1503.0,1492.3 1505.2,1492.4 1507.5,1492.5 1509.8,1492.5 1508.0,1492.9 1506.2,1493.4 1504.4,1493.8 1502.5,1494.3 1500.9,1494.7 1499.2,1495.2 1497.6,1495.7 1495.1,1495.1 1492.7,1494.5 1491.0,1494.2Z" fill="#edf2b3" stroke="#2a2a2a" stroke-width="0.75" stroke-linejoin="round"/>
<path d="M1598.0,1493.0 1599.6,1492.6 1601.3,1492.2 1603.0,1491.9 1605.1,1492.2 1607.2,1492.5 1609.3,1492.8 1608.0,1493.3 1606.8,1493.9 1604.9,1493.7 1603.0,1493.6 1601.1,1493.4 1599.5,1493.2Z" fill="#edf2b3" stroke="#2a2a2a" stroke-width="0.75" stroke-linejoin="round"/>
<path d="M1658.7,1496.8 1660.5,1496.6 1662.3,1496.3 1664.1,1496.1 1666.4,1496.2 1668.7,1496.4 1671.1,1496.6 1673.4,1496.8 1672.4,1497.3 1671.3,1497.9 1669.0,1497.9 1666.7,1497.8 1664.3,1497.8 1661.5,1497.3Z" fill="#edf2b3" stroke="#2a2a2a" stroke-width="0.75" stroke-linejoin="round"/>
<path d="M1535.4,1492.2 1537.4,1492.1 1539.4,1492.0 1541.3,1491.9 1543.3,1491.8 1545.3,1491.7 1547.4,1491.8 1549.5,1491.8 1551.6,1491.9 1553.7,1492.0 1555.8,1492.0 1553.8,1492.2 1551.8,1492.5 1549.8,1492.7 1547.8,1492.7 1545.7,1492.7 1543.6,1492.6 1541.5,1492.6 1539.5,1492.6 1537.4,1492.4Z" fill="#edf2b3" stroke="#2a2a2a" stroke-width="0.75" stroke-linejoin="round"/>
<path d="M1724.1,1501.6 1725.8,1501.5 1727.7,1502.4 1726.4,1502.5Z" fill="#edf2b3" stroke="#2a2a2a" stroke-width="0.75" stroke-linejoin="round"/>
<path d="M1216.8,1505.2 1217.5,1505.8 1218.3,1506.5 1219.0,1507.1 1220.4,1507.4 1221.8,1507.7 1223.2,1508.0 1223.7,1508.7 1224.2,1509.4 1220.7,1510.4 1215.4,1512.2 1214.5,1511.6 1213.6,1511.0 1211.0,1511.3 1208.3,1511.5 1207.1,1511.4 1205.9,1511.2 1211.4,1508.1Z" fill="#edf2b3" stroke="#2a2a2a" stroke-width="0.75" stroke-linejoin="round"/>
<path d="M1200.9,1530.9 1204.7,1530.1 1208.5,1529.2 1212.3,1528.3 1210.9,1529.5 1207.3,1530.2 1203.7,1530.9 1200.2,1531.5 1196.8,1532.3 1193.4,1533.0 1195.2,1532.2 1198.1,1531.5Z" fill="#edf2b3" stroke="#2a2a2a" stroke-width="0.75" stroke-linejoin="round"/>
<path d="M1214.6,1513.4 1215.9,1513.6 1217.3,1513.9 1218.0,1514.2 1214.7,1514.6Z" fill="#fcfcda" stroke="#2a2a2a" stroke-width="0.75" stroke-linejoin="round"/>
<path d="M1212.9,1519.3 1215.8,1519.0 1213.8,1520.1Z" fill="#fcfcda" stroke="#2a2a2a" stroke-width="0.75" stroke-linejoin="round"/>
<path d="M1227.0,1523.6 1228.8,1523.8 1230.5,1524.0 1225.8,1526.0 1225.2,1525.0Z" fill="#edf2b3" stroke="#2a2a2a" stroke-width="0.75" stroke-linejoin="round"/>
<path d="M1249.0,1581.2 1251.4,1580.9 1253.7,1580.7 1256.5,1582.4 1259.4,1584.2 1262.1,1584.2 1264.8,1584.2 1268.6,1582.9 1269.5,1585.7 1270.4,1588.5 1272.8,1590.1 1276.7,1588.0 1277.5,1591.0 1278.4,1594.0 1279.8,1596.0 1281.1,1598.1 1279.4,1603.1 1278.7,1605.8 1278.0,1608.4 1278.1,1611.3 1279.4,1615.6 1281.5,1617.5 1283.3,1618.6 1285.5,1618.0 1287.6,1617.5 1290.7,1615.1 1292.1,1611.1 1294.5,1610.4 1296.9,1609.7 1299.7,1609.7 1298.5,1612.4 1297.4,1615.1 1296.0,1618.6 1294.6,1620.5 1294.1,1624.5 1296.4,1624.6 1298.6,1624.8 1300.6,1625.3 1302.6,1625.9 1304.0,1627.2 1303.1,1629.9 1302.3,1632.7 1302.1,1635.4 1301.9,1638.1 1302.8,1640.9 1304.8,1642.2 1306.8,1643.6 1310.0,1642.0 1313.0,1643.1 1314.3,1645.0 1312.9,1648.6 1311.8,1645.3 1309.9,1643.9 1307.8,1645.8 1307.7,1648.3 1305.5,1646.9 1302.6,1645.8 1300.6,1642.2 1297.2,1641.1 1297.5,1638.1 1296.0,1635.4 1294.4,1632.7 1291.5,1631.3 1289.0,1630.6 1286.5,1629.9 1284.1,1625.6 1281.3,1624.0 1279.1,1624.6 1277.0,1625.3 1275.1,1624.5 1273.2,1623.7 1270.9,1622.1 1268.7,1620.5 1266.4,1619.1 1264.1,1617.8 1262.5,1615.7 1261.0,1613.7 1262.3,1609.7 1262.0,1605.8 1260.8,1602.8 1259.7,1600.0 1258.0,1596.6 1256.2,1592.7 1255.6,1589.4 1255.1,1586.2 1252.6,1583.2 1251.6,1587.5 1252.5,1591.9 1252.9,1594.9 1253.4,1597.9 1254.3,1602.6 1255.0,1605.8 1253.7,1604.4 1251.2,1601.0 1250.2,1598.1 1249.3,1595.3 1249.0,1592.0 1248.8,1588.8 1248.9,1585.0Z" fill="#fcfcda" stroke="#2a2a2a" stroke-width="0.75" stroke-linejoin="round"/>
<path d="M1561.9,1548.1 1559.8,1545.2 1556.5,1542.3 1555.8,1541.0 1556.8,1539.1 1558.5,1538.6 1560.0,1537.6 1561.4,1536.5 1563.8,1536.7 1566.1,1536.9 1568.3,1537.8 1570.5,1538.6 1572.7,1538.1 1574.9,1537.6 1577.6,1538.9 1580.1,1538.2 1578.1,1534.6 1576.7,1531.7 1578.9,1531.4 1581.1,1531.1 1583.2,1530.7 1585.4,1530.1 1587.6,1529.5 1589.6,1529.3 1591.7,1529.1 1594.7,1530.8 1597.8,1532.6 1600.0,1531.8 1602.2,1531.1 1603.3,1531.9 1607.8,1535.2 1612.3,1538.4 1614.9,1538.1 1617.6,1537.8 1622.3,1540.8 1624.4,1541.3 1626.6,1541.9 1625.0,1543.2 1625.8,1546.3 1623.5,1546.2 1621.2,1546.1 1621.7,1549.9 1619.9,1550.6 1618.2,1551.3 1621.5,1555.2 1621.5,1557.7 1619.9,1558.7 1618.2,1559.6 1616.5,1561.8 1613.3,1561.5 1611.9,1563.9 1614.0,1566.6 1616.2,1569.2 1615.6,1569.7 1613.7,1570.0 1611.8,1570.2 1609.9,1572.2 1611.6,1575.2 1611.1,1576.6 1609.3,1577.9 1609.2,1582.7 1606.1,1584.2 1604.6,1587.8 1602.8,1588.3 1600.9,1588.8 1597.5,1589.1 1594.1,1588.0 1594.5,1584.2 1593.3,1581.4 1592.0,1578.6 1590.8,1576.6 1591.3,1573.4 1588.4,1571.2 1585.4,1569.4 1582.4,1567.5 1580.5,1567.5 1578.7,1567.5 1576.6,1569.0 1576.4,1569.2 1574.8,1566.0 1573.1,1562.7 1571.8,1559.2 1571.6,1557.7 1568.0,1555.2 1566.3,1552.2 1567.0,1550.1 1569.9,1550.3 1569.0,1547.0 1567.2,1546.7 1565.3,1546.5 1563.7,1547.1 1562.1,1547.6Z" fill="url(#hg)" stroke="#2a2a2a" stroke-width="0.75" stroke-linejoin="round"/>
<path d="M1627.3,1541.7 1628.4,1540.3 1629.5,1538.9 1631.4,1538.5 1633.4,1538.2 1636.0,1537.4 1638.6,1536.5 1641.1,1535.7 1643.7,1536.1 1646.2,1536.5 1648.8,1536.9 1652.1,1538.1 1655.5,1539.3 1657.6,1539.2 1659.7,1539.1 1662.7,1540.3 1665.7,1541.4 1667.5,1540.8 1669.3,1540.1 1671.2,1539.5 1673.8,1539.9 1676.5,1540.4 1681.7,1543.7 1687.0,1547.2 1685.1,1547.5 1683.1,1547.9 1681.4,1550.3 1679.3,1552.2 1677.2,1554.0 1676.2,1556.6 1673.9,1557.3 1671.5,1558.0 1669.2,1558.7 1665.7,1558.0 1662.3,1557.3 1658.9,1556.6 1656.0,1556.5 1653.1,1556.4 1650.2,1556.3 1645.7,1552.2 1642.9,1551.4 1640.0,1550.6 1637.2,1549.9 1635.4,1546.5 1632.5,1545.1 1629.6,1543.6Z" fill="#fcfcda" stroke="#2a2a2a" stroke-width="0.75" stroke-linejoin="round"/>
<path d="M1546.8,1583.7 1548.8,1582.8 1550.8,1581.9 1554.7,1584.5 1558.7,1587.0 1562.7,1589.6 1566.2,1589.8 1570.2,1591.4 1570.6,1592.7 1574.5,1597.3 1576.4,1601.0 1578.2,1602.3 1579.5,1605.8 1582.8,1606.1 1586.0,1606.5 1587.3,1608.4 1587.0,1611.1 1586.6,1613.7 1583.7,1615.1 1580.8,1616.4 1581.4,1619.6 1581.9,1622.9 1583.7,1622.9 1582.1,1625.3 1579.9,1626.3 1577.8,1627.2 1575.8,1628.6 1573.9,1629.9 1570.9,1631.6 1567.9,1633.2 1564.8,1633.5 1564.3,1632.1 1563.0,1627.2 1561.9,1624.5 1560.9,1621.8 1559.1,1618.4 1557.3,1615.1 1555.7,1612.4 1554.2,1609.7 1553.2,1607.1 1552.2,1604.4 1550.0,1601.8 1547.5,1597.9 1545.1,1594.0 1544.3,1591.4 1543.4,1588.8 1545.8,1589.6 1547.3,1587.8 1548.9,1586.2Z" fill="url(#hg)" stroke="#2a2a2a" stroke-width="0.75" stroke-linejoin="round"/>
<path d="M1557.0,1564.2 1558.4,1567.5 1559.8,1570.1 1561.1,1572.7 1563.0,1574.7 1562.2,1577.4 1564.6,1579.9 1567.5,1582.4 1569.6,1586.2 1570.2,1586.5 1573.1,1587.5 1575.3,1591.4 1578.8,1594.2 1580.9,1595.3 1583.1,1596.3 1586.4,1595.0 1589.0,1598.4 1591.3,1598.9 1593.5,1599.4 1595.7,1599.7 1597.8,1600.0 1597.6,1596.6 1600.2,1594.7 1598.7,1592.1 1596.2,1590.6 1594.1,1588.0 1594.5,1584.2 1593.3,1581.4 1592.0,1578.6 1590.8,1576.6 1591.3,1573.4 1588.4,1571.2 1585.4,1569.4 1582.4,1567.5 1580.5,1567.5 1578.7,1567.5 1576.6,1569.0 1576.4,1569.2 1573.9,1570.0 1571.3,1570.7 1569.2,1569.6 1567.1,1568.5 1566.4,1566.6 1564.5,1565.4 1561.7,1565.4 1558.1,1563.4Z" fill="#7fcdbb" stroke="#2a2a2a" stroke-width="0.75" stroke-linejoin="round"/>
<path d="M1611.7,1603.9 1612.6,1602.3 1615.7,1598.6 1615.2,1593.7 1617.9,1590.1 1618.5,1587.8 1620.1,1585.0 1619.5,1581.2 1618.3,1578.6 1617.0,1576.1 1620.0,1574.9 1622.9,1573.7 1625.5,1577.4 1628.5,1580.9 1628.1,1584.2 1631.5,1586.5 1632.4,1590.6 1636.0,1592.4 1639.6,1594.2 1643.4,1595.8 1646.6,1596.3 1649.8,1596.8 1649.8,1593.2 1651.3,1595.8 1654.3,1595.8 1657.3,1595.8 1656.5,1593.2 1658.5,1591.4 1660.3,1589.6 1662.6,1590.6 1664.9,1591.6 1666.6,1592.7 1664.8,1594.5 1663.8,1596.6 1663.9,1599.2 1663.9,1601.8 1663.6,1603.9 1661.8,1603.1 1662.8,1607.9 1661.8,1608.7 1660.8,1605.6 1659.7,1602.6 1657.8,1603.6 1656.1,1606.0 1654.5,1608.4 1653.6,1608.9 1650.7,1609.7 1649.5,1613.7 1647.4,1616.4 1645.4,1619.1 1643.7,1621.4 1642.0,1623.7 1639.9,1625.9 1640.1,1630.6 1640.2,1635.4 1639.4,1640.0 1637.4,1643.9 1636.2,1646.1 1632.6,1640.9 1631.3,1637.4 1629.9,1634.0 1628.4,1629.9 1627.1,1627.2 1625.7,1624.5 1624.4,1620.5 1623.1,1616.4 1622.4,1612.9 1621.6,1609.5 1619.5,1610.4 1617.4,1611.3 1613.9,1607.3 1613.3,1605.8Z" fill="#c7e6b3" stroke="#2a2a2a" stroke-width="0.75" stroke-linejoin="round"/>
<path d="M1597.8,1600.0 1600.2,1599.8 1602.5,1599.7 1605.1,1599.6 1607.7,1599.4 1609.2,1601.0 1611.7,1603.9 1612.6,1602.3 1615.7,1598.6 1615.2,1593.7 1617.9,1590.1 1618.5,1587.8 1620.1,1585.0 1619.5,1581.2 1618.3,1578.6 1617.0,1576.1 1620.0,1574.9 1622.9,1573.7 1620.2,1572.1 1617.5,1570.5 1615.6,1569.7 1613.7,1570.0 1611.8,1570.2 1609.9,1572.2 1611.6,1575.2 1611.1,1576.6 1609.3,1577.9 1609.2,1582.7 1606.1,1584.2 1604.6,1587.8 1602.8,1588.3 1600.9,1588.8 1597.5,1589.1 1594.1,1588.0 1596.2,1590.6 1598.7,1592.1 1600.2,1594.7 1597.6,1596.6Z" fill="#c7e6b3" stroke="#2a2a2a" stroke-width="0.75" stroke-linejoin="round"/>
<path d="M1523.9,1562.5 1524.9,1561.8 1526.7,1561.5 1528.5,1561.3 1528.9,1560.3 1532.4,1560.1 1535.3,1558.0 1537.2,1558.0 1539.0,1558.0 1540.9,1558.7 1543.0,1559.6 1545.0,1560.6 1546.8,1560.5 1548.6,1560.3 1551.3,1559.2 1555.0,1560.1 1558.1,1563.4 1557.0,1564.2 1558.4,1567.5 1556.6,1568.6 1554.7,1569.7 1552.6,1570.0 1550.5,1570.2 1547.7,1570.5 1544.9,1570.7 1543.0,1570.5 1540.1,1570.5 1537.2,1572.2 1535.0,1571.3 1532.8,1570.5 1531.1,1571.9 1528.3,1570.7 1526.5,1570.0 1526.0,1567.8 1524.4,1566.8 1525.0,1565.8 1523.7,1563.9Z" fill="#edf2b3" stroke="#2a2a2a" stroke-width="0.75" stroke-linejoin="round"/>
<path d="M1471.7,1554.7 1472.8,1551.9 1472.9,1548.8 1470.6,1545.8 1467.5,1544.7 1466.8,1543.4 1469.8,1542.5 1472.4,1543.0 1471.7,1540.6 1472.9,1541.2 1475.3,1540.6 1477.7,1538.2 1479.3,1537.6 1482.2,1540.1 1485.0,1541.0 1487.1,1541.6 1489.2,1542.1 1488.3,1545.2 1485.8,1548.3 1487.5,1549.0 1487.6,1552.9 1488.5,1553.8 1486.8,1555.4 1483.7,1554.7 1480.6,1555.6 1480.8,1557.0 1477.9,1556.7 1475.0,1556.3Z" fill="#7fcdbb" stroke="#2a2a2a" stroke-width="0.75" stroke-linejoin="round"/>
<path d="M1487.1,1533.2 1485.2,1536.1 1485.4,1538.2 1486.1,1541.0 1489.2,1542.1 1488.3,1545.2 1490.5,1545.3 1492.6,1545.4 1495.2,1545.4 1497.9,1545.4 1499.1,1543.0 1495.8,1539.3 1498.1,1538.6 1500.3,1538.0 1500.6,1537.6 1499.8,1536.1 1499.2,1533.9 1498.7,1531.7 1496.8,1531.4 1495.0,1531.1 1493.2,1531.5 1491.5,1529.9 1490.7,1529.9 1489.2,1529.7 1489.7,1531.5 1486.7,1532.6Z" fill="#7fcdbb" stroke="#2a2a2a" stroke-width="0.75" stroke-linejoin="round"/>
<path d="M1480.8,1557.0 1477.9,1556.7 1475.0,1556.3 1471.7,1554.7 1469.6,1554.7 1467.3,1554.5 1465.1,1554.2 1462.8,1554.1 1460.5,1554.0 1458.1,1555.6 1458.7,1558.0 1458.9,1561.5 1457.3,1565.6 1458.5,1567.5 1458.0,1570.0 1460.9,1569.5 1462.9,1570.5 1464.4,1572.4 1466.7,1570.7 1469.0,1570.7 1471.2,1570.7 1474.1,1566.8 1475.4,1565.6 1474.4,1563.9 1476.5,1560.3 1478.7,1559.3 1480.9,1558.2Z" fill="#c7e6b3" stroke="#2a2a2a" stroke-width="0.75" stroke-linejoin="round"/>
<path d="M1488.5,1553.8 1487.6,1552.9 1487.3,1549.2 1490.1,1547.9 1491.8,1547.7 1493.6,1547.6 1496.5,1546.5 1499.3,1547.6 1499.4,1549.4 1497.0,1550.3 1497.3,1552.9 1500.5,1556.3 1502.4,1557.7 1504.3,1559.2 1506.3,1560.2 1508.2,1561.3 1509.2,1562.5 1506.2,1561.8 1505.6,1563.4 1506.9,1565.1 1506.0,1566.6 1505.2,1567.5 1504.2,1567.5 1504.4,1564.4 1503.9,1562.5 1500.8,1560.8 1497.5,1558.7 1494.1,1555.9 1493.4,1553.6 1490.8,1552.4Z" fill="#c7e6b3" stroke="#2a2a2a" stroke-width="0.75" stroke-linejoin="round"/>
<path d="M1518.8,1503.9 1516.9,1503.1 1515.0,1502.4 1513.1,1502.3 1511.2,1502.1 1509.3,1502.5 1507.4,1502.9 1505.6,1503.2 1503.8,1503.4 1501.9,1503.6 1500.0,1504.5 1498.0,1505.3 1496.0,1506.8 1494.1,1508.8 1493.6,1510.4 1492.2,1511.2 1490.8,1512.0 1489.0,1513.0 1487.2,1514.1 1485.1,1515.2 1483.0,1516.3 1482.8,1519.0 1483.4,1521.8 1484.6,1523.3 1487.0,1523.6 1488.6,1522.7 1490.1,1521.8 1491.9,1520.8 1492.8,1521.8 1493.1,1521.8 1493.8,1519.9 1494.5,1518.1 1493.8,1515.9 1493.2,1513.7 1494.9,1512.0 1496.6,1510.4 1497.8,1508.6 1498.9,1506.8 1501.3,1505.9 1503.7,1505.0 1505.1,1505.0 1506.5,1505.0 1508.7,1505.3 1510.9,1505.5 1513.3,1504.9 1515.6,1504.3 1517.7,1504.2Z" fill="#7fcdbb" stroke="#2a2a2a" stroke-width="0.75" stroke-linejoin="round"/>
<path d="M1492.8,1521.8 1494.2,1524.2 1495.7,1527.1 1498.4,1528.7 1501.1,1527.1 1501.6,1524.6 1503.0,1522.9 1504.3,1521.2 1502.4,1518.6 1501.6,1515.8 1503.1,1514.7 1504.6,1513.7 1506.0,1512.9 1507.3,1512.0 1508.4,1509.9 1510.7,1509.9 1509.4,1507.3 1507.2,1506.1 1505.1,1505.0 1503.7,1505.0 1501.3,1505.9 1498.9,1506.8 1497.8,1508.6 1496.6,1510.4 1494.9,1512.0 1493.2,1513.7 1493.8,1515.9 1494.5,1518.1 1493.8,1519.9 1493.1,1521.8Z" fill="#c7e6b3" stroke="#2a2a2a" stroke-width="0.75" stroke-linejoin="round"/>
<path d="M1510.7,1509.9 1512.9,1510.9 1512.3,1512.0 1510.6,1513.0 1508.9,1514.1 1508.2,1517.2 1508.7,1519.0 1511.1,1520.1 1512.7,1519.8 1514.3,1519.5 1516.4,1519.3 1518.5,1519.0 1520.7,1517.2 1522.0,1516.0 1523.1,1514.7 1520.3,1512.9 1519.5,1511.2 1518.6,1509.6 1517.8,1506.8 1515.8,1505.0 1516.2,1503.9 1515.0,1503.8 1513.3,1503.8 1512.0,1505.0 1509.7,1505.0 1507.4,1505.0 1505.1,1505.0 1507.2,1506.1 1509.4,1507.3Z" fill="#edf2b3" stroke="#2a2a2a" stroke-width="0.75" stroke-linejoin="round"/>
<path d="M1489.2,1529.7 1490.7,1529.9 1491.3,1529.5 1492.1,1526.5 1491.6,1524.4 1488.9,1525.4 1488.2,1526.5 1489.1,1528.5Z" fill="#41b6c4" stroke="#2a2a2a" stroke-width="0.75" stroke-linejoin="round"/>
<path d="M1487.1,1533.2 1486.7,1532.6 1485.0,1532.8 1483.4,1533.0 1482.9,1534.6 1481.8,1535.9 1480.6,1537.2 1479.3,1537.6 1482.2,1540.1 1485.0,1541.0 1486.1,1541.0 1485.4,1538.2 1485.2,1536.1Z" fill="#7fcdbb" stroke="#2a2a2a" stroke-width="0.75" stroke-linejoin="round"/>
<path d="M1498.7,1531.7 1499.2,1533.9 1499.8,1536.1 1500.6,1537.6 1503.3,1539.1 1505.4,1540.0 1507.5,1541.0 1510.9,1541.4 1514.2,1541.9 1516.2,1538.9 1515.0,1535.5 1514.2,1531.7 1512.8,1530.7 1510.2,1530.7 1507.5,1530.7 1506.0,1530.7 1504.2,1530.6 1502.4,1530.5 1500.5,1531.1Z" fill="#edf2b3" stroke="#2a2a2a" stroke-width="0.75" stroke-linejoin="round"/>
<path d="M1514.2,1541.9 1516.2,1538.9 1515.0,1535.5 1518.3,1535.9 1521.1,1536.2 1524.0,1536.4 1526.9,1536.7 1529.1,1535.3 1531.3,1535.7 1533.4,1536.1 1536.0,1539.1 1538.4,1539.5 1540.8,1539.9 1544.2,1540.8 1544.6,1544.7 1542.5,1546.3 1540.0,1547.2 1537.4,1548.1 1534.6,1548.8 1531.3,1547.4 1529.6,1547.6 1528.1,1550.6 1525.3,1549.9 1525.2,1547.1 1525.1,1544.3 1523.3,1544.0 1521.5,1543.6 1518.3,1544.7 1516.4,1544.4 1514.5,1544.1Z" fill="#edf2b3" stroke="#2a2a2a" stroke-width="0.75" stroke-linejoin="round"/>
<path d="M1661.9,1611.9 1665.1,1615.9 1666.7,1619.9 1668.3,1624.0 1670.5,1625.1 1672.6,1624.1 1674.7,1623.2 1676.1,1627.8 1677.3,1630.9 1678.5,1634.0 1678.7,1631.3 1678.9,1628.6 1677.8,1625.9 1676.7,1623.2 1675.1,1620.5 1673.5,1617.8 1674.4,1614.5 1677.6,1612.7 1676.9,1609.5 1674.8,1606.3 1672.6,1603.1 1670.5,1603.4 1670.1,1598.6 1669.6,1594.0 1666.6,1592.7 1664.8,1594.5 1663.8,1596.6 1663.9,1599.2 1663.9,1601.8 1663.6,1603.9 1661.8,1603.1 1662.8,1607.9 1661.8,1608.7Z" fill="#7fcdbb" stroke="#2a2a2a" stroke-width="0.75" stroke-linejoin="round"/>
<path d="M1683.9,1650.5 1685.7,1652.7 1687.7,1651.3 1684.2,1648.6 1682.7,1643.6 1680.6,1639.5 1681.0,1636.8 1681.4,1634.0 1683.0,1631.3 1683.6,1633.5 1686.9,1635.4 1686.8,1630.2 1689.5,1629.7 1692.2,1629.1 1691.5,1625.3 1688.9,1620.5 1685.0,1618.3 1681.8,1620.5 1680.9,1617.6 1680.0,1614.8 1677.6,1612.7 1674.4,1614.5 1673.5,1617.8 1675.1,1620.5 1676.7,1623.2 1677.8,1625.9 1678.9,1628.6 1678.7,1631.3 1678.5,1634.0 1678.9,1637.4 1679.3,1640.9 1679.4,1645.8 1681.7,1648.2Z" fill="#c7e6b3" stroke="#2a2a2a" stroke-width="0.75" stroke-linejoin="round"/>
<path d="M1677.6,1612.7 1680.0,1614.8 1680.9,1617.6 1681.8,1620.5 1685.0,1618.3 1688.9,1620.5 1691.5,1625.3 1692.2,1629.1 1694.1,1628.7 1696.1,1628.3 1693.1,1623.2 1690.5,1620.5 1687.9,1617.8 1686.2,1615.6 1686.8,1612.7 1683.9,1610.0 1681.0,1607.3 1680.2,1610.5 1676.9,1609.5Z" fill="#b2b2b6" stroke="#2a2a2a" stroke-width="0.75" stroke-linejoin="round"/>
<path d="M1705.3,1563.0 1708.6,1566.3 1711.5,1568.0 1713.1,1567.0 1714.6,1566.1 1711.4,1563.2 1712.5,1562.0 1713.6,1560.8 1713.5,1557.3 1710.4,1557.3 1709.8,1559.2 1708.7,1560.3 1707.6,1561.5Z" fill="#fff" stroke="#2a2a2a" stroke-width="0.75" stroke-linejoin="round"/>
<path d="M1331.7,1718.6 1333.0,1716.4 1334.1,1719.1 1335.2,1721.8 1336.4,1725.8 1340.3,1730.6 1338.7,1735.1 1339.0,1738.4 1339.4,1741.6 1339.0,1745.5 1338.6,1749.4 1339.1,1753.2 1339.6,1757.0 1340.5,1760.8 1341.5,1764.5 1342.1,1768.1 1342.7,1771.8 1343.2,1775.4 1343.7,1778.9 1345.3,1782.4 1347.0,1785.9 1347.7,1789.3 1348.6,1792.6 1348.6,1794.8 1348.7,1797.0 1350.8,1799.1 1353.0,1801.2 1355.6,1801.4 1358.2,1801.6 1358.5,1800.4 1360.7,1804.3 1362.8,1806.8 1364.8,1809.2 1362.1,1808.3 1359.4,1807.4 1357.3,1806.4 1355.1,1805.4 1352.6,1803.8 1350.1,1802.3 1347.9,1799.6 1345.7,1797.0 1344.0,1794.3 1342.3,1791.5 1342.4,1788.7 1342.5,1785.9 1341.8,1783.0 1341.1,1780.1 1339.4,1776.0 1337.7,1771.8 1337.3,1769.4 1337.0,1766.9 1337.0,1763.2 1337.0,1759.5 1336.8,1757.0 1336.6,1754.5 1335.8,1750.7 1335.0,1746.8 1334.8,1744.2 1334.6,1741.6 1334.2,1737.1 1333.8,1732.5 1333.1,1727.8 1332.6,1723.2Z" fill="#edf2b3" stroke="#2a2a2a" stroke-width="0.75" stroke-linejoin="round"/>
<path d="M1327.5,1635.9 1326.7,1638.1 1327.9,1638.7 1329.9,1634.8 1332.2,1636.8 1335.2,1638.0 1338.2,1639.2 1340.3,1639.1 1342.4,1639.0 1344.5,1639.0 1346.5,1639.0 1348.4,1642.2 1350.3,1645.0 1353.2,1649.1 1356.2,1651.9 1358.3,1651.9 1360.4,1651.9 1362.4,1652.7 1361.8,1657.4 1361.2,1662.1 1359.1,1662.6 1357.0,1663.2 1354.9,1664.0 1352.8,1664.9 1349.7,1661.5 1347.6,1659.5 1345.6,1657.4 1343.0,1657.3 1340.4,1657.1 1340.8,1660.7 1341.3,1664.3 1338.4,1664.7 1335.4,1665.1 1333.4,1662.9 1333.7,1659.1 1334.0,1655.2 1334.4,1651.3 1332.3,1651.5 1330.2,1651.6 1327.6,1650.4 1325.1,1649.1 1324.2,1646.4 1323.4,1643.1 1324.1,1639.5 1325.9,1637.6Z" fill="url(#hg)" stroke="#2a2a2a" stroke-width="0.75" stroke-linejoin="round"/>
<path d="M1331.0,1698.5 1333.9,1697.5 1336.7,1696.5 1339.5,1695.5 1341.1,1698.9 1342.7,1702.3 1345.5,1704.0 1348.2,1705.6 1350.3,1706.4 1351.0,1709.8 1351.6,1713.2 1355.5,1713.2 1357.3,1717.8 1357.3,1720.5 1357.3,1723.2 1354.7,1725.1 1352.1,1727.1 1349.5,1729.0 1346.7,1728.9 1344.0,1728.8 1342.1,1729.7 1340.3,1730.6 1336.4,1725.8 1335.2,1721.8 1334.1,1719.1 1333.0,1716.4 1334.1,1713.7 1332.9,1711.0 1332.8,1708.0 1332.7,1705.1 1333.1,1703.1Z" fill="url(#hg)" stroke="#2a2a2a" stroke-width="0.75" stroke-linejoin="round"/>
<path d="M1440.8,1610.3 1441.9,1607.3 1442.9,1604.4 1444.5,1601.1 1446.2,1597.9 1449.3,1593.4 1452.2,1593.4 1455.0,1593.4 1457.8,1593.4 1457.8,1594.5 1461.6,1597.5 1465.4,1600.5 1469.3,1604.3 1473.3,1608.1 1477.2,1611.9 1479.5,1614.1 1481.7,1616.4 1483.5,1615.9 1486.8,1615.3 1490.2,1611.3 1493.1,1609.0 1496.0,1606.7 1498.9,1604.4 1501.0,1605.8 1503.2,1607.1 1505.1,1604.4 1508.8,1606.3 1512.5,1608.1 1516.2,1610.0 1519.9,1611.9 1523.7,1613.7 1523.8,1615.1 1525.7,1613.7 1525.6,1611.1 1525.4,1608.4 1528.6,1608.4 1531.8,1608.4 1534.9,1608.4 1538.1,1608.4 1541.9,1608.4 1545.6,1608.4 1549.4,1608.4 1550.2,1612.4 1550.9,1616.4 1553.6,1619.1 1551.9,1624.1 1550.1,1629.1 1548.6,1633.0 1547.1,1636.9 1545.5,1640.9 1544.6,1643.6 1543.6,1646.4 1545.8,1650.5 1548.0,1654.6 1545.7,1655.7 1542.7,1657.0 1539.7,1658.2 1537.6,1657.1 1535.5,1656.0 1531.9,1654.1 1529.8,1654.1 1527.8,1654.1 1524.7,1654.9 1521.7,1655.7 1518.7,1655.0 1515.7,1654.4 1512.0,1651.0 1508.3,1647.7 1507.2,1644.3 1506.1,1640.9 1505.7,1638.1 1505.2,1635.4 1504.1,1632.4 1500.8,1632.4 1497.2,1632.8 1493.6,1633.2 1490.5,1632.1 1487.4,1631.0 1483.5,1631.3 1482.4,1636.2 1479.8,1637.2 1477.1,1638.1 1474.0,1638.1 1470.9,1638.1 1467.7,1638.8 1464.6,1639.5 1461.5,1639.9 1458.4,1640.3 1454.9,1637.3 1451.4,1634.3 1450.7,1631.2 1449.9,1628.0 1447.8,1625.5 1445.7,1622.9 1441.8,1623.2 1441.2,1624.5 1441.6,1620.5 1442.0,1616.4 1441.4,1613.3Z" fill="url(#hg)" stroke="#2a2a2a" stroke-width="0.75" stroke-linejoin="round"/>
<path d="M1497.2,1579.9 1500.1,1580.2 1502.3,1580.9 1504.6,1581.7 1508.1,1585.0 1510.1,1585.9 1512.1,1586.7 1513.9,1585.0 1513.9,1581.7 1517.0,1580.2 1520.5,1581.9 1523.5,1583.4 1523.7,1586.1 1524.0,1588.8 1524.4,1593.6 1524.7,1598.5 1525.1,1603.4 1525.4,1608.4 1525.6,1611.1 1525.7,1613.7 1523.8,1615.1 1523.7,1613.7 1519.9,1611.9 1516.2,1610.0 1512.5,1608.1 1508.8,1606.3 1505.1,1604.4 1503.2,1607.1 1501.0,1605.8 1498.9,1604.4 1496.8,1600.5 1494.8,1596.6 1494.6,1593.3 1494.4,1590.1 1493.5,1587.0 1494.5,1586.7 1495.0,1583.2Z" fill="url(#hg)" stroke="#2a2a2a" stroke-width="0.75" stroke-linejoin="round"/>
<path d="M1471.8,1575.6 1471.2,1574.7 1474.1,1572.9 1476.9,1571.2 1479.4,1570.9 1481.9,1570.5 1484.4,1570.2 1487.8,1570.2 1491.2,1570.2 1490.8,1574.9 1489.4,1579.4 1492.6,1582.2 1493.5,1587.0 1494.4,1590.1 1494.6,1593.3 1494.8,1596.6 1496.8,1600.5 1498.9,1604.4 1496.0,1606.7 1493.1,1609.0 1490.2,1611.3 1486.8,1615.3 1483.5,1615.9 1481.7,1616.4 1479.5,1614.1 1477.2,1611.9 1473.3,1608.1 1469.3,1604.3 1465.4,1600.5 1461.6,1597.5 1457.8,1594.5 1457.9,1590.9 1461.6,1588.5 1465.3,1586.2 1468.0,1583.2 1471.7,1579.9Z" fill="#7fcdbb" stroke="#2a2a2a" stroke-width="0.75" stroke-linejoin="round"/>
<path d="M1464.0,1572.9 1467.6,1573.8 1471.2,1574.7 1471.8,1575.6 1471.7,1579.9 1468.0,1583.2 1465.3,1586.2 1461.6,1588.5 1457.9,1590.9 1457.8,1593.4 1455.0,1593.4 1452.2,1593.4 1449.3,1593.4 1452.3,1592.1 1455.8,1588.0 1456.2,1583.7 1458.7,1579.1 1462.0,1577.1Z" fill="#edf2b3" stroke="#2a2a2a" stroke-width="0.75" stroke-linejoin="round"/>
<path d="M1523.5,1583.4 1526.1,1584.0 1528.8,1584.6 1531.4,1585.2 1533.3,1584.5 1535.2,1583.7 1537.7,1584.2 1541.4,1584.2 1543.4,1588.8 1542.7,1593.2 1541.9,1595.3 1543.4,1598.5 1545.0,1601.8 1546.5,1605.2 1549.4,1608.4 1545.6,1608.4 1541.9,1608.4 1538.1,1608.4 1534.9,1608.4 1531.8,1608.4 1528.6,1608.4 1525.4,1608.4 1525.1,1603.4 1524.7,1598.5 1524.4,1593.6 1524.0,1588.8 1523.7,1586.1Z" fill="#edf2b3" stroke="#2a2a2a" stroke-width="0.75" stroke-linejoin="round"/>
<path d="M1507.4,1745.8 1508.8,1749.4 1509.5,1753.2 1510.3,1757.0 1510.4,1760.0 1513.2,1761.5 1515.6,1760.5 1518.1,1759.5 1521.0,1759.5 1523.9,1759.5 1525.9,1758.5 1527.9,1757.5 1530.1,1755.4 1532.3,1753.2 1535.6,1749.1 1538.9,1745.5 1540.2,1741.4 1538.6,1739.0 1538.7,1736.4 1538.9,1733.8 1538.0,1729.6 1535.7,1729.3 1533.4,1729.0 1531.3,1730.9 1529.1,1732.7 1525.8,1737.7 1523.3,1737.5 1520.8,1737.2 1518.5,1738.8 1516.3,1740.3 1514.9,1735.9 1514.7,1740.6 1514.4,1745.3 1510.9,1745.5Z" fill="#c7e6b3" stroke="#2a2a2a" stroke-width="0.75" stroke-linejoin="round"/>
<path d="M1514.9,1735.9 1515.1,1732.2 1515.3,1728.5 1517.3,1728.5 1517.6,1723.6 1517.8,1718.6 1520.2,1717.7 1522.6,1716.7 1524.6,1717.0 1526.6,1717.3 1528.9,1720.5 1530.7,1724.5 1533.4,1729.0 1531.3,1730.9 1529.1,1732.7 1525.8,1737.7 1523.3,1737.5 1520.8,1737.2 1518.5,1738.8 1516.3,1740.3Z" fill="#edf2b3" stroke="#2a2a2a" stroke-width="0.75" stroke-linejoin="round"/>
<path d="M1558.9,1697.4 1558.8,1701.0 1558.6,1704.7 1558.3,1708.3 1557.1,1711.0 1555.9,1713.7 1553.2,1715.5 1550.5,1717.3 1548.6,1722.2 1546.7,1727.2 1546.4,1730.5 1546.1,1733.8 1543.4,1735.8 1540.7,1737.7 1540.2,1741.4 1538.6,1739.0 1538.7,1736.4 1538.9,1733.8 1538.0,1729.6 1540.7,1725.8 1541.3,1723.2 1541.9,1720.5 1542.0,1717.1 1542.0,1713.7 1539.7,1712.5 1537.4,1711.3 1537.3,1712.4 1540.4,1709.7 1543.4,1707.0 1544.4,1710.0 1545.3,1712.9 1547.2,1715.1 1547.9,1711.7 1548.7,1708.3 1547.2,1705.6 1546.9,1702.9 1546.6,1700.1 1550.5,1700.1 1552.6,1699.7 1554.7,1699.3 1556.8,1698.4Z" fill="#edf2b3" stroke="#2a2a2a" stroke-width="0.75" stroke-linejoin="round"/>
<path d="M1480.6,1650.8 1480.6,1647.2 1480.6,1643.6 1481.5,1639.9 1482.4,1636.2 1483.5,1631.3 1487.4,1631.0 1490.5,1632.1 1493.6,1633.2 1497.2,1632.8 1500.8,1632.4 1504.1,1632.4 1505.2,1635.4 1502.6,1640.3 1501.3,1643.6 1500.0,1646.9 1497.9,1650.5 1495.4,1653.3 1492.7,1656.0 1490.1,1656.3 1487.5,1656.6 1485.4,1652.4 1483.7,1650.8Z" fill="#fcfcda" stroke="#2a2a2a" stroke-width="0.75" stroke-linejoin="round"/>
<path d="M1545.7,1655.7 1547.8,1655.7 1549.9,1655.7 1552.2,1656.6 1554.8,1657.7 1557.5,1658.8 1560.6,1657.4 1562.4,1657.4 1560.6,1660.4 1560.7,1665.8 1560.7,1671.2 1561.7,1673.2 1559.6,1675.4 1558.5,1678.1 1557.4,1680.9 1553.7,1676.7 1549.9,1674.0 1546.0,1671.2 1545.8,1668.2 1547.1,1665.7 1548.1,1661.5 1546.9,1658.6Z" fill="#fcfcda" stroke="#2a2a2a" stroke-width="0.75" stroke-linejoin="round"/>
<path d="M1500.6,1685.3 1504.7,1685.0 1508.8,1684.7 1509.6,1688.3 1511.6,1690.8 1515.3,1690.5 1517.9,1689.6 1520.4,1688.6 1520.3,1691.6 1520.2,1694.7 1521.0,1699.0 1524.7,1698.8 1524.5,1703.7 1527.4,1699.3 1531.3,1700.4 1533.8,1704.0 1536.5,1705.3 1536.2,1702.1 1533.7,1701.0 1534.2,1696.4 1534.6,1691.9 1536.7,1691.6 1538.8,1691.4 1537.7,1688.2 1536.5,1685.0 1535.7,1680.6 1536.2,1677.0 1535.6,1672.6 1536.8,1669.8 1537.5,1664.6 1540.0,1662.4 1539.3,1658.8 1535.5,1656.0 1531.9,1654.1 1529.8,1654.1 1527.8,1654.1 1524.7,1654.9 1521.7,1655.7 1518.7,1655.0 1515.7,1654.4 1513.8,1656.6 1513.6,1658.8 1512.9,1662.1 1512.2,1665.4 1512.4,1668.3 1512.6,1671.2 1509.3,1675.1 1507.3,1680.1 1504.2,1681.7 1501.1,1682.3Z" fill="#fcfcda" stroke="#2a2a2a" stroke-width="0.75" stroke-linejoin="round"/>
<path d="M1536.2,1671.5 1539.3,1671.2 1542.7,1671.2 1546.0,1671.2 1549.9,1674.0 1553.7,1676.7 1557.4,1680.9 1556.8,1683.6 1556.2,1686.4 1557.1,1690.5 1558.0,1693.8 1558.7,1697.1 1554.7,1699.3 1552.6,1699.7 1550.5,1700.1 1546.6,1700.1 1544.4,1697.4 1543.3,1694.4 1541.1,1692.9 1538.8,1691.4 1537.7,1688.2 1536.5,1685.0 1537.6,1680.9 1538.7,1676.7Z" fill="#b2b2b6" stroke="#2a2a2a" stroke-width="0.75"/>
<path d="M1261.3,1542.1 1264.8,1542.1 1268.2,1542.1 1271.7,1542.1 1275.1,1542.1 1278.6,1542.1 1282.0,1542.1 1285.5,1542.1 1288.9,1542.1 1292.4,1542.1 1295.8,1542.1 1299.3,1542.1 1302.7,1542.1 1306.2,1542.1 1309.6,1542.1 1310.5,1541.2 1313.0,1542.2 1315.7,1543.3 1318.3,1544.3 1320.6,1545.4 1323.0,1546.5 1325.3,1547.6 1326.5,1549.0 1327.6,1550.3 1326.4,1553.0 1325.2,1555.6 1328.5,1555.3 1331.8,1554.9 1334.5,1553.9 1337.2,1552.9 1341.2,1551.0 1344.1,1551.0 1347.0,1551.0 1351.2,1547.2 1353.6,1545.6 1355.5,1546.3 1354.2,1549.4 1354.8,1551.7" fill="none" stroke="#2a2a2a" stroke-width="0.75"/>
<path d="M1559.5,1552.2 1559.8,1549.9 1562.1,1547.6 1564.0,1547.1 1565.9,1546.5 1568.7,1547.0 1570.1,1550.3 1567.2,1552.2 1566.5,1552.9 1568.0,1555.2 1571.5,1558.0 1572.3,1560.3 1573.1,1562.7 1574.8,1566.0 1576.4,1569.2 1573.9,1570.0 1571.3,1570.7 1569.2,1569.6 1567.1,1568.5 1566.4,1566.3 1566.5,1562.0 1564.0,1558.4 1561.3,1555.6Z M1312.3,1547.2 1315.9,1545.4 1319.5,1543.6 1321.7,1543.9 1323.9,1544.1 1326.2,1544.3 1325.2,1547.6 1323.0,1547.6 1320.9,1547.6 1318.0,1547.5 1315.2,1547.3Z M1314.5,1558.0 1319.0,1554.5 1320.5,1551.7 1322.0,1549.0 1323.3,1549.9 1324.2,1548.8 1321.0,1551.8 1317.7,1554.9Z M1324.3,1549.0 1327.0,1549.8 1329.6,1550.6 1327.5,1553.1 1325.4,1555.6 1324.5,1553.1Z M1322.4,1558.7 1325.4,1557.7 1328.4,1556.8 1331.4,1555.9 1328.0,1557.5 1325.2,1558.1Z" fill="#fff" stroke="#2a2a2a" stroke-width="0.75"/>
<text x="1073.0" y="1827.0" font-size="35" font-weight="bold" fill="#1a1a1a" stroke="#1a1a1a" stroke-width="1.6" stroke-linejoin="round">h</text>
<text x="1111.3" y="1831.5" font-size="17.5" fill="#a0a0a0" textLength="248.0" lengthAdjust="spacingAndGlyphs">Est. BA.2 prevalence last 60 d</text>
<rect x="1116.4" y="1840.4" width="14.2" height="14.2" fill="#fdfdd9" stroke="#444" stroke-width="1"/>
<text x="1123.5" y="1875.4" font-size="16.5" text-anchor="middle" fill="#333">0–1</text>
<rect x="1168.5" y="1840.4" width="14.2" height="14.2" fill="#eef3b2" stroke="#444" stroke-width="1"/>
<text x="1175.6" y="1875.4" font-size="16.5" text-anchor="middle" fill="#333">1–5</text>
<rect x="1220.6" y="1840.4" width="14.2" height="14.2" fill="#c7e6b3" stroke="#444" stroke-width="1"/>
<text x="1227.7" y="1875.4" font-size="16.5" text-anchor="middle" fill="#333">5–10</text>
<rect x="1272.7" y="1840.4" width="14.2" height="14.2" fill="#7fcdbb" stroke="#444" stroke-width="1"/>
<text x="1279.8" y="1875.4" font-size="16.5" text-anchor="middle" fill="#333">10–20</text>
<rect x="1324.8" y="1840.4" width="14.2" height="14.2" fill="#41b6c4" stroke="#444" stroke-width="1"/>
<text x="1331.9" y="1875.4" font-size="16.5" text-anchor="middle" fill="#333">20–35</text>
<rect x="1376.9" y="1840.4" width="14.2" height="14.2" fill="#1d91c0" stroke="#444" stroke-width="1"/>
<text x="1384.0" y="1875.4" font-size="16.5" text-anchor="middle" fill="#333">35–50</text>
<rect x="1429.0" y="1840.4" width="14.2" height="14.2" fill="#225ea8" stroke="#444" stroke-width="1"/>
<text x="1436.1" y="1875.4" font-size="16.5" text-anchor="middle" fill="#333">50–75</text>
<rect x="1481.1" y="1840.4" width="14.2" height="14.2" fill="#253494" stroke="#444" stroke-width="1"/>
<text x="1488.2" y="1875.4" font-size="16.5" text-anchor="middle" fill="#333">75–100</text>
<text x="1254.2" y="1899.1" font-size="16.5" text-anchor="middle" fill="#333">0%</text>
<line x1="1254.2" y1="1903.6" x2="1254.2" y2="1911.6" stroke="#888" stroke-width="1.5" />
<text x="1309.8" y="1899.1" font-size="16.5" text-anchor="middle" fill="#333">20%</text>
<line x1="1309.8" y1="1903.6" x2="1309.8" y2="1911.6" stroke="#888" stroke-width="1.5" />
<text x="1365.4" y="1899.1" font-size="16.5" text-anchor="middle" fill="#333">40%</text>
<line x1="1365.4" y1="1903.6" x2="1365.4" y2="1911.6" stroke="#888" stroke-width="1.5" />
<text x="1421.0" y="1899.1" font-size="16.5" text-anchor="middle" fill="#333">60%</text>
<line x1="1421.0" y1="1903.6" x2="1421.0" y2="1911.6" stroke="#888" stroke-width="1.5" />
<text x="1476.6" y="1899.1" font-size="16.5" text-anchor="middle" fill="#333">80%</text>
<line x1="1476.6" y1="1903.6" x2="1476.6" y2="1911.6" stroke="#888" stroke-width="1.5" />
<line x1="1254.2" y1="1911.6" x2="1521.2" y2="1911.6" stroke="#888" stroke-width="1.5" />
<line x1="1521.2" y1="1903.6" x2="1521.2" y2="1911.6" stroke="#888" stroke-width="1.5" />
<line x1="1121.4" y1="1925.5" x2="1541.0" y2="1925.5" stroke="#333" stroke-width="2" />
<line x1="1121.4" y1="2080.7" x2="1541.0" y2="2080.7" stroke="#333" stroke-width="2" />
<line x1="1121.4" y1="2235.2" x2="1541.0" y2="2235.2" stroke="#333" stroke-width="2" />
<line x1="1250.4" y1="1925.5" x2="1250.4" y2="2235.2" stroke="#555" stroke-width="1.4" />
<line x1="1246.2" y1="1940.8" x2="1254.2" y2="1940.8" stroke="#555" stroke-width="1.4" />
<text x="1239.4" y="1947.1" font-size="18.6" text-anchor="end" fill="#222">United States</text>
<circle cx="1261" cy="1940.8" r="11" fill="#eef3b2" stroke="#2d3d55" stroke-width="1"/>
<line x1="1246.2" y1="1971.9" x2="1254.2" y2="1971.9" stroke="#555" stroke-width="1.4" />
<text x="1239.4" y="1978.2" font-size="18.6" text-anchor="end" fill="#222">United Kingdom</text>
<circle cx="1290.1" cy="1971.9" r="11" fill="#7fcdbb" stroke="#2d3d55" stroke-width="1"/>
<line x1="1246.2" y1="2003.0" x2="1254.2" y2="2003.0" stroke="#555" stroke-width="1.4" />
<text x="1239.4" y="2009.3" font-size="18.6" text-anchor="end" fill="#222">Germany</text>
<circle cx="1308.8" cy="2003" r="11" fill="#7fcdbb" stroke="#2d3d55" stroke-width="1"/>
<line x1="1246.2" y1="2033.9" x2="1254.2" y2="2033.9" stroke="#555" stroke-width="1.4" />
<text x="1239.4" y="2040.2" font-size="18.6" text-anchor="end" fill="#222">Denmark</text>
<circle cx="1327.2" cy="2033.9" r="11" fill="#41b6c4" stroke="#2d3d55" stroke-width="1"/>
<line x1="1246.2" y1="2065.3" x2="1254.2" y2="2065.3" stroke="#555" stroke-width="1.4" />
<text x="1239.4" y="2071.6" font-size="18.6" text-anchor="end" fill="#222">Canada</text>
<circle cx="1268.5" cy="2065.3" r="11" fill="#c7e6b3" stroke="#2d3d55" stroke-width="1"/>
<line x1="1246.2" y1="2096.2" x2="1254.2" y2="2096.2" stroke="#555" stroke-width="1.4" />
<text x="1239.4" y="2102.5" font-size="18.6" text-anchor="end" fill="#222">France</text>
<circle cx="1288.4" cy="2096.2" r="11" fill="#7fcdbb" stroke="#2d3d55" stroke-width="1"/>
<line x1="1246.2" y1="2127.0" x2="1254.2" y2="2127.0" stroke="#555" stroke-width="1.4" />
<text x="1239.4" y="2133.3" font-size="18.6" text-anchor="end" fill="#222">Japan</text>
<circle cx="1257.2" cy="2127" r="11" fill="#eef3b2" stroke="#2d3d55" stroke-width="1"/>
<line x1="1246.2" y1="2158.1" x2="1254.2" y2="2158.1" stroke="#555" stroke-width="1.4" />
<text x="1239.4" y="2164.4" font-size="18.6" text-anchor="end" fill="#222">Sweden</text>
<circle cx="1277.4" cy="2158.1" r="11" fill="#c7e6b3" stroke="#2d3d55" stroke-width="1"/>
<line x1="1246.2" y1="2189.0" x2="1254.2" y2="2189.0" stroke="#555" stroke-width="1.4" />
<text x="1239.4" y="2195.3" font-size="18.6" text-anchor="end" fill="#222">India</text>
<circle cx="1279.5" cy="2189" r="11" fill="#c7e6b3" stroke="#2d3d55" stroke-width="1"/>
<line x1="1246.2" y1="2220.1" x2="1254.2" y2="2220.1" stroke="#555" stroke-width="1.4" />
<text x="1239.4" y="2226.4" font-size="18.6" text-anchor="end" fill="#222">Brazil</text>
<circle cx="1256.3" cy="2220.1" r="11" fill="#fdfdd9" stroke="#2d3d55" stroke-width="1"/>
<rect x="1563.0" y="1851.4" width="13.9" height="13.1" fill="#c9509d" />
<text x="1580.2" y="1863.3" font-size="17.5" fill="#222" textLength="183.0" lengthAdjust="spacingAndGlyphs">BA.2-positive samples</text>
<rect x="1773.0" y="1851.4" width="13.4" height="13.1" fill="#f2c9df" />
<text x="1791.9" y="1863.3" font-size="17.5" fill="#222" textLength="192.0" lengthAdjust="spacingAndGlyphs">All sequenced samples</text>
<text x="1730.2" y="1897.6" font-size="16.5" text-anchor="middle" fill="#333">1</text>
<text x="1797.5" y="1897.6" font-size="16.5" text-anchor="middle" fill="#333">100k</text>
<line x1="1730.2" y1="1910.2" x2="1812.0" y2="1910.2" stroke="#888" stroke-width="1.5" />
<line x1="1730.2" y1="1901.8" x2="1730.2" y2="1910.2" stroke="#888" stroke-width="1.5" />
<line x1="1793.2" y1="1901.8" x2="1793.2" y2="1910.2" stroke="#888" stroke-width="1.5" />
<line x1="1601.6" y1="1924.0" x2="1921.7" y2="1924.0" stroke="#333" stroke-width="2" />
<line x1="1601.6" y1="2079.3" x2="1921.7" y2="2079.3" stroke="#333" stroke-width="2" />
<line x1="1601.6" y1="2234.6" x2="1921.7" y2="2234.6" stroke="#333" stroke-width="2" />
<line x1="1726.4" y1="1924.0" x2="1726.4" y2="2237.0" stroke="#444" stroke-width="1.4" />
<rect x="1730.2" y="1928.3" width="81.1" height="23.2" fill="#f2c9df" />
<rect x="1730.2" y="1928.3" width="2.0" height="23.2" fill="#c9509d" />
<line x1="1721.5" y1="1939.9" x2="1730.2" y2="1939.9" stroke="#444" stroke-width="1.4" />
<text x="1715.0" y="1946.2" font-size="18.6" text-anchor="end" fill="#222">United States</text>
<text x="1817.1" y="1945.9" font-size="17" font-weight="bold" fill="#858585" textLength="160.0" lengthAdjust="spacingAndGlyphs">88,138/3,309,355</text>
<rect x="1730.2" y="1959.3" width="80.1" height="23.2" fill="#f2c9df" />
<rect x="1730.2" y="1959.3" width="10.3" height="23.2" fill="#c9509d" />
<line x1="1721.5" y1="1970.9" x2="1730.2" y2="1970.9" stroke="#444" stroke-width="1.4" />
<text x="1715.0" y="1977.2" font-size="18.6" text-anchor="end" fill="#222">United Kingdom</text>
<text x="1813.3" y="1976.9" font-size="17" font-weight="bold" fill="#858585" textLength="166.0" lengthAdjust="spacingAndGlyphs">350,175/2,682,881</text>
<rect x="1730.2" y="1990.3" width="72.3" height="23.2" fill="#f2c9df" />
<rect x="1730.2" y="1990.3" width="14.1" height="23.2" fill="#c9509d" />
<line x1="1721.5" y1="2001.9" x2="1730.2" y2="2001.9" stroke="#444" stroke-width="1.4" />
<text x="1715.0" y="2008.2" font-size="18.6" text-anchor="end" fill="#222">Germany</text>
<text x="1805.8" y="2007.9" font-size="17" font-weight="bold" fill="#858585" textLength="155.0" lengthAdjust="spacingAndGlyphs">124,987/630,906</text>
<rect x="1730.2" y="2021.3" width="70.8" height="23.2" fill="#f2c9df" />
<rect x="1730.2" y="2021.3" width="18.6" height="23.2" fill="#c9509d" />
<line x1="1721.5" y1="2032.9" x2="1730.2" y2="2032.9" stroke="#444" stroke-width="1.4" />
<text x="1715.0" y="2039.2" font-size="18.6" text-anchor="end" fill="#222">Denmark</text>
<text x="1804.3" y="2038.9" font-size="17" font-weight="bold" fill="#858585" textLength="154.0" lengthAdjust="spacingAndGlyphs">134,090/507,915</text>
<rect x="1730.2" y="2052.3" width="68.8" height="23.2" fill="#f2c9df" />
<rect x="1730.2" y="2052.3" width="3.2" height="23.2" fill="#c9509d" />
<line x1="1721.5" y1="2063.9" x2="1730.2" y2="2063.9" stroke="#444" stroke-width="1.4" />
<text x="1715.0" y="2070.2" font-size="18.6" text-anchor="end" fill="#222">Canada</text>
<text x="1802.5" y="2069.9" font-size="17" font-weight="bold" fill="#858585" textLength="138.0" lengthAdjust="spacingAndGlyphs">18,741/358,386</text>
<rect x="1730.2" y="2083.4" width="68.5" height="23.2" fill="#f2c9df" />
<rect x="1730.2" y="2083.4" width="8.3" height="23.2" fill="#c9509d" />
<line x1="1721.5" y1="2095.0" x2="1730.2" y2="2095.0" stroke="#444" stroke-width="1.4" />
<text x="1715.0" y="2101.3" font-size="18.6" text-anchor="end" fill="#222">France</text>
<text x="1802.0" y="2101.0" font-size="17" font-weight="bold" fill="#858585" textLength="144.0" lengthAdjust="spacingAndGlyphs">40,288/325,014</text>
<rect x="1730.2" y="2114.4" width="67.3" height="23.2" fill="#f2c9df" />
<rect x="1730.2" y="2114.4" width="1.0" height="23.2" fill="#c9509d" />
<line x1="1721.5" y1="2126.0" x2="1730.2" y2="2126.0" stroke="#444" stroke-width="1.4" />
<text x="1715.0" y="2132.3" font-size="18.6" text-anchor="end" fill="#222">Japan</text>
<text x="1801.0" y="2132.0" font-size="17" font-weight="bold" fill="#858585" textLength="132.0" lengthAdjust="spacingAndGlyphs">2,960/266,918</text>
<rect x="1730.2" y="2145.4" width="65.5" height="23.2" fill="#f2c9df" />
<rect x="1730.2" y="2145.4" width="5.2" height="23.2" fill="#c9509d" />
<line x1="1721.5" y1="2157.0" x2="1730.2" y2="2157.0" stroke="#444" stroke-width="1.4" />
<text x="1715.0" y="2163.3" font-size="18.6" text-anchor="end" fill="#222">Sweden</text>
<text x="1799.0" y="2163.0" font-size="17" font-weight="bold" fill="#858585" textLength="141.0" lengthAdjust="spacingAndGlyphs">16,209/190,427</text>
<rect x="1730.2" y="2176.4" width="65.2" height="23.2" fill="#f2c9df" />
<rect x="1730.2" y="2176.4" width="5.8" height="23.2" fill="#c9509d" />
<line x1="1721.5" y1="2188.0" x2="1730.2" y2="2188.0" stroke="#444" stroke-width="1.4" />
<text x="1715.0" y="2194.3" font-size="18.6" text-anchor="end" fill="#222">India</text>
<text x="1798.5" y="2194.0" font-size="17" font-weight="bold" fill="#858585" textLength="139.0" lengthAdjust="spacingAndGlyphs">16,726/180,359</text>
<rect x="1730.2" y="2207.4" width="64.2" height="23.2" fill="#f2c9df" />
<rect x="1730.2" y="2207.4" width="0.8" height="23.2" fill="#c9509d" />
<line x1="1721.5" y1="2219.0" x2="1730.2" y2="2219.0" stroke="#444" stroke-width="1.4" />
<text x="1715.0" y="2225.3" font-size="18.6" text-anchor="end" fill="#222">Brazil</text>
<text x="1797.5" y="2225.0" font-size="17" font-weight="bold" fill="#858585" textLength="126.0" lengthAdjust="spacingAndGlyphs">1,225/142,489</text>
<rect x="1100.0" y="2251.0" width="836.2" height="306.1" fill="#f8f9f9" />
<text x="1073.5" y="2282.8" font-size="35" font-weight="bold" fill="#1a1a1a" stroke="#1a1a1a" stroke-width="1.6" stroke-linejoin="round">i</text>
<text x="1113.2" y="2283.9" font-size="30" fill="#2c3e55" textLength="429.6" lengthAdjust="spacingAndGlyphs">BA.2 Publications &amp; Resources</text>
<text x="1575.7" y="2288.3" font-size="24" fill="#d13b5f" textLength="125.0" lengthAdjust="spacingAndGlyphs">146 results</text>
<rect x="1776" y="2257.6" width="143.2" height="43.8" rx="4" fill="#fff" stroke="#2d6ca6" stroke-width="1.8"/>
<text x="1783.0" y="2286.6" font-size="20" fill="#2d6ca6" textLength="89.0" lengthAdjust="spacingAndGlyphs">10 results</text>
<path d="M1895,2276 L1902,2285 L1909,2276" fill="none" stroke="#1d5f99" stroke-width="3.5"/>
<text x="1113.2" y="2341.5" font-size="20.5" fill="#e05656" textLength="104.3" lengthAdjust="spacingAndGlyphs">Publication</text>
<text x="1229.0" y="2341.5" font-size="20.5" fill="#4b7fc6" textLength="682.0" lengthAdjust="spacingAndGlyphs">A robust, highly multiplexed mass spectrometry assay to identify SARS-</text>
<text x="1229" y="2364.5" font-size="20.5" textLength="648.5" lengthAdjust="spacingAndGlyphs"><tspan fill="#4b7fc6">CoV-2 variants </tspan><tspan fill="#222" font-weight="bold"> Matthew M. Hernandez et al. </tspan><tspan fill="#222" font-style="italic" text-decoration="underline">medRxiv</tspan><tspan fill="#222"> 29 May 2022</tspan></text>
<text x="1113.2" y="2407.3" font-size="20.5" fill="#e05656" textLength="104.3" lengthAdjust="spacingAndGlyphs">Publication</text>
<text x="1229.0" y="2407.3" font-size="20.5" fill="#4b7fc6" textLength="626.0" lengthAdjust="spacingAndGlyphs">Effective antiviral regimens to reduce COVID-19 hospitalizations: a</text>
<text x="1229" y="2430" font-size="20.5" textLength="682" lengthAdjust="spacingAndGlyphs"><tspan fill="#4b7fc6">systematic comparison of randomized controlled trials </tspan><tspan fill="#222" font-weight="bold"> David J Sullivan</tspan></text>
<text x="1229" y="2452.9" font-size="20.5" textLength="261" lengthAdjust="spacingAndGlyphs"><tspan fill="#222" font-weight="bold">et al. </tspan><tspan fill="#222" font-style="italic" text-decoration="underline">medRxiv</tspan><tspan fill="#222"> 27 May 2022</tspan></text>
<text x="1113.2" y="2496.2" font-size="20.5" fill="#e05656" textLength="104.3" lengthAdjust="spacingAndGlyphs">Publication</text>
<text x="1229.0" y="2496.2" font-size="20.5" fill="#4b7fc6" textLength="680.0" lengthAdjust="spacingAndGlyphs">Spike mutation resilient scFv76 antibody counteracts SARS-CoV-2 lung</text>
<text x="1229" y="2518.7" font-size="20.5" textLength="572" lengthAdjust="spacingAndGlyphs"><tspan fill="#4b7fc6">damage upon aerosol delivery </tspan><tspan fill="#222" font-weight="bold"> Ferdinando Maria Milazzo et</tspan></text>
<text x="1229" y="2541.7" font-size="20.5" textLength="223" lengthAdjust="spacingAndGlyphs"><tspan fill="#222" font-weight="bold">al. </tspan><tspan fill="#222" font-style="italic" text-decoration="underline">bioRxiv</tspan><tspan fill="#222"> 27 May 2022</tspan></text>
</svg>
</body></html>
